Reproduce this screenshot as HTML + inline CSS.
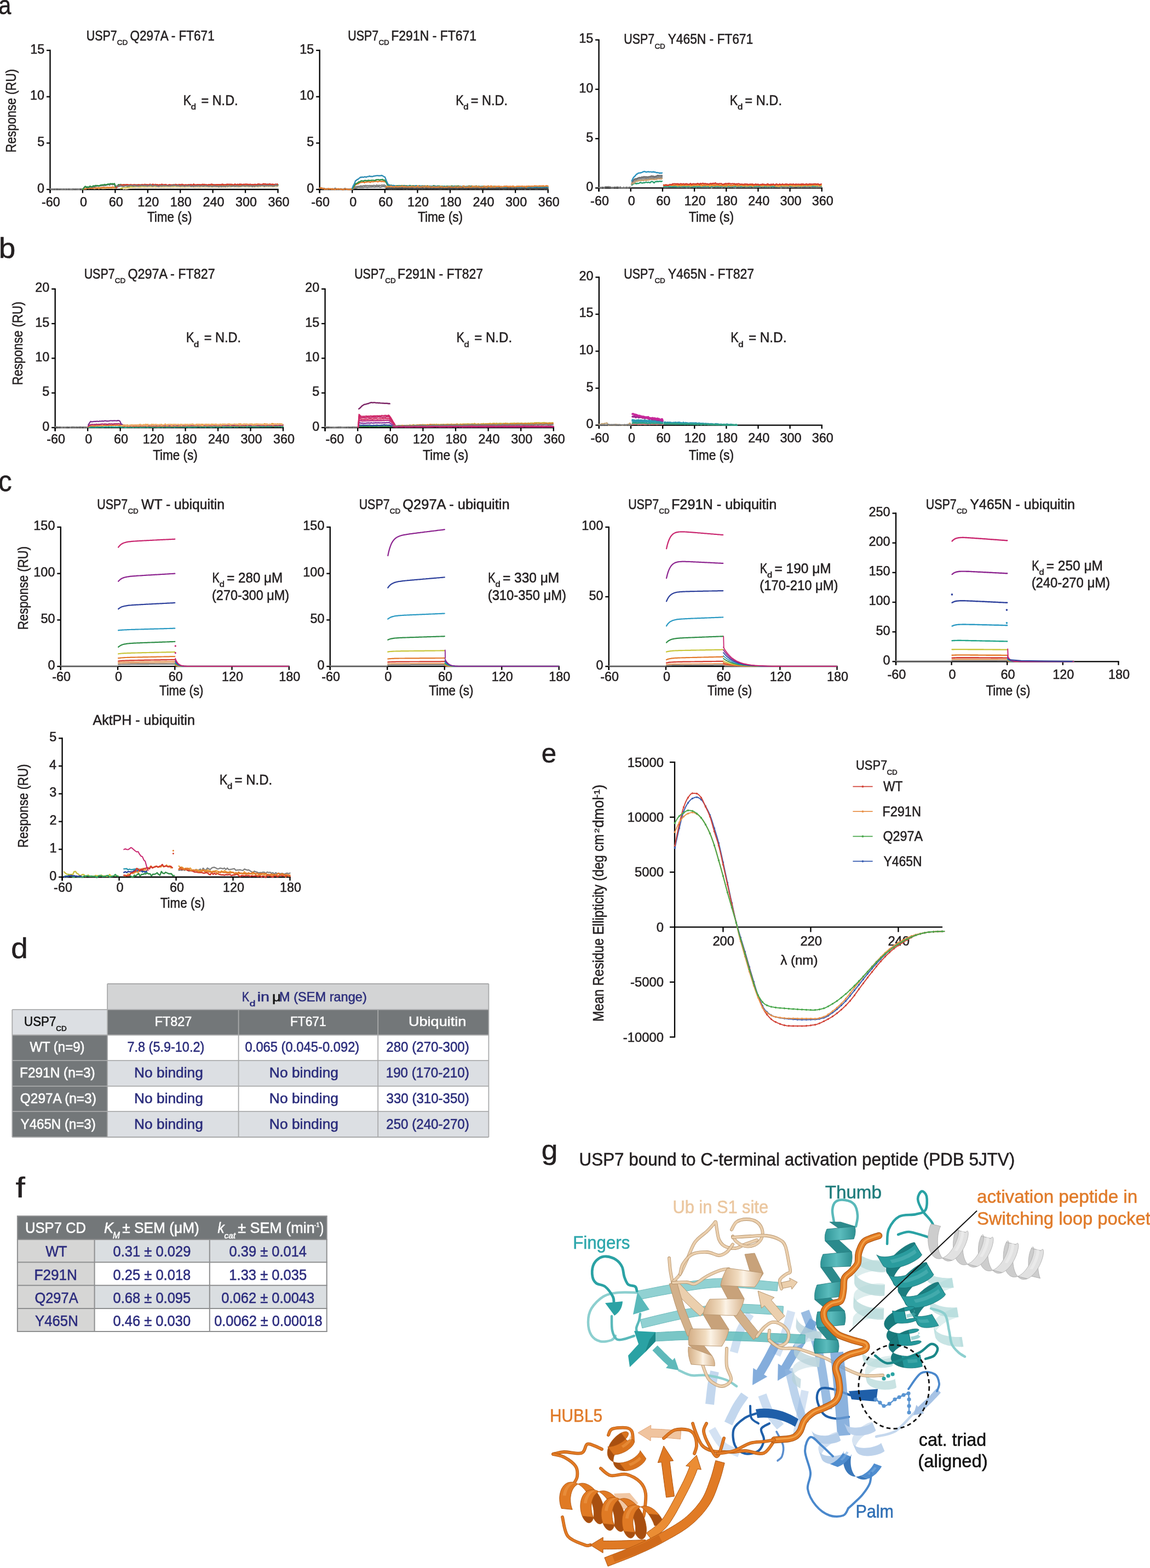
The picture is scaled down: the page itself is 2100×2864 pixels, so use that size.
<!DOCTYPE html><html><head><meta charset="utf-8"><style>html,body{margin:0;padding:0;background:#fff;}svg{display:block;}</style></head><body><svg width="2100" height="2864" viewBox="0 0 2100 2864" font-family="Liberation Sans, Arial, sans-serif">
<rect width="2100" height="2864" fill="#fff"/>
<text x="-2.76" y="26.20" font-size="49.00" textLength="23.06" lengthAdjust="spacingAndGlyphs" fill="#231f20" stroke="#231f20" stroke-width="0.55">a</text>
<text x="-2.24" y="471.00" font-size="52.00" textLength="30.55" lengthAdjust="spacingAndGlyphs" fill="#231f20" stroke="#231f20" stroke-width="0.55">b</text>
<text x="-3.10" y="897.00" font-size="51.00" textLength="24.70" lengthAdjust="spacingAndGlyphs" fill="#231f20" stroke="#231f20" stroke-width="0.55">c</text>
<text x="20.19" y="1749.60" font-size="52.70" textLength="30.55" lengthAdjust="spacingAndGlyphs" fill="#231f20" stroke="#231f20" stroke-width="0.55">d</text>
<text x="988.81" y="1393.40" font-size="50.00" textLength="27.38" lengthAdjust="spacingAndGlyphs" fill="#231f20" stroke="#231f20" stroke-width="0.55">e</text>
<text x="28.42" y="2187.00" font-size="52.00" textLength="17.29" lengthAdjust="spacingAndGlyphs" fill="#231f20" stroke="#231f20" stroke-width="0.55">f</text>
<text x="988.86" y="2117.50" font-size="50.00" textLength="29.68" lengthAdjust="spacingAndGlyphs" fill="#231f20" stroke="#231f20" stroke-width="0.55">g</text>
<line x1="91.50" y1="90.85" x2="91.50" y2="352.50" stroke="#000" stroke-width="2.3"/>
<line x1="90.35" y1="346.00" x2="508.65" y2="346.00" stroke="#000" stroke-width="2.3"/>
<line x1="85.00" y1="346.00" x2="91.50" y2="346.00" stroke="#000" stroke-width="2.3"/>
<text x="68.10" y="351.50" font-size="24.13" textLength="13.02" lengthAdjust="spacingAndGlyphs" fill="#231f20" stroke="#231f20" stroke-width="0.55">0</text>
<line x1="85.00" y1="261.33" x2="91.50" y2="261.33" stroke="#000" stroke-width="2.3"/>
<text x="68.17" y="266.83" font-size="24.13" textLength="13.02" lengthAdjust="spacingAndGlyphs" fill="#231f20" stroke="#231f20" stroke-width="0.55">5</text>
<line x1="85.00" y1="176.67" x2="91.50" y2="176.67" stroke="#000" stroke-width="2.3"/>
<text x="55.08" y="182.17" font-size="24.13" textLength="26.03" lengthAdjust="spacingAndGlyphs" fill="#231f20" stroke="#231f20" stroke-width="0.55">10</text>
<line x1="85.00" y1="92.00" x2="91.50" y2="92.00" stroke="#000" stroke-width="2.3"/>
<text x="55.15" y="97.50" font-size="24.13" textLength="26.03" lengthAdjust="spacingAndGlyphs" fill="#231f20" stroke="#231f20" stroke-width="0.55">15</text>
<line x1="91.50" y1="346.00" x2="91.50" y2="352.50" stroke="#000" stroke-width="2.3"/>
<text x="76.02" y="376.50" font-size="24.13" textLength="33.83" lengthAdjust="spacingAndGlyphs" fill="#231f20" stroke="#231f20" stroke-width="0.55">-60</text>
<line x1="150.93" y1="346.00" x2="150.93" y2="352.50" stroke="#000" stroke-width="2.3"/>
<text x="145.92" y="376.50" font-size="24.13" textLength="13.02" lengthAdjust="spacingAndGlyphs" fill="#231f20" stroke="#231f20" stroke-width="0.55">0</text>
<line x1="210.36" y1="346.00" x2="210.36" y2="352.50" stroke="#000" stroke-width="2.3"/>
<text x="198.70" y="376.50" font-size="24.13" textLength="26.03" lengthAdjust="spacingAndGlyphs" fill="#231f20" stroke="#231f20" stroke-width="0.55">60</text>
<line x1="269.79" y1="346.00" x2="269.79" y2="352.50" stroke="#000" stroke-width="2.3"/>
<text x="251.33" y="376.50" font-size="24.13" textLength="39.05" lengthAdjust="spacingAndGlyphs" fill="#231f20" stroke="#231f20" stroke-width="0.55">120</text>
<line x1="329.21" y1="346.00" x2="329.21" y2="352.50" stroke="#000" stroke-width="2.3"/>
<text x="310.76" y="376.50" font-size="24.13" textLength="39.05" lengthAdjust="spacingAndGlyphs" fill="#231f20" stroke="#231f20" stroke-width="0.55">180</text>
<line x1="388.64" y1="346.00" x2="388.64" y2="352.50" stroke="#000" stroke-width="2.3"/>
<text x="370.49" y="376.50" font-size="24.13" textLength="39.05" lengthAdjust="spacingAndGlyphs" fill="#231f20" stroke="#231f20" stroke-width="0.55">240</text>
<line x1="448.07" y1="346.00" x2="448.07" y2="352.50" stroke="#000" stroke-width="2.3"/>
<text x="430.06" y="376.50" font-size="24.13" textLength="39.05" lengthAdjust="spacingAndGlyphs" fill="#231f20" stroke="#231f20" stroke-width="0.55">300</text>
<line x1="507.50" y1="346.00" x2="507.50" y2="352.50" stroke="#000" stroke-width="2.3"/>
<text x="489.49" y="376.50" font-size="24.13" textLength="39.05" lengthAdjust="spacingAndGlyphs" fill="#231f20" stroke="#231f20" stroke-width="0.55">360</text>
<line x1="583.70" y1="90.85" x2="583.70" y2="352.50" stroke="#000" stroke-width="2.3"/>
<line x1="582.55" y1="346.00" x2="1001.85" y2="346.00" stroke="#000" stroke-width="2.3"/>
<line x1="577.20" y1="346.00" x2="583.70" y2="346.00" stroke="#000" stroke-width="2.3"/>
<text x="560.30" y="351.50" font-size="24.13" textLength="13.02" lengthAdjust="spacingAndGlyphs" fill="#231f20" stroke="#231f20" stroke-width="0.55">0</text>
<line x1="577.20" y1="261.33" x2="583.70" y2="261.33" stroke="#000" stroke-width="2.3"/>
<text x="560.37" y="266.83" font-size="24.13" textLength="13.02" lengthAdjust="spacingAndGlyphs" fill="#231f20" stroke="#231f20" stroke-width="0.55">5</text>
<line x1="577.20" y1="176.67" x2="583.70" y2="176.67" stroke="#000" stroke-width="2.3"/>
<text x="547.28" y="182.17" font-size="24.13" textLength="26.03" lengthAdjust="spacingAndGlyphs" fill="#231f20" stroke="#231f20" stroke-width="0.55">10</text>
<line x1="577.20" y1="92.00" x2="583.70" y2="92.00" stroke="#000" stroke-width="2.3"/>
<text x="547.35" y="97.50" font-size="24.13" textLength="26.03" lengthAdjust="spacingAndGlyphs" fill="#231f20" stroke="#231f20" stroke-width="0.55">15</text>
<line x1="583.70" y1="346.00" x2="583.70" y2="352.50" stroke="#000" stroke-width="2.3"/>
<text x="568.22" y="376.50" font-size="24.13" textLength="33.83" lengthAdjust="spacingAndGlyphs" fill="#231f20" stroke="#231f20" stroke-width="0.55">-60</text>
<line x1="643.27" y1="346.00" x2="643.27" y2="352.50" stroke="#000" stroke-width="2.3"/>
<text x="638.26" y="376.50" font-size="24.13" textLength="13.02" lengthAdjust="spacingAndGlyphs" fill="#231f20" stroke="#231f20" stroke-width="0.55">0</text>
<line x1="702.84" y1="346.00" x2="702.84" y2="352.50" stroke="#000" stroke-width="2.3"/>
<text x="691.19" y="376.50" font-size="24.13" textLength="26.03" lengthAdjust="spacingAndGlyphs" fill="#231f20" stroke="#231f20" stroke-width="0.55">60</text>
<line x1="762.41" y1="346.00" x2="762.41" y2="352.50" stroke="#000" stroke-width="2.3"/>
<text x="743.96" y="376.50" font-size="24.13" textLength="39.05" lengthAdjust="spacingAndGlyphs" fill="#231f20" stroke="#231f20" stroke-width="0.55">120</text>
<line x1="821.99" y1="346.00" x2="821.99" y2="352.50" stroke="#000" stroke-width="2.3"/>
<text x="803.53" y="376.50" font-size="24.13" textLength="39.05" lengthAdjust="spacingAndGlyphs" fill="#231f20" stroke="#231f20" stroke-width="0.55">180</text>
<line x1="881.56" y1="346.00" x2="881.56" y2="352.50" stroke="#000" stroke-width="2.3"/>
<text x="863.40" y="376.50" font-size="24.13" textLength="39.05" lengthAdjust="spacingAndGlyphs" fill="#231f20" stroke="#231f20" stroke-width="0.55">240</text>
<line x1="941.13" y1="346.00" x2="941.13" y2="352.50" stroke="#000" stroke-width="2.3"/>
<text x="923.12" y="376.50" font-size="24.13" textLength="39.05" lengthAdjust="spacingAndGlyphs" fill="#231f20" stroke="#231f20" stroke-width="0.55">300</text>
<line x1="1000.70" y1="346.00" x2="1000.70" y2="352.50" stroke="#000" stroke-width="2.3"/>
<text x="982.69" y="376.50" font-size="24.13" textLength="39.05" lengthAdjust="spacingAndGlyphs" fill="#231f20" stroke="#231f20" stroke-width="0.55">360</text>
<line x1="1093.60" y1="71.75" x2="1093.60" y2="349.90" stroke="#000" stroke-width="2.3"/>
<line x1="1092.45" y1="343.40" x2="1501.85" y2="343.40" stroke="#000" stroke-width="2.3"/>
<line x1="1087.10" y1="343.40" x2="1093.60" y2="343.40" stroke="#000" stroke-width="2.3"/>
<text x="1070.20" y="348.90" font-size="24.13" textLength="13.02" lengthAdjust="spacingAndGlyphs" fill="#231f20" stroke="#231f20" stroke-width="0.55">0</text>
<line x1="1087.10" y1="253.23" x2="1093.60" y2="253.23" stroke="#000" stroke-width="2.3"/>
<text x="1070.27" y="258.73" font-size="24.13" textLength="13.02" lengthAdjust="spacingAndGlyphs" fill="#231f20" stroke="#231f20" stroke-width="0.55">5</text>
<line x1="1087.10" y1="163.07" x2="1093.60" y2="163.07" stroke="#000" stroke-width="2.3"/>
<text x="1057.18" y="168.57" font-size="24.13" textLength="26.03" lengthAdjust="spacingAndGlyphs" fill="#231f20" stroke="#231f20" stroke-width="0.55">10</text>
<line x1="1087.10" y1="72.90" x2="1093.60" y2="72.90" stroke="#000" stroke-width="2.3"/>
<text x="1057.25" y="78.40" font-size="24.13" textLength="26.03" lengthAdjust="spacingAndGlyphs" fill="#231f20" stroke="#231f20" stroke-width="0.55">15</text>
<line x1="1093.60" y1="343.40" x2="1093.60" y2="349.90" stroke="#000" stroke-width="2.3"/>
<text x="1078.12" y="374.50" font-size="24.13" textLength="33.83" lengthAdjust="spacingAndGlyphs" fill="#231f20" stroke="#231f20" stroke-width="0.55">-60</text>
<line x1="1151.76" y1="343.40" x2="1151.76" y2="349.90" stroke="#000" stroke-width="2.3"/>
<text x="1146.75" y="374.50" font-size="24.13" textLength="13.02" lengthAdjust="spacingAndGlyphs" fill="#231f20" stroke="#231f20" stroke-width="0.55">0</text>
<line x1="1209.91" y1="343.40" x2="1209.91" y2="349.90" stroke="#000" stroke-width="2.3"/>
<text x="1198.26" y="374.50" font-size="24.13" textLength="26.03" lengthAdjust="spacingAndGlyphs" fill="#231f20" stroke="#231f20" stroke-width="0.55">60</text>
<line x1="1268.07" y1="343.40" x2="1268.07" y2="349.90" stroke="#000" stroke-width="2.3"/>
<text x="1249.61" y="374.50" font-size="24.13" textLength="39.05" lengthAdjust="spacingAndGlyphs" fill="#231f20" stroke="#231f20" stroke-width="0.55">120</text>
<line x1="1326.23" y1="343.40" x2="1326.23" y2="349.90" stroke="#000" stroke-width="2.3"/>
<text x="1307.77" y="374.50" font-size="24.13" textLength="39.05" lengthAdjust="spacingAndGlyphs" fill="#231f20" stroke="#231f20" stroke-width="0.55">180</text>
<line x1="1384.39" y1="343.40" x2="1384.39" y2="349.90" stroke="#000" stroke-width="2.3"/>
<text x="1366.23" y="374.50" font-size="24.13" textLength="39.05" lengthAdjust="spacingAndGlyphs" fill="#231f20" stroke="#231f20" stroke-width="0.55">240</text>
<line x1="1442.54" y1="343.40" x2="1442.54" y2="349.90" stroke="#000" stroke-width="2.3"/>
<text x="1424.53" y="374.50" font-size="24.13" textLength="39.05" lengthAdjust="spacingAndGlyphs" fill="#231f20" stroke="#231f20" stroke-width="0.55">300</text>
<line x1="1500.70" y1="343.40" x2="1500.70" y2="349.90" stroke="#000" stroke-width="2.3"/>
<text x="1482.69" y="374.50" font-size="24.13" textLength="39.05" lengthAdjust="spacingAndGlyphs" fill="#231f20" stroke="#231f20" stroke-width="0.55">360</text>
<text x="157.75" y="73.60" font-size="25.00" textLength="55.93" lengthAdjust="spacingAndGlyphs" fill="#231f20" stroke="#231f20" stroke-width="0.55">USP7</text>
<text x="213.82" y="81.80" font-size="13.23" textLength="19.43" lengthAdjust="spacingAndGlyphs" fill="#231f20" stroke="#231f20" stroke-width="0.55">CD</text>
<text x="237.54" y="73.60" font-size="25.00" textLength="154.15" lengthAdjust="spacingAndGlyphs" fill="#231f20" stroke="#231f20" stroke-width="0.55">Q297A - FT671</text>
<text x="635.35" y="74.00" font-size="25.00" textLength="55.93" lengthAdjust="spacingAndGlyphs" fill="#231f20" stroke="#231f20" stroke-width="0.55">USP7</text>
<text x="691.42" y="82.20" font-size="13.23" textLength="19.43" lengthAdjust="spacingAndGlyphs" fill="#231f20" stroke="#231f20" stroke-width="0.55">CD</text>
<text x="714.31" y="74.00" font-size="25.00" textLength="155.81" lengthAdjust="spacingAndGlyphs" fill="#231f20" stroke="#231f20" stroke-width="0.55">F291N - FT671</text>
<text x="1139.35" y="80.30" font-size="25.00" textLength="55.93" lengthAdjust="spacingAndGlyphs" fill="#231f20" stroke="#231f20" stroke-width="0.55">USP7</text>
<text x="1195.42" y="88.50" font-size="13.23" textLength="19.43" lengthAdjust="spacingAndGlyphs" fill="#231f20" stroke="#231f20" stroke-width="0.55">CD</text>
<text x="1219.70" y="80.30" font-size="25.00" textLength="155.41" lengthAdjust="spacingAndGlyphs" fill="#231f20" stroke="#231f20" stroke-width="0.55">Y465N - FT671</text>
<text x="334.71" y="191.50" font-size="25.44" textLength="14.53" lengthAdjust="spacingAndGlyphs" fill="#231f20" stroke="#231f20" stroke-width="0.55">K</text>
<text x="348.80" y="200.30" font-size="15.41" textLength="9.28" lengthAdjust="spacingAndGlyphs" fill="#231f20" stroke="#231f20" stroke-width="0.55">d</text>
<text x="367.45" y="191.50" font-size="25.44" textLength="67.19" lengthAdjust="spacingAndGlyphs" fill="#231f20" stroke="#231f20" stroke-width="0.55">= N.D.</text>
<text x="832.21" y="191.50" font-size="25.44" textLength="14.53" lengthAdjust="spacingAndGlyphs" fill="#231f20" stroke="#231f20" stroke-width="0.55">K</text>
<text x="846.30" y="200.30" font-size="15.41" textLength="9.28" lengthAdjust="spacingAndGlyphs" fill="#231f20" stroke="#231f20" stroke-width="0.55">d</text>
<text x="859.75" y="191.50" font-size="25.44" textLength="67.40" lengthAdjust="spacingAndGlyphs" fill="#231f20" stroke="#231f20" stroke-width="0.55">= N.D.</text>
<text x="1332.81" y="191.50" font-size="25.44" textLength="14.53" lengthAdjust="spacingAndGlyphs" fill="#231f20" stroke="#231f20" stroke-width="0.55">K</text>
<text x="1346.90" y="200.30" font-size="15.41" textLength="9.28" lengthAdjust="spacingAndGlyphs" fill="#231f20" stroke="#231f20" stroke-width="0.55">d</text>
<text x="1360.35" y="191.50" font-size="25.44" textLength="67.61" lengthAdjust="spacingAndGlyphs" fill="#231f20" stroke="#231f20" stroke-width="0.55">= N.D.</text>
<text x="269.00" y="405.00" font-size="25.29" textLength="81.38" lengthAdjust="spacingAndGlyphs" fill="#231f20" stroke="#231f20" stroke-width="0.55">Time (s)</text>
<text x="762.90" y="405.00" font-size="25.29" textLength="82.19" lengthAdjust="spacingAndGlyphs" fill="#231f20" stroke="#231f20" stroke-width="0.55">Time (s)</text>
<text x="1257.80" y="405.00" font-size="25.29" textLength="82.19" lengthAdjust="spacingAndGlyphs" fill="#231f20" stroke="#231f20" stroke-width="0.55">Time (s)</text>
<g transform="rotate(-90)"><text x="-278.41" y="29.40" font-size="26.16" textLength="152.28" lengthAdjust="spacingAndGlyphs" fill="#231f20" stroke="#231f20" stroke-width="0.55">Response (RU)</text></g>
<line x1="100.70" y1="526.65" x2="100.70" y2="787.50" stroke="#000" stroke-width="2.3"/>
<line x1="99.55" y1="781.00" x2="518.15" y2="781.00" stroke="#000" stroke-width="2.3"/>
<line x1="94.20" y1="781.00" x2="100.70" y2="781.00" stroke="#000" stroke-width="2.3"/>
<text x="77.30" y="786.50" font-size="24.13" textLength="13.02" lengthAdjust="spacingAndGlyphs" fill="#231f20" stroke="#231f20" stroke-width="0.55">0</text>
<line x1="94.20" y1="717.70" x2="100.70" y2="717.70" stroke="#000" stroke-width="2.3"/>
<text x="77.37" y="723.20" font-size="24.13" textLength="13.02" lengthAdjust="spacingAndGlyphs" fill="#231f20" stroke="#231f20" stroke-width="0.55">5</text>
<line x1="94.20" y1="654.40" x2="100.70" y2="654.40" stroke="#000" stroke-width="2.3"/>
<text x="64.28" y="659.90" font-size="24.13" textLength="26.03" lengthAdjust="spacingAndGlyphs" fill="#231f20" stroke="#231f20" stroke-width="0.55">10</text>
<line x1="94.20" y1="591.10" x2="100.70" y2="591.10" stroke="#000" stroke-width="2.3"/>
<text x="64.35" y="596.60" font-size="24.13" textLength="26.03" lengthAdjust="spacingAndGlyphs" fill="#231f20" stroke="#231f20" stroke-width="0.55">15</text>
<line x1="94.20" y1="527.80" x2="100.70" y2="527.80" stroke="#000" stroke-width="2.3"/>
<text x="64.28" y="533.30" font-size="24.13" textLength="26.03" lengthAdjust="spacingAndGlyphs" fill="#231f20" stroke="#231f20" stroke-width="0.55">20</text>
<line x1="100.70" y1="781.00" x2="100.70" y2="787.50" stroke="#000" stroke-width="2.3"/>
<text x="85.22" y="809.50" font-size="24.13" textLength="33.83" lengthAdjust="spacingAndGlyphs" fill="#231f20" stroke="#231f20" stroke-width="0.55">-60</text>
<line x1="160.17" y1="781.00" x2="160.17" y2="787.50" stroke="#000" stroke-width="2.3"/>
<text x="155.16" y="809.50" font-size="24.13" textLength="13.02" lengthAdjust="spacingAndGlyphs" fill="#231f20" stroke="#231f20" stroke-width="0.55">0</text>
<line x1="219.64" y1="781.00" x2="219.64" y2="787.50" stroke="#000" stroke-width="2.3"/>
<text x="207.99" y="809.50" font-size="24.13" textLength="26.03" lengthAdjust="spacingAndGlyphs" fill="#231f20" stroke="#231f20" stroke-width="0.55">60</text>
<line x1="279.11" y1="781.00" x2="279.11" y2="787.50" stroke="#000" stroke-width="2.3"/>
<text x="260.66" y="809.50" font-size="24.13" textLength="39.05" lengthAdjust="spacingAndGlyphs" fill="#231f20" stroke="#231f20" stroke-width="0.55">120</text>
<line x1="338.59" y1="781.00" x2="338.59" y2="787.50" stroke="#000" stroke-width="2.3"/>
<text x="320.13" y="809.50" font-size="24.13" textLength="39.05" lengthAdjust="spacingAndGlyphs" fill="#231f20" stroke="#231f20" stroke-width="0.55">180</text>
<line x1="398.06" y1="781.00" x2="398.06" y2="787.50" stroke="#000" stroke-width="2.3"/>
<text x="379.90" y="809.50" font-size="24.13" textLength="39.05" lengthAdjust="spacingAndGlyphs" fill="#231f20" stroke="#231f20" stroke-width="0.55">240</text>
<line x1="457.53" y1="781.00" x2="457.53" y2="787.50" stroke="#000" stroke-width="2.3"/>
<text x="439.52" y="809.50" font-size="24.13" textLength="39.05" lengthAdjust="spacingAndGlyphs" fill="#231f20" stroke="#231f20" stroke-width="0.55">300</text>
<line x1="517.00" y1="781.00" x2="517.00" y2="787.50" stroke="#000" stroke-width="2.3"/>
<text x="498.99" y="809.50" font-size="24.13" textLength="39.05" lengthAdjust="spacingAndGlyphs" fill="#231f20" stroke="#231f20" stroke-width="0.55">360</text>
<line x1="593.60" y1="526.65" x2="593.60" y2="787.50" stroke="#000" stroke-width="2.3"/>
<line x1="592.45" y1="781.00" x2="1011.95" y2="781.00" stroke="#000" stroke-width="2.3"/>
<line x1="587.10" y1="781.00" x2="593.60" y2="781.00" stroke="#000" stroke-width="2.3"/>
<text x="570.20" y="786.50" font-size="24.13" textLength="13.02" lengthAdjust="spacingAndGlyphs" fill="#231f20" stroke="#231f20" stroke-width="0.55">0</text>
<line x1="587.10" y1="717.70" x2="593.60" y2="717.70" stroke="#000" stroke-width="2.3"/>
<text x="570.27" y="723.20" font-size="24.13" textLength="13.02" lengthAdjust="spacingAndGlyphs" fill="#231f20" stroke="#231f20" stroke-width="0.55">5</text>
<line x1="587.10" y1="654.40" x2="593.60" y2="654.40" stroke="#000" stroke-width="2.3"/>
<text x="557.18" y="659.90" font-size="24.13" textLength="26.03" lengthAdjust="spacingAndGlyphs" fill="#231f20" stroke="#231f20" stroke-width="0.55">10</text>
<line x1="587.10" y1="591.10" x2="593.60" y2="591.10" stroke="#000" stroke-width="2.3"/>
<text x="557.25" y="596.60" font-size="24.13" textLength="26.03" lengthAdjust="spacingAndGlyphs" fill="#231f20" stroke="#231f20" stroke-width="0.55">15</text>
<line x1="587.10" y1="527.80" x2="593.60" y2="527.80" stroke="#000" stroke-width="2.3"/>
<text x="557.18" y="533.30" font-size="24.13" textLength="26.03" lengthAdjust="spacingAndGlyphs" fill="#231f20" stroke="#231f20" stroke-width="0.55">20</text>
<line x1="593.60" y1="781.00" x2="593.60" y2="787.50" stroke="#000" stroke-width="2.3"/>
<text x="594.52" y="809.50" font-size="24.13" textLength="33.83" lengthAdjust="spacingAndGlyphs" fill="#231f20" stroke="#231f20" stroke-width="0.55">-60</text>
<line x1="653.20" y1="781.00" x2="653.20" y2="787.50" stroke="#000" stroke-width="2.3"/>
<text x="648.19" y="809.50" font-size="24.13" textLength="13.02" lengthAdjust="spacingAndGlyphs" fill="#231f20" stroke="#231f20" stroke-width="0.55">0</text>
<line x1="712.80" y1="781.00" x2="712.80" y2="787.50" stroke="#000" stroke-width="2.3"/>
<text x="701.15" y="809.50" font-size="24.13" textLength="26.03" lengthAdjust="spacingAndGlyphs" fill="#231f20" stroke="#231f20" stroke-width="0.55">60</text>
<line x1="772.40" y1="781.00" x2="772.40" y2="787.50" stroke="#000" stroke-width="2.3"/>
<text x="753.94" y="809.50" font-size="24.13" textLength="39.05" lengthAdjust="spacingAndGlyphs" fill="#231f20" stroke="#231f20" stroke-width="0.55">120</text>
<line x1="832.00" y1="781.00" x2="832.00" y2="787.50" stroke="#000" stroke-width="2.3"/>
<text x="813.54" y="809.50" font-size="24.13" textLength="39.05" lengthAdjust="spacingAndGlyphs" fill="#231f20" stroke="#231f20" stroke-width="0.55">180</text>
<line x1="891.60" y1="781.00" x2="891.60" y2="787.50" stroke="#000" stroke-width="2.3"/>
<text x="873.44" y="809.50" font-size="24.13" textLength="39.05" lengthAdjust="spacingAndGlyphs" fill="#231f20" stroke="#231f20" stroke-width="0.55">240</text>
<line x1="951.20" y1="781.00" x2="951.20" y2="787.50" stroke="#000" stroke-width="2.3"/>
<text x="933.19" y="809.50" font-size="24.13" textLength="39.05" lengthAdjust="spacingAndGlyphs" fill="#231f20" stroke="#231f20" stroke-width="0.55">300</text>
<line x1="1010.80" y1="781.00" x2="1010.80" y2="787.50" stroke="#000" stroke-width="2.3"/>
<text x="992.79" y="809.50" font-size="24.13" textLength="39.05" lengthAdjust="spacingAndGlyphs" fill="#231f20" stroke="#231f20" stroke-width="0.55">360</text>
<line x1="1093.90" y1="505.25" x2="1093.90" y2="783.10" stroke="#000" stroke-width="2.3"/>
<line x1="1092.75" y1="776.60" x2="1501.85" y2="776.60" stroke="#000" stroke-width="2.3"/>
<line x1="1087.40" y1="776.60" x2="1093.90" y2="776.60" stroke="#000" stroke-width="2.3"/>
<text x="1070.50" y="782.10" font-size="24.13" textLength="13.02" lengthAdjust="spacingAndGlyphs" fill="#231f20" stroke="#231f20" stroke-width="0.55">0</text>
<line x1="1087.40" y1="709.05" x2="1093.90" y2="709.05" stroke="#000" stroke-width="2.3"/>
<text x="1070.57" y="714.55" font-size="24.13" textLength="13.02" lengthAdjust="spacingAndGlyphs" fill="#231f20" stroke="#231f20" stroke-width="0.55">5</text>
<line x1="1087.40" y1="641.50" x2="1093.90" y2="641.50" stroke="#000" stroke-width="2.3"/>
<text x="1057.48" y="647.00" font-size="24.13" textLength="26.03" lengthAdjust="spacingAndGlyphs" fill="#231f20" stroke="#231f20" stroke-width="0.55">10</text>
<line x1="1087.40" y1="573.95" x2="1093.90" y2="573.95" stroke="#000" stroke-width="2.3"/>
<text x="1057.55" y="579.45" font-size="24.13" textLength="26.03" lengthAdjust="spacingAndGlyphs" fill="#231f20" stroke="#231f20" stroke-width="0.55">15</text>
<line x1="1087.40" y1="506.40" x2="1093.90" y2="506.40" stroke="#000" stroke-width="2.3"/>
<text x="1057.48" y="511.90" font-size="24.13" textLength="26.03" lengthAdjust="spacingAndGlyphs" fill="#231f20" stroke="#231f20" stroke-width="0.55">20</text>
<line x1="1093.90" y1="776.60" x2="1093.90" y2="783.10" stroke="#000" stroke-width="2.3"/>
<text x="1078.42" y="808.00" font-size="24.13" textLength="33.83" lengthAdjust="spacingAndGlyphs" fill="#231f20" stroke="#231f20" stroke-width="0.55">-60</text>
<line x1="1152.01" y1="776.60" x2="1152.01" y2="783.10" stroke="#000" stroke-width="2.3"/>
<text x="1147.01" y="808.00" font-size="24.13" textLength="13.02" lengthAdjust="spacingAndGlyphs" fill="#231f20" stroke="#231f20" stroke-width="0.55">0</text>
<line x1="1210.13" y1="776.60" x2="1210.13" y2="783.10" stroke="#000" stroke-width="2.3"/>
<text x="1198.47" y="808.00" font-size="24.13" textLength="26.03" lengthAdjust="spacingAndGlyphs" fill="#231f20" stroke="#231f20" stroke-width="0.55">60</text>
<line x1="1268.24" y1="776.60" x2="1268.24" y2="783.10" stroke="#000" stroke-width="2.3"/>
<text x="1249.78" y="808.00" font-size="24.13" textLength="39.05" lengthAdjust="spacingAndGlyphs" fill="#231f20" stroke="#231f20" stroke-width="0.55">120</text>
<line x1="1326.36" y1="776.60" x2="1326.36" y2="783.10" stroke="#000" stroke-width="2.3"/>
<text x="1307.90" y="808.00" font-size="24.13" textLength="39.05" lengthAdjust="spacingAndGlyphs" fill="#231f20" stroke="#231f20" stroke-width="0.55">180</text>
<line x1="1384.47" y1="776.60" x2="1384.47" y2="783.10" stroke="#000" stroke-width="2.3"/>
<text x="1366.32" y="808.00" font-size="24.13" textLength="39.05" lengthAdjust="spacingAndGlyphs" fill="#231f20" stroke="#231f20" stroke-width="0.55">240</text>
<line x1="1442.59" y1="776.60" x2="1442.59" y2="783.10" stroke="#000" stroke-width="2.3"/>
<text x="1424.57" y="808.00" font-size="24.13" textLength="39.05" lengthAdjust="spacingAndGlyphs" fill="#231f20" stroke="#231f20" stroke-width="0.55">300</text>
<line x1="1500.70" y1="776.60" x2="1500.70" y2="783.10" stroke="#000" stroke-width="2.3"/>
<text x="1482.69" y="808.00" font-size="24.13" textLength="39.05" lengthAdjust="spacingAndGlyphs" fill="#231f20" stroke="#231f20" stroke-width="0.55">360</text>
<text x="153.65" y="508.80" font-size="25.00" textLength="55.93" lengthAdjust="spacingAndGlyphs" fill="#231f20" stroke="#231f20" stroke-width="0.55">USP7</text>
<text x="209.72" y="517.00" font-size="13.23" textLength="19.43" lengthAdjust="spacingAndGlyphs" fill="#231f20" stroke="#231f20" stroke-width="0.55">CD</text>
<text x="233.41" y="508.80" font-size="25.00" textLength="159.26" lengthAdjust="spacingAndGlyphs" fill="#231f20" stroke="#231f20" stroke-width="0.55">Q297A - FT827</text>
<text x="647.15" y="508.80" font-size="25.00" textLength="55.93" lengthAdjust="spacingAndGlyphs" fill="#231f20" stroke="#231f20" stroke-width="0.55">USP7</text>
<text x="703.22" y="517.00" font-size="13.23" textLength="19.43" lengthAdjust="spacingAndGlyphs" fill="#231f20" stroke="#231f20" stroke-width="0.55">CD</text>
<text x="726.11" y="508.80" font-size="25.00" textLength="156.05" lengthAdjust="spacingAndGlyphs" fill="#231f20" stroke="#231f20" stroke-width="0.55">F291N - FT827</text>
<text x="1139.35" y="508.80" font-size="25.00" textLength="55.93" lengthAdjust="spacingAndGlyphs" fill="#231f20" stroke="#231f20" stroke-width="0.55">USP7</text>
<text x="1195.42" y="517.00" font-size="13.23" textLength="19.43" lengthAdjust="spacingAndGlyphs" fill="#231f20" stroke="#231f20" stroke-width="0.55">CD</text>
<text x="1219.69" y="508.80" font-size="25.00" textLength="157.46" lengthAdjust="spacingAndGlyphs" fill="#231f20" stroke="#231f20" stroke-width="0.55">Y465N - FT827</text>
<text x="339.91" y="625.00" font-size="25.44" textLength="14.53" lengthAdjust="spacingAndGlyphs" fill="#231f20" stroke="#231f20" stroke-width="0.55">K</text>
<text x="354.00" y="633.80" font-size="15.41" textLength="9.28" lengthAdjust="spacingAndGlyphs" fill="#231f20" stroke="#231f20" stroke-width="0.55">d</text>
<text x="372.65" y="625.00" font-size="25.44" textLength="67.51" lengthAdjust="spacingAndGlyphs" fill="#231f20" stroke="#231f20" stroke-width="0.55">= N.D.</text>
<text x="833.51" y="625.00" font-size="25.44" textLength="14.53" lengthAdjust="spacingAndGlyphs" fill="#231f20" stroke="#231f20" stroke-width="0.55">K</text>
<text x="847.60" y="633.80" font-size="15.41" textLength="9.28" lengthAdjust="spacingAndGlyphs" fill="#231f20" stroke="#231f20" stroke-width="0.55">d</text>
<text x="866.22" y="625.00" font-size="25.44" textLength="68.87" lengthAdjust="spacingAndGlyphs" fill="#231f20" stroke="#231f20" stroke-width="0.55">= N.D.</text>
<text x="1334.21" y="625.00" font-size="25.44" textLength="14.53" lengthAdjust="spacingAndGlyphs" fill="#231f20" stroke="#231f20" stroke-width="0.55">K</text>
<text x="1348.30" y="633.80" font-size="15.41" textLength="9.28" lengthAdjust="spacingAndGlyphs" fill="#231f20" stroke="#231f20" stroke-width="0.55">d</text>
<text x="1366.91" y="625.00" font-size="25.44" textLength="69.50" lengthAdjust="spacingAndGlyphs" fill="#231f20" stroke="#231f20" stroke-width="0.55">= N.D.</text>
<text x="279.20" y="840.30" font-size="25.29" textLength="81.48" lengthAdjust="spacingAndGlyphs" fill="#231f20" stroke="#231f20" stroke-width="0.55">Time (s)</text>
<text x="771.99" y="840.30" font-size="25.29" textLength="83.32" lengthAdjust="spacingAndGlyphs" fill="#231f20" stroke="#231f20" stroke-width="0.55">Time (s)</text>
<text x="1257.80" y="840.30" font-size="25.29" textLength="82.19" lengthAdjust="spacingAndGlyphs" fill="#231f20" stroke="#231f20" stroke-width="0.55">Time (s)</text>
<g transform="rotate(-90)"><text x="-703.21" y="41.00" font-size="26.16" textLength="152.39" lengthAdjust="spacingAndGlyphs" fill="#231f20" stroke="#231f20" stroke-width="0.55">Response (RU)</text></g>
<line x1="110.80" y1="961.65" x2="110.80" y2="1223.70" stroke="#000" stroke-width="2.3"/>
<line x1="109.65" y1="1217.20" x2="528.95" y2="1217.20" stroke="#000" stroke-width="2.3"/>
<line x1="104.30" y1="1217.20" x2="110.80" y2="1217.20" stroke="#000" stroke-width="2.3"/>
<text x="87.40" y="1222.70" font-size="24.13" textLength="13.02" lengthAdjust="spacingAndGlyphs" fill="#231f20" stroke="#231f20" stroke-width="0.55">0</text>
<line x1="104.30" y1="1132.40" x2="110.80" y2="1132.40" stroke="#000" stroke-width="2.3"/>
<text x="74.38" y="1137.90" font-size="24.13" textLength="26.03" lengthAdjust="spacingAndGlyphs" fill="#231f20" stroke="#231f20" stroke-width="0.55">50</text>
<line x1="104.30" y1="1047.60" x2="110.80" y2="1047.60" stroke="#000" stroke-width="2.3"/>
<text x="61.36" y="1053.10" font-size="24.13" textLength="39.05" lengthAdjust="spacingAndGlyphs" fill="#231f20" stroke="#231f20" stroke-width="0.55">100</text>
<line x1="104.30" y1="962.80" x2="110.80" y2="962.80" stroke="#000" stroke-width="2.3"/>
<text x="61.36" y="968.30" font-size="24.13" textLength="39.05" lengthAdjust="spacingAndGlyphs" fill="#231f20" stroke="#231f20" stroke-width="0.55">150</text>
<line x1="110.80" y1="1217.20" x2="110.80" y2="1223.70" stroke="#000" stroke-width="2.3"/>
<text x="95.32" y="1243.50" font-size="24.13" textLength="33.83" lengthAdjust="spacingAndGlyphs" fill="#231f20" stroke="#231f20" stroke-width="0.55">-60</text>
<line x1="215.05" y1="1217.20" x2="215.05" y2="1223.70" stroke="#000" stroke-width="2.3"/>
<text x="210.04" y="1243.50" font-size="24.13" textLength="13.02" lengthAdjust="spacingAndGlyphs" fill="#231f20" stroke="#231f20" stroke-width="0.55">0</text>
<line x1="319.30" y1="1217.20" x2="319.30" y2="1223.70" stroke="#000" stroke-width="2.3"/>
<text x="307.65" y="1243.50" font-size="24.13" textLength="26.03" lengthAdjust="spacingAndGlyphs" fill="#231f20" stroke="#231f20" stroke-width="0.55">60</text>
<line x1="423.55" y1="1217.20" x2="423.55" y2="1223.70" stroke="#000" stroke-width="2.3"/>
<text x="405.09" y="1243.50" font-size="24.13" textLength="39.05" lengthAdjust="spacingAndGlyphs" fill="#231f20" stroke="#231f20" stroke-width="0.55">120</text>
<line x1="527.80" y1="1217.20" x2="527.80" y2="1223.70" stroke="#000" stroke-width="2.3"/>
<text x="509.34" y="1243.50" font-size="24.13" textLength="39.05" lengthAdjust="spacingAndGlyphs" fill="#231f20" stroke="#231f20" stroke-width="0.55">180</text>
<line x1="602.80" y1="961.65" x2="602.80" y2="1223.70" stroke="#000" stroke-width="2.3"/>
<line x1="601.65" y1="1217.20" x2="1021.85" y2="1217.20" stroke="#000" stroke-width="2.3"/>
<line x1="596.30" y1="1217.20" x2="602.80" y2="1217.20" stroke="#000" stroke-width="2.3"/>
<text x="579.40" y="1222.70" font-size="24.13" textLength="13.02" lengthAdjust="spacingAndGlyphs" fill="#231f20" stroke="#231f20" stroke-width="0.55">0</text>
<line x1="596.30" y1="1132.40" x2="602.80" y2="1132.40" stroke="#000" stroke-width="2.3"/>
<text x="566.38" y="1137.90" font-size="24.13" textLength="26.03" lengthAdjust="spacingAndGlyphs" fill="#231f20" stroke="#231f20" stroke-width="0.55">50</text>
<line x1="596.30" y1="1047.60" x2="602.80" y2="1047.60" stroke="#000" stroke-width="2.3"/>
<text x="553.36" y="1053.10" font-size="24.13" textLength="39.05" lengthAdjust="spacingAndGlyphs" fill="#231f20" stroke="#231f20" stroke-width="0.55">100</text>
<line x1="596.30" y1="962.80" x2="602.80" y2="962.80" stroke="#000" stroke-width="2.3"/>
<text x="553.36" y="968.30" font-size="24.13" textLength="39.05" lengthAdjust="spacingAndGlyphs" fill="#231f20" stroke="#231f20" stroke-width="0.55">150</text>
<line x1="602.80" y1="1217.20" x2="602.80" y2="1223.70" stroke="#000" stroke-width="2.3"/>
<text x="587.32" y="1243.50" font-size="24.13" textLength="33.83" lengthAdjust="spacingAndGlyphs" fill="#231f20" stroke="#231f20" stroke-width="0.55">-60</text>
<line x1="707.27" y1="1217.20" x2="707.27" y2="1223.70" stroke="#000" stroke-width="2.3"/>
<text x="702.27" y="1243.50" font-size="24.13" textLength="13.02" lengthAdjust="spacingAndGlyphs" fill="#231f20" stroke="#231f20" stroke-width="0.55">0</text>
<line x1="811.75" y1="1217.20" x2="811.75" y2="1223.70" stroke="#000" stroke-width="2.3"/>
<text x="800.10" y="1243.50" font-size="24.13" textLength="26.03" lengthAdjust="spacingAndGlyphs" fill="#231f20" stroke="#231f20" stroke-width="0.55">60</text>
<line x1="916.23" y1="1217.20" x2="916.23" y2="1223.70" stroke="#000" stroke-width="2.3"/>
<text x="897.77" y="1243.50" font-size="24.13" textLength="39.05" lengthAdjust="spacingAndGlyphs" fill="#231f20" stroke="#231f20" stroke-width="0.55">120</text>
<line x1="1020.70" y1="1217.20" x2="1020.70" y2="1223.70" stroke="#000" stroke-width="2.3"/>
<text x="1002.24" y="1243.50" font-size="24.13" textLength="39.05" lengthAdjust="spacingAndGlyphs" fill="#231f20" stroke="#231f20" stroke-width="0.55">180</text>
<line x1="1111.80" y1="961.65" x2="1111.80" y2="1223.70" stroke="#000" stroke-width="2.3"/>
<line x1="1110.65" y1="1217.20" x2="1529.65" y2="1217.20" stroke="#000" stroke-width="2.3"/>
<line x1="1105.30" y1="1217.20" x2="1111.80" y2="1217.20" stroke="#000" stroke-width="2.3"/>
<text x="1088.40" y="1222.70" font-size="24.13" textLength="13.02" lengthAdjust="spacingAndGlyphs" fill="#231f20" stroke="#231f20" stroke-width="0.55">0</text>
<line x1="1105.30" y1="1090.00" x2="1111.80" y2="1090.00" stroke="#000" stroke-width="2.3"/>
<text x="1075.38" y="1095.50" font-size="24.13" textLength="26.03" lengthAdjust="spacingAndGlyphs" fill="#231f20" stroke="#231f20" stroke-width="0.55">50</text>
<line x1="1105.30" y1="962.80" x2="1111.80" y2="962.80" stroke="#000" stroke-width="2.3"/>
<text x="1062.36" y="968.30" font-size="24.13" textLength="39.05" lengthAdjust="spacingAndGlyphs" fill="#231f20" stroke="#231f20" stroke-width="0.55">100</text>
<line x1="1111.80" y1="1217.20" x2="1111.80" y2="1223.70" stroke="#000" stroke-width="2.3"/>
<text x="1096.32" y="1243.50" font-size="24.13" textLength="33.83" lengthAdjust="spacingAndGlyphs" fill="#231f20" stroke="#231f20" stroke-width="0.55">-60</text>
<line x1="1215.97" y1="1217.20" x2="1215.97" y2="1223.70" stroke="#000" stroke-width="2.3"/>
<text x="1210.97" y="1243.50" font-size="24.13" textLength="13.02" lengthAdjust="spacingAndGlyphs" fill="#231f20" stroke="#231f20" stroke-width="0.55">0</text>
<line x1="1320.15" y1="1217.20" x2="1320.15" y2="1223.70" stroke="#000" stroke-width="2.3"/>
<text x="1308.50" y="1243.50" font-size="24.13" textLength="26.03" lengthAdjust="spacingAndGlyphs" fill="#231f20" stroke="#231f20" stroke-width="0.55">60</text>
<line x1="1424.33" y1="1217.20" x2="1424.33" y2="1223.70" stroke="#000" stroke-width="2.3"/>
<text x="1405.87" y="1243.50" font-size="24.13" textLength="39.05" lengthAdjust="spacingAndGlyphs" fill="#231f20" stroke="#231f20" stroke-width="0.55">120</text>
<line x1="1528.50" y1="1217.20" x2="1528.50" y2="1223.70" stroke="#000" stroke-width="2.3"/>
<text x="1510.04" y="1243.50" font-size="24.13" textLength="39.05" lengthAdjust="spacingAndGlyphs" fill="#231f20" stroke="#231f20" stroke-width="0.55">180</text>
<line x1="1636.00" y1="936.35" x2="1636.00" y2="1214.80" stroke="#000" stroke-width="2.3"/>
<line x1="1634.85" y1="1208.30" x2="2043.55" y2="1208.30" stroke="#000" stroke-width="2.3"/>
<line x1="1629.50" y1="1208.30" x2="1636.00" y2="1208.30" stroke="#000" stroke-width="2.3"/>
<text x="1612.60" y="1213.80" font-size="24.13" textLength="13.02" lengthAdjust="spacingAndGlyphs" fill="#231f20" stroke="#231f20" stroke-width="0.55">0</text>
<line x1="1629.50" y1="1154.14" x2="1636.00" y2="1154.14" stroke="#000" stroke-width="2.3"/>
<text x="1599.58" y="1159.64" font-size="24.13" textLength="26.03" lengthAdjust="spacingAndGlyphs" fill="#231f20" stroke="#231f20" stroke-width="0.55">50</text>
<line x1="1629.50" y1="1099.98" x2="1636.00" y2="1099.98" stroke="#000" stroke-width="2.3"/>
<text x="1586.56" y="1105.48" font-size="24.13" textLength="39.05" lengthAdjust="spacingAndGlyphs" fill="#231f20" stroke="#231f20" stroke-width="0.55">100</text>
<line x1="1629.50" y1="1045.82" x2="1636.00" y2="1045.82" stroke="#000" stroke-width="2.3"/>
<text x="1586.56" y="1051.32" font-size="24.13" textLength="39.05" lengthAdjust="spacingAndGlyphs" fill="#231f20" stroke="#231f20" stroke-width="0.55">150</text>
<line x1="1629.50" y1="991.66" x2="1636.00" y2="991.66" stroke="#000" stroke-width="2.3"/>
<text x="1586.56" y="997.16" font-size="24.13" textLength="39.05" lengthAdjust="spacingAndGlyphs" fill="#231f20" stroke="#231f20" stroke-width="0.55">200</text>
<line x1="1629.50" y1="937.50" x2="1636.00" y2="937.50" stroke="#000" stroke-width="2.3"/>
<text x="1586.56" y="943.00" font-size="24.13" textLength="39.05" lengthAdjust="spacingAndGlyphs" fill="#231f20" stroke="#231f20" stroke-width="0.55">250</text>
<line x1="1636.00" y1="1208.30" x2="1636.00" y2="1214.80" stroke="#000" stroke-width="2.3"/>
<text x="1620.52" y="1240.00" font-size="24.13" textLength="33.83" lengthAdjust="spacingAndGlyphs" fill="#231f20" stroke="#231f20" stroke-width="0.55">-60</text>
<line x1="1737.60" y1="1208.30" x2="1737.60" y2="1214.80" stroke="#000" stroke-width="2.3"/>
<text x="1732.59" y="1240.00" font-size="24.13" textLength="13.02" lengthAdjust="spacingAndGlyphs" fill="#231f20" stroke="#231f20" stroke-width="0.55">0</text>
<line x1="1839.20" y1="1208.30" x2="1839.20" y2="1214.80" stroke="#000" stroke-width="2.3"/>
<text x="1827.55" y="1240.00" font-size="24.13" textLength="26.03" lengthAdjust="spacingAndGlyphs" fill="#231f20" stroke="#231f20" stroke-width="0.55">60</text>
<line x1="1940.80" y1="1208.30" x2="1940.80" y2="1214.80" stroke="#000" stroke-width="2.3"/>
<text x="1922.34" y="1240.00" font-size="24.13" textLength="39.05" lengthAdjust="spacingAndGlyphs" fill="#231f20" stroke="#231f20" stroke-width="0.55">120</text>
<line x1="2042.40" y1="1208.30" x2="2042.40" y2="1214.80" stroke="#000" stroke-width="2.3"/>
<text x="2023.94" y="1240.00" font-size="24.13" textLength="39.05" lengthAdjust="spacingAndGlyphs" fill="#231f20" stroke="#231f20" stroke-width="0.55">180</text>
<line x1="113.60" y1="1347.35" x2="113.60" y2="1608.50" stroke="#000" stroke-width="2.3"/>
<line x1="112.45" y1="1602.00" x2="530.65" y2="1602.00" stroke="#000" stroke-width="2.3"/>
<line x1="107.10" y1="1602.00" x2="113.60" y2="1602.00" stroke="#000" stroke-width="2.3"/>
<text x="90.20" y="1607.50" font-size="24.13" textLength="13.02" lengthAdjust="spacingAndGlyphs" fill="#231f20" stroke="#231f20" stroke-width="0.55">0</text>
<line x1="107.10" y1="1551.30" x2="113.60" y2="1551.30" stroke="#000" stroke-width="2.3"/>
<text x="90.43" y="1556.80" font-size="24.13" textLength="13.02" lengthAdjust="spacingAndGlyphs" fill="#231f20" stroke="#231f20" stroke-width="0.55">1</text>
<line x1="107.10" y1="1500.60" x2="113.60" y2="1500.60" stroke="#000" stroke-width="2.3"/>
<text x="90.46" y="1506.10" font-size="24.13" textLength="13.02" lengthAdjust="spacingAndGlyphs" fill="#231f20" stroke="#231f20" stroke-width="0.55">2</text>
<line x1="107.10" y1="1449.90" x2="113.60" y2="1449.90" stroke="#000" stroke-width="2.3"/>
<text x="90.31" y="1455.40" font-size="24.13" textLength="13.02" lengthAdjust="spacingAndGlyphs" fill="#231f20" stroke="#231f20" stroke-width="0.55">3</text>
<line x1="107.10" y1="1399.20" x2="113.60" y2="1399.20" stroke="#000" stroke-width="2.3"/>
<text x="89.97" y="1404.70" font-size="24.13" textLength="13.02" lengthAdjust="spacingAndGlyphs" fill="#231f20" stroke="#231f20" stroke-width="0.55">4</text>
<line x1="107.10" y1="1348.50" x2="113.60" y2="1348.50" stroke="#000" stroke-width="2.3"/>
<text x="90.27" y="1354.00" font-size="24.13" textLength="13.02" lengthAdjust="spacingAndGlyphs" fill="#231f20" stroke="#231f20" stroke-width="0.55">5</text>
<line x1="113.60" y1="1602.00" x2="113.60" y2="1608.50" stroke="#000" stroke-width="2.3"/>
<text x="98.12" y="1629.00" font-size="24.13" textLength="33.83" lengthAdjust="spacingAndGlyphs" fill="#231f20" stroke="#231f20" stroke-width="0.55">-60</text>
<line x1="217.57" y1="1602.00" x2="217.57" y2="1608.50" stroke="#000" stroke-width="2.3"/>
<text x="212.57" y="1629.00" font-size="24.13" textLength="13.02" lengthAdjust="spacingAndGlyphs" fill="#231f20" stroke="#231f20" stroke-width="0.55">0</text>
<line x1="321.55" y1="1602.00" x2="321.55" y2="1608.50" stroke="#000" stroke-width="2.3"/>
<text x="309.90" y="1629.00" font-size="24.13" textLength="26.03" lengthAdjust="spacingAndGlyphs" fill="#231f20" stroke="#231f20" stroke-width="0.55">60</text>
<line x1="425.52" y1="1602.00" x2="425.52" y2="1608.50" stroke="#000" stroke-width="2.3"/>
<text x="407.07" y="1629.00" font-size="24.13" textLength="39.05" lengthAdjust="spacingAndGlyphs" fill="#231f20" stroke="#231f20" stroke-width="0.55">120</text>
<line x1="529.50" y1="1602.00" x2="529.50" y2="1608.50" stroke="#000" stroke-width="2.3"/>
<text x="511.04" y="1629.00" font-size="24.13" textLength="39.05" lengthAdjust="spacingAndGlyphs" fill="#231f20" stroke="#231f20" stroke-width="0.55">180</text>
<text x="177.35" y="929.70" font-size="25.00" textLength="55.93" lengthAdjust="spacingAndGlyphs" fill="#231f20" stroke="#231f20" stroke-width="0.55">USP7</text>
<text x="233.42" y="937.90" font-size="13.23" textLength="19.43" lengthAdjust="spacingAndGlyphs" fill="#231f20" stroke="#231f20" stroke-width="0.55">CD</text>
<text x="258.09" y="929.70" font-size="25.00" textLength="152.01" lengthAdjust="spacingAndGlyphs" fill="#231f20" stroke="#231f20" stroke-width="0.55">WT - ubiquitin</text>
<text x="655.65" y="929.70" font-size="25.00" textLength="55.93" lengthAdjust="spacingAndGlyphs" fill="#231f20" stroke="#231f20" stroke-width="0.55">USP7</text>
<text x="711.72" y="937.90" font-size="13.23" textLength="19.43" lengthAdjust="spacingAndGlyphs" fill="#231f20" stroke="#231f20" stroke-width="0.55">CD</text>
<text x="735.30" y="929.70" font-size="25.00" textLength="195.34" lengthAdjust="spacingAndGlyphs" fill="#231f20" stroke="#231f20" stroke-width="0.55">Q297A - ubiquitin</text>
<text x="1147.15" y="929.70" font-size="25.00" textLength="55.93" lengthAdjust="spacingAndGlyphs" fill="#231f20" stroke="#231f20" stroke-width="0.55">USP7</text>
<text x="1203.22" y="937.90" font-size="13.23" textLength="19.43" lengthAdjust="spacingAndGlyphs" fill="#231f20" stroke="#231f20" stroke-width="0.55">CD</text>
<text x="1225.93" y="929.70" font-size="25.00" textLength="192.31" lengthAdjust="spacingAndGlyphs" fill="#231f20" stroke="#231f20" stroke-width="0.55">F291N - ubiquitin</text>
<text x="1690.85" y="929.70" font-size="25.00" textLength="55.93" lengthAdjust="spacingAndGlyphs" fill="#231f20" stroke="#231f20" stroke-width="0.55">USP7</text>
<text x="1746.92" y="937.90" font-size="13.23" textLength="19.43" lengthAdjust="spacingAndGlyphs" fill="#231f20" stroke="#231f20" stroke-width="0.55">CD</text>
<text x="1771.15" y="929.70" font-size="25.00" textLength="191.87" lengthAdjust="spacingAndGlyphs" fill="#231f20" stroke="#231f20" stroke-width="0.55">Y465N - ubiquitin</text>
<text x="169.45" y="1324.00" font-size="25.00" textLength="186.37" lengthAdjust="spacingAndGlyphs" fill="#231f20" stroke="#231f20" stroke-width="0.55">AktPH - ubiquitin</text>
<text x="387.54" y="1064.00" font-size="25.00" textLength="13.49" lengthAdjust="spacingAndGlyphs" fill="#231f20" stroke="#231f20" stroke-width="0.55">K</text>
<text x="400.81" y="1072.40" font-size="15.12" textLength="9.15" lengthAdjust="spacingAndGlyphs" fill="#231f20" stroke="#231f20" stroke-width="0.55">d</text>
<text x="414.22" y="1064.00" font-size="25.00" textLength="101.86" lengthAdjust="spacingAndGlyphs" fill="#231f20" stroke="#231f20" stroke-width="0.55">= 280 μM</text>
<text x="387.05" y="1095.70" font-size="25.00" textLength="141.11" lengthAdjust="spacingAndGlyphs" fill="#231f20" stroke="#231f20" stroke-width="0.55">(270-300 μM)</text>
<text x="891.24" y="1064.00" font-size="25.00" textLength="13.49" lengthAdjust="spacingAndGlyphs" fill="#231f20" stroke="#231f20" stroke-width="0.55">K</text>
<text x="904.51" y="1072.40" font-size="15.12" textLength="9.15" lengthAdjust="spacingAndGlyphs" fill="#231f20" stroke="#231f20" stroke-width="0.55">d</text>
<text x="917.90" y="1064.00" font-size="25.00" textLength="103.41" lengthAdjust="spacingAndGlyphs" fill="#231f20" stroke="#231f20" stroke-width="0.55">= 330 μM</text>
<text x="890.73" y="1095.70" font-size="25.00" textLength="143.25" lengthAdjust="spacingAndGlyphs" fill="#231f20" stroke="#231f20" stroke-width="0.55">(310-350 μM)</text>
<text x="1387.84" y="1046.60" font-size="25.00" textLength="13.49" lengthAdjust="spacingAndGlyphs" fill="#231f20" stroke="#231f20" stroke-width="0.55">K</text>
<text x="1401.11" y="1055.00" font-size="15.12" textLength="9.15" lengthAdjust="spacingAndGlyphs" fill="#231f20" stroke="#231f20" stroke-width="0.55">d</text>
<text x="1414.51" y="1046.60" font-size="25.00" textLength="103.10" lengthAdjust="spacingAndGlyphs" fill="#231f20" stroke="#231f20" stroke-width="0.55">= 190 μM</text>
<text x="1387.33" y="1078.30" font-size="25.00" textLength="143.15" lengthAdjust="spacingAndGlyphs" fill="#231f20" stroke="#231f20" stroke-width="0.55">(170-210 μM)</text>
<text x="1884.14" y="1041.50" font-size="25.00" textLength="13.49" lengthAdjust="spacingAndGlyphs" fill="#231f20" stroke="#231f20" stroke-width="0.55">K</text>
<text x="1897.41" y="1049.90" font-size="15.12" textLength="9.15" lengthAdjust="spacingAndGlyphs" fill="#231f20" stroke="#231f20" stroke-width="0.55">d</text>
<text x="1910.81" y="1041.50" font-size="25.00" textLength="103.10" lengthAdjust="spacingAndGlyphs" fill="#231f20" stroke="#231f20" stroke-width="0.55">= 250 μM</text>
<text x="1883.63" y="1073.20" font-size="25.00" textLength="143.25" lengthAdjust="spacingAndGlyphs" fill="#231f20" stroke="#231f20" stroke-width="0.55">(240-270 μM)</text>
<text x="400.91" y="1432.50" font-size="25.44" textLength="14.53" lengthAdjust="spacingAndGlyphs" fill="#231f20" stroke="#231f20" stroke-width="0.55">K</text>
<text x="415.00" y="1441.30" font-size="15.41" textLength="9.28" lengthAdjust="spacingAndGlyphs" fill="#231f20" stroke="#231f20" stroke-width="0.55">d</text>
<text x="428.43" y="1432.50" font-size="25.44" textLength="68.77" lengthAdjust="spacingAndGlyphs" fill="#231f20" stroke="#231f20" stroke-width="0.55">= N.D.</text>
<text x="291.01" y="1270.00" font-size="25.29" textLength="80.35" lengthAdjust="spacingAndGlyphs" fill="#231f20" stroke="#231f20" stroke-width="0.55">Time (s)</text>
<text x="783.20" y="1270.00" font-size="25.29" textLength="81.17" lengthAdjust="spacingAndGlyphs" fill="#231f20" stroke="#231f20" stroke-width="0.55">Time (s)</text>
<text x="1291.70" y="1270.00" font-size="25.29" textLength="81.58" lengthAdjust="spacingAndGlyphs" fill="#231f20" stroke="#231f20" stroke-width="0.55">Time (s)</text>
<text x="1800.50" y="1270.00" font-size="25.29" textLength="80.86" lengthAdjust="spacingAndGlyphs" fill="#231f20" stroke="#231f20" stroke-width="0.55">Time (s)</text>
<text x="292.70" y="1658.00" font-size="25.29" textLength="81.58" lengthAdjust="spacingAndGlyphs" fill="#231f20" stroke="#231f20" stroke-width="0.55">Time (s)</text>
<g transform="rotate(-90)"><text x="-1150.11" y="50.80" font-size="26.16" textLength="152.28" lengthAdjust="spacingAndGlyphs" fill="#231f20" stroke="#231f20" stroke-width="0.55">Response (RU)</text></g>
<g transform="rotate(-90)"><text x="-1547.91" y="51.30" font-size="26.16" textLength="152.28" lengthAdjust="spacingAndGlyphs" fill="#231f20" stroke="#231f20" stroke-width="0.55">Response (RU)</text></g>
<path d="M91.5 345.1l1.5 0.6 1.5-0.2 1.5-0.2 1.4 0.3 1.5-0.3 1.5-0.1 1.5 0.6 1.5-0.9 1.5 0.1 1.5 0.5 1.4-0.1 1.5-0.2 1.5 0.3 1.5 0 1.5 0.5 1.5-0.7 1.5 0.2 1.4 0 1.5 0.6 1.5-1 1.5 0.5 1.5 0.1 1.5-0.8 1.5 0.6 1.4 0.5 1.5-0.4 1.5 0.6 1.5-1.2 1.5 0.5 1.5 0 1.5-0.6 1.4 0.9 1.5-0.8 1.5 0.9 1.5-0.4 1.5 0.3 1.5-0.9 1.5 0 1.4 0.8 1.5-0.3" fill="none" stroke="#7d7d7d" stroke-width="2.4" stroke-linejoin="round" stroke-linecap="round"/>
<path d="M150.9 345.2l1.5-0.5 1.5 0.2 1.5 0.1 1.5-0.1 1.5-0.8 1.4-0.6 1.5 0.6 1.5 0.3 1.5-0.9 1.5 0.6 1.5 0 1.5-0.1 1.4 0.1 1.5 0.1 1.5 0.3 1.5-0.7 1.5 0.2 1.5-0.4 1.5 0.5 1.4 0.5 1.5-0.7 1.5-0.6 1.5 0.7 1.5 0.1 1.5 0.1 1.5-0.1 1.4-0.2 1.5 0.2 1.5-0.9 1.5 0.6 1.5-0.2 1.5-0.4 1.5-0.1 1.4 0.6 1.5-0.2 1.5-0.2 1.5 0.3 1.5 0.5 1.5-0.8 1.5-0.1" fill="none" stroke="#f0c080" stroke-width="2.4" stroke-linejoin="round" stroke-linecap="round"/>
<path d="M150.9 345.5l1.5 0.1 1.5-0.7 1.5-0.3 1.5-0.2 1.5-0.7 1.4-0.1 1.5 0.2 1.5-0.1 1.5-0.1 1.5 0.1 1.5 0 1.5 0.1 1.4-0.3 1.5-0.8 1.5 0.4 1.5 0.3 1.5 0 1.5 0.1 1.5-0.5 1.4-0.1 1.5 0.6 1.5-0.8 1.5 0.3 1.5-0.7 1.5 0.4 1.5-0.6 1.4 0.6 1.5-0.1 1.5-0.2 1.5-0.4 1.5 0.1 1.5 0.6 1.5-0.6 1.4 0 1.5 0.1 1.5 0 1.5-0.8 1.5 0.6 1.5 0.1 1.5-0.5" fill="none" stroke="#e37a2b" stroke-width="2.4" stroke-linejoin="round" stroke-linecap="round"/>
<path d="M150.9 345.6l1.5-1.3 1.5-1.9 1.5-1.3 1.5 0.2 1.5 0.5 1.4 0.5 1.5 0.2 1.5-0.3 1.5-0.2 1.5-0.6 1.5 0.5 1.5 0.1 1.4-1.2 1.5 0.5 1.5 0.1 1.5-1.4 1.5 0.3 1.5-0.9 1.5 0.3 1.4 0.1 1.5-0.1 1.5-0.5 1.5-0.2 1.5 0.1 1.5-0.4 1.5 0.5 1.4-0.9 1.5 0.8 1.5-1 1.5-0.5 1.5-0.4 1.5-0.4 1.5 1.5 1.4-1.3 1.5-0.4 1.5 0 1.5 0.9 1.5-0.8 1.5-0.9 1.5 5 1.4 1.9 1.5-1.8 1.5-0.6 1.5-2.2 1.5 0.8 1.5-0.1 1.5 0 1.4-0.5 1.5 0.1 1.5-0.5 1.5 0.9 1.5-0.4 1.5-0.5 1.5 0.2 1.4 0.9 1.5-1 1.5 0.6 1.5-0.5 1.5 0.1 1.5-0.5 1.5 0.5 1.4 1 1.5-0.2 1.5-1.1 1.5 0.5 1.5-0.7 1.5 0.4 1.5 0.6 1.4-1 1.5 1 1.5 0.6 1.5-2.1 1.5 2 1.5-1.3 1.5-0.1 1.4 0.4 1.5 0.9 1.5-1.4 1.5 1.3 1.5-0.1 1.5-0.5 1.5-0.6 1.4 0.3 1.5-0.3 1.5 0.6 1.5-0.1 1.5 0.5 1.5-0.4 1.5-0.5 1.4 0.4 1.5-0.4 1.5 0.6 1.5 0 1.5-0.4 1.5 0.2 1.5-0.4 1.4 0.2 1.5-0.8 1.5 1 1.5 0 1.5 0.4 1.5-0.6 1.5-0.3 1.4 0.7 1.5-0.4 1.5-0.4 1.5 0.5 1.5 0.2 1.5-0.8 1.5 0.4 1.4-0.1 1.5-0.4 1.5 0 1.5 0.8 1.5 0 1.5-0.4 1.5 0.2 1.4 0.9 1.5-1.6 1.5 0.6 1.5-0.3 1.5 0.9 1.5-1.2 1.5 0.9 1.4-0.2 1.5 0.6 1.5-0.6 1.5 0 1.5 0 1.5-0.3 1.5 0.2 1.4-0.5 1.5 0.7 1.5 0.3 1.5-0.5 1.5-0.3 1.5-0.4 1.5 0.3 1.4 1.3 1.5-1.1 1.5-0.6 1.5 0.7 1.5 0.3 1.5-0.4 1.5 0.4 1.4-0.6 1.5 0.3 1.5-0.7 1.5 0.5 1.5 0.6 1.5-0.7 1.5-0.2 1.4 0.8 1.5-0.1 1.5 1 1.5-1.7 1.5 0.8 1.5 0.8 1.5-0.2 1.4-0.8 1.5-0.5 1.5 0.4 1.5-0.3 1.5 0.8 1.5 0.1 1.5-1.1 1.4 0.2 1.5 0.3 1.5-0.7 1.5 1.1 1.5-0.3 1.5-0.7 1.5-0.4 1.4 0.9 1.5-0.8 1.5 1.1 1.5-0.5 1.5 0.3 1.5 0.7 1.5-0.9 1.4-0.4 1.5 0.6 1.5-0.1 1.5-0.7 1.5 1.3 1.5 0.1 1.5-0.4 1.4 0.3 1.5-1.3 1.5 0.5 1.5 0.6 1.5-0.1 1.5-1.8 1.5 1.7 1.4 0.1 1.5-0.5 1.5-0.2 1.5 0.2 1.5 0.6 1.5 0.1 1.5-0.9 1.4 0.3 1.5 0.8 1.5-1.4 1.5 0.2 1.5 0.5 1.5 0 1.5-0.2 1.4 0.4 1.5 0.3 1.5-0.8 1.5 0.9 1.5-0.9 1.5 0.9 1.5-0.7 1.4 0 1.5-1 1.5 1.5 1.5 0.1 1.5-0.4 1.5 0.3 1.5-0.3 1.4-0.5 1.5-0.2 1.5-0.4 1.5 1.2 1.5-1.8 1.5 0.4 1.5 1.1 1.4 1 1.5-1.1 1.5-0.1 1.5 1.2 1.5-1.2 1.5 0.2 1.5 0.2 1.4-0.7 1.5-0.2 1.5 0.8 1.5-0.4" fill="none" stroke="#7d7d7d" stroke-width="2.4" stroke-linejoin="round" stroke-linecap="round"/>
<path d="M150.9 346l1.5-1.6 1.5-2.1 1.5-1.9 1.5 0.5 1.5 1.7 1.4-1.3 1.5 0.9 1.5-1.1 1.5-1.1 1.5 0.7 1.5 0.4 1.5-0.1 1.4-1.6 1.5 0.4 1.5-0.5 1.5-0.5 1.5 0.3 1.5-0.1 1.5 0.1 1.4 0.8 1.5-0.9 1.5-0.9 1.5-0.1 1.5-0.4 1.5 0.1 1.5-0.3 1.4-0.5 1.5 0.7 1.5-0.4 1.5 0.5 1.5-1.5 1.5 0.4 1.5-0.4 1.4-0.7 1.5 0.1 1.5 0.4 1.5-0.6 1.5 1 1.5-1.1 1.5 3.7 1.4 3.9 1.5-3 1.5-0.5 1.5-2.2 1.5 0.6 1.5-0.7 1.5-0.2 1.4 1.1 1.5 0.4 1.5-0.7 1.5-0.4 1.5 0.6 1.5 0.2 1.5-0.6 1.4 1.7 1.5-1 1.5 0.3 1.5-0.8 1.5 0.6 1.5 0.2 1.5-0.4 1.4 0.6 1.5-0.7 1.5 0.4 1.5-0.2 1.5 0.2 1.5-0.8 1.5 0.6 1.4-0.3 1.5 0 1.5 0.7 1.5-0.7 1.5 0.1 1.5 0.1 1.5 0.4 1.4 0 1.5-0.6 1.5-0.7 1.5 1.6 1.5-0.7 1.5 0.5 1.5-0.6 1.4 0.2 1.5-0.4 1.5 2 1.5-1.1 1.5 0.2 1.5-0.5 1.5 0.3 1.4 0 1.5-0.7 1.5-0.6 1.5 2.4 1.5-1.3 1.5-0.3 1.5 0.2 1.4 0.2 1.5 0.5 1.5-0.2 1.5-0.9 1.5-0.2 1.5 0.5 1.5 0.5 1.4-0.5 1.5 0.2 1.5-0.4 1.5 0.2 1.5 0.4 1.5-0.4 1.5 0.7 1.4-1 1.5-0.2 1.5 1.2 1.5-0.8 1.5 0.7 1.5-1.1 1.5 0.1 1.4 0.6 1.5-0.6 1.5 0.7 1.5 0.1 1.5 0 1.5-0.2 1.5 0 1.4-0.2 1.5 0.4 1.5-0.7 1.5-0.1 1.5 0.7 1.5 0.5 1.5-1.1 1.4-0.2 1.5 0.7 1.5 0.5 1.5-0.8 1.5-0.6 1.5 1.7 1.5-1.2 1.4 0.4 1.5 0.3 1.5-0.7 1.5 0.9 1.5-0.8 1.5-0.5 1.5 0.6 1.4 0.5 1.5 0.5 1.5-0.3 1.5 0.3 1.5-1.7 1.5 0.9 1.5 0.4 1.4 0.1 1.5-0.1 1.5-0.3 1.5 0.4 1.5-1.5 1.5 1.3 1.5 0 1.4-0.6 1.5-0.6 1.5 0.1 1.5 0.9 1.5-0.3 1.5 0 1.5-0.2 1.4 0.2 1.5 0.6 1.5 0.1 1.5-0.7 1.5 0.7 1.5-1.3 1.5 0.7 1.4 0.5 1.5-0.4 1.5 0.1 1.5-0.2 1.5-0.5 1.5 1.2 1.5 0.2 1.4-1.1 1.5 0.3 1.5-0.2 1.5-0.1 1.5 0.3 1.5-0.5 1.5 0.8 1.4-0.5 1.5 0.5 1.5 0.2 1.5-0.9 1.5 0 1.5 1.3 1.5-0.5 1.4-0.7 1.5-0.4 1.5 0.9 1.5-0.2 1.5 0.6 1.5-2 1.5 1 1.4-0.2 1.5 0.1 1.5-0.1 1.5 0.2 1.5 0.5 1.5-0.6 1.5 0.3 1.4-0.6 1.5 1.1 1.5-0.1 1.5-0.7 1.5-0.3 1.5 0.6 1.5 0.4 1.4-0.3 1.5 0.2 1.5-1.2 1.5 0.5 1.5-0.2 1.5 0.5 1.5 0.5 1.4-0.9 1.5-0.3 1.5 0.6 1.5 0.3 1.5-0.6 1.5 0.8 1.5-0.6 1.4 0.7 1.5 0.2 1.5-0.8 1.5 0.1 1.5-0.8 1.5 1.1 1.5-0.1 1.4 0.6 1.5 0.3 1.5 0 1.5-1.2" fill="none" stroke="#2f8e47" stroke-width="2.4" stroke-linejoin="round" stroke-linecap="round"/>
<path d="M212.3 343.2l1.5-2 1.5-0.9 1.5 0.1 1.5-1.8 1.5-0.1 1.5-0.7 1.4 0.7 1.5-0.6 1.5 0.9 1.5-0.8 1.5 0.6 1.5-0.2 1.5-0.4 1.4 0.3 1.5 0.1 1.5-0.4 1.5-0.1 1.5 1.1 1.5-1 1.5 0 1.4 0.7 1.5-0.6 1.5 0.9 1.5-1.4 1.5 0.8 1.5-0.1 1.5-0.6 1.4 0.7 1.5-0.4 1.5 0.8 1.5-0.2 1.5 0.4 1.5-0.6 1.5-0.7 1.4 0.4 1.5-0.3 1.5 1 1.5-0.1 1.5-0.2 1.5-0.6 1.5 0.1 1.4 0.2 1.5-0.3 1.5 0.4 1.5-0.1 1.5-0.7 1.5 1 1.5-0.4 1.4-0.7 1.5 0.7 1.5-0.3 1.5 0.7 1.5-1.3 1.5 2.1 1.5-0.6 1.4 0 1.5-1.4 1.5 0.7 1.5 0.3 1.5 0.5 1.5-0.8 1.5 0.1 1.4 0.4 1.5 0.4 1.5-0.2 1.5-0.7 1.5 0 1.5 0.1 1.5 0.1 1.4 0.8 1.5-0.9 1.5 0.5 1.5-0.5 1.5-0.3 1.5 0.6 1.5 0.2 1.4-1 1.5 0.3 1.5 0.5 1.5 1.2 1.5-1.5 1.5-0.4 1.5-0.2 1.4 0.9 1.5 0 1.5-0.1 1.5-0.7 1.5 1 1.5-0.5 1.5 0.4 1.4-0.6 1.5 0.9 1.5-1 1.5 0.4 1.5-0.1 1.5-0.4 1.5-0.3 1.4 1.4 1.5-1.3 1.5 0.2 1.5 0.4 1.5-0.9 1.5 0.7 1.5-0.6 1.4 0.9 1.5 0.2 1.5-1.1 1.5-0.5 1.5 0.8 1.5-0.1 1.5 0.7 1.4 0.4 1.5-0.6 1.5-0.9 1.5 1.7 1.5-0.7 1.5 0.8 1.5-1.1 1.4-0.4 1.5 1.1 1.5-0.4 1.5-0.9 1.5 0.7 1.5 0.6 1.5 0 1.4 0.4 1.5-1.4 1.5 0.7 1.5-0.9 1.5 0.1 1.5 0.8 1.5-0.1 1.4-0.7 1.5 0.3 1.5 0 1.5 0.9 1.5-1.3 1.5 0.9 1.5 0.7 1.4-0.8 1.5-0.5 1.5-0.9 1.5 1.3 1.5 0.4 1.5-1.7 1.5 1 1.4 0.2 1.5 0.4 1.5 0 1.5-1.3 1.5 0.9 1.5 0.1 1.5 0 1.4-1.1 1.5 1.1 1.5-0.6 1.5 0.2 1.5 0 1.5 0.6 1.5-0.8 1.4-0.5 1.5 0.8 1.5 0.5 1.5 0.1 1.5-0.7 1.5 0.2 1.5-0.1 1.4 0 1.5 0.7 1.5-1.1 1.5 0.2 1.5 0.2 1.5-0.2 1.5-0.3 1.4 0.4 1.5 0.5 1.5-1.1 1.5 0.8 1.5 0.2 1.5 0.4 1.5-0.8 1.4 0.5 1.5-0.2 1.5-0.5 1.5 0.2 1.5-0.5 1.5 0.3 1.5 0.4 1.4-0.1 1.5 0.1 1.5-0.6 1.5 0.4 1.5 0.2 1.5-0.7 1.5 0.4 1.4 0.3 1.5 0.5 1.5-1" fill="none" stroke="#e37a2b" stroke-width="2.4" stroke-linejoin="round" stroke-linecap="round"/>
<path d="M212.3 342.5l1.5-0.9 1.5-0.7 1.5-0.7 1.5-1.3 1.5-1.2 1.5-0.1 1.4 0 1.5 0.2 1.5-0.4 1.5 0 1.5 0.5 1.5-0.8 1.5 0 1.4 0 1.5 0.5 1.5 0 1.5 0.5 1.5-1 1.5 1.5 1.5-0.9 1.4 0 1.5-0.6 1.5 0.4 1.5 0.5 1.5 0.3 1.5-0.4 1.5-0.4 1.4 0 1.5 0.1 1.5 0.3 1.5-0.3 1.5-0.6 1.5 1.1 1.5-0.6 1.4-0.8 1.5 0.6 1.5 0.5 1.5-0.6 1.5 0.7 1.5-0.4 1.5-0.8 1.4-0.1 1.5 1.8 1.5-1.2 1.5-0.7 1.5 1.3 1.5-0.4 1.5-0.6 1.4 1 1.5-0.5 1.5 0.3 1.5 0.9 1.5-1.1 1.5 0.2 1.5-0.5 1.4-0.6 1.5 0.7 1.5 0.5 1.5-0.4 1.5 0.1 1.5-0.4 1.5 1.3 1.4-0.2 1.5 0.5 1.5-1.4 1.5 0.3 1.5 0.4 1.5 0 1.5-0.1 1.4 0.2 1.5-0.3 1.5 0.1 1.5-1 1.5 0.6 1.5 0.5 1.5-0.1 1.4-0.9 1.5 0.4 1.5 0.1 1.5-0.2 1.5-0.5 1.5 1.5 1.5-0.3 1.4 0.5 1.5-1.1 1.5 0.4 1.5 0.2 1.5 0 1.5-0.7 1.5 0.4 1.4 0.2 1.5-0.9 1.5 1.2 1.5 0.1 1.5-2 1.5 1.5 1.5 0.1 1.4 0.1 1.5-0.4 1.5-0.4 1.5 0 1.5 0.1 1.5 0.4 1.5 0.6 1.4-0.9 1.5-0.6 1.5 0.2 1.5 0.6 1.5-0.5 1.5 0.6 1.5-0.2 1.4 0.6 1.5-0.5 1.5-0.2 1.5 0.1 1.5-0.4 1.5-0.6 1.5 0.3 1.4 0.8 1.5 0.2 1.5-0.1 1.5 0.2 1.5-0.5 1.5-0.2 1.5 0.1 1.4 0 1.5 0 1.5 0.1 1.5 0.3 1.5-1.2 1.5 0.3 1.5 1 1.4 0 1.5-0.2 1.5-0.3 1.5-0.7 1.5 0.2 1.5-0.1 1.5 0 1.4 0 1.5 0.2 1.5 0.1 1.5 0.3 1.5 0.8 1.5-0.8 1.5-1 1.4 1.2 1.5 0 1.5-0.8 1.5 0.4 1.5 0.3 1.5-1 1.5 0.4 1.4 0 1.5 0.6 1.5-0.5 1.5 0 1.5-0.2 1.5-0.2 1.5 0 1.4 0.5 1.5-0.3 1.5 1 1.5-1 1.5 0 1.5 0.5 1.5 0.2 1.4-0.3 1.5 0.5 1.5-0.8 1.5 0.1 1.5 0.6 1.5-0.5 1.5-0.6 1.4 0 1.5 0.1 1.5 0.5 1.5 0.1 1.5 0 1.5-0.5 1.5-0.9 1.4 0.5 1.5-0.1 1.5 0.1 1.5 1.5 1.5-0.7 1.5 0.1 1.5-0.9 1.4-0.2 1.5 1.2 1.5-0.4 1.5-0.2 1.5 0.5 1.5 0 1.5 0.1 1.4-0.8 1.5 0.9 1.5-1.1" fill="none" stroke="#d4392d" stroke-width="2.4" stroke-linejoin="round" stroke-linecap="round"/>
<path d="M220.3 344.3l1.4-0.5 1.5-0.5 1.5 0.5 1.5-0.2 1.5-0.7 1.5 0.2 1.5-0.3 1.4-0.5 1.5-0.3 1.5 0.2 1.5-0.6 1.5-0.5 1.5-0.6 1.5 1.1 1.4-1.1 1.5 0.1 1.5 0.7 1.5 0.1 1.5-0.6 1.5 0.2 1.5-0.2 1.4-0.2 1.5 0.4 1.5-0.2 1.5-0.1 1.5-0.1 1.5-0.3 1.5 0 1.4 0.5 1.5 0.1 1.5-0.9 1.5 0.6 1.5 0.1 1.5 0.5 1.5-0.6 1.4 0.5 1.5-0.1 1.5 0.3 1.5-0.3 1.5-0.2 1.5 0.5 1.5-0.2 1.4-0.3 1.5 0.4 1.5 0 1.5-0.2 1.5 0.2 1.5-0.7 1.5 0.6 1.4-0.6 1.5-0.1 1.5 0.7 1.5-0.4 1.5 0.2 1.5 0.2 1.5-0.3 1.4 0 1.5-0.3 1.5-0.1 1.5 0.7 1.5-0.3 1.5-0.3 1.5-0.2 1.4 1.2 1.5-1.3 1.5 0.5 1.5-0.5 1.5 0.6 1.5 0.1 1.5-0.3 1.4-0.3 1.5 0.3 1.5 0.8 1.5-1 1.5 0.8 1.5-0.2 1.5 0 1.4 0.2 1.5-0.2 1.5-0.1 1.5-0.1 1.5-0.2 1.5 0.1 1.5 0.4 1.4-0.5 1.5-0.4 1.5 0.1 1.5 0.2 1.5-0.1 1.5-0.1 1.5-0.2 1.4-0.1 1.5 0.7 1.5-0.1 1.5-0.6 1.5 0 1.5 0 1.5 1.3 1.4-0.7 1.5 1 1.5-1.3 1.5 0.2 1.5 0 1.5 0 1.5-0.5 1.4 0.6 1.5-0.5 1.5 0.2 1.5 0 1.5 0 1.5 0.1 1.5 0.4 1.4-0.6 1.5 0 1.5 0.3 1.5-0.3 1.5-0.1 1.5 0.8 1.5-0.4 1.4 0.1 1.5 0.1 1.5-0.4 1.5 0.4 1.5-0.2 1.5-0.2 1.5 0 1.4 0 1.5-0.7 1.5 0.9 1.5-0.2 1.5 0.5 1.5-0.6 1.5-0.2 1.4-0.1 1.5 0.7 1.5-0.2 1.5-0.5 1.5 0.5 1.5-0.4 1.5 0.7 1.4-0.8 1.5 0.1 1.5 0.2 1.5 0.4 1.5-0.2 1.5-0.2 1.5 0 1.4 0.1 1.5 0.1 1.5-0.2 1.5-0.4 1.5 1.1 1.5-0.2 1.5 0.1 1.4-0.3 1.5 0.3 1.5-0.7 1.5 0.1 1.5 0.1 1.5 0.2 1.5-0.3 1.4 0 1.5-0.1 1.5 0.4 1.5-0.5 1.5 0.7 1.5-0.9 1.5 1.4 1.4-0.8 1.5 0.2 1.5-0.7 1.5 0.8 1.5-1.1 1.5 1.1 1.5-1.2 1.4 0.5 1.5 0.1 1.5-0.1 1.5-0.6 1.5 0.4 1.5 1.1 1.5-1.2 1.4 0.3 1.5 0.7 1.5-0.8 1.5 0.6 1.5-0.5 1.5 0 1.5 0.3 1.4-0.4 1.5 0.5 1.5-0.4 1.5 0.3" fill="none" stroke="#c8c63c" stroke-width="2.4" stroke-linejoin="round" stroke-linecap="round"/>
<path d="M225.2 345.2l1.5-0.9 1.5 0.5 1.5 0.3 1.5-0.5 1.4 0.1 1.5-0.5 1.5-0.2 1.5-0.1 1.5-0.1 1.5 0 1.5-0.5 1.4-0.3 1.5 0.4 1.5-0.4 1.5-0.2 1.5-0.5 1.5-0.1 1.5 0.6 1.4-0.2 1.5 0.5 1.5-0.2 1.5-0.3 1.5-0.3 1.5-0.1 1.5 0.4 1.4 0.4 1.5-0.6 1.5 0.2 1.5-0.3 1.5 0.1 1.5-0.2 1.5 0 1.4 0 1.5 0.4 1.5-0.5 1.5 0.5 1.5-0.2 1.5-0.6 1.5 0.5 1.4 0.5 1.5-0.9 1.5 0.1 1.5 0 1.5 0.3 1.5-0.1 1.5 0.2 1.4 0.2 1.5-0.8 1.5 0.6 1.5 0.1 1.5-0.1 1.5-0.8 1.5 0.4 1.4 0.4 1.5-0.1 1.5-0.2 1.5-0.2 1.5 0.9 1.5-0.9 1.5 0.4 1.4 0.1 1.5-0.1 1.5-0.4 1.5-0.3 1.5 0.5 1.5-0.2 1.5 0.5 1.4-0.5 1.5-0.1 1.5 0.8 1.5-0.3 1.5-0.5 1.5 0.9 1.5-0.5 1.4-0.4 1.5 0.8 1.5-0.4 1.5-0.2 1.5-0.3 1.5 0.7 1.5-0.8 1.4 0.3 1.5-0.3 1.5 0 1.5 0.2 1.5 0 1.5 0.7 1.5-0.1 1.4-0.2 1.5-0.2 1.5-0.4 1.5 0.9 1.5-0.5 1.5 0.3 1.5 0.1 1.4-1.1 1.5 0.5 1.5-0.5 1.5 0.1 1.5 0.7 1.5 0.3 1.5-1.3 1.4 0.8 1.5 0.2 1.5-0.6 1.5 0.2 1.5 0.3 1.5-0.2 1.5-0.1 1.4 0 1.5-0.3 1.5 0.4 1.5 0 1.5-0.3 1.5 0 1.5-0.2 1.4 0.4 1.5 0 1.5 0.3 1.5-0.9 1.5 1 1.5-0.6 1.5 0.4 1.4-0.4 1.5-0.2 1.5 0.8 1.5-0.5 1.5 0.5 1.5-1.1 1.5 0.7 1.4 0.3 1.5-0.3 1.5-0.7 1.5 0 1.5 0 1.5 0.7 1.5-0.2 1.4-0.6 1.5 0.8 1.5-0.2 1.5 0.2 1.5 0.1 1.5-0.8 1.5 0.2 1.4 0 1.5 0 1.5-0.2 1.5-0.2 1.5 0.5 1.5 0.1 1.5 0.2 1.4-0.7 1.5 0.6 1.5 0.3 1.5-0.4 1.5-0.2 1.5-0.2 1.5-0.1 1.4 0.6 1.5 0 1.5-0.2 1.5 0.3 1.5-0.4 1.5-0.2 1.5 0.1 1.4 0.6 1.5-0.2 1.5-0.8 1.5 0.8 1.5-0.6 1.5 0 1.5 0.3 1.4 0.2 1.5-0.4 1.5 0.4 1.5-0.3 1.5-0.1 1.5 0.3 1.5-0.2 1.4 0 1.5 0.3 1.5-0.3 1.5 0.1 1.5 0.4 1.5-0.5 1.5 0 1.4 0.1 1.5 0.4 1.5-0.9 1.5 0" fill="none" stroke="#f2d8b0" stroke-width="2.4" stroke-linejoin="round" stroke-linecap="round"/>
<path d="M212.3 339.7l1.5 0.2 1.5 0.8 1.5-0.8 1.5 0.6 1.5-1.6 1.5 1.3 1.4-0.6 1.5 1.1 1.5-0.2 1.5-0.4 1.5-0.6 1.5 0 1.5 0.1 1.4 1.1 1.5-1.5 1.5 1 1.5-1.3 1.5-0.2 1.5 0.5 1.5-0.1 1.4 1.2 1.5-2 1.5 1.2 1.5-0.5 1.5 1 1.5-0.5 1.5 0.6 1.4-0.5 1.5-0.2 1.5-0.1 1.5-0.6 1.5 0.4 1.5 0.1 1.5 0.1 1.4-1 1.5 1.3 1.5-0.9 1.5 1.5 1.5-0.5 1.5-0.7 1.5 0.3 1.4-1.6 1.5 0.3 1.5 2.1 1.5-0.3 1.5-0.4 1.5-1 1.5 0.3 1.4 0.5 1.5 0.9 1.5-0.3 1.5 0.9 1.5-0.6 1.5-0.9 1.5-0.2 1.4 1.1 1.5-0.8 1.5-0.7 1.5 0.7 1.5 0.3 1.5-0.5 1.5 0.1 1.4 0.2 1.5 0.3 1.5 0 1.5-0.3 1.5 0.4 1.5-1 1.5 0.3 1.4-0.1 1.5-0.5 1.5 0.2 1.5 0.1 1.5 0.6 1.5 0.3 1.5-1.3 1.4 1.5 1.5 0 1.5 0.2 1.5-0.6 1.5-0.1 1.5-0.3 1.5 0.7 1.4 0.7 1.5-1 1.5-0.3 1.5 0.5 1.5 0.1 1.5-0.4 1.5-0.4 1.4 0.8 1.5 0.7 1.5-0.5 1.5-0.2 1.5 0.9 1.5-1.3 1.5 0.8 1.4-0.7 1.5 0.2 1.5 0.3 1.5-1 1.5 1.1 1.5 0.1 1.5-0.5 1.4-0.3 1.5 0.5 1.5 0.5 1.5-0.8 1.5 0 1.5-0.7 1.5 1.1 1.4-0.2 1.5 0.4 1.5 0.5 1.5-0.8 1.5-0.4 1.5 1 1.5-0.2 1.4 0.3 1.5-1.3 1.5 1.1 1.5-0.7 1.5 0.8 1.5-0.5 1.5 0.4 1.4 0.9 1.5-1.3 1.5-0.2 1.5 1.3 1.5-1 1.5 0.1 1.5 0.3 1.4-0.4 1.5 0.9 1.5-1.2 1.5-0.5 1.5 1.3 1.5-0.6 1.5-0.8 1.4 0.6 1.5 0.4 1.5 0.1 1.5-0.5 1.5 0.1 1.5-0.4 1.5 1.1 1.4-1.3 1.5 0.7 1.5-0.5 1.5 0.7 1.5 0.2 1.5-0.3 1.5 0.1 1.4-0.3 1.5-0.5 1.5-0.2 1.5 0.4 1.5 0.4 1.5-0.1 1.5-0.5 1.4-0.3 1.5 0.7 1.5-0.1 1.5 0.3 1.5-0.5 1.5-0.4 1.5 2 1.4-1.6 1.5 0.3 1.5 0.9 1.5-1.3 1.5 0.2 1.5-0.3 1.5 0.9 1.4-1.8 1.5 1 1.5 0.3 1.5-1 1.5 0.4 1.5-0.1 1.5-0.2 1.4 1.7 1.5-1.9 1.5 1 1.5-0.4 1.5-0.3 1.5 0.8 1.5-0.5 1.4-0.2 1.5 0.3 1.5-0.2 1.5 1 1.5-0.2 1.5 0 1.5-0.8 1.4-1.7 1.5 1.7 1.5 0.2" fill="none" stroke="#7d7d7d" stroke-width="2.4" stroke-linejoin="round" stroke-linecap="round"/>
<path d="M583.7 344.3l1.5-0.5 1.5 0.1 1.5 1 1.5-1.1 1.4 0.7 1.5-0.4 1.5 1.5 1.5-0.1 1.5-1 1.5 1.3 1.5-1 1.5 0.1 1.5 0.2 1.5-0.1 1.4 0 1.5 0 1.5 0.4 1.5-0.2 1.5-1.5 1.5 1 1.5 0.2 1.5 0.2 1.5 0.5 1.4-0.4 1.5 0.2 1.5-0.6 1.5 1 1.5 0.5 1.5-0.7 1.5-0.6 1.5-0.9 1.5 0.8 1.4 1 1.5-0.4 1.5 0.4 1.5-0.4 1.5 0.4 1.5 0.4 1.5-1 1.5 0.1" fill="none" stroke="#7d7d7d" stroke-width="2.4" stroke-linejoin="round" stroke-linecap="round"/>
<path d="M583.7 343.5l1.5 0 1.5-0.6 1.5 1.3 1.5 0.5 1.4-0.4 1.5 1.5 1.5-1 1.5 0.8 1.5 0 1.5-0.5 1.5-0.7 1.5 1.2 1.5-0.8 1.5 0.3 1.4 0.9 1.5-1.2 1.5 0.9 1.5 0.4 1.5-0.4 1.5 0 1.5-0.6 1.5 0.7 1.5-1.2 1.4 0.7 1.5 0.5 1.5 0.1 1.5-0.6 1.5 1 1.5 0 1.5-0.3 1.5-0.8 1.5 0.2 1.4 0.1 1.5 0.2 1.5 0.6 1.5-0.5 1.5 0.5 1.5-1.1 1.5 0.5 1.5 0" fill="none" stroke="#e37a2b" stroke-width="2.4" stroke-linejoin="round" stroke-linecap="round"/>
<path d="M643.3 345l1.5-0.3 1.4-0.4 1.5-0.4 1.5-0.1 1.5-0.1 1.5-0.9 1.5-0.7 1.5 0.1 1.5 0.4 1.5-0.4 1.5 0.3 1.4-0.3 1.5 0.3 1.5-0.3 1.5-0.7 1.5 0.4 1.5-0.3 1.5 0.7 1.5-0.1 1.5-0.3 1.4-0.2 1.5 0.2 1.5-0.5 1.5 0.5 1.5-0.7 1.5 0.1 1.5 0.7 1.5-0.7 1.5 0.3 1.5-0.5 1.4 0.5 1.5-0.4 1.5-0.1 1.5 1.1 1.5-0.4 1.5-0.7 1.5 0 1.5-0.4 1.5 0.2 1.4 0.5 1.5 0.4 1.5 1.4 1.5 0.8 1.5 0.5 1.5-0.3 1.5 0.6 1.5-0.1 1.5 0.4 1.4-1.5 1.5 1.1 1.5-0.1 1.5 0.1 1.5-0.2 1.5 0 1.5-0.4 1.5 0.2 1.5-0.1 1.5 0.3 1.4-0.1 1.5-0.5 1.5 0.4 1.5-0.1 1.5 0.8 1.5-0.8 1.5 0.1 1.5-0.4 1.5 1.4 1.4-1 1.5 0.1 1.5-0.1 1.5 0.3 1.5-0.3 1.5-0.2 1.5 0.2 1.5 0.2 1.5-0.1 1.4 0.1 1.5-0.1 1.5 0.2 1.5 0.5 1.5-1.2 1.5 1.1 1.5-0.6 1.5 0.4 1.5-0.3 1.5 0.2 1.4-0.3 1.5 0.3 1.5 0.1 1.5-0.5 1.5-0.4 1.5 0.4 1.5 0.1 1.5 0.4 1.5-0.4 1.4-0.1 1.5 0.3 1.5-0.5 1.5 0.3 1.5-0.1 1.5 0.3 1.5 0 1.5-0.3 1.5 0 1.4 0 1.5 0.5 1.5-0.1 1.5-0.3 1.5 0.7 1.5-1 1.5 0.2 1.5 0.1 1.5 0.3 1.5-0.5 1.4 0.3 1.5-0.7 1.5 0.5 1.5 0.7 1.5-0.8 1.5 0.4 1.5 0 1.5-0.1 1.5 0 1.4-0.1 1.5-0.2 1.5 0.1 1.5 0.4 1.5 0.2 1.5-0.2 1.5-0.3 1.5-0.2 1.5-0.3 1.4 1 1.5-0.4 1.5 0.1 1.5 0 1.5-0.2 1.5 0.2 1.5 0 1.5 0.1 1.5-0.3 1.5-0.3 1.4-0.2 1.5 0.8 1.5 0.2 1.5-0.3 1.5 0.2 1.5-0.6 1.5 0.6 1.5-0.3 1.5 0.5 1.4-0.4 1.5-0.1 1.5-0.5 1.5 0.8 1.5-0.4 1.5 0.8 1.5-0.3 1.5-0.1 1.5-0.1 1.4-0.3 1.5-0.1 1.5 0.8 1.5-0.7 1.5 0.5 1.5-1 1.5 0.5 1.5 0.1 1.5 0.1 1.4 0 1.5-0.1 1.5 0.3 1.5-0.5 1.5 0.2 1.5-0.2 1.5 0.3 1.5-0.3 1.5 0.5 1.5-1.4 1.4 1.4 1.5-0.1 1.5-0.5 1.5 0 1.5 0.6 1.5 0.3 1.5-0.1 1.5-0.1 1.5-0.1 1.4-0.2 1.5-0.4 1.5 0 1.5 0.6 1.5-0.4 1.5-0.1 1.5-0.2 1.5 0.5 1.5 0.2 1.5-0.5 1.4-0.2 1.5 0.7 1.5-0.9 1.5 0.1 1.5 0.7 1.5 0.4 1.5-0.3 1.5-0.1 1.5-0.3 1.4 0.8 1.5-1.4 1.5 0 1.5 1.1 1.5 0.4 1.5-0.6 1.5-0.2 1.5-0.3 1.5 0.2 1.4 0.3 1.5 0.6 1.5-0.8 1.5-0.2 1.5 0.4 1.5-0.2 1.5 0.1 1.5 0.1 1.5 0.3 1.4-0.5 1.5 0.6 1.5-0.9 1.5 0.8 1.5-0.5 1.5 0.4 1.5-0.4 1.5 0.2 1.5-0.2 1.5 0.4 1.4 0.3 1.5-0.4 1.5 0 1.5 0.4 1.5-0.3" fill="none" stroke="#7d7d7d" stroke-width="2.4" stroke-linejoin="round" stroke-linecap="round"/>
<path d="M643.3 345.7l1.5-1.4 1.4-0.6 1.5-0.9 1.5-1.7 1.5 0.1 1.5-0.5 1.5-0.3 1.5 0 1.5 0 1.5-0.7 1.5-0.3 1.4 1.1 1.5-1.1 1.5-0.1 1.5 0.1 1.5-0.7 1.5 0.6 1.5-0.5 1.5 0.5 1.5-0.1 1.4-0.4 1.5 0.4 1.5-0.2 1.5 0.3 1.5-0.1 1.5-0.6 1.5 0 1.5 0.6 1.5 0 1.5-1.3 1.4 1 1.5 0.1 1.5-0.5 1.5 0.4 1.5-0.2 1.5-0.5 1.5 0 1.5 0.3 1.5-0.5 1.4 0.5 1.5 1 1.5 1 1.5 1.2 1.5 0.8 1.5 0 1.5 0.4 1.5-0.3 1.5 0.2 1.4 0.1 1.5-0.2 1.5-0.4 1.5 0.3 1.5-0.3 1.5-0.1 1.5 0.5 1.5 0.2 1.5 0.1 1.5-0.4 1.4-0.2 1.5-0.2 1.5 1 1.5-0.8 1.5 0 1.5-0.5 1.5 0.8 1.5 0 1.5 0.6 1.4-0.3 1.5 0.1 1.5 0 1.5 0 1.5 0.2 1.5-0.5 1.5-0.2 1.5-0.1 1.5 0.3 1.4-0.4 1.5 0 1.5 0.9 1.5-0.4 1.5 0.3 1.5-0.1 1.5-0.4 1.5 0.2 1.5-0.6 1.5-0.2 1.4 0.6 1.5 0.2 1.5 0 1.5-0.1 1.5-0.2 1.5 0.5 1.5-0.5 1.5 0.3 1.5-0.4 1.4-0.1 1.5-0.1 1.5 0.6 1.5 0.4 1.5 0.1 1.5-0.4 1.5 0.4 1.5 0 1.5-0.4 1.4 0.2 1.5-0.5 1.5-0.5 1.5 0.8 1.5-0.2 1.5 0.7 1.5-0.6 1.5 0.3 1.5 0.1 1.5 0.3 1.4-1.2 1.5 1.1 1.5-0.1 1.5-0.5 1.5 0 1.5 0 1.5 0 1.5 0.4 1.5-0.6 1.4 0.2 1.5 0.6 1.5-1.1 1.5 0.7 1.5-0.4 1.5 0.8 1.5-0.1 1.5-0.2 1.5 0 1.4-0.5 1.5 0.9 1.5-0.6 1.5 0.4 1.5-0.5 1.5 0.1 1.5 0.2 1.5-0.9 1.5 0.8 1.5-0.4 1.4 0.8 1.5-0.4 1.5-0.1 1.5 0 1.5 0.2 1.5 0.2 1.5 0.7 1.5-0.8 1.5 0.1 1.4-0.2 1.5-0.4 1.5-0.5 1.5 0.6 1.5-0.1 1.5 0.1 1.5 0 1.5 0 1.5 0.3 1.4 0 1.5-0.2 1.5-0.5 1.5 0.4 1.5-0.3 1.5 1 1.5-0.5 1.5-0.1 1.5 0 1.4 0.6 1.5 0.2 1.5 0.1 1.5-0.6 1.5-0.9 1.5 0.7 1.5 0.5 1.5-0.5 1.5 0.2 1.5-0.2 1.4 0.3 1.5 0.2 1.5-0.2 1.5-0.4 1.5 0.1 1.5-0.3 1.5 0.8 1.5-0.7 1.5 0.3 1.4 0 1.5-0.4 1.5 0.5 1.5-0.1 1.5-0.2 1.5 0 1.5 0 1.5-0.2 1.5 0.3 1.5 0.3 1.4-1 1.5 0.9 1.5-0.1 1.5 0.3 1.5 0.5 1.5-0.4 1.5-0.3 1.5-0.2 1.5 0.2 1.4-0.3 1.5 0 1.5 0 1.5 0.3 1.5 0 1.5 0.1 1.5 0.2 1.5-0.7 1.5 0.9 1.4-0.4 1.5-0.1 1.5 0.8 1.5-1 1.5 0.4 1.5-0.2 1.5 0.2 1.5 0.4 1.5-0.6 1.4 0 1.5-0.2 1.5 0.1 1.5 0.8 1.5-1 1.5 0.1 1.5 0.1 1.5 0.1 1.5 0.4 1.5-0.5 1.4 0.4 1.5-1.1 1.5 1 1.5 0.3 1.5-0.2" fill="none" stroke="#7d7d7d" stroke-width="2.4" stroke-linejoin="round" stroke-linecap="round"/>
<path d="M643.3 344.4l1.5-0.9 1.4-0.9 1.5-3.9 1.5-1.4 1.5-0.2 1.5-1.4 1.5 0.2 1.5-0.6 1.5-1.8 1.5 0 1.5-0.6 1.4 0.2 1.5-0.5 1.5 0.2 1.5 1 1.5-1.4 1.5 0.5 1.5-0.8 1.5 0.3 1.5-0.8 1.4 0.8 1.5 0.8 1.5-1 1.5-0.5 1.5 0.3 1.5 0 1.5-1.1 1.5 0.7 1.5-0.7 1.5 0.4 1.4 0.7 1.5-0.3 1.5-0.5 1.5-0.4 1.5 0.5 1.5 0.2 1.5-0.2 1.5 0 1.5 0.5 1.4 0.1 1.5 0.2 1.5 2.2 1.5 2 1.5 1 1.5 0.6 1.5 1 1.5 0.4 1.5 0.7 1.4 0.2 1.5-0.6 1.5-0.1 1.5 0.8 1.5-0.1 1.5-0.6 1.5 1.1 1.5-0.2 1.5-0.8 1.5-0.3 1.4 0.2 1.5-0.3 1.5-0.3 1.5 0.4 1.5 0.6 1.5-1.1 1.5 0.2 1.5 0.4 1.5 1 1.4-0.6 1.5 1.2 1.5-0.9 1.5 1.1 1.5-1 1.5-0.7 1.5 0.5 1.5-0.8 1.5 0.8 1.4-0.1 1.5 0.3 1.5-0.5 1.5 0.3 1.5-0.6 1.5-0.2 1.5 0.6 1.5 0.8 1.5-0.8 1.5-0.4 1.4 0.3 1.5 0.2 1.5-0.3 1.5-0.2 1.5 2 1.5-2.1 1.5 0.4 1.5 0.1 1.5 0.6 1.4-0.4 1.5-0.2 1.5 1.1 1.5-1.2 1.5 0.4 1.5-0.7 1.5 0.4 1.5 0.4 1.5-0.1 1.4-0.3 1.5 0.3 1.5-0.2 1.5 0.6 1.5 0.3 1.5-0.4 1.5 0.5 1.5-0.3 1.5-0.6 1.5 1 1.4-0.2 1.5-1 1.5 0.7 1.5-0.3 1.5 0.6 1.5-0.1 1.5-0.3 1.5-1 1.5 0.6 1.4 1.1 1.5-1.1 1.5-0.2 1.5 0.1 1.5 1 1.5-0.6 1.5-1.1 1.5 1.5 1.5-0.6 1.4 0.5 1.5 0.3 1.5-0.4 1.5-0.7 1.5-0.1 1.5 1 1.5-0.2 1.5 0.3 1.5 0.6 1.5-1.4 1.4-0.5 1.5 0.1 1.5 1 1.5-0.9 1.5 0.1 1.5 0.7 1.5-0.2 1.5 0.2 1.5-0.3 1.4-0.8 1.5 1.4 1.5 0.2 1.5-1.1 1.5 0.4 1.5 1 1.5-0.4 1.5-0.1 1.5-0.1 1.4-0.5 1.5-0.3 1.5 0.6 1.5-0.2 1.5 0.5 1.5-0.9 1.5-0.2 1.5 0.9 1.5 0.2 1.4-1.4 1.5 0.6 1.5 0.9 1.5 0.4 1.5-0.7 1.5-0.7 1.5 0.8 1.5-0.1 1.5 0.1 1.5-0.5 1.4-0.4 1.5 1.3 1.5-0.5 1.5 0 1.5 0.2 1.5 0.3 1.5-1 1.5 0.3 1.5-0.2 1.4-0.4 1.5 0.9 1.5-0.4 1.5 0.4 1.5-0.1 1.5-0.2 1.5 0.2 1.5 0.7 1.5-1.5 1.5 0.7 1.4 0.7 1.5 0.5 1.5-1.1 1.5-0.3 1.5-0.2 1.5-0.1 1.5 0.8 1.5-0.5 1.5 1.1 1.4-0.9 1.5-0.3 1.5 0.7 1.5-0.2 1.5-0.1 1.5 0 1.5-0.7 1.5 1.3 1.5-1.2 1.4 1.3 1.5-0.3 1.5 0.1 1.5-0.4 1.5 0.2 1.5-0.5 1.5 0.3 1.5-1.1 1.5 0.9 1.4 0.3 1.5-0.3 1.5-0.1 1.5 0.4 1.5 0.5 1.5-0.2 1.5-0.5 1.5-0.3 1.5 0.2 1.5 0.3 1.4-0.3 1.5 0.5 1.5-0.4 1.5-0.6 1.5 0.2" fill="none" stroke="#e37a2b" stroke-width="2.4" stroke-linejoin="round" stroke-linecap="round"/>
<path d="M643.3 344.5l1.5-1.6 1.4-2.5 1.5-1.8 1.5-3.2 1.5-0.3 1.5-0.4 1.5-1.2 1.5-1.2 1.5 0.2 1.5-1.2 1.5-1.1 1.4 0.3 1.5 0 1.5 0.5 1.5-1.4 1.5 0.1 1.5 0.1 1.5 0.6 1.5-0.8 1.5-0.3 1.4 0.5 1.5-0.1 1.5 0 1.5-0.6 1.5 0.3 1.5-0.1 1.5 0.4 1.5 0 1.5-1.2 1.5-0.3 1.4 0.2 1.5-0.4 1.5 0.8 1.5-0.3 1.5-0.3 1.5 0.1 1.5-0.7 1.5 1.5 1.5-0.1 1.4 0.2 1.5 2.7 1.5 1.9 1.5 3.7 1.5 1.2 1.5 0.1 1.5 0.3 1.5-0.4 1.5-0.4 1.4 0.9 1.5-0.2 1.5 0.1 1.5 0 1.5 0.5 1.5 0.1 1.5-0.6 1.5 0.5 1.5-0.6 1.5 0.1 1.4 0.5 1.5-0.3 1.5 0.1 1.5 0.2 1.5-0.6 1.5 0.5 1.5-0.1 1.5 1 1.5-1.1 1.4 0.9 1.5-0.4 1.5-0.8 1.5-0.1 1.5 0.9 1.5 0.4 1.5-0.7 1.5 0.4 1.5-0.3 1.4 0.7 1.5-1 1.5-0.2 1.5 1.3 1.5-0.3 1.5 0 1.5-0.6 1.5 1.2 1.5-0.9 1.5 0.2 1.4 0.3 1.5-0.7 1.5 1.2 1.5-0.2 1.5-0.3 1.5-0.6 1.5 0.5 1.5 0.2 1.5-0.5 1.4 0.4 1.5 0.1 1.5-0.2 1.5-0.2 1.5-1 1.5 1.6 1.5-0.5 1.5 0.2 1.5 0 1.4-0.7 1.5 0.3 1.5 0.1 1.5 0.5 1.5 0.2 1.5-0.5 1.5 0.3 1.5 0.1 1.5-0.5 1.5 0.8 1.4-0.2 1.5-0.6 1.5 0.4 1.5-0.3 1.5 0.6 1.5-0.6 1.5 0.6 1.5-0.9 1.5 0.3 1.4 0.2 1.5-0.5 1.5 0.5 1.5 0.5 1.5-0.9 1.5 0.5 1.5-0.4 1.5 0.5 1.5-0.4 1.4 0.9 1.5 0.2 1.5 0 1.5-0.9 1.5 1.2 1.5-0.1 1.5-0.1 1.5-0.7 1.5 0 1.5 0.5 1.4-0.7 1.5 0.3 1.5-0.4 1.5 0.1 1.5 0.7 1.5-0.3 1.5 0.1 1.5-0.2 1.5 0.1 1.4 0.1 1.5-0.3 1.5 0.3 1.5-0.2 1.5 0.3 1.5 0.1 1.5-0.5 1.5 0 1.5-0.1 1.4 0.3 1.5 0.4 1.5-0.2 1.5 0.1 1.5 0.8 1.5-0.3 1.5-1.1 1.5 0.7 1.5 1.2 1.4-1.1 1.5-0.1 1.5 0.6 1.5-1.5 1.5 0.5 1.5 0.2 1.5 0.4 1.5-0.2 1.5-0.2 1.5 0.2 1.4 0.5 1.5-0.4 1.5 0.1 1.5-0.1 1.5 0.6 1.5-0.5 1.5 0.1 1.5-0.1 1.5 0.1 1.4 0.7 1.5-1 1.5 0.1 1.5 0.9 1.5-0.5 1.5 0.3 1.5-0.1 1.5-0.6 1.5 0.2 1.5-0.6 1.4 0.8 1.5 0.5 1.5-0.5 1.5 1.1 1.5-1.7 1.5 0.6 1.5 0 1.5 0.1 1.5 0.5 1.4-0.3 1.5 0.3 1.5-0.1 1.5-0.4 1.5 0.7 1.5-1.2 1.5 1.2 1.5-0.8 1.5 0.6 1.4 0.3 1.5-0.7 1.5 0.1 1.5 0.2 1.5 0 1.5 0.2 1.5-0.4 1.5 0.4 1.5-0.2 1.4-0.4 1.5 1 1.5-0.3 1.5 0.1 1.5 0.1 1.5 0.2 1.5-0.4 1.5-0.2 1.5 0.1 1.5 0.7 1.4-0.9 1.5 0 1.5 0.2 1.5 0.5 1.5 0" fill="none" stroke="#2f8e47" stroke-width="2.4" stroke-linejoin="round" stroke-linecap="round"/>
<path d="M643.3 343.5l1.5-3.6 1.4-2.7 1.5-2.8 1.5-4.2 1.5-0.6 1.5-1.8 1.5-0.2 1.5-1.6 1.5-0.8 1.5-1.5 1.5 0.4 1.4-0.8 1.5 0.4 1.5 0.1 1.5-0.8 1.5 0 1.5 0.8 1.5-1 1.5-0.2 1.5-0.2 1.4-1 1.5 1 1.5-0.4 1.5 0.6 1.5-0.3 1.5-0.5 1.5-0.3 1.5-0.1 1.5-0.4 1.5-0.1 1.4-0.2 1.5 0.4 1.5-0.3 1.5 0.4 1.5-0.5 1.5-0.2 1.5 0.4 1.5 1.1 1.5 0.8 1.4 0.5 1.5 3.6 1.5 3.8 1.5 3.2 1.5 3.2 1.5 0.6 1.5 0.5 1.5 0.7 1.5-0.2 1.4 0.7 1.5-0.4 1.5-0.2 1.5 0.5 1.5 0.9 1.5 0.3 1.5 0.2 1.5-0.8 1.5 0 1.5-0.1 1.4 0.2 1.5 0.7 1.5 0.3 1.5-1.3 1.5 0.9 1.5-1.2 1.5 1.7 1.5-0.4 1.5 0 1.4-0.5 1.5-0.2 1.5 0.5 1.5-0.4 1.5 0.8 1.5-0.3 1.5 0.3 1.5-0.3 1.5 0.1 1.4-0.4 1.5-1.3 1.5 2 1.5-0.5 1.5-0.3 1.5 0.2 1.5-0.5 1.5 1 1.5-0.7 1.5 0.7 1.4-0.7 1.5 0.3 1.5 0 1.5 0.3 1.5 0.6 1.5-0.3 1.5-0.8 1.5 0.4 1.5-0.4 1.4 0.9 1.5-0.8 1.5-0.1 1.5 1.3 1.5-1 1.5-0.7 1.5 1.2 1.5-0.8 1.5 0.5 1.4-0.4 1.5 0.6 1.5 0.1 1.5-0.1 1.5 0 1.5 0.1 1.5 0.1 1.5-0.8 1.5 0.7 1.5 0.3 1.4-0.1 1.5-0.6 1.5 1.2 1.5-1.2 1.5 0 1.5-0.3 1.5 0.8 1.5 0.2 1.5-0.4 1.4 0 1.5-0.5 1.5 0.5 1.5 0.3 1.5 0.4 1.5-0.5 1.5-0.1 1.5-0.5 1.5 0.5 1.4-0.5 1.5 0 1.5 0.9 1.5 0.2 1.5-0.2 1.5-0.2 1.5 0.3 1.5-0.6 1.5 0 1.5-0.2 1.4 0.4 1.5 0.3 1.5-0.4 1.5 0.6 1.5-0.4 1.5 0.4 1.5-0.8 1.5 1.6 1.5-1.5 1.4 0 1.5 0.4 1.5-0.1 1.5 0.1 1.5-0.5 1.5-0.1 1.5 0.7 1.5-0.7 1.5 1 1.4-0.4 1.5 0 1.5 0.7 1.5-0.7 1.5 0.5 1.5-0.6 1.5 0.7 1.5 0.4 1.5-0.2 1.4-0.5 1.5-0.2 1.5 0 1.5 0.5 1.5-0.6 1.5 0.6 1.5-0.2 1.5-0.5 1.5 0.5 1.5 0.8 1.4-1.1 1.5 0.3 1.5 0.2 1.5-0.7 1.5 0.8 1.5-0.5 1.5 0.2 1.5-1 1.5 1.9 1.4-0.9 1.5 0 1.5-0.3 1.5 0.6 1.5 0.1 1.5-0.8 1.5 0.8 1.5-0.3 1.5 0.2 1.5-0.2 1.4 0.7 1.5-0.3 1.5-0.2 1.5 0 1.5-0.5 1.5 0.3 1.5 0 1.5 0.3 1.5-0.6 1.4 0.8 1.5-0.2 1.5 0.6 1.5-0.1 1.5-0.8 1.5 0.4 1.5 0.7 1.5-0.7 1.5 0.1 1.4 0.4 1.5-0.6 1.5 0.2 1.5-0.1 1.5-0.3 1.5 0.6 1.5-0.7 1.5 0.6 1.5 0 1.4-0.6 1.5 0.4 1.5 0.3 1.5-0.1 1.5-0.1 1.5 0.7 1.5-0.9 1.5 0.3 1.5 0.6 1.5-0.2 1.4-0.7 1.5 0.9 1.5-1.4 1.5 1.4 1.5-0.6" fill="none" stroke="#2e8db5" stroke-width="2.4" stroke-linejoin="round" stroke-linecap="round"/>
<path d="M704.8 342.2l1.5-1.2 1.5 0.2 1.5-0.5 1.5 0.1 1.5 0.3 1.5-1.3 1.5 0.7 1.4 0.8 1.5-0.5 1.5 1.6 1.5-1.2 1.5-0.9 1.5 0.9 1.5-0.3 1.5 0.6 1.5-1 1.4 0.4 1.5 0 1.5-0.4 1.5-0.4 1.5 0.4 1.5 1.3 1.5-1.1 1.5 0.1 1.5 0.7 1.5 0.3 1.4-0.6 1.5-0.1 1.5-0.1 1.5 0.4 1.5-0.5 1.5 0 1.5 0.3 1.5-0.3 1.5 0.5 1.4 0.5 1.5-0.8 1.5-0.4 1.5-0.9 1.5 2.4 1.5-0.8 1.5 0.2 1.5-0.6 1.5 0.6 1.4-0.5 1.5-0.4 1.5 0.9 1.5-0.3 1.5-0.9 1.5 0.4 1.5 1.3 1.5-1.9 1.5 1.4 1.4-0.4 1.5 0.3 1.5 0.1 1.5 0.1 1.5-0.7 1.5 0.8 1.5 0.2 1.5-0.3 1.5-0.3 1.5 1 1.4-1.4 1.5 0.8 1.5-0.7 1.5-0.3 1.5 0.5 1.5-0.1 1.5 0.5 1.5 0.2 1.5 0.6 1.4-0.9 1.5 0.2 1.5 1 1.5-1.4 1.5-0.6 1.5 0.6 1.5-0.4 1.5 0.8 1.5 0.4 1.5-0.6 1.4 0.3 1.5 0.4 1.5-1.1 1.5 0.4 1.5 0.5 1.5-0.5 1.5 0.2 1.5-0.4 1.5-0.4 1.4 1.1 1.5 0.3 1.5-1.3 1.5-0.6 1.5 1.5 1.5 0.2 1.5 0.1 1.5-0.6 1.5-0.1 1.4 0.2 1.5-0.6 1.5 0.9 1.5-0.2 1.5 0.4 1.5-1.4 1.5 0.1 1.5-0.1 1.5 1.1 1.4-1.1 1.5 0.5 1.5-0.2 1.5 0 1.5 0.5 1.5-0.1 1.5 0.7 1.5-0.6 1.5-0.1 1.5 0.4 1.4-0.6 1.5-0.6 1.5 0.8 1.5 0.3 1.5-0.1 1.5-0.5 1.5-0.8 1.5 0.7 1.5 0.1 1.4 0.6 1.5-0.8 1.5-0.1 1.5 0.5 1.5-0.2 1.5 0.3 1.5-0.7 1.5-0.4 1.5 0.5 1.5-0.1 1.4 0.3 1.5 0.3 1.5 0 1.5-0.2 1.5-0.2 1.5 0 1.5-0.5 1.5 0.1 1.5-0.4 1.4 0.4 1.5 0.5 1.5-0.2 1.5 0.8 1.5-1.6 1.5 1.1 1.5-0.1 1.5-1.1 1.5 1.4 1.4-0.2 1.5-0.3 1.5 0.2 1.5-0.4 1.5-0.1 1.5-0.2 1.5 0.3 1.5-0.5 1.5 0.5 1.4-0.5 1.5-0.3 1.5 1.4 1.5-0.8 1.5-0.2 1.5 1 1.5 0.5 1.5-1.7 1.5 0.4 1.5-0.8 1.4 0.4 1.5 0 1.5 0.1 1.5-0.3 1.5 0.5 1.5-0.3 1.5-0.7 1.5 0.5 1.5-0.4 1.4 0.2 1.5 0.1 1.5 0.3 1.5-0.9 1.5 0.8 1.5-0.7 1.5 0.9 1.5-0.9 1.5-0.1 1.5 0.5 1.4 0.4 1.5-0.8 1.5-0.1 1.5 0.2" fill="none" stroke="#e8873a" stroke-width="2.4" stroke-linejoin="round" stroke-linecap="round"/>
<path d="M704.8 344.5l1.5-0.5 1.5 0.3 1.5 0.2 1.5-0.5 1.5 0.3 1.5 0.2 1.5-0.5 1.4 0.4 1.5-0.4 1.5 0.5 1.5-0.3 1.5-0.3 1.5 0.3 1.5-0.1 1.5 0.1 1.5-0.2 1.4 0.3 1.5-0.1 1.5 0.2 1.5-0.7 1.5 0.9 1.5-0.6 1.5 0.6 1.5-0.5 1.5-0.2 1.5 0.8 1.4-1 1.5 0.9 1.5 0 1.5-0.4 1.5 0.5 1.5-0.7 1.5 0.1 1.5 1.1 1.5-0.4 1.4-0.2 1.5-0.4 1.5 0.5 1.5-0.1 1.5-0.5 1.5 0.5 1.5-0.4 1.5 0.6 1.5-0.8 1.4-0.2 1.5 0.9 1.5 0.4 1.5-0.2 1.5-0.9 1.5 0.5 1.5-0.5 1.5 0.8 1.5-0.2 1.4-0.2 1.5-0.4 1.5 0.4 1.5 0.3 1.5-0.5 1.5 0.1 1.5-0.2 1.5 0.3 1.5 0.1 1.5-0.2 1.4 0.8 1.5-0.9 1.5-0.3 1.5 0.2 1.5 0.5 1.5 0.2 1.5-0.9 1.5 0.6 1.5-0.1 1.4-0.2 1.5 0.3 1.5-0.2 1.5-0.5 1.5 0.7 1.5-0.8 1.5 0.5 1.5 0 1.5-0.2 1.5 0 1.4 0 1.5 0.1 1.5 0.4 1.5-0.7 1.5 0.6 1.5 0.2 1.5-0.6 1.5 0.1 1.5 0.2 1.4 0 1.5-0.2 1.5-0.4 1.5 0.6 1.5 0.4 1.5-0.2 1.5-0.4 1.5 0.3 1.5 0.1 1.4-0.4 1.5 0 1.5 0.3 1.5-0.2 1.5 0.3 1.5 0 1.5-0.1 1.5 0.4 1.5-0.6 1.4 0.1 1.5 0.2 1.5-0.2 1.5 0 1.5 0.3 1.5-0.1 1.5 0.1 1.5-0.7 1.5 1 1.5-0.6 1.4-0.3 1.5 0.7 1.5-0.1 1.5 0.1 1.5 0.2 1.5-1 1.5 0.5 1.5 0.3 1.5-0.1 1.4-0.3 1.5 0.2 1.5 0.2 1.5-0.5 1.5 0.5 1.5-0.2 1.5-0.2 1.5 0.3 1.5-0.3 1.5 0.3 1.4-1.1 1.5 1 1.5-0.4 1.5 0.5 1.5 0.1 1.5-0.3 1.5 0.1 1.5 0 1.5-0.1 1.4-0.3 1.5-0.4 1.5 0 1.5 0.6 1.5-0.5 1.5 0 1.5 0.8 1.5-0.1 1.5-0.1 1.4-0.7 1.5 0.7 1.5 0.1 1.5-0.6 1.5 0.5 1.5 0 1.5-0.2 1.5 0.1 1.5 0.9 1.4-0.4 1.5-0.7 1.5 0.8 1.5-0.9 1.5 0.4 1.5-0.1 1.5 0 1.5 0.7 1.5-0.4 1.5 0.1 1.4-0.4 1.5-0.4 1.5 0.6 1.5-0.1 1.5 0.6 1.5-0.5 1.5 0 1.5-0.1 1.5-0.2 1.4-0.3 1.5 0.5 1.5-0.1 1.5 0.6 1.5-0.7 1.5 0.2 1.5 0.6 1.5-0.7 1.5 0.3 1.5-0.6 1.4 0.2 1.5 0.2 1.5-0.6 1.5 0.6" fill="none" stroke="#444444" stroke-width="2.4" stroke-linejoin="round" stroke-linecap="round"/>
<path d="M1093.6 342.8l1.5-0.3 1.4-0.1 1.5 0.4 1.4-0.9 1.5 0 1.4 0.4 1.5 0.5 1.4-1.6 1.5-0.1 1.4 0.1 1.5 0.1 1.4-0.4 1.5 0.9 1.5-0.6 1.4 1 1.5 0.5 1.4-0.4 1.5 0.2 1.4-0.3 1.5-0.6 1.4 0.7 1.5-0.3 1.4-0.6 1.5 0.2 1.4 0.9 1.5 0.4 1.5-1.5 1.4 1.7 1.5 0.4 1.4 0.1 1.5-1.7 1.4 1.4 1.5-0.6 1.4-0.1 1.5-0.8 1.4 1.5 1.5-0.8 1.4-0.1 1.5-0.6 1.5 0.9" fill="none" stroke="#7d7d7d" stroke-width="2.4" stroke-linejoin="round" stroke-linecap="round"/>
<path d="M1153.7 337.9l1.4-0.7 1.5-1.8 1.5-0.6 1.4 0.6 1.5-0.6 1.4 0.9 1.5-0.9 1.4 0.4 1.5-0.4 1.4-0.9 1.5-0.7 1.4 0.9 1.5 0.1 1.5 0 1.4-0.7 1.5 0.4 1.4-0.7 1.5-0.4 1.4 0.3 1.5 0.4 1.4-0.7 1.5 0.6 1.4 0.5 1.5-1.7 1.4-0.6 1.5 0.2 1.5 0.8 1.4 1.5 1.5-1.6 1.4-0.9 1.5 0.5 1.4-1.1 1.5 1 1.4-0.8 1.5 0 1.4-0.2 1.5 0.8 1.4-0.8" fill="none" stroke="#2aa070" stroke-width="2.4" stroke-linejoin="round" stroke-linecap="round"/>
<path d="M1153.7 336.1l1.4-2.4 1.5-0.8 1.5-1.1 1.4-0.3 1.5-1.3 1.4-1 1.5-0.2 1.4-0.7 1.5-0.1 1.4-0.4 1.5 1.1 1.4-1.2 1.5-0.6 1.5 0.7 1.4-0.8 1.5 1 1.4-0.9 1.5 0 1.4-0.5 1.5 0.1 1.4-1.3 1.5 2.8 1.4-1 1.5-0.6 1.4-0.5 1.5 0.3 1.5-0.1 1.4 0.3 1.5-0.2 1.4-0.4 1.5-1.4 1.4 1.1 1.5-2 1.4 0.8 1.5 0.6 1.4-0.7 1.5-0.2 1.4 1" fill="none" stroke="#a0a0a0" stroke-width="2.4" stroke-linejoin="round" stroke-linecap="round"/>
<path d="M1153.7 337.1l1.4-5.7 1.5-0.5 1.5-1.6 1.4-0.5 1.5 0.7 1.4-1.9 1.5-0.6 1.4-1 1.5 0.3 1.4-0.4 1.5 0 1.4 0.2 1.5-1.1 1.5 0.3 1.4-0.4 1.5 0.6 1.4-0.6 1.5 1.1 1.4-0.3 1.5-1 1.4 0.6 1.5 0 1.4-0.4 1.5 0.9 1.4-1.1 1.5-0.2 1.5 0.3 1.4 0.4 1.5-1.7 1.4 0.7 1.5 0.7 1.4-0.4 1.5 0.5 1.4 0 1.5 0 1.4-0.7 1.5-0.8 1.4-0.2" fill="none" stroke="#7d7d7d" stroke-width="2.4" stroke-linejoin="round" stroke-linecap="round"/>
<path d="M1153.7 336.3l1.4-5.4 1.5-1.7 1.5 0.3 1.4-0.8 1.5-1.2 1.4-0.8 1.5-0.9 1.4 0.8 1.5-0.2 1.4-2.3 1.5 1.2 1.4-0.8 1.5 0.4 1.5 0.6 1.4-1.6 1.5 0.4 1.4-0.7 1.5 0.3 1.4 0.8 1.5-0.6 1.4-0.7 1.5 0.8 1.4-0.6 1.5-0.7 1.4 1.2 1.5-0.6 1.5-0.4 1.4-0.6 1.5 0.5 1.4 0.2 1.5-0.8 1.4 0.5 1.5-0.7 1.4-0.1 1.5 0.2 1.4-0.7 1.5-0.3 1.4 1.3" fill="none" stroke="#909090" stroke-width="2.4" stroke-linejoin="round" stroke-linecap="round"/>
<path d="M1153.7 335.9l1.4-5 1.5-2.2 1.5-0.8 1.4-1.2 1.5 0.1 1.4-0.5 1.5-0.1 1.4-1.2 1.5-0.6 1.4 0.4 1.5-0.4 1.4-0.6 1.5-0.6 1.5 0.8 1.4-1.4 1.5 0.4 1.4 0 1.5 0 1.4 0.2 1.5 0.2 1.4-0.4 1.5-0.2 1.4-0.2 1.5-0.8 1.4-0.4 1.5 0.7 1.5-0.4 1.4 0.8 1.5 0.6 1.4-1.2 1.5-0.3 1.4-0.7 1.5-0.7 1.4 1.1 1.5-0.7 1.4 0 1.5 0.3 1.4-0.4" fill="none" stroke="#6e6e6e" stroke-width="2.4" stroke-linejoin="round" stroke-linecap="round"/>
<path d="M1153.7 336l1.4-2 1.5 0.5 1.5 0.1 1.4-2 1.5-1 1.4-0.7 1.5 0.3 1.4-1.2 1.5 0.2 1.4-0.9 1.5 0.7 1.4 0 1.5-1.2 1.5 1.1 1.4 0 1.5-1.4 1.4 0.3 1.5 1.2 1.4-2 1.5 1.1 1.4-0.5 1.5-0.3 1.4-1.3 1.5 1 1.4-0.6 1.5 0.4 1.5-0.4 1.4 0.9 1.5-0.9 1.4 0.2 1.5 0.1 1.4-0.8 1.5-0.5 1.4 0.1 1.5 0.3 1.4-0.6 1.5 0.8 1.4-0.9" fill="none" stroke="#c8a070" stroke-width="2.4" stroke-linejoin="round" stroke-linecap="round"/>
<path d="M1153.7 330.6l1.4-3 1.5-3.1 1.5-1.6 1.4-1.3 1.5-1.7 1.4-1.9 1.5-0.2 1.4-1.6 1.5-0.1 1.4-0.3 1.5 0 1.4-0.6 1.5-0.4 1.5-0.9 1.4-0.4 1.5-0.3 1.4 0.4 1.5 0.8 1.4-0.4 1.5-0.2 1.4-0.3 1.5 0.7 1.4-0.3 1.5 0 1.4 0.4 1.5 0 1.5-0.7 1.4 1 1.5-0.5 1.4 0.7 1.5 0.5 1.4-0.2 1.5 0.5 1.4 0 1.5 1 1.4-0.8 1.5 0.5 1.4-0.5" fill="none" stroke="#2a93c0" stroke-width="2.4" stroke-linejoin="round" stroke-linecap="round"/>
<path d="M1211.9 341.5l1.4 0.2 1.5 0.3 1.4-0.4 1.5 0.1 1.4 0.2 1.5-1 1.4 0.7 1.5-0.3 1.4-0.2 1.5 0.3 1.4 0 1.5 0 1.5-0.1 1.4 0.1 1.5 0 1.4 0.1 1.5 0.3 1.4-0.1 1.5 0.1 1.4-0.3 1.5-0.4 1.4 0.8 1.5-0.1 1.4 0.1 1.5-0.3 1.5-0.4 1.4 0.5 1.5-0.2 1.4 0.9 1.5-0.8 1.4-0.2 1.5 0.4 1.4 0.4 1.5-0.8 1.4 0.2 1.5-0.6 1.4 0.8 1.5-0.1 1.5 0 1.4-0.1 1.5 0.6 1.4-1.1 1.5 0.3 1.4 0.3 1.5 0 1.4-0.3 1.5 0.1 1.4 0.2 1.5 0 1.4-0.2 1.5 0.2 1.5 0 1.4 0 1.5 0 1.4 0.4 1.5-0.2 1.4-0.4 1.5-0.2 1.4 0.3 1.5 1.3 1.4-0.8 1.5-0.6 1.5-0.5 1.4 0.2 1.5 0.5 1.4 0 1.5 0 1.4-0.7 1.5 0.5 1.4 0.4 1.5-0.6 1.4 0 1.5 1 1.4-0.5 1.5-0.6 1.5 0.1 1.4 0.7 1.5-0.4 1.4-0.3 1.5 0.2 1.4 0.5 1.5-0.3 1.4-0.3 1.5 0 1.4 0.5 1.5-1.1 1.4 0.7 1.5 0.6 1.5-0.4 1.4 0.9 1.5-0.8 1.4-0.2 1.5-0.9 1.4 0.8 1.5 0 1.4-0.2 1.5 0.2 1.4 0.3 1.5-0.7 1.4 0.3 1.5-0.4 1.5 0.2 1.4 0.7 1.5-0.2 1.4 0 1.5 0 1.4-0.3 1.5 0.2 1.4 0.3 1.5-0.8 1.4 0 1.5 0.5 1.4 0.4 1.5-0.2 1.5 0 1.4 0.1 1.5 0 1.4-0.4 1.5 0 1.4-0.1 1.5 0.5 1.4-0.4 1.5-0.6 1.4 0.6 1.5 0.2 1.4-1.1 1.5 0.9 1.5 0.3 1.4-0.5 1.5 0.5 1.4-0.1 1.5-0.5 1.4 0.6 1.5 0.3 1.4-0.8 1.5 0 1.4 0.8 1.5-0.4 1.4-0.5 1.5 0.3 1.5-0.2 1.4 0.3 1.5 0.2 1.4 0 1.5-0.1 1.4-0.2 1.5 1 1.4-0.2 1.5-0.7 1.4-0.3 1.5 0.5 1.4-0.2 1.5 0.4 1.5 0.1 1.4-0.6 1.5 0.1 1.4 0.2 1.5 0.2 1.4-0.5 1.5 0.1 1.4 0.1 1.5-0.1 1.4 0.1 1.5-0.3 1.5 0 1.4-0.5 1.5 0.2 1.4 0.5 1.5 0.4 1.4-0.6 1.5 0.4 1.4-0.8 1.5 1.1 1.4-0.4 1.5-0.7 1.4 0.6 1.5-0.3 1.5 0 1.4 0.5 1.5-0.5 1.4 0.6 1.5-0.2 1.4-0.9 1.5 0.8 1.4-0.1 1.5 0.5 1.4-0.9 1.5 0.8 1.4-0.1 1.5 0 1.5 0.1 1.4 0.2 1.5-0.4 1.4 0.1 1.5-0.2 1.4 0.3 1.5 0 1.4-0.2" fill="none" stroke="#909090" stroke-width="2.4" stroke-linejoin="round" stroke-linecap="round"/>
<path d="M1211.9 340.7l1.4 0.3 1.5-0.3 1.4 0.1 1.5-0.5 1.4 0.1 1.5 0.1 1.4-0.2 1.5 0.6 1.4-0.7 1.5 0.4 1.4 0.2 1.5-0.3 1.5 0.5 1.4-1 1.5 0.5 1.4 0.6 1.5-0.1 1.4-0.2 1.5 0 1.4-0.4 1.5-0.1 1.4-0.1 1.5 0.2 1.4 0.5 1.5-0.7 1.5-0.1 1.4 1.1 1.5-0.4 1.4-0.1 1.5 0.1 1.4-0.6 1.5 0.2 1.4 0.1 1.5 0.5 1.4 0.3 1.5-0.4 1.4-0.1 1.5 0 1.5 0.5 1.4-0.3 1.5-0.3 1.4-0.3 1.5 0.3 1.4-0.1 1.5-0.1 1.4 0 1.5-0.4 1.4 0.7 1.5-0.4 1.4 0.5 1.5-0.8 1.5 0.1 1.4-0.1 1.5 0.3 1.4 0.1 1.5 0.4 1.4-0.6 1.5-0.3 1.4 1.4 1.5-1.6 1.4 0.9 1.5-0.5 1.5 0.5 1.4-0.2 1.5-0.4 1.4 0.4 1.5-0.7 1.4 0.6 1.5-0.2 1.4 0.4 1.5 0 1.4-0.1 1.5-0.3 1.4-0.4 1.5 0.5 1.5 0.5 1.4-0.2 1.5 0.2 1.4-0.6 1.5 0.1 1.4 0.4 1.5-0.3 1.4-0.4 1.5 0.2 1.4 0.3 1.5-0.5 1.4 0.2 1.5 0.3 1.5-0.3 1.4-0.6 1.5 1.1 1.4-0.8 1.5 0.4 1.4-0.3 1.5 0.1 1.4 0.1 1.5 0.1 1.4-0.1 1.5-0.2 1.4 0.1 1.5 0.7 1.5-0.7 1.4-0.3 1.5 0.1 1.4 0.2 1.5 0.8 1.4-0.9 1.5 0 1.4-0.3 1.5 0.8 1.4-0.2 1.5 0.1 1.4-0.1 1.5 0.5 1.5-0.5 1.4 0 1.5 0 1.4-0.7 1.5 0.8 1.4-0.1 1.5-0.5 1.4 0.5 1.5-0.6 1.4 0.3 1.5 0.4 1.4 0 1.5-0.3 1.5 0.1 1.4-0.1 1.5 0.2 1.4-0.4 1.5 0.4 1.4 0 1.5-0.1 1.4 0.3 1.5-0.3 1.4 0 1.5 0.4 1.4 0.1 1.5-1.1 1.5 0.6 1.4-0.1 1.5 0.2 1.4-0.8 1.5 0.6 1.4 0.6 1.5-0.8 1.4 0.5 1.5-0.5 1.4 0.2 1.5-0.5 1.4 0.2 1.5 0.3 1.5-0.6 1.4-0.5 1.5 1.2 1.4-0.6 1.5 0.2 1.4 0 1.5 0.6 1.4-0.1 1.5-0.8 1.4 0.4 1.5 0.2 1.5-0.8 1.4 0.2 1.5 0.2 1.4 0.6 1.5-0.4 1.4-0.5 1.5 1.2 1.4-0.1 1.5-0.3 1.4-0.6 1.5 0.2 1.4-0.1 1.5 0.1 1.5 0 1.4-0.3 1.5-0.9 1.4 1.1 1.5-0.3 1.4 0.6 1.5-0.7 1.4 0.5 1.5 0 1.4 0.2 1.5 0.1 1.4-0.1 1.5 0.2 1.5 0.1 1.4-1.1 1.5 0.5 1.4-0.2 1.5 0.1 1.4 0.7 1.5-0.5 1.4 0.3" fill="none" stroke="#22a48a" stroke-width="2.4" stroke-linejoin="round" stroke-linecap="round"/>
<path d="M1211.9 339.3l1.4-0.4 1.5-0.1 1.4 0 1.5 0 1.4 0.2 1.5-0.1 1.4-0.7 1.5-0.5 1.4 0.6 1.5 0.7 1.4-0.3 1.5-0.3 1.5-0.1 1.4-0.1 1.5 0 1.4 0.5 1.5 0.3 1.4 0.7 1.5-1.4 1.4 0.3 1.5 0.7 1.4-0.4 1.5 0.2 1.4 0 1.5-1.2 1.5 1.2 1.4-1.5 1.5 1.4 1.4 0.3 1.5-0.5 1.4-1.2 1.5 1.4 1.4-0.4 1.5 1.5 1.4-1.5 1.5 1 1.4-0.6 1.5-0.8 1.5 0.8 1.4-0.5 1.5 0.5 1.4 0.1 1.5-0.4 1.4-0.4 1.5 0.5 1.4 0.1 1.5 0.5 1.4 0.4 1.5-1 1.4 0.2 1.5-0.3 1.5-0.4 1.4 0.2 1.5 0.9 1.4-0.6 1.5-0.1 1.4 0.3 1.5 1.1 1.4-0.8 1.5-0.4 1.4-0.4 1.5 0.6 1.5 0.6 1.4-1.5 1.5 0.7 1.4 0.2 1.5-0.5 1.4-0.1 1.5 0.4 1.4 0.3 1.5 0 1.4-0.7 1.5 0.5 1.4-0.4 1.5 1.3 1.5-0.7 1.4-0.1 1.5 0.1 1.4 0.8 1.5-0.9 1.4-1 1.5 0.6 1.4 0.5 1.5 0.1 1.4 0.3 1.5-0.8 1.4 0.5 1.5-0.2 1.5-0.7 1.4 0 1.5 0.2 1.4 1.2 1.5-0.6 1.4-0.9 1.5 1.3 1.4-1.4 1.5 0.7 1.4-0.5 1.5 0.7 1.4 0.4 1.5 0 1.5-1.4 1.4 1 1.5 0.5 1.4-1.1 1.5 1.2 1.4-0.7 1.5-0.3 1.4 0.1 1.5-0.1 1.4 0.3 1.5 1.2 1.4-1.4 1.5 0.1 1.5 0.1 1.4-0.4 1.5-0.1 1.4 0.3 1.5-0.7 1.4-0.4 1.5 1.1 1.4 0.3 1.5 0.5 1.4-1 1.5 1.3 1.4-1.9 1.5 0.4 1.5 0.8 1.4-0.7 1.5 0.9 1.4 0.1 1.5-1 1.4 1 1.5-0.7 1.4 0.2 1.5-0.9 1.4 0.6 1.5-0.6 1.4 0.3 1.5 0.9 1.5 0.2 1.4 0.6 1.5-1.2 1.4 1.5 1.5-1 1.4 0.8 1.5-0.9 1.4-0.8 1.5 0.9 1.4-0.2 1.5 0 1.4-0.4 1.5 0.9 1.5-0.8 1.4 0.1 1.5 0.5 1.4 0 1.5-1.2 1.4 0.2 1.5 0.2 1.4 0.7 1.5-0.3 1.4 0.5 1.5 0.3 1.5-0.7 1.4 0.1 1.5 0.3 1.4 0 1.5-0.9 1.4 0.5 1.5 0.6 1.4-2 1.5 2.1 1.4-1.1 1.5 0.7 1.4-0.9 1.5 0.3 1.5-0.5 1.4 0.6 1.5 0.3 1.4-1.2 1.5 0.9 1.4 0 1.5 0 1.4 0.3 1.5-0.6 1.4-0.7 1.5 0.1 1.4 0.7 1.5-0.2 1.5-0.1 1.4 0.8 1.5-1.2 1.4 0.7 1.5 1.1 1.4-1.3 1.5 0.8 1.4-0.6" fill="none" stroke="#e8a040" stroke-width="2.4" stroke-linejoin="round" stroke-linecap="round"/>
<path d="M1211.9 337.7l1.4 0.5 1.5-0.4 1.4-0.6 1.5 1.5 1.4 0.2 1.5-0.9 1.4 0 1.5-1.3 1.4 0.6 1.5 0.2 1.4 0.3 1.5 1 1.5-0.4 1.4-0.5 1.5-0.3 1.4 0.3 1.5-0.3 1.4-0.4 1.5 0.8 1.4-0.2 1.5 0.3 1.4-1.2 1.5 1.7 1.4-1.4 1.5-0.2 1.5 1.5 1.4-0.8 1.5-0.9 1.4 1.1 1.5-0.2 1.4-0.4 1.5-0.7 1.4 0.3 1.5 0.7 1.4 0.4 1.5 0 1.4-1 1.5 1.3 1.5-0.8 1.4-0.7 1.5 1 1.4-0.4 1.5-0.1 1.4-0.5 1.5 1.2 1.4-0.8 1.5 0.1 1.4 0 1.5 0.9 1.4-1.1 1.5 0.7 1.5-0.4 1.4 0.5 1.5-1.5 1.4 1 1.5-1.1 1.4 1.5 1.5-0.2 1.4-0.9 1.5 1 1.4-0.4 1.5-0.4 1.5 0.9 1.4 0.1 1.5-0.2 1.4-0.6 1.5 0.3 1.4-0.5 1.5 0.9 1.4 0.1 1.5 0.4 1.4-0.4 1.5 0.1 1.4-0.2 1.5 0.5 1.5-0.1 1.4-0.2 1.5-0.7 1.4 0.7 1.5 0.2 1.4-0.9 1.5-0.1 1.4 0.9 1.5 0 1.4 0.8 1.5-0.1 1.4-0.8 1.5-0.8 1.5-0.2 1.4 0.6 1.5 0.7 1.4-0.5 1.5 1 1.4-0.7 1.5 0.6 1.4-0.7 1.5-0.8 1.4-0.4 1.5 1.1 1.4-0.1 1.5 1.1 1.5-0.6 1.4-1.2 1.5 0.2 1.4 0.2 1.5 0.2 1.4-0.7 1.5 1 1.4 0 1.5-1.6 1.4 1.9 1.5-0.7 1.4 0.5 1.5-1.1 1.5 1 1.4 0 1.5 0 1.4-0.6 1.5 1 1.4 0.2 1.5-0.7 1.4 0.1 1.5-0.5 1.4 0.5 1.5 0.1 1.4-0.5 1.5-0.1 1.5-0.3 1.4 0.5 1.5 1 1.4-1 1.5 0 1.4 0 1.5-0.3 1.4 0.4 1.5-0.7 1.4 0.7 1.5-0.9 1.4 1.3 1.5 0.7 1.5-0.8 1.4-2 1.5 1.6 1.4 0 1.5-0.3 1.4 0.4 1.5-0.4 1.4 0.1 1.5-1.1 1.4 0.5 1.5 0.5 1.4-0.3 1.5 0.1 1.5 0.9 1.4-1.2 1.5 0.9 1.4-0.7 1.5 0.3 1.4-0.4 1.5-0.3 1.4 0.4 1.5 0.6 1.4-0.1 1.5-0.5 1.5 0.5 1.4 0 1.5-0.1 1.4 0.1 1.5-0.5 1.4 0.5 1.5-0.3 1.4 0.4 1.5 0.6 1.4-1.4 1.5-0.1 1.4 0.8 1.5-0.7 1.5 0.2 1.4 0.8 1.5-1.3 1.4 1.8 1.5-1.1 1.4-0.4 1.5 0.9 1.4-1.4 1.5 1.1 1.4-1 1.5 0.8 1.4-0.5 1.5 0.4 1.5-1.3 1.4 1 1.5-0.3 1.4 0.2 1.5 0.2 1.4 0.3 1.5-0.4 1.4-0.3" fill="none" stroke="#e37a2b" stroke-width="2.4" stroke-linejoin="round" stroke-linecap="round"/>
<path d="M1211.9 338.4l1.4 0 1.5 0.1 1.4-0.7 1.5 0.7 1.4-0.7 1.5 0.9 1.4-1 1.5-0.5 1.4 0.4 1.5-0.3 1.4-1.4 1.5 0 1.5-0.3 1.4-0.1 1.5 0.3 1.4-0.1 1.5 0.3 1.4-0.6 1.5 1.5 1.4-0.7 1.5-0.7 1.4 0.1 1.5 0.4 1.4 0.2 1.5-0.7 1.5 0.6 1.4 0.5 1.5-1.3 1.4 0.9 1.5-0.4 1.4 1 1.5 0.5 1.4-1.7 1.5-0.6 1.4 2.1 1.5-1 1.4-0.6 1.5 0.2 1.5 0.1 1.4 0 1.5 0.5 1.4-1.1 1.5 0 1.4 0.3 1.5 1.5 1.4-2.2 1.5 0.9 1.4-0.3 1.5-0.8 1.4 0.4 1.5 0.7 1.5-0.6 1.4 0.2 1.5 0.6 1.4-0.4 1.5 1 1.4-0.1 1.5-1 1.4-0.6 1.5 1.3 1.4-1.2 1.5 0.5 1.5-0.9 1.4 1.2 1.5-1.8 1.4 1.3 1.5 0.4 1.4-0.3 1.5 1.1 1.4-1.2 1.5 0.3 1.4-0.4 1.5 0.4 1.4 1.3 1.5-0.1 1.5-1 1.4 0.3 1.5-1.2 1.4 1.1 1.5-0.8 1.4 0.4 1.5-0.9 1.4 0.8 1.5 0 1.4 0.7 1.5-0.7 1.4-0.1 1.5 0.5 1.5-0.4 1.4 1 1.5-0.4 1.4-0.3 1.5 0.4 1.4-0.8 1.5 0.4 1.4 0.7 1.5 0.2 1.4-0.4 1.5 0.4 1.4-0.1 1.5 0.4 1.5-1 1.4 0.4 1.5 0 1.4-0.3 1.5 1.8 1.4-1.3 1.5 0.2 1.4-0.4 1.5 0.1 1.4 0.1 1.5-0.4 1.4 1.7 1.5-0.3 1.5-1.2 1.4-0.1 1.5 1.3 1.4-1.1 1.5 0.2 1.4 1.2 1.5-0.4 1.4-0.5 1.5 0.2 1.4-1.1 1.5 0.7 1.4-0.2 1.5 0.8 1.5 0.3 1.4-0.3 1.5-1.1 1.4-0.3 1.5 1.5 1.4-0.4 1.5 1.3 1.4-2.1 1.5 1.4 1.4-1.2 1.5-0.2 1.4 1.4 1.5-0.3 1.5-0.9 1.4-0.3 1.5 1 1.4 0.3 1.5-0.8 1.4-0.5 1.5 1.3 1.4-0.2 1.5-1.1 1.4 0.5 1.5 0.6 1.4-0.5 1.5-0.3 1.5-0.3 1.4 0.4 1.5 0.2 1.4 0.9 1.5-1.2 1.4 0 1.5 0.1 1.4 0.1 1.5-0.1 1.4-0.4 1.5 0.7 1.5 0.4 1.4-1.1 1.5 0.6 1.4 0 1.5-0.4 1.4 0.3 1.5-0.1 1.4 0.6 1.5-1.3 1.4 1.4 1.5-1.5 1.4 1.4 1.5-0.3 1.5-0.1 1.4-0.8 1.5 0.4 1.4 0.3 1.5 0.5 1.4-1.3 1.5 0.5 1.4-0.2 1.5 0.3 1.4 0.2 1.5-0.6 1.4 0.1 1.5-0.4 1.5 0.5 1.4 0.8 1.5-1.2 1.4 0.4 1.5 0.2 1.4 1.5 1.5-1.2 1.4-0.6" fill="none" stroke="#d4392d" stroke-width="2.2" stroke-linejoin="round" stroke-linecap="round"/>
<path d="M100.7 780l1.5-0.3 1.5-0.1 1.5 0.3 1.4 0.4 1.5-0.4 1.5 0.1 1.5 0.3 1.5 0.7 1.5-0.2 1.5-0.7 1.5 0.3 1.4 0.6 1.5-0.6 1.5-0.1 1.5-0.3 1.5 0.1 1.5 0 1.5 0.4 1.4 0.3 1.5-0.4 1.5-0.8 1.5 1.1 1.5-1 1.5 0.9 1.5-0.1 1.5-0.5 1.4 0.3 1.5-0.2 1.5 0.4 1.5-0.5 1.5-0.2 1.5 0.9 1.5-0.7 1.5 0.1 1.4-0.2 1.5 1.2 1.5-1.1 1.5 0.8 1.5-0.4 1.5 0.1" fill="none" stroke="#7d7d7d" stroke-width="2.4" stroke-linejoin="round" stroke-linecap="round"/>
<path d="M161.2 780.6l1.4 0 1.5-0.1 1.5-0.2 1.5-0.2 1.5 0.3 1.5-0.3 1.5 0.1 1.5-0.2 1.4 0.6 1.5-0.4 1.5 0 1.5 0 1.5-0.1 1.5-0.2 1.5 0.2 1.5-0.1 1.4 0.2 1.5-0.1 1.5 0.1 1.5-0.4 1.5 0 1.5-0.1 1.5 0.4 1.4-0.1 1.5-0.6 1.5 0.3 1.5 0.6 1.5-0.6 1.5 0.1 1.5 0.2 1.5 0 1.4 0.1 1.5-0.1 1.5 0 1.5 0.1 1.5-0.2 1.5 0.1 1.5-0.4 1.4-0.1 1.5 0.6 1.5 0.4 1.5-0.3 1.5 0.2 1.5-0.6 1.5 1.2 1.5-0.1 1.4-0.3 1.5-0.4 1.5-0.1 1.5 0.3 1.5-0.1 1.5 0.1 1.5-0.2 1.4-0.4 1.5 1.1 1.5-1.2 1.5 0.3 1.5 0.3 1.5-0.2 1.5 0.2 1.5-0.2 1.4 0 1.5-0.1 1.5 0.5 1.5-0.4 1.5 0.3 1.5-0.1 1.5-0.3 1.5 0.3 1.4-0.2 1.5 0 1.5 0 1.5 0.4 1.5-0.5 1.5 0.1 1.5-0.5 1.4 0.8 1.5-0.5 1.5 0.3 1.5 0 1.5-0.5 1.5 0.4 1.5-0.2 1.5 0.2 1.4 0.2 1.5-0.2 1.5 0.1 1.5-0.1 1.5-0.5 1.5 0.3 1.5 0.6 1.4-0.9 1.5 0.3 1.5-0.1 1.5-0.2 1.5 0.6 1.5-0.3 1.5 0.1 1.5 0.1 1.4 0 1.5-0.1 1.5-0.3 1.5 0.1 1.5 0.1 1.5-0.2 1.5 0.8 1.4-0.6 1.5-0.1 1.5 0.1 1.5-0.3 1.5 0.3 1.5-0.3 1.5 0.3 1.5-0.2 1.4 0.2 1.5 0 1.5-0.2 1.5 0 1.5 0.4 1.5-0.5 1.5 0.3 1.5-0.1 1.4 0.7 1.5-0.7 1.5 0.5 1.5-0.7 1.5 0.4 1.5-0.1 1.5-0.1 1.4 0.3 1.5-0.3 1.5 0.3 1.5-0.3 1.5-0.2 1.5-0.2 1.5 0 1.5 0.4 1.4 0.2 1.5-0.4 1.5-0.3 1.5 0.6 1.5-0.5 1.5 0.3 1.5 0.7 1.4-0.7 1.5-0.5 1.5 0.3 1.5-0.1 1.5 0.2 1.5 0.5 1.5 0.2 1.5-0.4 1.4-0.2 1.5 0.2 1.5-0.1 1.5-0.4 1.5-0.1 1.5 0.7 1.5-0.1 1.4-0.3 1.5 0 1.5 0.6 1.5-1.4 1.5 0.6 1.5 0.1 1.5 0.6 1.5-0.6 1.4 0.4 1.5-0.5 1.5 0.1 1.5 0 1.5-0.1 1.5 0.3 1.5-0.2 1.5 0.6 1.4-0.8 1.5 0.2 1.5-0.7 1.5 0.7 1.5 0.6 1.5-1 1.5 0.6 1.4 0 1.5-0.2 1.5-0.4 1.5-0.2 1.5 0.6 1.5-0.1 1.5 0 1.5 0.2 1.4-0.1 1.5-0.1 1.5 0 1.5-0.3 1.5 0.8 1.5-0.6 1.5 0 1.4-0.3 1.5 0.5 1.5-0.1 1.5-0.1 1.5 0.2 1.5 0 1.5 0 1.5 0 1.4 0.1 1.5-0.1 1.5 0 1.5 0 1.5 0.1 1.5-0.6 1.5 0.2 1.4 0.1 1.5 0.2 1.5-0.4 1.5 0.2 1.5 0 1.5-0.1 1.5 0.1 1.5-0.3 1.4 0.4 1.5 0 1.5-0.2 1.5 0.1 1.5-0.2 1.5-0.1 1.5-0.2 1.4 0.1 1.5 0.3 1.5 0 1.5 0.1 1.5-0.4 1.5 0.3 1.5 0.2 1.5 0 1.4-0.5 1.5 0.4 1.5 0.5 1.5-0.9" fill="none" stroke="#22a48a" stroke-width="2.4" stroke-linejoin="round" stroke-linecap="round"/>
<path d="M161.2 779.7l1.4-0.9 1.5-0.7 1.5-0.4 1.5 0 1.5 0 1.5 0.2 1.5 0.3 1.5-0.1 1.4-0.6 1.5-0.1 1.5 0.1 1.5 0.2 1.5-0.4 1.5 0.1 1.5 0 1.5 0.1 1.4 0.1 1.5 0 1.5-0.4 1.5-0.4 1.5 0 1.5 0.4 1.5-0.2 1.4 0.1 1.5-0.1 1.5-0.1 1.5-0.1 1.5 0.4 1.5-0.7 1.5 0.4 1.5 0.2 1.4-0.9 1.5 0.8 1.5-0.2 1.5 0.1 1.5-0.5 1.5 0.9 1.5-0.8 1.4 0.5 1.5-0.5 1.5 0.3 1.5 0.8 1.5 0.9 1.5-0.3 1.5-0.3 1.5 0.5 1.4 0.1 1.5-0.4 1.5 0.7 1.5-0.3 1.5-0.1 1.5 0 1.5-0.3 1.4 0.3 1.5 0.3 1.5 0 1.5-0.3 1.5-0.1 1.5-0.2 1.5 0.1 1.5 0.5 1.4-0.5 1.5 0.3 1.5-0.5 1.5 0.4 1.5 0 1.5 0.1 1.5-0.4 1.5 0.2 1.4-0.7 1.5 0.4 1.5 0.6 1.5-0.3 1.5-0.3 1.5 0.1 1.5 0 1.4 0.1 1.5 0.4 1.5 0 1.5-0.6 1.5 0.4 1.5-0.2 1.5-0.2 1.5 0.7 1.4 0 1.5-0.6 1.5 0.2 1.5 0 1.5-0.4 1.5 0.3 1.5 0 1.4-0.1 1.5 0.5 1.5-0.9 1.5 0.3 1.5 0.3 1.5-0.5 1.5 0.5 1.5 0 1.4 0.1 1.5-0.2 1.5 0.1 1.5-0.3 1.5 0.2 1.5-0.2 1.5 0 1.4 0 1.5 0 1.5 0 1.5 0.2 1.5 0.3 1.5-0.6 1.5 0.5 1.5-0.5 1.4 0.1 1.5 0 1.5 0 1.5-0.2 1.5 0.4 1.5-0.3 1.5-0.2 1.5 0.1 1.4-0.1 1.5 0.3 1.5 0 1.5-0.5 1.5 0.3 1.5 0.1 1.5-0.2 1.4 0.4 1.5-0.2 1.5-0.1 1.5 0.1 1.5-0.4 1.5 0.3 1.5-0.2 1.5 0.5 1.4-0.2 1.5 0 1.5-0.2 1.5 0 1.5 0.1 1.5-0.1 1.5-0.4 1.4 0.5 1.5 0.2 1.5-0.5 1.5-0.1 1.5 0.3 1.5-0.2 1.5 0.8 1.5-0.7 1.4 0.2 1.5-0.6 1.5 0.5 1.5-0.4 1.5 0.5 1.5 0 1.5 0.1 1.4 0.1 1.5-0.2 1.5-0.4 1.5 0.7 1.5-0.4 1.5-0.3 1.5 0.2 1.5-0.1 1.4 0.1 1.5-0.1 1.5 0.6 1.5-0.8 1.5 0.2 1.5 0.3 1.5-0.1 1.5-0.1 1.4-0.2 1.5 0.5 1.5 0 1.5 0 1.5-0.5 1.5 0.4 1.5-0.3 1.4 0.3 1.5-0.2 1.5 0.1 1.5 0 1.5-0.5 1.5 0.3 1.5 0.3 1.5-0.9 1.4 0.8 1.5 0.1 1.5 0.1 1.5-0.8 1.5 0.3 1.5 0 1.5-0.2 1.4 0.2 1.5-0.1 1.5-0.3 1.5 0.4 1.5-0.2 1.5 0.2 1.5 0 1.5-0.3 1.4 0.2 1.5 0 1.5 0.6 1.5-0.3 1.5 0 1.5-0.2 1.5-0.1 1.4 0 1.5 0.1 1.5-0.1 1.5 0 1.5-0.2 1.5 0.7 1.5-0.7 1.5-0.3 1.4 0.2 1.5 0.4 1.5 0.1 1.5-0.2 1.5-0.4 1.5 0.3 1.5 0.6 1.4 0.3 1.5-0.9 1.5-0.5 1.5 0.9 1.5-0.2 1.5-0.2 1.5 0 1.5-0.2 1.4 0.6 1.5-0.4 1.5 0.2 1.5-0.4" fill="none" stroke="#e37a2b" stroke-width="2.4" stroke-linejoin="round" stroke-linecap="round"/>
<path d="M161.2 778.4l1.4-1.4 1.5-0.6 1.5-0.8 1.5-0.2 1.5-0.1 1.5 0.1 1.5 0.1 1.5-0.2 1.4 0.2 1.5-0.7 1.5 0.3 1.5 0.2 1.5-0.4 1.5 0.4 1.5-0.5 1.5 0.1 1.4-0.5 1.5 0.2 1.5 0.3 1.5-0.4 1.5 0.1 1.5-0.1 1.5 0.9 1.4-0.7 1.5 0 1.5-0.5 1.5 0.5 1.5-0.4 1.5 0.1 1.5 0.3 1.5-0.2 1.4-0.3 1.5 0.1 1.5 0 1.5-0.1 1.5-0.1 1.5-0.1 1.5 0.1 1.4 0.3 1.5 0.2 1.5 0.7 1.5 0.4 1.5 1.5 1.5-0.4 1.5 0.5 1.5-0.5 1.4 0.9 1.5-0.4 1.5 0.5 1.5-0.3 1.5-0.2 1.5-0.3 1.5 0.3 1.4-0.2 1.5 0.2 1.5-0.6 1.5 0.6 1.5-0.7 1.5 0.1 1.5 0.6 1.5-0.3 1.4 0.2 1.5-0.5 1.5 0.3 1.5-0.4 1.5 0.5 1.5 0 1.5 0.2 1.5-0.3 1.4-0.1 1.5 0.1 1.5 0 1.5-0.2 1.5 0.2 1.5 0.2 1.5 0.1 1.4-0.2 1.5 0 1.5-0.4 1.5 0 1.5 0.5 1.5-0.4 1.5 0.4 1.5-0.5 1.4 0.7 1.5-0.7 1.5 0.3 1.5-0.1 1.5 0 1.5 0.3 1.5-0.3 1.4 0 1.5-0.2 1.5 0 1.5-0.1 1.5 0.1 1.5 0.5 1.5-0.5 1.5 0.5 1.4-0.2 1.5-0.2 1.5 0.2 1.5-0.1 1.5-0.3 1.5 0.4 1.5 0 1.4 0.1 1.5-1 1.5 0.8 1.5-0.1 1.5 0 1.5-0.3 1.5 0.4 1.5 0.1 1.4-0.2 1.5 0.1 1.5 0.2 1.5 0.1 1.5-0.5 1.5 0.1 1.5-0.4 1.5 0.4 1.4 0 1.5-0.4 1.5 0.7 1.5-0.6 1.5 0.4 1.5 0 1.5-0.3 1.4 0 1.5 0.3 1.5-0.3 1.5-0.4 1.5 0.2 1.5 0.2 1.5 0.1 1.5-0.1 1.4-0.1 1.5 0.1 1.5-0.1 1.5-0.2 1.5 0.6 1.5-0.4 1.5-0.1 1.4 0.2 1.5 0.1 1.5-0.5 1.5 0.4 1.5-0.1 1.5 0.2 1.5-0.1 1.5 0 1.4-0.1 1.5 0.4 1.5 0 1.5-0.3 1.5 0 1.5 0 1.5-0.3 1.4 0.2 1.5-0.2 1.5 0.1 1.5 0.6 1.5-0.7 1.5-0.2 1.5 0.3 1.5 0 1.4 0.3 1.5-0.4 1.5 0.4 1.5 0.1 1.5-0.5 1.5-0.1 1.5 0.2 1.5 0 1.4 0.1 1.5-0.6 1.5 0.3 1.5 0.2 1.5 0 1.5-0.1 1.5-0.3 1.4 0.4 1.5 0.1 1.5-0.3 1.5 0.1 1.5 0.4 1.5-0.4 1.5 0 1.5 0.1 1.4-0.2 1.5 0 1.5-0.4 1.5 0.3 1.5-0.1 1.5 0.3 1.5-0.1 1.4 0.2 1.5 0 1.5-0.4 1.5-0.4 1.5 0.4 1.5 0.1 1.5-0.1 1.5 0 1.4 0.2 1.5 0 1.5-0.2 1.5-0.3 1.5 0.4 1.5 0.4 1.5-0.6 1.4 0.2 1.5 0.2 1.5 0 1.5 0.6 1.5-0.6 1.5-0.2 1.5-0.2 1.5 0.2 1.4 0.2 1.5-0.1 1.5-0.2 1.5-0.1 1.5 0.1 1.5-0.2 1.5 0.7 1.4-0.5 1.5-0.1 1.5 0.3 1.5-0.3 1.5 0.2 1.5 0.2 1.5 0 1.5-0.5 1.4 0 1.5-0.1 1.5 0.1 1.5 0" fill="none" stroke="#b03070" stroke-width="2.4" stroke-linejoin="round" stroke-linecap="round"/>
<path d="M161.2 776.2l1.4-2.3 1.5-2.2 1.5-2 1.5 0.7 1.5 0 1.5-0.2 1.5-0.5 1.5 0.3 1.4-0.4 1.5 0.2 1.5-0.5 1.5 0.6 1.5-0.3 1.5-0.4 1.5 0.2 1.5 0.1 1.4-0.7 1.5 0.6 1.5-0.2 1.5-0.5 1.5-0.2 1.5 0.4 1.5 0.3 1.4-0.1 1.5-0.1 1.5-0.2 1.5-0.4 1.5 0.1 1.5-0.1 1.5 0.4 1.5-0.4 1.4 0 1.5-0.1 1.5 0.2 1.5 0.1 1.5-0.5 1.5-0.1 1.5 0.4 1.4 1.1 1.5 3.6 1.5 2.5 1.5 0.2 1.5 0.7 1.5-0.1 1.5 0.9 1.5 0.5 1.4-0.5 1.5-0.2 1.5 0.5 1.5-0.4 1.5-0.1 1.5 0.1 1.5-0.1 1.4-0.2 1.5 0.3 1.5 0.1 1.5-0.3 1.5-0.1 1.5 0.4 1.5-0.5 1.5 0.2 1.4 0.2 1.5 0 1.5 0.1 1.5-0.3 1.5 0.1 1.5-0.5 1.5 1.2 1.5-0.4 1.4-0.1 1.5-0.3 1.5 0.2 1.5 0.1 1.5-0.3 1.5 0.2 1.5-0.2 1.4-0.1 1.5 0 1.5 0.6 1.5-0.2 1.5-0.3 1.5 0.1 1.5 0.2 1.5-0.4 1.4 0.2 1.5-0.1 1.5-0.2 1.5 0.4 1.5-0.4 1.5 0.2 1.5 0 1.4-0.2 1.5 0.6 1.5 0.1 1.5-0.2 1.5-0.5 1.5 0.2 1.5 0.2 1.5 0.1 1.4 0.1 1.5-0.5 1.5 0.1 1.5-0.1 1.5-0.1 1.5 0.1 1.5-0.2 1.4 0.4 1.5-0.5 1.5 0.3 1.5 0.2 1.5-0.2 1.5-0.5 1.5 0.9 1.5-0.2 1.4 0 1.5-0.2 1.5 0.1 1.5-0.5 1.5 0.5 1.5-0.2 1.5 0.3 1.5 0.1 1.4-0.2 1.5 0 1.5-0.2 1.5-0.2 1.5 0.4 1.5-0.3 1.5 0.5 1.4-0.7 1.5 0.8 1.5-0.3 1.5-0.1 1.5 0.1 1.5 0.2 1.5-0.5 1.5 0.5 1.4-0.5 1.5 0.6 1.5-0.7 1.5 0.1 1.5 0.1 1.5-0.2 1.5 0.3 1.4 0 1.5-0.3 1.5 0.5 1.5-0.2 1.5 0 1.5 0 1.5 0 1.5 0.6 1.4-0.6 1.5-0.1 1.5-0.3 1.5 0.2 1.5 0.3 1.5-0.1 1.5 0.2 1.4-0.2 1.5 0.1 1.5-0.4 1.5 0.1 1.5 0 1.5 0.2 1.5 0 1.5-0.2 1.4 0.3 1.5-0.3 1.5-0.1 1.5 0.3 1.5-0.1 1.5 0.2 1.5-0.6 1.5 0.3 1.4-0.2 1.5 0.3 1.5 0.2 1.5-0.2 1.5-0.4 1.5 0 1.5 0.2 1.4 0.2 1.5-0.1 1.5-0.2 1.5 0.5 1.5-0.5 1.5 0.4 1.5-0.2 1.5-0.2 1.4 0.2 1.5 0 1.5-0.3 1.5 0.4 1.5 0 1.5 0.1 1.5-0.2 1.4-0.2 1.5 0.2 1.5 0.5 1.5-0.6 1.5-0.1 1.5 0.4 1.5-0.2 1.5 0 1.4 0.2 1.5-0.3 1.5 0 1.5 0.3 1.5 0.4 1.5-0.4 1.5-0.6 1.4 0.1 1.5 0.3 1.5 0.2 1.5-0.6 1.5 0.2 1.5-0.2 1.5-0.1 1.5 0.3 1.4 0.1 1.5 0.2 1.5-0.2 1.5 0.3 1.5-0.5 1.5 0.3 1.5-0.5 1.4 0.5 1.5-0.2 1.5 0.3 1.5-0.4 1.5 0.4 1.5-0.5 1.5 0.2 1.5 0.5 1.4-0.1 1.5-0.4 1.5 0.1 1.5-0.5" fill="none" stroke="#7a2a8a" stroke-width="2.2" stroke-linejoin="round" stroke-linecap="round"/>
<path d="M221.6 777.5l1.5-0.3 1.5-0.1 1.5-0.1 1.5-0.6 1.5 0.6 1.4 0.5 1.5-1.2 1.5 0.3 1.5 0.7 1.5-0.4 1.5-0.1 1.5-0.2 1.5-0.3 1.4 0.3 1.5 0 1.5 0.2 1.5-0.4 1.5-0.1 1.5-0.2 1.5 0.9 1.4-0.5 1.5-0.6 1.5-0.5 1.5 0.3 1.5 1.1 1.5-0.2 1.5-0.9 1.5 0.2 1.4 0 1.5-0.7 1.5 1.1 1.5-0.9 1.5 0.4 1.5 0.3 1.5 0.5 1.4-0.3 1.5-1 1.5 0.5 1.5-0.3 1.5 0.1 1.5 0.3 1.5-0.4 1.5 0.2 1.4 0.2 1.5 0 1.5 0.2 1.5-0.4 1.5 0.1 1.5-0.5 1.5 0.6 1.5 0.2 1.4 0.3 1.5-0.9 1.5-0.7 1.5 0.9 1.5 0.8 1.5-1.1 1.5 0.5 1.4-0.5 1.5 0.1 1.5-0.1 1.5 0.2 1.5 0.2 1.5-0.5 1.5 0.5 1.5-0.6 1.4 0.7 1.5-0.3 1.5 0.3 1.5-0.6 1.5 0.6 1.5 0 1.5-0.7 1.4 0.3 1.5 0.1 1.5 0.3 1.5-0.3 1.5-0.2 1.5-0.1 1.5 0.5 1.5-0.5 1.4 0.9 1.5-0.7 1.5 0.3 1.5-0.6 1.5 0.5 1.5-1.1 1.5 0.8 1.4 0 1.5 0.9 1.5-0.3 1.5-0.9 1.5 0.6 1.5-0.7 1.5 0.7 1.5-0.5 1.4 0.5 1.5-0.4 1.5-0.1 1.5-0.1 1.5 0.6 1.5 0.2 1.5-0.7 1.5 0.1 1.4-0.2 1.5 0.7 1.5-0.7 1.5 0.3 1.5 0.3 1.5-0.2 1.5-0.5 1.4 0.2 1.5 0 1.5 0.1 1.5 0.1 1.5-0.6 1.5 0.5 1.5 0.5 1.5 0 1.4-0.3 1.5-0.1 1.5-0.4 1.5 1.2 1.5-1.3 1.5-0.1 1.5 0.6 1.4-0.7 1.5 0.7 1.5-0.2 1.5 0.2 1.5-0.8 1.5 0.1 1.5 0 1.5 0.9 1.4-0.5 1.5 0.5 1.5-0.5 1.5-0.2 1.5-0.3 1.5 0.6 1.5-0.2 1.4 0.1 1.5 0.4 1.5-1.1 1.5 0.5 1.5-0.4 1.5 0.2 1.5 0.8 1.5-0.2 1.4-0.5 1.5-0.1 1.5 0 1.5 0.3 1.5-0.3 1.5 0.7 1.5-0.3 1.5 0.3 1.4-0.8 1.5 0.2 1.5-0.1 1.5 0.3 1.5 0.9 1.5-0.7 1.5-0.3 1.4 0 1.5-0.3 1.5-0.1 1.5 0.6 1.5-0.5 1.5 0.9 1.5-0.9 1.5 1.1 1.4-1 1.5 1 1.5-1 1.5-0.5 1.5 0.7 1.5-0.3 1.5-0.2 1.4 1.4 1.5-0.3 1.5-0.7 1.5 0.4 1.5-0.3 1.5-1.2 1.5 0.4 1.5 0.4 1.4 0.5 1.5-0.5 1.5 0.1 1.5 0.2 1.5-0.7 1.5 1.3 1.5-1.3 1.4 0.8 1.5-0.7 1.5 0.5 1.5 0.2" fill="none" stroke="#e8902a" stroke-width="2.4" stroke-linejoin="round" stroke-linecap="round"/>
<path d="M221.6 777.5l1.5-0.4 1.5-0.1 1.5-1 1.5 0.5 1.5 0.6 1.4 0.4 1.5-0.5 1.5-0.2 1.5 0.8 1.5-0.7 1.5-0.5 1.5 0.7 1.5 0.4 1.4-1 1.5-0.3 1.5 0.7 1.5-0.2 1.5-0.4 1.5 0.2 1.5 0.5 1.4-0.2 1.5-0.1 1.5-0.1 1.5-0.5 1.5 0.9 1.5-0.6 1.5 0.2 1.5 0.7 1.4-1.1 1.5 0.3 1.5 0.5 1.5 0.2 1.5-1.1 1.5-0.3 1.5 0.6 1.4 0.2 1.5-0.4 1.5 0.5 1.5 0 1.5-0.6 1.5 0.8 1.5-0.9 1.5 0.3 1.4-0.4 1.5 1.2 1.5-1.2 1.5 0.5 1.5-0.3 1.5 0.6 1.5 0.1 1.5-0.9 1.4 0.3 1.5-0.1 1.5 0 1.5 0 1.5 0.8 1.5-0.5 1.5 0 1.4-0.9 1.5 0.3 1.5 0.8 1.5 0.3 1.5-0.9 1.5 0 1.5-0.3 1.5 1 1.4-1.1 1.5 0.6 1.5-0.5 1.5 0.4 1.5 0.3 1.5 0.1 1.5-0.8 1.4 1.7 1.5-1.6 1.5 0.1 1.5 0.5 1.5-0.5 1.5 0.3 1.5 0.5 1.5-0.4 1.4-0.4 1.5 0.2 1.5 0.3 1.5-0.6 1.5 0 1.5-0.2 1.5 0.4 1.4-0.5 1.5 0.9 1.5-0.2 1.5 0.4 1.5-0.5 1.5-0.1 1.5 0.1 1.5 0.4 1.4-0.9 1.5 1.1 1.5-0.3 1.5 0.8 1.5-1.6 1.5 0.1 1.5 0.4 1.5-0.2 1.4 0.6 1.5-0.1 1.5 0 1.5-0.6 1.5 0.3 1.5-0.2 1.5 0.5 1.4 0.1 1.5-0.7 1.5 0 1.5-0.1 1.5 0.5 1.5-0.4 1.5 0.7 1.5-0.2 1.4-0.6 1.5 0.5 1.5 0.1 1.5-0.1 1.5-1 1.5 0.8 1.5-0.3 1.4 0.2 1.5-1 1.5 0.9 1.5-0.4 1.5 0 1.5 0.2 1.5 0.2 1.5 0.6 1.4-0.9 1.5-0.6 1.5 0.6 1.5-0.6 1.5 0.5 1.5 0 1.5 0.5 1.4-0.2 1.5-0.2 1.5-0.3 1.5 0.9 1.5 0.1 1.5-0.5 1.5 0 1.5-0.2 1.4-0.5 1.5 0.9 1.5-1 1.5 0.5 1.5 0.2 1.5 0.7 1.5-1.3 1.5-0.1 1.4 0.5 1.5 0 1.5 0.3 1.5 0.6 1.5-0.4 1.5 0.2 1.5 0 1.4-0.2 1.5-0.1 1.5-0.5 1.5-0.3 1.5 0.6 1.5-0.4 1.5 0.4 1.5 0 1.4-0.3 1.5 0.4 1.5-0.3 1.5 0.3 1.5 0.1 1.5-0.1 1.5-0.8 1.4 0.4 1.5 0.3 1.5-0.2 1.5 0.3 1.5-0.1 1.5-0.1 1.5 0.6 1.5-0.6 1.4-0.3 1.5 0.1 1.5 0.1 1.5-0.4 1.5 0.7 1.5-0.8 1.5 0.1 1.4 0.3 1.5-0.6 1.5 0.9 1.5-0.4" fill="none" stroke="#f0b070" stroke-width="2.4" stroke-linejoin="round" stroke-linecap="round"/>
<path d="M593.6 779.8l1.5 0.3 1.5 0 1.5-0.2 1.5 0.1 1.5 0 1.4 0.6 1.5-0.2 1.5 0 1.5 0.2 1.5-0.2 1.5 0.8 1.5-0.4 1.5-0.2 1.5-0.1 1.5-0.4 1.4 0.5 1.5-0.9 1.5 1.2 1.5-1.2 1.5 1 1.5 0.1 1.5-0.1 1.5-0.1 1.5-0.1 1.4 0.1 1.5-0.4 1.5-0.1 1.5 0.7 1.5-0.9 1.5 0.4 1.5 0.1 1.5-0.3 1.5 0.3 1.5-0.6 1.5 1 1.4-0.9 1.5 0.7 1.5-0.5 1.5 0.4 1.5-0.8" fill="none" stroke="#7d7d7d" stroke-width="2.4" stroke-linejoin="round" stroke-linecap="round"/>
<path d="M654.2 779.6l1.5-1.5 1.5 0.6 1.5 0.3 1.5-0.4 1.4-0.3 1.5 0.3 1.5 0.4 1.5-0.8 1.5 0.6 1.5-0.4 1.5 0.4 1.5 0 1.5-0.3 1.5 0.8 1.4-0.4 1.5-0.2 1.5 0 1.5 0.3 1.5-0.7 1.5 0.3 1.5 0 1.5 0.5 1.5-0.5 1.5-0.2 1.4-0.1 1.5 0.1 1.5 0.2 1.5 0 1.5-0.1 1.5-0.1 1.5 0.2 1.5 0 1.5-0.2 1.5 0.2 1.4-0.2 1.5 0.1 1.5 0.2 1.5-0.6 1.5 0.5 1.5 0.6 1.5 0 1.5-0.2 1.5-0.1 1.5 0 1.4-0.4 1.5 0.1 1.5 0.1 1.5-0.6 1.5 0.5 1.5-0.2 1.5 0.4 1.5 0 1.5 0 1.5-0.5 1.4 0 1.5 0.3 1.5 0 1.5-0.1 1.5 0.3 1.5-0.2 1.5-0.3 1.5 0.5 1.5-0.4 1.5 0.2 1.4-0.1 1.5 0.1 1.5-0.2 1.5 0 1.5 0 1.5 0.6 1.5-0.5 1.5-0.2 1.5 0.5 1.5 0.2 1.4-0.4 1.5-0.2 1.5 0.5 1.5-0.4 1.5 0.2 1.5-0.1 1.5-0.1 1.5 0.2 1.5 0.1 1.5-0.2 1.4-0.4 1.5 0.3 1.5 0 1.5 0.4 1.5-0.1 1.5 0.2 1.5-0.6 1.5 0 1.5 0.1 1.5 0 1.4 0.3 1.5 0 1.5-0.4 1.5 0.4 1.5-0.4 1.5-0.1 1.5 0.7 1.5-0.1 1.5-0.6 1.5 0.1 1.4-0.1 1.5 0 1.5 0.5 1.5-0.6 1.5 0.1 1.5 0.1 1.5 0.2 1.5 0.2 1.5 0.1 1.5 0.2 1.4-0.2 1.5 0 1.5-0.2 1.5 0.2 1.5 0.3 1.5-0.5 1.5 0.5 1.5-0.4 1.5-0.2 1.5 0.5 1.4-0.1 1.5-0.2 1.5-0.4 1.5 0.4 1.5 0.1 1.5-0.2 1.5 0.5 1.5-0.1 1.5-0.5 1.5 0 1.4 0 1.5 0.1 1.5 0 1.5 0.5 1.5-0.1 1.5-0.2 1.5-0.3 1.5 0.2 1.5 0 1.5 0.3 1.4-0.3 1.5-0.1 1.5 0 1.5 0.2 1.5-0.6 1.5 0.8 1.5-0.5 1.5 0.6 1.5 0 1.5-0.5 1.4 0.2 1.5 0.1 1.5-0.2 1.5-0.6 1.5 0.8 1.5-0.1 1.5-0.4 1.5 0.5 1.5-0.7 1.5 0.9 1.4-0.3 1.5-0.3 1.5 0.3 1.5 0.1 1.5 0.2 1.5-0.3 1.5-0.2 1.5 0.3 1.5 0.1 1.5-0.5 1.4 0.1 1.5 0.1 1.5 0.2 1.5 0.1 1.5-0.5 1.5 0.3 1.5 0.1 1.5 0 1.5-0.2 1.5-0.1 1.4 0.2 1.5 0.1 1.5 0.2 1.5-0.2 1.5 0 1.5-0.1 1.5 0.1 1.5 0.1 1.5-0.1 1.5-0.2 1.4 0.2 1.5 0 1.5 0 1.5 0.1 1.5-0.2 1.5-0.1 1.5 0.3 1.5-0.1 1.5-0.1 1.5-0.1 1.4-0.1 1.5 0.6 1.5-0.5 1.5 0.3 1.5-0.2 1.5-0.1 1.5-0.2 1.5 0.5 1.5-0.3 1.5 0.8 1.4-0.6 1.5 0.6 1.5-0.4 1.5 0.1 1.5 0.1 1.5-0.3 1.5 0.2 1.5 0 1.5 0 1.5-0.1 1.4-0.3 1.5 0.3 1.5 0.1 1.5 0.2 1.5-0.6 1.5 0.1 1.5-0.1 1.5 0.4 1.5-0.5 1.5 0.2 1.4-0.5 1.5 0.7 1.5-0.3 1.5-0.2 1.5 0.5" fill="none" stroke="#2f8e47" stroke-width="2.4" stroke-linejoin="round" stroke-linecap="round"/>
<path d="M654.2 779.8l1.5-3.4 1.5 0.2 1.5 0 1.5 0.3 1.4 0.3 1.5-0.9 1.5 0.8 1.5-0.5 1.5 0.3 1.5-0.2 1.5 0 1.5-0.1 1.5 0 1.5-0.2 1.4 0.6 1.5 0.1 1.5 0.1 1.5 0.1 1.5-0.7 1.5 0.6 1.5 0 1.5-0.5 1.5 0.1 1.5-0.1 1.4 0.7 1.5-0.4 1.5 0.1 1.5-0.4 1.5 0 1.5-0.1 1.5-0.3 1.5-0.5 1.5 1 1.5-0.4 1.4 0 1.5 0.2 1.5 0.2 1.5-0.4 1.5 0.4 1.5 0.5 1.5 0.5 1.5 0.6 1.5-0.2 1.5-0.4 1.4 0.2 1.5 0.7 1.5-0.3 1.5-0.2 1.5 0 1.5 0.5 1.5-0.2 1.5 0 1.5 0.3 1.5-0.7 1.4 0.9 1.5-0.6 1.5-0.1 1.5 0.1 1.5-0.1 1.5 0.8 1.5-0.6 1.5 0 1.5 0 1.5 0.4 1.4-0.3 1.5 0.1 1.5-0.5 1.5 0.5 1.5-0.1 1.5 0 1.5 0 1.5-0.5 1.5 0.1 1.5 0.3 1.4 0.2 1.5 0 1.5 0.3 1.5-0.4 1.5-0.1 1.5 0.1 1.5 0.2 1.5-0.5 1.5 0.1 1.5 0.2 1.4-0.4 1.5 0.3 1.5-0.4 1.5 0.6 1.5-0.1 1.5 0.2 1.5-0.4 1.5 0.3 1.5-0.2 1.5 0.1 1.4 0.2 1.5-0.7 1.5 0.3 1.5 0.3 1.5-0.3 1.5 0.2 1.5 0.2 1.5-0.6 1.5 0.2 1.5 0.1 1.4 0 1.5 0 1.5 0 1.5 0.1 1.5 0 1.5 0 1.5 0.5 1.5-0.4 1.5-0.3 1.5-0.1 1.4 0.3 1.5 0.3 1.5-0.5 1.5 0.5 1.5 0.1 1.5 0.1 1.5 0.1 1.5-1 1.5 0.5 1.5 0.7 1.4-0.5 1.5 0.3 1.5-0.7 1.5 0.4 1.5 0 1.5-0.3 1.5-0.3 1.5 0.6 1.5-0.1 1.5 0.2 1.4-0.5 1.5 0.2 1.5 0 1.5 0.3 1.5-0.6 1.5 0.5 1.5-0.4 1.5 0 1.5 0.6 1.5-0.3 1.4-0.1 1.5 0.4 1.5-0.3 1.5-0.1 1.5 0.5 1.5-0.3 1.5-0.2 1.5 0.2 1.5 0.1 1.5 0.2 1.4-0.4 1.5 0 1.5 0.1 1.5-0.4 1.5 0.3 1.5 0.2 1.5-0.6 1.5 0.3 1.5-0.1 1.5-0.1 1.4 0.5 1.5 0.1 1.5-0.6 1.5 0.8 1.5-0.3 1.5-0.5 1.5 0.5 1.5-0.3 1.5 0.4 1.5-0.8 1.4 0.6 1.5-0.2 1.5 0.5 1.5-0.5 1.5 0 1.5 0.3 1.5-0.3 1.5 0.3 1.5-0.2 1.5 0.2 1.4 0 1.5 0.2 1.5-0.4 1.5 0.2 1.5 0.1 1.5-0.6 1.5 0.4 1.5 0.1 1.5 0.1 1.5-0.4 1.4 0.2 1.5 0.3 1.5-0.2 1.5-0.2 1.5 0.1 1.5-0.2 1.5 0 1.5-0.3 1.5 0.7 1.5-0.1 1.4 0 1.5 0 1.5 0 1.5 0.1 1.5-0.3 1.5 0.5 1.5-0.3 1.5-0.2 1.5 0 1.5 0.2 1.4-0.1 1.5 0.1 1.5-0.1 1.5 0.2 1.5-0.3 1.5-0.1 1.5-0.2 1.5 0.6 1.5-0.3 1.5 0.2 1.4-0.1 1.5 0.3 1.5-0.2 1.5-0.1 1.5 0.2 1.5 0.1 1.5-0.4 1.5 0.2 1.5 0.1 1.5 0 1.4 0 1.5 0.2 1.5-0.3 1.5 0.1 1.5 0.3" fill="none" stroke="#3050a0" stroke-width="2.4" stroke-linejoin="round" stroke-linecap="round"/>
<path d="M654.2 779.5l1.5-8 1.5 0.9 1.5 0.3 1.5 0.3 1.4-0.2 1.5 0.3 1.5-0.2 1.5 0.3 1.5-0.1 1.5-0.4 1.5 0.1 1.5-0.5 1.5 0.5 1.5-0.2 1.4 0.3 1.5-0.7 1.5 0.4 1.5 0.3 1.5-0.4 1.5 0.1 1.5-0.6 1.5 0.2 1.5 0.4 1.5-0.4 1.4 0.1 1.5 0.2 1.5-0.1 1.5 0 1.5 0.2 1.5-0.4 1.5 0.2 1.5-0.1 1.5 0 1.5 0.1 1.4-0.7 1.5 0.4 1.5-0.1 1.5-0.5 1.5 1.5 1.5 1.1 1.5 1 1.5 0.7 1.5 0.2 1.5 1.3 1.4 0.9 1.5 0.3 1.5 0 1.5-0.4 1.5 0.7 1.5-0.6 1.5 0.9 1.5-0.9 1.5 0.2 1.5 0.3 1.4-0.5 1.5 0.3 1.5-0.1 1.5 0.1 1.5-0.3 1.5 0.1 1.5 0.5 1.5-0.1 1.5 0 1.5-0.4 1.4 0.1 1.5 0.1 1.5 0.1 1.5 0.1 1.5-0.2 1.5-0.2 1.5 0.1 1.5-0.3 1.5 0 1.5 0.5 1.4-0.7 1.5 0.3 1.5 0.3 1.5 0 1.5-0.1 1.5 0.3 1.5 0 1.5-0.1 1.5 0.1 1.5 0.6 1.4-0.9 1.5 0.7 1.5-0.6 1.5 0.2 1.5 0.1 1.5-0.4 1.5 0.4 1.5 0.1 1.5-0.4 1.5 0.1 1.4 0.2 1.5 0 1.5 0 1.5-0.2 1.5-0.1 1.5-0.1 1.5 0.3 1.5 0.2 1.5-0.4 1.5-0.5 1.4 0.3 1.5 0.6 1.5-0.4 1.5 0.2 1.5 0 1.5 0 1.5 0.2 1.5 0.2 1.5-0.5 1.5 0.3 1.4-0.1 1.5 0 1.5-0.1 1.5 0.1 1.5-0.1 1.5 0.1 1.5-0.2 1.5 0 1.5-0.3 1.5 0.3 1.4 0.3 1.5-0.3 1.5-0.1 1.5 0.4 1.5 0 1.5 0.4 1.5-0.9 1.5 0.3 1.5-0.3 1.5 0.7 1.4 0.2 1.5-0.6 1.5 0.3 1.5-0.3 1.5 0.3 1.5-0.4 1.5 0.3 1.5-0.1 1.5-0.1 1.5 0.2 1.4 0 1.5-0.4 1.5 0.3 1.5-0.1 1.5 0 1.5 0.1 1.5-0.1 1.5-0.4 1.5 0.2 1.5 0.7 1.4 0.2 1.5-0.4 1.5 0.4 1.5 0.1 1.5-0.4 1.5 0 1.5-0.3 1.5-0.1 1.5-0.4 1.5 0.7 1.4 0 1.5-0.2 1.5-0.2 1.5 0.3 1.5 0.2 1.5 0.4 1.5-0.8 1.5 0.2 1.5-0.4 1.5-0.1 1.4 0 1.5 0.4 1.5-0.1 1.5 0.5 1.5-0.4 1.5 0.2 1.5-0.4 1.5 0.4 1.5 0 1.5 0.1 1.4-0.6 1.5 0.4 1.5 0.3 1.5-0.2 1.5 0.3 1.5-0.7 1.5 0 1.5 0.3 1.5 0 1.5 0.4 1.4-0.7 1.5 0.4 1.5-0.6 1.5 0.7 1.5-0.3 1.5-0.1 1.5 0.1 1.5 0.2 1.5-0.3 1.5 0.2 1.4 0.1 1.5 0.2 1.5-0.5 1.5 0.3 1.5-0.1 1.5 0.1 1.5-0.1 1.5 0.2 1.5-0.7 1.5 0.2 1.4 0.2 1.5 0.2 1.5-0.1 1.5 0.3 1.5-0.3 1.5 0.2 1.5 0 1.5 0.1 1.5 0 1.5-0.3 1.4 0.1 1.5 0.3 1.5-0.3 1.5 0 1.5 0.1 1.5-0.4 1.5 0.4 1.5 0.3 1.5-0.4 1.5 0.3 1.4-0.4 1.5 0 1.5 0.3 1.5-0.2 1.5 0.2" fill="none" stroke="#8a3aa0" stroke-width="2.4" stroke-linejoin="round" stroke-linecap="round"/>
<path d="M654.2 779.8l1.5-12.7 1.5 1 1.5 0.5 1.5-0.3 1.4 0.7 1.5-0.3 1.5 0.1 1.5-0.3 1.5 0.3 1.5-0.2 1.5-0.2 1.5 0.2 1.5-0.1 1.5 0 1.4-0.2 1.5-0.1 1.5 0 1.5 0 1.5 0.3 1.5-0.1 1.5-0.3 1.5 0.1 1.5-0.2 1.5 0.4 1.4-0.1 1.5 0 1.5-0.3 1.5 0.2 1.5 0 1.5-0.3 1.5 0.1 1.5 0.2 1.5-0.4 1.5 0.1 1.4-0.2 1.5-0.1 1.5 0.3 1.5-0.1 1.5 1.3 1.5 1.1 1.5 1.5 1.5 1.1 1.5 1.8 1.5 1.2 1.4 1 1.5 2 1.5 0 1.5-0.5 1.5 0 1.5-0.1 1.5 0.1 1.5-0.1 1.5 0.4 1.5-0.1 1.4-0.1 1.5 0.4 1.5 0 1.5-0.1 1.5-0.4 1.5 0 1.5 0.5 1.5-0.1 1.5 0 1.5-0.2 1.4 0 1.5 0 1.5 0.3 1.5-0.5 1.5 0 1.5 0.5 1.5-0.2 1.5-0.3 1.5 0.2 1.5 0 1.4 0.2 1.5-0.5 1.5 0.6 1.5-0.4 1.5-0.2 1.5 0.6 1.5-0.5 1.5 0.1 1.5 0.3 1.5-0.1 1.4-0.3 1.5 0.4 1.5 0 1.5 0.6 1.5-0.3 1.5-0.3 1.5-0.1 1.5-0.1 1.5-0.1 1.5-0.2 1.4 0.3 1.5-0.6 1.5 0.6 1.5-0.2 1.5 0.5 1.5-0.3 1.5-0.1 1.5 0 1.5 0.4 1.5-0.1 1.4 0.3 1.5-0.4 1.5 0.3 1.5-0.5 1.5 0.2 1.5-0.1 1.5 0 1.5 0.1 1.5-0.1 1.5 0.2 1.4 0.4 1.5-0.7 1.5 0.5 1.5-0.4 1.5 0.1 1.5 0 1.5 0.1 1.5-0.1 1.5 0.1 1.5 0 1.4 0.1 1.5-0.1 1.5-0.1 1.5 0.2 1.5-0.1 1.5 0.4 1.5-0.2 1.5 0.3 1.5-0.4 1.5-0.1 1.4-0.1 1.5 0.5 1.5-0.5 1.5 0.4 1.5-0.1 1.5 0 1.5-0.5 1.5 0.3 1.5-0.4 1.5 0.3 1.4 0.3 1.5-0.2 1.5-0.2 1.5 0.5 1.5-0.1 1.5-0.1 1.5 0.1 1.5 0 1.5-0.5 1.5 0.4 1.4 0.1 1.5 0 1.5 0.3 1.5-0.6 1.5 0.4 1.5-1 1.5 0.7 1.5 0.3 1.5 0.1 1.5-0.1 1.4-0.2 1.5 0.2 1.5-0.3 1.5 0 1.5 0 1.5 0 1.5 0.2 1.5 0.1 1.5 0.2 1.5 0.1 1.4-0.3 1.5-0.3 1.5 0.2 1.5 0.2 1.5-0.4 1.5 0.4 1.5 0.1 1.5-0.1 1.5 0 1.5-0.2 1.4 0.3 1.5 0.1 1.5-0.5 1.5 0.1 1.5-0.1 1.5 0 1.5 0.1 1.5-0.4 1.5 0.5 1.5 0 1.4-0.4 1.5 0.3 1.5 0.1 1.5 0 1.5 0.3 1.5-0.5 1.5 0.2 1.5-0.1 1.5-0.2 1.5 0.1 1.4 0.1 1.5 0 1.5 0.1 1.5-0.4 1.5 0.9 1.5-0.4 1.5 0.1 1.5-0.3 1.5 0.2 1.5-0.1 1.4-0.4 1.5 0.4 1.5-0.2 1.5 0.3 1.5 0.1 1.5 0.1 1.5-0.6 1.5 0.6 1.5-0.1 1.5-0.7 1.4 0.5 1.5 0 1.5 0.1 1.5 0.2 1.5-0.3 1.5-0.2 1.5 0.5 1.5-0.1 1.5-0.5 1.5 0.5 1.4-0.3 1.5-0.4 1.5 0.8 1.5-0.2 1.5 0.2" fill="none" stroke="#c02f80" stroke-width="2.4" stroke-linejoin="round" stroke-linecap="round"/>
<path d="M654.2 780.3l1.5-17.3 1.5 1.2 1.5 1.4 1.5 0.1 1.4 0.2 1.5 0.2 1.5-0.2 1.5 0 1.5 0 1.5-0.6 1.5 0.5 1.5 0 1.5-0.4 1.5-0.1 1.4-0.3 1.5 0.3 1.5 0.4 1.5-0.2 1.5-0.5 1.5 0.4 1.5-0.3 1.5-0.4 1.5 0.8 1.5-0.1 1.4-0.3 1.5-0.1 1.5-0.3 1.5 0.6 1.5-0.6 1.5 0.2 1.5 0.3 1.5-0.4 1.5-0.2 1.5-0.3 1.4 0.5 1.5-0.3 1.5 0.4 1.5-0.6 1.5 1.9 1.5 1.3 1.5 2.4 1.5 1.8 1.5 1.9 1.5 0.9 1.4 2.3 1.5 2.1 1.5-0.2 1.5-0.4 1.5 0 1.5 0.1 1.5 0.4 1.5-0.3 1.5 0.5 1.5-0.1 1.4-0.5 1.5-0.1 1.5 0.3 1.5 0.4 1.5-0.3 1.5-0.1 1.5-0.5 1.5 0.6 1.5 0.2 1.5-0.1 1.4-0.1 1.5 0 1.5-0.1 1.5-0.5 1.5 0.6 1.5 0.4 1.5-0.8 1.5 0.4 1.5 0 1.5 0 1.4-0.2 1.5 0 1.5 0 1.5 0.2 1.5-0.1 1.5 0.2 1.5 0 1.5-0.1 1.5 0 1.5 0.3 1.4-0.1 1.5-0.6 1.5 0 1.5-0.1 1.5 0.1 1.5 0.1 1.5-0.2 1.5 0.3 1.5 0.2 1.5 0 1.4-0.1 1.5-0.1 1.5 0.2 1.5 0 1.5 0 1.5 0.1 1.5-0.7 1.5 0.4 1.5 0.6 1.5-0.7 1.4 0.5 1.5-0.2 1.5 0 1.5-0.2 1.5 0.2 1.5-0.1 1.5 0.1 1.5-0.6 1.5 0.6 1.5 0.2 1.4 0.1 1.5-0.3 1.5 0.1 1.5-0.1 1.5-0.1 1.5 0.4 1.5-0.3 1.5 0.2 1.5 0 1.5 0.1 1.4-0.2 1.5 0.1 1.5 0 1.5-0.1 1.5 0.3 1.5-0.7 1.5 0.2 1.5 0.2 1.5-0.1 1.5 0.3 1.4-0.3 1.5 0.4 1.5-0.3 1.5-0.1 1.5 0.2 1.5-0.3 1.5 0.4 1.5-0.2 1.5-0.1 1.5 0 1.4 0.1 1.5-0.4 1.5 0.2 1.5 0 1.5 0.4 1.5-0.2 1.5 0.1 1.5-0.6 1.5 0.4 1.5 0.3 1.4-0.4 1.5 0 1.5 0.4 1.5-0.2 1.5-0.6 1.5 0.6 1.5 0 1.5-0.7 1.5 0.8 1.5 0.2 1.4 0 1.5-0.3 1.5-0.1 1.5 0.4 1.5 0.3 1.5-0.7 1.5 0.2 1.5 0.1 1.5 0.1 1.5-0.5 1.4 0.3 1.5 0.3 1.5-0.1 1.5-0.1 1.5 0.3 1.5-0.3 1.5-0.4 1.5 0.1 1.5 0 1.5 0 1.4 0.2 1.5-0.1 1.5 0.6 1.5-0.7 1.5 0.1 1.5 0.1 1.5 0 1.5 0.3 1.5-0.1 1.5 0.2 1.4-0.2 1.5-0.1 1.5 0.1 1.5-0.4 1.5 0.5 1.5-0.3 1.5 0 1.5 0.1 1.5-0.2 1.5 0.1 1.4 0.2 1.5-0.4 1.5 0.3 1.5-0.2 1.5 0.5 1.5-0.1 1.5-0.2 1.5-0.6 1.5 0.9 1.5 0 1.4-0.1 1.5-0.1 1.5-0.1 1.5-0.2 1.5 0.3 1.5-0.2 1.5 0.1 1.5 0.2 1.5 0 1.5-0.3 1.4 0.1 1.5-0.3 1.5 0.3 1.5 0.1 1.5 0.2 1.5 0 1.5-0.3 1.5 0 1.5-0.3 1.5 0.5 1.4-0.3 1.5 0.2 1.5 0.5 1.5-0.2 1.5-0.4" fill="none" stroke="#d8386a" stroke-width="2.4" stroke-linejoin="round" stroke-linecap="round"/>
<path d="M654.2 779.8l1.5-19.8 1.5 0.9 1.5 1.7 1.5 0.2 1.4-0.1 1.5 0.2 1.5-0.3 1.5 0.4 1.5 0 1.5-0.6 1.5-0.1 1.5 0.1 1.5 0.3 1.5-0.2 1.4 0.1 1.5 0 1.5-0.3 1.5 0.1 1.5-0.5 1.5 0.7 1.5-0.3 1.5 0.1 1.5 0 1.5-0.9 1.4 0.1 1.5 0.2 1.5-0.1 1.5 0 1.5 0.1 1.5 0.7 1.5-0.3 1.5-0.7 1.5 0.7 1.5-1 1.4 0.1 1.5 0.1 1.5-0.1 1.5-0.1 1.5 2.3 1.5 1.4 1.5 2.7 1.5 2.3 1.5 1.5 1.5 2.6 1.4 2.2 1.5 2 1.5-0.3 1.5 0.6 1.5 0 1.5 0.3 1.5-0.3 1.5-0.4 1.5 0.6 1.5 0 1.4 0.2 1.5-0.1 1.5 0 1.5-0.3 1.5-0.1 1.5 0.6 1.5-0.6 1.5-0.2 1.5 0.1 1.5 0.4 1.4-0.4 1.5 0.4 1.5 0.1 1.5 0.1 1.5 0 1.5-0.3 1.5-0.2 1.5 0.6 1.5 0.1 1.5-0.8 1.4 0.5 1.5-0.8 1.5 0.5 1.5 0.4 1.5-0.6 1.5 0 1.5 0.7 1.5-0.3 1.5-0.4 1.5 0.7 1.4-0.5 1.5 0 1.5-0.4 1.5 0.2 1.5 0.4 1.5 0.3 1.5-0.3 1.5-0.1 1.5 0 1.5 0.1 1.4 0.2 1.5-0.6 1.5 0.4 1.5 0.1 1.5-0.2 1.5 0 1.5 0.1 1.5-0.3 1.5 0.5 1.5-0.3 1.4-0.2 1.5 0.4 1.5-0.2 1.5-0.1 1.5 0 1.5 0.2 1.5 0.3 1.5-0.1 1.5-0.2 1.5 0.1 1.4 0 1.5 0 1.5 0.3 1.5-0.5 1.5 0.4 1.5-0.7 1.5-0.3 1.5 0.5 1.5 0.1 1.5 0.3 1.4 0.1 1.5-0.2 1.5-0.3 1.5 0.2 1.5 0.4 1.5-0.6 1.5 0.4 1.5-0.4 1.5 0.3 1.5 0.2 1.4-0.1 1.5-0.3 1.5 0.3 1.5-0.5 1.5 0.6 1.5-0.6 1.5 0.7 1.5 0 1.5-0.5 1.5-0.2 1.4 0.5 1.5-0.3 1.5 0.4 1.5 0.1 1.5-0.3 1.5-0.5 1.5 0.6 1.5 0.3 1.5 0.2 1.5-0.6 1.4-0.1 1.5 0.2 1.5-0.1 1.5 0.2 1.5-0.5 1.5 0.2 1.5 0.5 1.5-0.2 1.5-0.4 1.5 0.3 1.4 0.6 1.5-0.5 1.5 0 1.5 0.6 1.5-0.8 1.5-0.3 1.5 0.5 1.5 0.1 1.5-0.1 1.5 0 1.4-0.1 1.5-0.1 1.5 0.5 1.5-0.3 1.5-0.5 1.5 0.5 1.5-0.1 1.5 0 1.5 0.2 1.5 0.2 1.4-0.9 1.5 0.5 1.5 0.3 1.5-0.5 1.5 0.4 1.5 0.1 1.5-0.1 1.5 0.2 1.5-0.1 1.5-0.4 1.4 0.2 1.5 0.1 1.5-0.4 1.5 0.1 1.5 0.3 1.5 0.3 1.5-0.3 1.5-0.4 1.5 0.5 1.5-0.7 1.4 0.6 1.5 0.3 1.5-0.3 1.5-0.4 1.5 0.5 1.5-0.3 1.5-0.1 1.5 0.4 1.5-0.4 1.5-0.1 1.4 0.1 1.5 0.7 1.5-0.5 1.5-0.1 1.5-0.1 1.5-0.2 1.5 0.4 1.5 0.1 1.5 0.5 1.5-0.2 1.4-0.6 1.5 0.6 1.5-0.3 1.5 0.4 1.5-0.3 1.5 0.2 1.5-0.4 1.5 0.1 1.5-0.1 1.5 0.5 1.4-0.3 1.5-0.3 1.5 1 1.5-0.6 1.5-0.2" fill="none" stroke="#c8286a" stroke-width="2.4" stroke-linejoin="round" stroke-linecap="round"/>
<path d="M654.2 779.6l1.5-22.6 1.5 1.5 1.5 1.6 1.5 0.3 1.4 0.2 1.5-0.1 1.5 0.2 1.5-0.2 1.5-0.1 1.5-0.5 1.5 0.6 1.5-0.4 1.5 0.1 1.5-0.1 1.4-0.3 1.5 0.2 1.5 0.2 1.5-0.3 1.5-0.3 1.5 0.1 1.5-0.1 1.5 0.4 1.5-0.6 1.5 0.3 1.4 0.1 1.5-0.4 1.5 0.4 1.5-0.5 1.5-0.4 1.5 0.5 1.5 0 1.5-0.5 1.5 0 1.5-0.1 1.4 0.7 1.5-0.3 1.5-0.8 1.5 0.7 1.5 2.1 1.5 2.1 1.5 2.5 1.5 2.6 1.5 3.1 1.5 1.8 1.4 2.9 1.5 2 1.5 0 1.5 0.6 1.5-0.3 1.5-0.4 1.5 0 1.5 0.2 1.5 0.3 1.5-0.2 1.4 0.3 1.5-0.6 1.5 0.3 1.5-0.2 1.5 1 1.5-0.5 1.5 0 1.5-0.1 1.5 0.2 1.5-0.4 1.4 0.4 1.5-0.7 1.5 0.5 1.5 0.1 1.5 0 1.5-0.3 1.5 0.1 1.5 0.3 1.5 0.5 1.5-0.6 1.4 0.1 1.5-0.2 1.5 0.2 1.5-0.3 1.5 0.4 1.5-0.4 1.5 0.2 1.5-0.3 1.5 0.2 1.5-0.2 1.4 0.3 1.5 0 1.5 0.1 1.5 0.1 1.5-0.3 1.5 0 1.5-0.4 1.5 0.3 1.5-0.3 1.5-0.1 1.4 0.5 1.5 0.3 1.5-0.2 1.5-0.3 1.5 0.3 1.5-0.3 1.5 0.3 1.5-0.1 1.5-0.2 1.5 0.1 1.4 0.1 1.5 0 1.5-0.1 1.5 0.2 1.5-0.3 1.5 0.4 1.5-0.9 1.5 0.7 1.5 0.3 1.5 0.2 1.4-0.2 1.5-0.3 1.5 0.2 1.5-0.4 1.5 0.4 1.5 0.2 1.5-0.2 1.5 0.1 1.5-0.1 1.5 0.2 1.4-0.2 1.5 0.4 1.5-0.5 1.5 0.1 1.5 0 1.5 0.2 1.5-0.2 1.5-0.1 1.5 0.5 1.5-0.7 1.4 0.3 1.5-0.2 1.5-0.2 1.5 0.7 1.5-0.1 1.5 0 1.5-0.2 1.5 0.2 1.5 0 1.5-0.7 1.4 0.6 1.5-0.2 1.5-0.2 1.5-0.1 1.5 0.8 1.5-0.5 1.5-0.1 1.5-0.1 1.5 0.5 1.5-0.1 1.4-0.1 1.5 0 1.5 0.1 1.5 0.1 1.5-0.1 1.5 0 1.5-0.1 1.5 0.2 1.5 0.1 1.5-0.1 1.4-0.1 1.5-0.3 1.5 0.4 1.5 0.4 1.5-1.1 1.5 0.3 1.5 0.1 1.5 0.1 1.5 0.1 1.5-0.5 1.4 0.8 1.5-0.5 1.5 0 1.5-0.4 1.5 0.6 1.5-0.4 1.5 0.3 1.5 0.4 1.5 0 1.5-0.6 1.4 0.6 1.5-0.2 1.5-0.5 1.5 0.7 1.5-0.4 1.5-0.4 1.5 0.1 1.5 0.2 1.5 0.4 1.5-0.6 1.4 0.3 1.5 0.1 1.5 0.3 1.5 0.3 1.5-0.6 1.5 0.2 1.5 0.3 1.5-0.7 1.5 0.2 1.5 0.2 1.4 0 1.5-0.3 1.5 0.1 1.5 0.3 1.5-0.4 1.5 0.2 1.5 0.3 1.5-0.3 1.5 0 1.5-0.3 1.4 0.1 1.5 0.8 1.5-0.3 1.5-0.5 1.5 0.2 1.5 0.3 1.5-0.1 1.5-0.6 1.5 1 1.5-0.9 1.4 0.1 1.5 0.4 1.5-0.1 1.5-0.1 1.5 0 1.5 0 1.5-0.2 1.5 0.4 1.5-0.1 1.5-0.1 1.4 0.2 1.5-0.1 1.5-0.4 1.5 0.9 1.5-0.6" fill="none" stroke="#d02a6a" stroke-width="2.4" stroke-linejoin="round" stroke-linecap="round"/>
<path d="M655.2 746.9l1.5-1.1 1.5-1.5 1.5-1.5 1.4-1.4 1.5-0.9 1.5-1.1 1.5-0.7 1.5-0.1 1.5-0.6 1.5-0.3 1.5-0.5 1.5-0.1 1.5-1 1.4-0.2 1.5-0.8 1.5 0.1 1.5 0.5 1.5-0.4 1.5 0 1.5 0.1 1.5 0.4 1.5 0.1 1.5-0.3 1.4 0.6 1.5-0.4 1.5 0.3 1.5 0.3 1.5 0 1.5 0.1 1.5-0.1 1.5 0.3 1.5 0 1.5 0.1 1.4 0 1.5-0.1 1.5 0.7 1.5-0.4 1.5 0.4" fill="none" stroke="#7c2566" stroke-width="2.4" stroke-linejoin="round" stroke-linecap="round"/>
<path d="M717.8 778.5l1.5-0.1 1.4-0.7 1.5 0 1.5 0.6 1.5-0.1 1.5-0.7 1.5 0.3 1.5-0.6 1.5 0.9 1.5-0.8 1.5 0.6 1.4 0.8 1.5-1.4 1.5 0.5 1.5-0.7 1.5 0.4 1.5-0.7 1.5 0.9 1.5 0 1.5-1.2 1.5 0.1 1.4 0.3 1.5 0.6 1.5-1 1.5-0.7 1.5 1 1.5-0.1 1.5 0.1 1.5-0.5 1.5 0.1 1.5 0.5 1.4-0.4 1.5-0.7 1.5 0.7 1.5-0.6 1.5-0.3 1.5 0 1.5 1 1.5-0.9 1.5 0.6 1.5 0.3 1.4-0.9 1.5 0.7 1.5-0.5 1.5-0.6 1.5 0.2 1.5 0.2 1.5-0.4 1.5 0.3 1.5-0.3 1.5-0.1 1.4 0.8 1.5-1.1 1.5 0.7 1.5-0.1 1.5-0.1 1.5 0.2 1.5 0 1.5-0.4 1.5 0.4 1.5-0.4 1.4-0.1 1.5 0.4 1.5-0.1 1.5-0.3 1.5 0.2 1.5-0.3 1.5 0.2 1.5 0.1 1.5-0.1 1.5-0.2 1.4-0.3 1.5 1 1.5-0.5 1.5 0 1.5 0.1 1.5-0.1 1.5-0.7 1.5 0.1 1.5 0.5 1.5 0.3 1.4-0.7 1.5 0 1.5 0.6 1.5-0.6 1.5-0.1 1.5-0.1 1.5 0.4 1.5-0.4 1.5 0.2 1.5-0.4 1.4 0.2 1.5-0.1 1.5 0.2 1.5 0.1 1.5-0.3 1.5-0.2 1.5 0.4 1.5-0.3 1.5-0.8 1.5 1.2 1.4 0.2 1.5-0.2 1.5-0.2 1.5-0.2 1.5 0.8 1.5-0.1 1.5-1 1.5 0.8 1.5-0.9 1.5-0.2 1.4 1.6 1.5-1.4 1.5 0.2 1.5 0.1 1.5-0.3 1.5 0.2 1.5-0.3 1.5-0.5 1.5 0.5 1.5 0.6 1.4-1 1.5 0.1 1.5-0.2 1.5 0.4 1.5-0.2 1.5-0.4 1.5 0.7 1.5 0.2 1.5-0.8 1.5 0.6 1.4-0.6 1.5 0.6 1.5 0 1.5-0.3 1.5 0 1.5 0.3 1.5-0.9 1.5 0.8 1.5-0.5 1.5 0.6 1.4-0.1 1.5-0.1 1.5-0.3 1.5 0 1.5 0 1.5 0 1.5-0.4 1.5 0 1.5 0.5 1.5-0.2 1.4-0.2 1.5-0.1 1.5 0 1.5 0.3 1.5 0 1.5-0.2 1.5-0.1 1.5 0.5 1.5 0 1.5-0.3 1.4-0.2 1.5 0.3 1.5-0.1 1.5 0.1 1.5-0.5 1.5 0.9 1.5-0.8 1.5 0.2 1.5-0.2 1.5-0.1 1.4 1.1 1.5-1.5 1.5 0.1 1.5-0.3 1.5 0.2 1.5 0 1.5 0.1 1.5-0.4 1.5 1 1.5-0.5 1.4 0.3 1.5-0.7 1.5 0.2 1.5-0.5 1.5 0.5 1.5 0.1 1.5 0 1.5 0.2 1.5 0.4 1.5-0.7 1.4 0.1 1.5 0 1.5 0.2 1.5-0.5 1.5 0.4" fill="none" stroke="#c8b040" stroke-width="2.4" stroke-linejoin="round" stroke-linecap="round"/>
<path d="M717.8 778.4l1.5 0.1 1.4 0 1.5 0.4 1.5-0.8 1.5-0.2 1.5 0.3 1.5 0.1 1.5-0.5 1.5-0.1 1.5 0.4 1.5-1.2 1.4 0.5 1.5-0.2 1.5 0.4 1.5-0.1 1.5 0.5 1.5-0.3 1.5-0.2 1.5-0.3 1.5 0.4 1.5 0.1 1.4-0.8 1.5 0.3 1.5-0.3 1.5 0.2 1.5 0.2 1.5-0.2 1.5 0.8 1.5-1.3 1.5 0.1 1.5-0.3 1.4 0.5 1.5-0.9 1.5 0.2 1.5 1.1 1.5 0 1.5-0.8 1.5 0.6 1.5-0.5 1.5 0 1.5 0 1.4-0.7 1.5 0.4 1.5-0.1 1.5 0.1 1.5-1 1.5 0.6 1.5 0.7 1.5-0.4 1.5 0.4 1.5-0.2 1.4 0 1.5 0.4 1.5 0.2 1.5-0.3 1.5-0.6 1.5 1.2 1.5-1.3 1.5 1 1.5-0.5 1.5-0.1 1.4-0.5 1.5 0.3 1.5 0.3 1.5-0.2 1.5-0.3 1.5-0.3 1.5 0.3 1.5 0.1 1.5 0 1.5-0.7 1.4 0.9 1.5-0.1 1.5-0.4 1.5-0.3 1.5 1.1 1.5-1 1.5-0.1 1.5 0.3 1.5 0.8 1.5-0.5 1.4-0.2 1.5-0.2 1.5 0.6 1.5-0.4 1.5-0.4 1.5 0.5 1.5-0.1 1.5 0 1.5 0.4 1.5-0.5 1.4 0 1.5-0.4 1.5 0.6 1.5 0.1 1.5-0.3 1.5 0.2 1.5-0.6 1.5 0.4 1.5 0.4 1.5-0.9 1.4 0.3 1.5-0.1 1.5-0.1 1.5-0.3 1.5 0.7 1.5-0.6 1.5 0.2 1.5 0 1.5 0 1.5 0.2 1.4-0.3 1.5 0.1 1.5-0.3 1.5-0.3 1.5 0.9 1.5-1.1 1.5 0.3 1.5 0.8 1.5-0.4 1.5-0.1 1.4-0.4 1.5 0.8 1.5-1.1 1.5 1.1 1.5-0.3 1.5 0.1 1.5 0.2 1.5-0.1 1.5-0.2 1.5-0.1 1.4 0.1 1.5 0.1 1.5 0.6 1.5-0.9 1.5-0.8 1.5 0.1 1.5 0.1 1.5 0.6 1.5-0.4 1.5 0.4 1.4 0 1.5-0.3 1.5-0.3 1.5 0.5 1.5 0.1 1.5-0.3 1.5 0.6 1.5-0.9 1.5-0.1 1.5-0.1 1.4 0.2 1.5 0.5 1.5-0.2 1.5 0.3 1.5-0.5 1.5-0.8 1.5 1.2 1.5-0.6 1.5-0.3 1.5 0.9 1.4-1.2 1.5 1 1.5-0.2 1.5-0.2 1.5-0.2 1.5 0 1.5 0.4 1.5 0.1 1.5 0.6 1.5-0.7 1.4-0.7 1.5 0.8 1.5-0.5 1.5-0.1 1.5 0.2 1.5 0.3 1.5-0.1 1.5-0.2 1.5 0.7 1.5-1.2 1.4 0.9 1.5-0.2 1.5 0 1.5-0.2 1.5-0.2 1.5-0.4 1.5 0.4 1.5-0.5 1.5 0.7 1.5-0.4 1.4-0.1 1.5 0.2 1.5-0.2 1.5 0.6 1.5-0.9" fill="none" stroke="#e37a2b" stroke-width="2.4" stroke-linejoin="round" stroke-linecap="round"/>
<path d="M717.8 778.2l1.5 0.2 1.4 0.1 1.5-0.5 1.5 0.7 1.5-0.7 1.5-0.1 1.5-0.6 1.5 0.9 1.5-0.6 1.5 0.3 1.5 0.8 1.4-0.2 1.5-0.3 1.5-0.7 1.5-0.1 1.5 0.6 1.5-0.3 1.5 0.1 1.5 0.9 1.5-1.3 1.5-0.2 1.4 1.4 1.5-0.6 1.5-0.3 1.5-0.1 1.5-0.4 1.5-0.1 1.5 0.6 1.5-0.5 1.5 0.5 1.5-0.2 1.4-0.2 1.5-0.2 1.5 0.4 1.5-1 1.5 0.6 1.5 0.1 1.5-0.3 1.5 0.5 1.5-0.4 1.5 1.1 1.4-0.3 1.5-0.5 1.5 0 1.5-0.1 1.5 0.1 1.5-0.4 1.5-0.3 1.5 0.6 1.5-0.6 1.5 0.3 1.4 0.6 1.5 0 1.5-0.5 1.5-0.4 1.5 0.7 1.5 0.4 1.5-1.1 1.5-0.1 1.5 0.5 1.5-0.5 1.4-0.4 1.5 1.1 1.5-0.2 1.5 0 1.5-0.6 1.5 0.8 1.5-0.3 1.5-0.6 1.5 0.1 1.5 0 1.4 0.7 1.5-0.5 1.5 0.4 1.5-0.6 1.5 0.1 1.5-0.1 1.5 0.4 1.5-0.2 1.5-0.1 1.5 0.2 1.4-0.2 1.5 0.5 1.5 0.1 1.5 0.2 1.5-0.6 1.5-0.4 1.5 0.1 1.5 0.9 1.5-0.9 1.5 0.1 1.4 0.1 1.5-0.2 1.5-0.1 1.5-0.3 1.5 0 1.5-0.3 1.5 0.5 1.5 0.5 1.5-0.8 1.5 1 1.4-0.8 1.5 0.7 1.5-0.2 1.5-0.7 1.5 0.7 1.5-0.7 1.5 0.2 1.5 0.3 1.5-0.4 1.5 0.1 1.4 0.1 1.5 0.3 1.5-0.6 1.5 0.5 1.5-0.1 1.5-0.2 1.5 0.2 1.5-0.2 1.5 0 1.5 0 1.4 0 1.5-0.5 1.5 0.7 1.5 0 1.5 0.3 1.5 0.4 1.5-1.2 1.5 0.1 1.5-0.4 1.5 1.1 1.4-0.3 1.5-0.1 1.5-0.9 1.5 0.4 1.5 0.4 1.5-0.1 1.5-0.1 1.5 0.5 1.5-0.6 1.5 0.5 1.4-0.4 1.5-0.2 1.5 0.1 1.5 0.4 1.5-0.2 1.5-0.4 1.5 0.5 1.5 0.3 1.5-0.5 1.5 0.1 1.4-0.1 1.5-0.1 1.5 0.1 1.5 0 1.5-0.5 1.5 0.1 1.5-0.1 1.5 0.3 1.5 0.2 1.5-0.3 1.4 0.7 1.5-0.2 1.5-0.7 1.5 0.5 1.5 0 1.5 0.2 1.5-0.6 1.5 0.6 1.5-0.9 1.5 0.3 1.4 0.7 1.5-0.4 1.5 0.1 1.5-0.5 1.5 0 1.5 0.3 1.5 0.1 1.5-0.4 1.5 0.3 1.5-0.7 1.4 0.7 1.5-0.4 1.5 0.9 1.5-0.9 1.5 0.4 1.5-0.4 1.5-0.3 1.5 0.5 1.5 0.8 1.5-0.2 1.4-0.8 1.5 0.4 1.5 0.1 1.5-0.8 1.5 0.4" fill="none" stroke="#7d7d7d" stroke-width="2.4" stroke-linejoin="round" stroke-linecap="round"/>
<path d="M717.8 779.5l1.5 0 1.4 0.3 1.5-0.1 1.5 0.3 1.5-0.4 1.5 0.1 1.5-0.4 1.5 0.2 1.5 0.3 1.5 0.1 1.5-0.1 1.4-0.1 1.5-0.2 1.5 0 1.5 0.5 1.5 0 1.5-0.4 1.5 0.4 1.5-0.3 1.5 0.5 1.5-0.4 1.4 0 1.5 0 1.5 0.1 1.5-0.3 1.5-0.1 1.5 0 1.5 0.3 1.5 0 1.5 0.1 1.5 0 1.4-0.1 1.5 0 1.5 0 1.5-0.1 1.5-0.2 1.5 0.4 1.5-0.1 1.5-0.2 1.5 0.1 1.5 0.2 1.4 0.1 1.5-0.5 1.5 0.5 1.5-0.4 1.5 0.3 1.5-0.6 1.5 0.6 1.5-0.7 1.5 0.3 1.5-0.2 1.4 0.1 1.5 0.1 1.5 0.2 1.5-0.6 1.5 0.7 1.5-0.2 1.5 0.4 1.5-0.3 1.5-0.2 1.5 0.3 1.4-0.2 1.5 0.1 1.5 0 1.5-0.2 1.5-0.1 1.5 0.4 1.5 0.3 1.5-0.6 1.5 0.4 1.5-0.1 1.4 0 1.5-0.4 1.5-0.3 1.5 0.7 1.5-0.7 1.5 0.5 1.5 0.1 1.5-0.3 1.5-0.2 1.5 0.5 1.4 0 1.5-0.5 1.5 0.2 1.5 0.9 1.5-0.6 1.5 0.1 1.5 0 1.5-0.2 1.5 0.1 1.5 0 1.4-0.6 1.5 0.9 1.5-0.4 1.5-0.1 1.5 0.5 1.5-0.1 1.5 0 1.5-0.5 1.5 0.5 1.5-0.4 1.4 0.4 1.5 0 1.5-0.4 1.5-0.1 1.5 0.5 1.5 0 1.5-0.4 1.5 0.3 1.5 0.1 1.5 0 1.4-0.4 1.5 0.7 1.5-1 1.5 0 1.5 0.1 1.5 0.3 1.5 0.2 1.5-0.3 1.5 0.4 1.5-0.8 1.4 0.6 1.5-0.4 1.5 0.1 1.5 0.3 1.5-0.1 1.5 0.2 1.5-0.2 1.5-0.2 1.5 0.2 1.5 0.1 1.4-0.1 1.5-0.3 1.5 0.1 1.5 0 1.5 0.3 1.5 0 1.5-0.3 1.5 0.3 1.5 0 1.5-0.5 1.4 0.3 1.5 0 1.5 0.2 1.5-0.2 1.5-0.1 1.5 0.1 1.5 0.4 1.5-0.2 1.5-0.3 1.5 0.1 1.4-0.2 1.5 0.3 1.5 0 1.5-0.3 1.5 0.3 1.5-0.3 1.5 0.7 1.5-0.2 1.5-0.5 1.5 0 1.4 0.1 1.5-0.1 1.5 0 1.5 0.5 1.5-0.7 1.5 0.2 1.5 0.5 1.5 0.1 1.5-0.5 1.5 0.3 1.4-0.3 1.5 0.2 1.5 0.3 1.5-0.2 1.5-0.1 1.5-0.1 1.5-0.2 1.5 0.4 1.5-0.3 1.5 0.2 1.4 0 1.5 0.5 1.5-0.5 1.5 0.3 1.5-0.6 1.5-0.1 1.5 0.2 1.5-0.4 1.5 0.4 1.5-0.1 1.4 0.3 1.5-0.2 1.5 0.4 1.5-0.2 1.5-0.4" fill="none" stroke="#c02070" stroke-width="2.4" stroke-linejoin="round" stroke-linecap="round"/>
<path d="M1093.9 775.3l1.5-0.2 1.4-0.3 1.5-0.5 1.4-0.6 1.5 0.8 1.4-0.8 1.5-0.3 1.4-0.2 1.5-0.3 1.4-0.5 1.5 3.1 1.4 1.1 1.5-0.2 1.4-0.5 1.5 0.6 1.4-0.7 1.5 0.5 1.5-0.3 1.4 0.4 1.5-0.1 1.4-1.4 1.5 1.2 1.4-0.7 1.5 0.6 1.4-0.3 1.5 0.6 1.4-0.5 1.5 0.4 1.4 0.7 1.5 0 1.4-0.9 1.5-0.3 1.4 0.6 1.5 0.1 1.5-0.2 1.4-0.9 1.5 0.9 1.4-2.7 1.5-0.5 1.4 3.5" fill="none" stroke="#c8a878" stroke-width="2.4" stroke-linejoin="round" stroke-linecap="round"/>
<path d="M1093.9 776.4l1.5-0.3 1.4 0.1 1.5-0.6 1.4 0.3 1.5 0.3 1.4-0.4 1.5-0.3 1.4 0.6 1.5 0.2 1.4-0.7 1.5-0.3 1.4 0 1.5 0.3 1.4 0.4 1.5-0.4 1.4 0.1 1.5 0 1.5 0.3 1.4-0.5 1.5 0.1 1.4 0.9 1.5-0.8 1.4 0.6 1.5-0.4 1.4 0.1 1.5-0.3 1.4 0.4 1.5 0 1.4 0 1.5 0 1.4 0.4 1.5-0.8 1.4 0.5 1.5-0.4 1.5 0.1 1.4-0.1 1.5-0.1 1.4 0.8 1.5-0.5 1.4-0.1" fill="none" stroke="#7d7d7d" stroke-width="2.4" stroke-linejoin="round" stroke-linecap="round"/>
<path d="M1154.9 774.8h0M1155.7 774.8h0M1156.5 774.5h0M1157.2 774.2h0M1158.0 774.4h0M1158.8 774.4h0M1159.6 774.5h0M1160.3 774.1h0M1161.1 774.6h0M1161.9 774.3h0M1162.7 773.7h0M1163.4 774.5h0M1164.2 774.6h0M1165.0 775.0h0M1165.8 775.0h0M1166.5 774.0h0M1167.3 774.6h0M1168.1 774.8h0M1168.9 774.7h0M1169.6 774.9h0M1170.4 774.6h0M1171.2 774.8h0M1172.0 774.4h0M1172.7 774.2h0M1173.5 774.4h0M1174.3 774.6h0M1175.1 774.6h0M1175.8 774.2h0M1176.6 774.9h0M1177.4 774.8h0M1178.2 774.7h0M1178.9 774.9h0M1179.7 774.4h0M1180.5 774.7h0M1181.3 774.8h0M1182.0 774.4h0M1182.8 774.6h0M1183.6 774.5h0M1184.4 774.6h0M1185.1 774.7h0M1185.9 774.9h0M1186.7 774.5h0M1187.5 774.8h0M1188.2 774.3h0M1189.0 774.5h0M1189.8 774.6h0M1190.6 774.8h0M1191.3 774.1h0M1192.1 774.6h0M1192.9 774.4h0M1193.7 774.7h0M1194.4 774.3h0M1195.2 774.5h0M1196.0 774.3h0M1196.8 774.4h0M1197.5 774.6h0M1198.3 774.8h0M1199.1 774.6h0M1199.9 774.7h0M1200.6 774.7h0M1201.4 774.1h0M1202.2 774.3h0M1203.0 774.5h0M1203.7 774.4h0M1204.5 774.3h0M1205.3 774.5h0M1206.1 774.6h0M1206.8 774.5h0M1207.6 774.4h0M1208.4 774.0h0M1209.2 774.9h0M1209.9 774.5h0" stroke="#e08080" stroke-width="3.0" stroke-linecap="round" fill="none"/>
<path d="M1154.9 772.7h0M1155.7 771.9h0M1156.5 772.7h0M1157.2 772.2h0M1158.0 772.4h0M1158.8 772.4h0M1159.6 772.3h0M1160.3 772.5h0M1161.1 772.7h0M1161.9 772.1h0M1162.7 772.9h0M1163.4 773.1h0M1164.2 772.8h0M1165.0 772.5h0M1165.8 772.8h0M1166.5 772.6h0M1167.3 772.4h0M1168.1 772.5h0M1168.9 772.6h0M1169.6 772.4h0M1170.4 772.7h0M1171.2 772.4h0M1172.0 772.7h0M1172.7 772.3h0M1173.5 772.4h0M1174.3 772.7h0M1175.1 772.4h0M1175.8 772.5h0M1176.6 772.5h0M1177.4 772.7h0M1178.2 773.1h0M1178.9 772.9h0M1179.7 772.6h0M1180.5 772.5h0M1181.3 773.2h0M1182.0 773.1h0M1182.8 773.4h0M1183.6 773.2h0M1184.4 772.7h0M1185.1 773.0h0M1185.9 772.8h0M1186.7 772.5h0M1187.5 773.4h0M1188.2 772.9h0M1189.0 772.8h0M1189.8 772.8h0M1190.6 772.7h0M1191.3 772.6h0M1192.1 772.8h0M1192.9 773.2h0M1193.7 772.7h0M1194.4 772.4h0M1195.2 773.3h0M1196.0 773.0h0M1196.8 772.9h0M1197.5 773.1h0M1198.3 773.0h0M1199.1 773.0h0M1199.9 772.7h0M1200.6 773.1h0M1201.4 773.1h0M1202.2 772.6h0M1203.0 772.8h0M1203.7 773.2h0M1204.5 773.4h0M1205.3 773.1h0M1206.1 773.0h0M1206.8 773.2h0M1207.6 773.5h0M1208.4 773.5h0M1209.2 773.3h0M1209.9 773.2h0" stroke="#30a080" stroke-width="3.0" stroke-linecap="round" fill="none"/>
<path d="M1154.9 769.0h0M1155.7 768.7h0M1156.5 769.4h0M1157.2 769.5h0M1158.0 769.9h0M1158.8 769.6h0M1159.6 769.3h0M1160.3 769.4h0M1161.1 769.4h0M1161.9 769.2h0M1162.7 769.5h0M1163.4 769.9h0M1164.2 769.3h0M1165.0 769.2h0M1165.8 769.7h0M1166.5 768.1h0M1167.3 770.5h0M1168.1 770.1h0M1168.9 769.7h0M1169.6 769.7h0M1170.4 769.9h0M1171.2 769.4h0M1172.0 769.1h0M1172.7 769.4h0M1173.5 769.5h0M1174.3 769.0h0M1175.1 770.2h0M1175.8 769.7h0M1176.6 769.6h0M1177.4 769.8h0M1178.2 769.8h0M1178.9 769.8h0M1179.7 770.0h0M1180.5 770.3h0M1181.3 770.2h0M1182.0 769.9h0M1182.8 769.7h0M1183.6 769.6h0M1184.4 769.6h0M1185.1 770.9h0M1185.9 770.3h0M1186.7 770.4h0M1187.5 770.0h0M1188.2 770.0h0M1189.0 770.2h0M1189.8 769.6h0M1190.6 770.2h0M1191.3 770.0h0M1192.1 769.9h0M1192.9 769.9h0M1193.7 770.2h0M1194.4 769.6h0M1195.2 769.9h0M1196.0 769.8h0M1196.8 770.1h0M1197.5 770.1h0M1198.3 770.5h0M1199.1 771.0h0M1199.9 770.7h0M1200.6 770.9h0M1201.4 770.3h0M1202.2 770.9h0M1203.0 770.6h0M1203.7 770.7h0M1204.5 770.4h0M1205.3 770.5h0M1206.1 769.9h0M1206.8 770.1h0M1207.6 769.8h0M1208.4 770.4h0M1209.2 771.2h0M1209.9 770.1h0" stroke="#2a9ab0" stroke-width="3.4" stroke-linecap="round" fill="none"/>
<path d="M1154.9 767.0h0M1155.7 768.0h0M1156.5 767.3h0M1157.2 767.9h0M1158.0 767.8h0M1158.8 768.0h0M1159.6 768.2h0M1160.3 768.1h0M1161.1 768.7h0M1161.9 767.9h0M1162.7 767.9h0M1163.4 767.7h0M1164.2 768.1h0M1165.0 767.9h0M1165.8 767.2h0M1166.5 767.7h0M1167.3 768.2h0M1168.1 768.0h0M1168.9 768.1h0M1169.6 767.7h0M1170.4 768.4h0M1171.2 767.8h0M1172.0 768.1h0M1172.7 769.3h0M1173.5 768.1h0M1174.3 768.5h0M1175.1 768.7h0M1175.8 768.3h0M1176.6 768.2h0M1177.4 767.4h0M1178.2 768.4h0M1178.9 768.8h0M1179.7 768.5h0M1180.5 768.3h0M1181.3 768.8h0M1182.0 768.6h0M1182.8 769.2h0M1183.6 769.0h0M1184.4 768.7h0M1185.1 768.3h0M1185.9 768.9h0M1186.7 768.9h0M1187.5 768.6h0M1188.2 769.0h0M1189.0 768.9h0M1189.8 769.0h0M1190.6 768.0h0M1191.3 768.9h0M1192.1 768.2h0M1192.9 768.7h0M1193.7 768.1h0M1194.4 769.2h0M1195.2 768.7h0M1196.0 769.8h0M1196.8 768.3h0M1197.5 768.6h0M1198.3 769.0h0M1199.1 768.1h0M1199.9 767.8h0M1200.6 768.3h0M1201.4 768.3h0M1202.2 768.9h0M1203.0 769.3h0M1203.7 769.6h0M1204.5 768.6h0M1205.3 769.8h0M1206.1 769.1h0M1206.8 768.4h0M1207.6 769.0h0M1208.4 769.6h0M1209.2 769.5h0M1209.9 768.6h0" stroke="#2a9ab0" stroke-width="3.4" stroke-linecap="round" fill="none"/>
<path d="M1154.9 761.0h0M1155.7 760.7h0M1156.5 761.3h0M1157.2 760.7h0M1158.0 761.1h0M1158.8 760.4h0M1159.6 761.5h0M1160.3 761.3h0M1161.1 762.5h0M1161.9 760.6h0M1162.7 760.8h0M1163.4 761.7h0M1164.2 761.6h0M1165.0 761.5h0M1165.8 761.3h0M1166.5 762.8h0M1167.3 762.5h0M1168.1 760.9h0M1168.9 761.6h0M1169.6 762.0h0M1170.4 762.5h0M1171.2 762.1h0M1172.0 762.2h0M1172.7 762.3h0M1173.5 763.5h0M1174.3 763.0h0M1175.1 762.9h0M1175.8 763.0h0M1176.6 763.9h0M1177.4 763.5h0M1178.2 764.0h0M1178.9 763.8h0M1179.7 763.6h0M1180.5 763.5h0M1181.3 763.6h0M1182.0 763.5h0M1182.8 764.0h0M1183.6 764.9h0M1184.4 764.3h0M1185.1 764.7h0M1185.9 765.5h0M1186.7 765.0h0M1187.5 764.5h0M1188.2 764.3h0M1189.0 765.0h0M1189.8 765.8h0M1190.6 765.2h0M1191.3 765.7h0M1192.1 764.7h0M1192.9 766.2h0M1193.7 765.1h0M1194.4 765.8h0M1195.2 765.6h0M1196.0 766.3h0M1196.8 765.7h0M1197.5 766.1h0M1198.3 766.3h0M1199.1 766.9h0M1199.9 766.7h0M1200.6 767.6h0M1201.4 766.4h0M1202.2 766.9h0M1203.0 766.0h0M1203.7 767.8h0M1204.5 766.2h0M1205.3 766.9h0M1206.1 767.5h0M1206.8 767.1h0M1207.6 768.2h0M1208.4 768.3h0M1209.2 767.0h0M1209.9 768.9h0" stroke="#a02a90" stroke-width="3.4" stroke-linecap="round" fill="none"/>
<path d="M1154.9 756.3h0M1155.7 755.8h0M1156.5 756.7h0M1157.2 756.3h0M1158.0 757.3h0M1158.8 757.8h0M1159.6 757.0h0M1160.3 757.4h0M1161.1 758.1h0M1161.9 757.6h0M1162.7 759.2h0M1163.4 758.2h0M1164.2 759.2h0M1165.0 759.1h0M1165.8 759.4h0M1166.5 759.6h0M1167.3 759.6h0M1168.1 759.3h0M1168.9 759.6h0M1169.6 760.5h0M1170.4 760.7h0M1171.2 761.5h0M1172.0 760.2h0M1172.7 760.7h0M1173.5 761.7h0M1174.3 761.3h0M1175.1 760.7h0M1175.8 762.0h0M1176.6 761.6h0M1177.4 761.9h0M1178.2 762.1h0M1178.9 762.1h0M1179.7 763.3h0M1180.5 761.8h0M1181.3 762.7h0M1182.0 762.5h0M1182.8 763.4h0M1183.6 761.5h0M1184.4 762.5h0M1185.1 764.0h0M1185.9 763.4h0M1186.7 763.4h0M1187.5 763.8h0M1188.2 764.1h0M1189.0 764.2h0M1189.8 764.1h0M1190.6 763.6h0M1191.3 763.7h0M1192.1 763.3h0M1192.9 764.1h0M1193.7 765.4h0M1194.4 764.4h0M1195.2 763.8h0M1196.0 765.1h0M1196.8 764.5h0M1197.5 764.5h0M1198.3 765.4h0M1199.1 765.0h0M1199.9 765.6h0M1200.6 764.4h0M1201.4 764.9h0M1202.2 765.3h0M1203.0 765.1h0M1203.7 765.2h0M1204.5 766.1h0M1205.3 766.5h0M1206.1 766.7h0M1206.8 766.7h0M1207.6 765.7h0M1208.4 765.6h0M1209.2 765.5h0M1209.9 767.2h0" stroke="#c8289a" stroke-width="3.6" stroke-linecap="round" fill="none"/>
<path d="M1213.0 771.9h0M1213.8 771.4h0M1214.6 771.2h0M1215.4 772.1h0M1216.1 772.1h0M1216.9 772.1h0M1217.7 771.8h0M1218.5 771.7h0M1219.2 771.6h0M1220.0 772.2h0M1220.8 771.5h0M1221.6 772.5h0M1222.3 771.8h0M1223.1 771.6h0M1223.9 771.7h0M1224.7 772.0h0M1225.4 772.3h0M1226.2 772.2h0M1227.0 772.5h0M1227.8 772.5h0M1228.5 772.6h0M1229.3 771.8h0M1230.1 772.8h0M1230.9 772.6h0M1231.6 771.8h0M1232.4 772.2h0M1233.2 771.6h0M1234.0 771.7h0M1234.7 772.2h0M1235.5 772.0h0M1236.3 772.9h0M1237.1 772.3h0M1237.8 771.7h0M1238.6 772.3h0M1239.4 772.4h0M1240.2 771.4h0M1240.9 772.2h0M1241.7 773.1h0M1242.5 772.1h0M1243.3 773.6h0M1244.0 772.4h0M1244.8 772.5h0M1245.6 772.8h0M1246.4 773.0h0M1247.1 772.8h0M1247.9 771.6h0M1248.7 773.2h0M1249.5 773.1h0M1250.2 772.8h0M1251.0 772.9h0M1251.8 772.1h0M1252.6 772.7h0M1253.3 772.9h0M1254.1 772.5h0M1254.9 772.7h0M1255.7 773.0h0M1256.4 773.0h0M1257.2 773.0h0M1258.0 773.0h0M1258.8 773.1h0M1259.5 773.0h0M1260.3 772.5h0M1261.1 773.5h0M1261.9 772.9h0M1262.6 772.7h0M1263.4 773.1h0M1264.2 773.1h0M1264.9 772.6h0M1265.7 773.3h0M1266.5 772.9h0M1267.3 772.9h0M1268.0 773.1h0M1268.8 773.1h0M1269.6 772.9h0M1270.4 772.7h0M1271.1 773.7h0M1271.9 772.9h0M1272.7 773.7h0M1273.5 773.8h0M1274.2 773.4h0M1275.0 773.4h0M1275.8 774.2h0M1276.6 772.9h0M1277.3 773.8h0M1278.1 773.4h0M1278.9 773.5h0M1279.7 773.5h0M1280.4 773.7h0M1281.2 773.6h0M1282.0 773.8h0M1282.8 774.0h0M1283.5 773.4h0M1284.3 773.9h0M1285.1 773.8h0M1285.9 774.2h0M1286.6 774.3h0M1287.4 774.0h0M1288.2 774.7h0M1289.0 773.5h0M1289.7 774.3h0M1290.5 774.3h0M1291.3 774.4h0M1292.1 774.2h0M1292.8 774.1h0M1293.6 774.1h0M1294.4 774.6h0M1295.2 774.9h0M1295.9 774.5h0M1296.7 774.5h0M1297.5 774.8h0M1298.3 774.1h0M1299.0 775.0h0M1299.8 775.0h0M1300.6 774.3h0M1301.4 774.9h0M1302.1 774.8h0M1302.9 775.1h0M1303.7 775.3h0M1304.5 775.1h0M1305.2 775.6h0M1306.0 774.6h0M1306.8 774.8h0M1307.6 774.2h0M1308.3 775.0h0M1309.1 775.2h0M1309.9 774.7h0M1310.7 775.3h0M1311.4 774.7h0M1312.2 775.3h0M1313.0 775.9h0M1313.8 775.3h0M1314.5 775.3h0M1315.3 775.0h0M1316.1 775.5h0M1316.9 775.2h0M1317.6 775.2h0M1318.4 775.7h0M1319.2 775.8h0M1320.0 775.7h0M1320.7 776.1h0M1321.5 775.4h0M1322.3 775.2h0M1323.1 775.7h0M1323.8 775.8h0M1324.6 776.0h0M1325.4 775.4h0M1326.2 775.2h0M1326.9 776.5h0M1327.7 774.9h0M1328.5 775.1h0M1329.3 776.0h0M1330.0 775.8h0M1330.8 775.7h0M1331.6 775.7h0M1332.4 776.0h0M1333.1 775.7h0M1333.9 775.7h0M1334.7 775.0h0M1335.5 776.0h0M1336.2 776.2h0M1337.0 775.6h0M1337.8 776.1h0M1338.6 776.0h0M1339.3 776.1h0M1340.1 776.3h0M1340.9 776.3h0M1341.7 776.4h0M1342.4 776.5h0M1343.2 776.4h0M1344.0 775.5h0M1344.8 776.3h0M1345.5 776.6h0" stroke="#2a9ab0" stroke-width="3.2" stroke-linecap="round" fill="none"/>
<path d="M1213.0 774.2h0M1213.8 773.6h0M1214.6 774.1h0M1215.4 773.9h0M1216.1 774.4h0M1216.9 774.5h0M1217.7 773.9h0M1218.5 774.4h0M1219.2 774.0h0M1220.0 773.8h0M1220.8 774.3h0M1221.6 774.2h0M1222.3 774.2h0M1223.1 774.3h0M1223.9 774.2h0M1224.7 774.2h0M1225.4 774.2h0M1226.2 774.1h0M1227.0 774.0h0M1227.8 774.1h0M1228.5 774.2h0M1229.3 774.4h0M1230.1 774.1h0M1230.9 774.0h0M1231.6 774.2h0M1232.4 774.4h0M1233.2 773.7h0M1234.0 774.9h0M1234.7 774.2h0M1235.5 774.3h0M1236.3 774.0h0M1237.1 773.9h0M1237.8 774.2h0M1238.6 774.5h0M1239.4 774.3h0M1240.2 774.7h0M1240.9 774.4h0M1241.7 774.7h0M1242.5 774.3h0M1243.3 774.9h0M1244.0 774.6h0M1244.8 774.5h0M1245.6 774.6h0M1246.4 774.6h0M1247.1 774.8h0M1247.9 774.6h0M1248.7 774.2h0M1249.5 774.8h0M1250.2 775.0h0M1251.0 774.9h0M1251.8 774.8h0M1252.6 774.5h0M1253.3 774.8h0M1254.1 774.5h0M1254.9 774.4h0M1255.7 775.0h0M1256.4 774.7h0M1257.2 774.8h0M1258.0 774.5h0M1258.8 774.6h0M1259.5 774.7h0M1260.3 775.1h0M1261.1 774.9h0M1261.9 774.9h0M1262.6 774.9h0M1263.4 775.0h0M1264.2 774.8h0M1264.9 774.8h0M1265.7 774.8h0M1266.5 775.1h0M1267.3 775.1h0M1268.0 775.3h0M1268.8 775.2h0M1269.6 774.8h0M1270.4 775.1h0M1271.1 775.1h0M1271.9 774.8h0M1272.7 775.2h0M1273.5 775.1h0M1274.2 775.5h0M1275.0 774.9h0M1275.8 775.2h0M1276.6 774.9h0M1277.3 774.9h0M1278.1 775.2h0M1278.9 775.0h0M1279.7 775.5h0M1280.4 775.3h0M1281.2 775.7h0M1282.0 775.0h0M1282.8 775.1h0M1283.5 774.9h0M1284.3 774.9h0M1285.1 774.9h0M1285.9 775.3h0M1286.6 775.7h0M1287.4 775.4h0M1288.2 774.8h0M1289.0 775.2h0M1289.7 775.0h0M1290.5 775.2h0M1291.3 775.2h0M1292.1 775.5h0M1292.8 775.7h0M1293.6 775.2h0M1294.4 775.7h0M1295.2 775.0h0M1295.9 775.3h0M1296.7 775.3h0M1297.5 775.5h0M1298.3 775.9h0M1299.0 775.7h0M1299.8 775.3h0M1300.6 775.9h0M1301.4 775.9h0M1302.1 775.2h0M1302.9 776.1h0M1303.7 775.6h0M1304.5 775.5h0M1305.2 775.1h0M1306.0 775.4h0M1306.8 775.5h0M1307.6 776.1h0M1308.3 775.7h0M1309.1 776.1h0M1309.9 775.6h0M1310.7 776.1h0M1311.4 775.5h0M1312.2 775.6h0M1313.0 775.9h0M1313.8 775.7h0M1314.5 775.7h0M1315.3 775.8h0M1316.1 775.8h0M1316.9 775.6h0M1317.6 775.8h0M1318.4 775.9h0M1319.2 775.8h0M1320.0 776.1h0M1320.7 775.6h0M1321.5 775.7h0M1322.3 776.5h0M1323.1 776.0h0M1323.8 776.0h0M1324.6 776.0h0M1325.4 775.8h0M1326.2 775.6h0M1326.9 775.6h0M1327.7 776.5h0M1328.5 775.8h0M1329.3 776.5h0M1330.0 775.8h0M1330.8 775.9h0M1331.6 776.3h0M1332.4 776.2h0M1333.1 776.2h0M1333.9 775.8h0M1334.7 776.3h0M1335.5 776.3h0M1336.2 776.1h0M1337.0 775.7h0M1337.8 776.3h0M1338.6 776.1h0M1339.3 776.4h0M1340.1 776.0h0M1340.9 776.5h0M1341.7 776.2h0M1342.4 776.2h0M1343.2 776.4h0M1344.0 776.0h0M1344.8 775.8h0M1345.5 776.3h0" stroke="#30a080" stroke-width="2.8" stroke-linecap="round" fill="none"/>
<path d="M110.8 1216.4l104.2 0" fill="none" stroke="#7d7d7d" stroke-width="2.0" stroke-linejoin="round" stroke-linecap="round"/>
<path d="M322.8 1216.4l205 0" fill="none" stroke="#7d7d7d" stroke-width="2.0" stroke-linejoin="round" stroke-linecap="round"/>
<path d="M216.1 1213.7l1.5 0 1.5-0.1 1.5-0.1 1.5 0 1.5-0.1 1.5 0 1.5 0 1.5 0 1.5-0.1 1.5 0 1.4 0 1.5 0 1.5 0 1.5 0 1.5-0.1 1.5 0 1.5 0 1.5 0 1.5 0 1.5 0 1.5 0 1.5 0 1.5 0 1.5 0 1.5-0.1 1.5 0 1.5 0 1.5 0 1.5 0 1.5 0 1.5 0 1.5 0 1.5 0 1.4 0 1.5 0 1.5 0 1.5 0 1.5-0.1 1.5 0 1.5 0 1.5 0 1.5 0 1.5 0 1.5 0 1.5 0 1.5 0 1.5 0 1.5 0 1.5 0 1.5-0.1 1.5 0 1.5 0 1.5 0 1.5 0 1.5 0 1.5 0 1.5 0 1.4 0 1.5 0 1.5 0 1.5 0 1.5-0.1 1.5 0 1.5 0 1.5 0 1.5 0 1.5 0 1.5 0 1.5 0" fill="none" stroke="#7d7d7d" stroke-width="2.2" stroke-linejoin="round" stroke-linecap="round"/>
<path d="M320.2 1215.8l0.6 0.2 0.7 0.1 0.6 0.2 0.7 0.1 0.6 0.1 0.7 0.1 0.6 0 0.7 0.1 0.6 0.1 0.7 0 0.6 0.1 0.7 0 0.6 0 0.7 0.1 0.6 0 0.7 0 0.6 0 0.7 0.1 0.6 0 0.7 0 0.7 0 0.6 0 0.7 0 0.6 0 10.1 0.1 10 0 10.1 0 10 0 10.1 0 10.1 0 10 0 10.1 0 10 0 10.1 0 10.1 0 10 0 10.1 0 10 0 10.1 0 10.1 0 10 0 10.1 0 10 0" fill="none" stroke="#7d7d7d" stroke-width="1.8" stroke-linejoin="round" stroke-linecap="round"/>
<path d="M216.1 1212l1.5-0.1 1.5-0.2 1.5-0.1 1.5 0 1.5-0.1 1.5-0.1 1.5 0 1.5 0 1.5-0.1 1.5 0 1.4 0 1.5-0.1 1.5 0 1.5 0 1.5 0 1.5 0 1.5-0.1 1.5 0 1.5 0 1.5 0 1.5 0 1.5 0 1.5-0.1 1.5 0 1.5 0 1.5 0 1.5 0 1.5 0 1.5 0 1.5-0.1 1.5 0 1.5 0 1.5 0 1.4 0 1.5 0 1.5 0 1.5-0.1 1.5 0 1.5 0 1.5 0 1.5 0 1.5 0 1.5 0 1.5 0 1.5-0.1 1.5 0 1.5 0 1.5 0 1.5 0 1.5 0 1.5 0 1.5-0.1 1.5 0 1.5 0 1.5 0 1.5 0 1.5 0 1.4 0 1.5 0 1.5-0.1 1.5 0 1.5 0 1.5 0 1.5 0 1.5 0 1.5 0 1.5-0.1 1.5 0 1.5 0" fill="none" stroke="#d7a983" stroke-width="2.2" stroke-linejoin="round" stroke-linecap="round"/>
<path d="M320.2 1215.4l0.6 0.3 0.7 0.1 0.6 0.2 0.7 0.1 0.6 0.2 0.7 0.1 0.6 0.1 0.7 0.1 0.6 0 0.7 0.1 0.6 0.1 0.7 0 0.6 0.1 0.7 0 0.6 0 0.7 0.1 0.6 0 0.7 0 0.6 0 0.7 0.1 0.7 0 0.6 0 0.7 0 0.6 0 10.1 0.1 10 0 10.1 0 10 0 10.1 0 10.1 0 10 0 10.1 0 10 0 10.1 0 10.1 0 10 0 10.1 0 10 0 10.1 0 10.1 0 10 0 10.1 0 10 0" fill="none" stroke="#d7a983" stroke-width="1.8" stroke-linejoin="round" stroke-linecap="round"/>
<path d="M216.1 1209.9l1.5-0.1 1.5-0.2 1.5-0.1 1.5-0.1 1.5-0.1 1.5 0 1.5-0.1 1.5 0 1.5-0.1 1.5 0 1.4 0 1.5-0.1 1.5 0 1.5 0 1.5-0.1 1.5 0 1.5 0 1.5 0 1.5 0 1.5-0.1 1.5 0 1.5 0 1.5 0 1.5 0 1.5 0 1.5-0.1 1.5 0 1.5 0 1.5 0 1.5 0 1.5 0 1.5-0.1 1.5 0 1.4 0 1.5 0 1.5 0 1.5 0 1.5-0.1 1.5 0 1.5 0 1.5 0 1.5 0 1.5 0 1.5-0.1 1.5 0 1.5 0 1.5 0 1.5 0 1.5 0 1.5 0 1.5-0.1 1.5 0 1.5 0 1.5 0 1.5 0 1.5 0 1.5-0.1 1.4 0 1.5 0 1.5 0 1.5 0 1.5 0 1.5-0.1 1.5 0 1.5 0 1.5 0 1.5 0 1.5 0 1.5-0.1" fill="none" stroke="#eaa36b" stroke-width="2.2" stroke-linejoin="round" stroke-linecap="round"/>
<path d="M320.2 1215.1l0.6 0.2 0.7 0.3 0.6 0.2 0.7 0.1 0.6 0.2 0.7 0.1 0.6 0.1 0.7 0.1 0.6 0.1 0.7 0.1 0.6 0.1 0.7 0 0.6 0.1 0.7 0 0.6 0.1 0.7 0 0.6 0 0.7 0.1 0.6 0 0.7 0 0.7 0 0.6 0.1 0.7 0 0.6 0 10.1 0.1 10 0 10.1 0 10 0 10.1 0 10.1 0 10 0 10.1 0 10 0 10.1 0 10.1 0 10 0 10.1 0 10 0 10.1 0 10.1 0 10 0 10.1 0 10 0" fill="none" stroke="#eaa36b" stroke-width="1.8" stroke-linejoin="round" stroke-linecap="round"/>
<path d="M216.1 1207.5l1.5-0.2 1.5-0.2 1.5-0.1 1.5-0.2 1.5-0.1 1.5-0.1 1.5 0 1.5-0.1 1.5-0.1 1.5 0 1.4-0.1 1.5 0 1.5 0 1.5-0.1 1.5 0 1.5 0 1.5-0.1 1.5 0 1.5 0 1.5-0.1 1.5 0 1.5 0 1.5 0 1.5-0.1 1.5 0 1.5 0 1.5 0 1.5-0.1 1.5 0 1.5 0 1.5 0 1.5-0.1 1.5 0 1.4 0 1.5 0 1.5-0.1 1.5 0 1.5 0 1.5 0 1.5-0.1 1.5 0 1.5 0 1.5 0 1.5-0.1 1.5 0 1.5 0 1.5 0 1.5-0.1 1.5 0 1.5 0 1.5 0 1.5-0.1 1.5 0 1.5 0 1.5 0 1.5-0.1 1.5 0 1.4 0 1.5 0 1.5-0.1 1.5 0 1.5 0 1.5 0 1.5-0.1 1.5 0 1.5 0 1.5 0 1.5-0.1 1.5 0" fill="none" stroke="#d4392d" stroke-width="2.2" stroke-linejoin="round" stroke-linecap="round"/>
<path d="M320.2 1214.7l0.6 0.3 0.7 0.2 0.6 0.3 0.7 0.2 0.6 0.2 0.7 0.1 0.6 0.2 0.7 0.1 0.6 0.1 0.7 0.1 0.6 0.1 0.7 0 0.6 0.1 0.7 0.1 0.6 0 0.7 0.1 0.6 0 0.7 0 0.6 0.1 0.7 0 0.7 0 0.6 0 0.7 0.1 0.6 0 10.1 0.1 10 0 10.1 0 10 0 10.1 0 10.1 0 10 0 10.1 0 10 0 10.1 0 10.1 0 10 0 10.1 0 10 0 10.1 0 10.1 0 10 0 10.1 0 10 0" fill="none" stroke="#d4392d" stroke-width="1.8" stroke-linejoin="round" stroke-linecap="round"/>
<path d="M216.1 1202.2l1.5-0.2 1.5-0.2 1.5-0.2 1.5-0.1 1.5-0.1 1.5-0.1 1.5-0.1 1.5-0.1 1.5-0.1 1.5 0 1.4-0.1 1.5 0 1.5-0.1 1.5 0 1.5-0.1 1.5 0 1.5 0 1.5-0.1 1.5 0 1.5 0 1.5-0.1 1.5 0 1.5 0 1.5-0.1 1.5 0 1.5 0 1.5-0.1 1.5 0 1.5 0 1.5-0.1 1.5 0 1.5 0 1.5-0.1 1.4 0 1.5 0 1.5 0 1.5-0.1 1.5 0 1.5 0 1.5-0.1 1.5 0 1.5 0 1.5-0.1 1.5 0 1.5 0 1.5 0 1.5-0.1 1.5 0 1.5 0 1.5-0.1 1.5 0 1.5 0 1.5-0.1 1.5 0 1.5 0 1.5-0.1 1.5 0 1.4 0 1.5 0 1.5-0.1 1.5 0 1.5 0 1.5-0.1 1.5 0 1.5 0 1.5-0.1 1.5 0 1.5 0 1.5 0" fill="none" stroke="#e37a2b" stroke-width="2.2" stroke-linejoin="round" stroke-linecap="round"/>
<path d="M320.2 1214l0.6 0.4 0.7 0.3 0.6 0.3 0.7 0.3 0.6 0.2 0.7 0.2 0.6 0.2 0.7 0.1 0.6 0.2 0.7 0.1 0.6 0.1 0.7 0.1 0.6 0.1 0.7 0.1 0.6 0 0.7 0.1 0.6 0 0.7 0.1 0.6 0 0.7 0 0.7 0.1 0.6 0 0.7 0 0.6 0 10.1 0.2 10 0 10.1 0 10 0 10.1 0 10.1 0 10 0 10.1 0 10 0 10.1 0 10.1 0 10 0 10.1 0 10 0 10.1 0 10.1 0 10 0 10.1 0 10 0" fill="none" stroke="#e37a2b" stroke-width="1.8" stroke-linejoin="round" stroke-linecap="round"/>
<path d="M216.1 1194.3l1.5-0.3 1.5-0.2 1.5-0.1 1.5-0.2 1.5-0.1 1.5-0.1 1.5-0.1 1.5-0.1 1.5 0 1.5-0.1 1.4-0.1 1.5 0 1.5-0.1 1.5 0 1.5 0 1.5-0.1 1.5 0 1.5-0.1 1.5 0 1.5 0 1.5-0.1 1.5 0 1.5 0 1.5-0.1 1.5 0 1.5-0.1 1.5 0 1.5 0 1.5-0.1 1.5 0 1.5 0 1.5-0.1 1.5 0 1.4 0 1.5-0.1 1.5 0 1.5 0 1.5-0.1 1.5 0 1.5 0 1.5-0.1 1.5 0 1.5 0 1.5-0.1 1.5 0 1.5 0 1.5-0.1 1.5 0 1.5 0 1.5-0.1 1.5 0 1.5 0 1.5-0.1 1.5 0 1.5 0 1.5-0.1 1.5 0 1.4 0 1.5-0.1 1.5 0 1.5 0 1.5-0.1 1.5 0 1.5 0 1.5-0.1 1.5 0 1.5 0 1.5-0.1 1.5 0" fill="none" stroke="#c8c63c" stroke-width="2.2" stroke-linejoin="round" stroke-linecap="round"/>
<path d="M320.2 1213.2l0.6 0.5 0.7 0.4 0.6 0.4 0.7 0.3 0.6 0.3 0.7 0.2 0.6 0.3 0.7 0.1 0.6 0.2 0.7 0.2 0.6 0.1 0.7 0.1 0.6 0.1 0.7 0.1 0.6 0.1 0.7 0.1 0.6 0 0.7 0.1 0.6 0 0.7 0.1 0.7 0 0.6 0 0.7 0.1 0.6 0 10.1 0.2 10 0 10.1 0 10 0 10.1 0 10.1 0 10 0 10.1 0 10 0 10.1 0 10.1 0 10 0 10.1 0 10 0 10.1 0 10.1 0 10 0 10.1 0 10 0" fill="none" stroke="#c8c63c" stroke-width="1.8" stroke-linejoin="round" stroke-linecap="round"/>
<path d="M216.1 1181.9l1.5-1.3 1.5-1 1.5-0.8 1.5-0.7 1.5-0.6 1.5-0.5 1.5-0.4 1.5-0.3 1.5-0.2 1.5-0.3 1.4-0.2 1.5-0.1 1.5-0.2 1.5-0.1 1.5-0.1 1.5-0.1 1.5-0.1 1.5-0.1 1.5-0.1 1.5-0.1 1.5 0 1.5-0.1 1.5-0.1 1.5 0 1.5-0.1 1.5 0 1.5-0.1 1.5-0.1 1.5 0 1.5-0.1 1.5 0 1.5-0.1 1.5 0 1.4-0.1 1.5 0 1.5-0.1 1.5-0.1 1.5 0 1.5-0.1 1.5 0 1.5-0.1 1.5 0 1.5-0.1 1.5 0 1.5-0.1 1.5 0 1.5-0.1 1.5 0 1.5-0.1 1.5-0.1 1.5 0 1.5-0.1 1.5 0 1.5-0.1 1.5 0 1.5-0.1 1.5 0 1.4-0.1 1.5 0 1.5-0.1 1.5-0.1 1.5 0 1.5-0.1 1.5 0 1.5-0.1 1.5 0 1.5-0.1 1.5 0 1.5-0.1" fill="none" stroke="#2f8e47" stroke-width="2.2" stroke-linejoin="round" stroke-linecap="round"/>
<path d="M320.2 1211.7l0.6 0.7 0.7 0.5 0.6 0.5 0.7 0.5 0.6 0.4 0.7 0.3 0.6 0.3 0.7 0.3 0.6 0.2 0.7 0.2 0.6 0.2 0.7 0.2 0.6 0.1 0.7 0.1 0.6 0.2 0.7 0.1 0.6 0 0.7 0.1 0.6 0.1 0.7 0.1 0.7 0 0.6 0 0.7 0.1 0.6 0 10.1 0.3 10 0 10.1 0 10 0 10.1 0 10.1 0 10 0 10.1 0 10 0 10.1 0 10.1 0 10 0 10.1 0 10 0 10.1 0 10.1 0 10 0 10.1 0 10 0" fill="none" stroke="#2f8e47" stroke-width="1.8" stroke-linejoin="round" stroke-linecap="round"/>
<path d="M216.1 1151.4l1.5-0.2 1.5-0.2 1.5-0.1 1.5-0.1 1.5-0.1 1.5-0.1 1.5-0.1 1.5-0.1 1.5-0.1 1.5 0 1.4-0.1 1.5-0.1 1.5 0 1.5-0.1 1.5 0 1.5-0.1 1.5 0 1.5-0.1 1.5 0 1.5 0 1.5-0.1 1.5 0 1.5-0.1 1.5 0 1.5-0.1 1.5 0 1.5 0 1.5-0.1 1.5 0 1.5-0.1 1.5 0 1.5-0.1 1.5 0 1.4 0 1.5-0.1 1.5 0 1.5-0.1 1.5 0 1.5-0.1 1.5 0 1.5 0 1.5-0.1 1.5 0 1.5-0.1 1.5 0 1.5-0.1 1.5 0 1.5 0 1.5-0.1 1.5 0 1.5-0.1 1.5 0 1.5-0.1 1.5 0 1.5 0 1.5-0.1 1.5 0 1.4-0.1 1.5 0 1.5-0.1 1.5 0 1.5 0 1.5-0.1 1.5 0 1.5-0.1 1.5 0 1.5-0.1 1.5 0 1.5 0" fill="none" stroke="#2b9ac3" stroke-width="2.2" stroke-linejoin="round" stroke-linecap="round"/>
<path d="M320.2 1210.1l0.6 0.8 0.7 0.8 0.6 0.6 0.7 0.6 0.6 0.5 0.7 0.5 0.6 0.3 0.7 0.4 0.6 0.3 0.7 0.3 0.6 0.2 0.7 0.2 0.6 0.2 0.7 0.2 0.6 0.1 0.7 0.1 0.6 0.2 0.7 0.1 0.6 0 0.7 0.1 0.7 0.1 0.6 0 0.7 0.1 0.6 0 10.1 0.3 10 0.1 10.1 0 10 0 10.1 0 10.1 0 10 0 10.1 0 10 0 10.1 0 10.1 0 10 0 10.1 0 10 0 10.1 0 10.1 0 10 0 10.1 0 10 0" fill="none" stroke="#2b9ac3" stroke-width="1.8" stroke-linejoin="round" stroke-linecap="round"/>
<path d="M216.1 1112.4l1.5-1.3 1.5-1 1.5-0.8 1.5-0.7 1.5-0.6 1.5-0.4 1.5-0.4 1.5-0.4 1.5-0.2 1.5-0.3 1.4-0.2 1.5-0.2 1.5-0.2 1.5-0.1 1.5-0.1 1.5-0.2 1.5-0.1 1.5-0.1 1.5-0.1 1.5-0.1 1.5-0.1 1.5-0.1 1.5-0.1 1.5 0 1.5-0.1 1.5-0.1 1.5-0.1 1.5-0.1 1.5-0.1 1.5 0 1.5-0.1 1.5-0.1 1.5-0.1 1.4-0.1 1.5 0 1.5-0.1 1.5-0.1 1.5-0.1 1.5 0 1.5-0.1 1.5-0.1 1.5-0.1 1.5-0.1 1.5 0 1.5-0.1 1.5-0.1 1.5-0.1 1.5 0 1.5-0.1 1.5-0.1 1.5-0.1 1.5-0.1 1.5 0 1.5-0.1 1.5-0.1 1.5-0.1 1.5 0 1.4-0.1 1.5-0.1 1.5-0.1 1.5-0.1 1.5 0 1.5-0.1 1.5-0.1 1.5-0.1 1.5 0 1.5-0.1 1.5-0.1 1.5-0.1" fill="none" stroke="#2d409c" stroke-width="2.2" stroke-linejoin="round" stroke-linecap="round"/>
<path d="M320.2 1207.6l0.6 1.1 0.7 1 0.6 0.9 0.7 0.8 0.6 0.6 0.7 0.6 0.6 0.6 0.7 0.5 0.6 0.4 0.7 0.3 0.6 0.4 0.7 0.2 0.6 0.3 0.7 0.2 0.6 0.2 0.7 0.2 0.6 0.1 0.7 0.2 0.6 0.1 0.7 0.1 0.7 0.1 0.6 0.1 0.7 0.1 0.6 0 10.1 0.4 10 0.1 10.1 0 10 0 10.1 0 10.1 0 10 0 10.1 0 10 0 10.1 0 10.1 0 10 0 10.1 0 10 0 10.1 0 10.1 0 10 0 10.1 0 10 0" fill="none" stroke="#2d409c" stroke-width="1.8" stroke-linejoin="round" stroke-linecap="round"/>
<path d="M216.1 1061.8l1.5-1.6 1.5-1.4 1.5-1.1 1.5-0.9 1.5-0.7 1.5-0.7 1.5-0.5 1.5-0.4 1.5-0.4 1.5-0.3 1.4-0.3 1.5-0.2 1.5-0.2 1.5-0.2 1.5-0.2 1.5-0.1 1.5-0.2 1.5-0.1 1.5-0.1 1.5-0.1 1.5-0.1 1.5-0.2 1.5-0.1 1.5-0.1 1.5-0.1 1.5 0 1.5-0.1 1.5-0.1 1.5-0.1 1.5-0.1 1.5-0.1 1.5-0.1 1.5-0.1 1.4-0.1 1.5-0.1 1.5-0.1 1.5-0.1 1.5 0 1.5-0.1 1.5-0.1 1.5-0.1 1.5-0.1 1.5-0.1 1.5-0.1 1.5-0.1 1.5-0.1 1.5 0 1.5-0.1 1.5-0.1 1.5-0.1 1.5-0.1 1.5-0.1 1.5-0.1 1.5-0.1 1.5-0.1 1.5 0 1.5-0.1 1.4-0.1 1.5-0.1 1.5-0.1 1.5-0.1 1.5-0.1 1.5-0.1 1.5-0.1 1.5 0 1.5-0.1 1.5-0.1 1.5-0.1 1.5-0.1" fill="none" stroke="#8d2590" stroke-width="2.2" stroke-linejoin="round" stroke-linecap="round"/>
<path d="M320.2 1205.1l0.6 1.4 0.7 1.3 0.6 1.1 0.7 1 0.6 0.8 0.7 0.8 0.6 0.7 0.7 0.6 0.6 0.5 0.7 0.4 0.6 0.4 0.7 0.4 0.6 0.3 0.7 0.3 0.6 0.2 0.7 0.3 0.6 0.2 0.7 0.1 0.6 0.2 0.7 0.1 0.7 0.1 0.6 0.1 0.7 0.1 0.6 0.1 10.1 0.5 10 0.1 10.1 0 10 0 10.1 0 10.1 0 10 0 10.1 0 10 0 10.1 0 10.1 0 10 0 10.1 0 10 0 10.1 0 10.1 0 10 0 10.1 0 10 0" fill="none" stroke="#8d2590" stroke-width="1.8" stroke-linejoin="round" stroke-linecap="round"/>
<path d="M216.1 999.7l1.5-2 1.5-1.6 1.5-1.4 1.5-1 1.5-0.9 1.5-0.7 1.5-0.6 1.5-0.5 1.5-0.4 1.5-0.4 1.4-0.3 1.5-0.2 1.5-0.3 1.5-0.1 1.5-0.2 1.5-0.2 1.5-0.1 1.5-0.1 1.5-0.1 1.5-0.1 1.5-0.1 1.5-0.1 1.5-0.1 1.5-0.1 1.5-0.1 1.5-0.1 1.5-0.1 1.5 0 1.5-0.1 1.5-0.1 1.5-0.1 1.5-0.1 1.5 0 1.4-0.1 1.5-0.1 1.5-0.1 1.5 0 1.5-0.1 1.5-0.1 1.5-0.1 1.5 0 1.5-0.1 1.5-0.1 1.5-0.1 1.5 0 1.5-0.1 1.5-0.1 1.5-0.1 1.5 0 1.5-0.1 1.5-0.1 1.5-0.1 1.5 0 1.5-0.1 1.5-0.1 1.5-0.1 1.5 0 1.4-0.1 1.5-0.1 1.5-0.1 1.5 0 1.5-0.1 1.5-0.1 1.5 0 1.5-0.1 1.5-0.1 1.5-0.1 1.5 0 1.5-0.1" fill="none" stroke="#c9266f" stroke-width="2.2" stroke-linejoin="round" stroke-linecap="round"/>
<path d="M320.2 1202.6l0.6 1.7 0.7 1.5 0.6 1.4 0.7 1.1 0.6 1.1 0.7 0.9 0.6 0.8 0.7 0.7 0.6 0.7 0.7 0.5 0.6 0.5 0.7 0.4 0.6 0.4 0.7 0.4 0.6 0.3 0.7 0.2 0.6 0.3 0.7 0.2 0.6 0.1 0.7 0.2 0.7 0.1 0.6 0.2 0.7 0.1 0.6 0.1 10.1 0.6 10 0.1 10.1 0 10 0 10.1 0 10.1 0 10 0 10.1 0 10 0 10.1 0 10.1 0 10 0 10.1 0 10 0 10.1 0 10.1 0 10 0 10.1 0 10 0" fill="none" stroke="#c9266f" stroke-width="1.8" stroke-linejoin="round" stroke-linecap="round"/>
<path d="M602.8 1216.4l104.5 0" fill="none" stroke="#7d7d7d" stroke-width="2.0" stroke-linejoin="round" stroke-linecap="round"/>
<path d="M815.2 1216.4l205.5 0" fill="none" stroke="#7d7d7d" stroke-width="2.0" stroke-linejoin="round" stroke-linecap="round"/>
<path d="M708.3 1214.6l1.5-0.1 1.5 0 1.5 0 1.5-0.1 1.5 0 1.5 0 1.5 0 1.5-0.1 1.5 0 1.5 0 1.5 0 1.5 0 1.5 0 1.5 0 1.5 0 1.5 0 1.5 0 1.5 0 1.5 0 1.5 0 1.5 0 1.5 0 1.5 0 1.5 0 1.5 0 1.5 0 1.5 0 1.5-0.1 1.5 0 1.5 0 1.5 0 1.5 0 1.5 0 1.5 0 1.5 0 1.5 0 1.5 0 1.5 0 1.5 0 1.5 0 1.5 0 1.5 0 1.5 0 1.5 0 1.5 0 1.5 0 1.5 0 1.5 0 1.5 0 1.5 0 1.5 0 1.5 0 1.5 0 1.5 0 1.5 0 1.5 0 1.5 0 1.5 0 1.5 0 1.5 0 1.5 0 1.5 0 1.5 0 1.5 0 1.5 0 1.5 0 1.5 0 1.5-0.1 1.5 0" fill="none" stroke="#7d7d7d" stroke-width="2.2" stroke-linejoin="round" stroke-linecap="round"/>
<path d="M812.6 1216.2l0.8 0.1 0.7 0.1 0.8 0.1 0.8 0.1 0.7 0.1 0.8 0 0.8 0.1 0.7 0 0.8 0.1 0.7 0 0.8 0.1 0.8 0 0.7 0 0.8 0 0.7 0.1 0.8 0 0.8 0 0.7 0 0.8 0 0.8 0 0.7 0 0.8 0 0.7 0 0.8 0.1 9.9 0 10 0 9.9 0 10 0 9.9 0 10 0 9.9 0 10 0 9.9 0 9.9 0 10 0 9.9 0 10 0 9.9 0 10 0 9.9 0 9.9 0 10 0 9.9 0" fill="none" stroke="#7d7d7d" stroke-width="1.8" stroke-linejoin="round" stroke-linecap="round"/>
<path d="M708.3 1212.4l1.5-0.1 1.5 0 1.5 0 1.5-0.1 1.5 0 1.5 0 1.5 0 1.5-0.1 1.5 0 1.5 0 1.5 0 1.5 0 1.5 0 1.5 0 1.5 0 1.5 0 1.5 0 1.5 0 1.5-0.1 1.5 0 1.5 0 1.5 0 1.5 0 1.5 0 1.5 0 1.5 0 1.5 0 1.5 0 1.5 0 1.5 0 1.5 0 1.5 0 1.5 0 1.5 0 1.5 0 1.5 0 1.5-0.1 1.5 0 1.5 0 1.5 0 1.5 0 1.5 0 1.5 0 1.5 0 1.5 0 1.5 0 1.5 0 1.5 0 1.5 0 1.5 0 1.5 0 1.5 0 1.5 0 1.5 0 1.5-0.1 1.5 0 1.5 0 1.5 0 1.5 0 1.5 0 1.5 0 1.5 0 1.5 0 1.5 0 1.5 0 1.5 0 1.5 0 1.5 0 1.5 0" fill="none" stroke="#eaa36b" stroke-width="2.2" stroke-linejoin="round" stroke-linecap="round"/>
<path d="M812.6 1215.8l0.8 0.2 0.7 0.1 0.8 0.2 0.8 0.1 0.7 0.1 0.8 0.1 0.8 0 0.7 0.1 0.8 0.1 0.7 0 0.8 0.1 0.8 0 0.7 0 0.8 0.1 0.7 0 0.8 0 0.8 0 0.7 0.1 0.8 0 0.8 0 0.7 0 0.8 0 0.7 0 0.8 0 9.9 0.1 10 0 9.9 0 10 0 9.9 0 10 0 9.9 0 10 0 9.9 0 9.9 0 10 0 9.9 0 10 0 9.9 0 10 0 9.9 0 9.9 0 10 0 9.9 0" fill="none" stroke="#eaa36b" stroke-width="1.8" stroke-linejoin="round" stroke-linecap="round"/>
<path d="M708.3 1209.3l1.5-0.1 1.5-0.1 1.5-0.1 1.5 0 1.5-0.1 1.5 0 1.5-0.1 1.5 0 1.5 0 1.5-0.1 1.5 0 1.5 0 1.5 0 1.5 0 1.5 0 1.5-0.1 1.5 0 1.5 0 1.5 0 1.5 0 1.5 0 1.5 0 1.5 0 1.5 0 1.5 0 1.5 0 1.5-0.1 1.5 0 1.5 0 1.5 0 1.5 0 1.5 0 1.5 0 1.5 0 1.5 0 1.5 0 1.5 0 1.5 0 1.5-0.1 1.5 0 1.5 0 1.5 0 1.5 0 1.5 0 1.5 0 1.5 0 1.5 0 1.5 0 1.5 0 1.5 0 1.5 0 1.5-0.1 1.5 0 1.5 0 1.5 0 1.5 0 1.5 0 1.5 0 1.5 0 1.5 0 1.5 0 1.5 0 1.5 0 1.5 0 1.5-0.1 1.5 0 1.5 0 1.5 0 1.5 0" fill="none" stroke="#d4392d" stroke-width="2.2" stroke-linejoin="round" stroke-linecap="round"/>
<path d="M812.6 1215.4l0.8 0.2 0.7 0.2 0.8 0.1 0.8 0.2 0.7 0.1 0.8 0.1 0.8 0.1 0.7 0.1 0.8 0.1 0.7 0.1 0.8 0 0.8 0.1 0.7 0 0.8 0.1 0.7 0 0.8 0.1 0.8 0 0.7 0 0.8 0 0.8 0 0.7 0.1 0.8 0 0.7 0 0.8 0 9.9 0.1 10 0 9.9 0 10 0 9.9 0 10 0 9.9 0 10 0 9.9 0 9.9 0 10 0 9.9 0 10 0 9.9 0 10 0 9.9 0 9.9 0 10 0 9.9 0" fill="none" stroke="#d4392d" stroke-width="1.8" stroke-linejoin="round" stroke-linecap="round"/>
<path d="M708.3 1203.5l1.5-0.2 1.5-0.1 1.5-0.1 1.5-0.1 1.5-0.1 1.5-0.1 1.5 0 1.5-0.1 1.5 0 1.5-0.1 1.5 0 1.5 0 1.5 0 1.5-0.1 1.5 0 1.5 0 1.5 0 1.5 0 1.5 0 1.5 0 1.5-0.1 1.5 0 1.5 0 1.5 0 1.5 0 1.5 0 1.5 0 1.5 0 1.5-0.1 1.5 0 1.5 0 1.5 0 1.5 0 1.5 0 1.5 0 1.5 0 1.5 0 1.5 0 1.5-0.1 1.5 0 1.5 0 1.5 0 1.5 0 1.5 0 1.5 0 1.5 0 1.5 0 1.5 0 1.5-0.1 1.5 0 1.5 0 1.5 0 1.5 0 1.5 0 1.5 0 1.5 0 1.5 0 1.5-0.1 1.5 0 1.5 0 1.5 0 1.5 0 1.5 0 1.5 0 1.5 0 1.5 0 1.5 0 1.5-0.1 1.5 0" fill="none" stroke="#e37a2b" stroke-width="2.2" stroke-linejoin="round" stroke-linecap="round"/>
<path d="M812.6 1214.7l0.8 0.3 0.7 0.2 0.8 0.3 0.8 0.2 0.7 0.1 0.8 0.2 0.8 0.1 0.7 0.2 0.8 0.1 0.7 0.1 0.8 0.1 0.8 0 0.7 0.1 0.8 0.1 0.7 0 0.8 0.1 0.8 0 0.7 0 0.8 0.1 0.8 0 0.7 0 0.8 0 0.7 0.1 0.8 0 9.9 0.1 10 0 9.9 0 10 0 9.9 0 10 0 9.9 0 10 0 9.9 0 9.9 0 10 0 9.9 0 10 0 9.9 0 10 0 9.9 0 9.9 0 10 0 9.9 0" fill="none" stroke="#e37a2b" stroke-width="1.8" stroke-linejoin="round" stroke-linecap="round"/>
<path d="M708.3 1190.7l1.5-0.3 1.5-0.2 1.5-0.2 1.5-0.1 1.5-0.1 1.5-0.1 1.5-0.1 1.5-0.1 1.5 0 1.5-0.1 1.5 0 1.5-0.1 1.5 0 1.5 0 1.5 0 1.5-0.1 1.5 0 1.5 0 1.5 0 1.5-0.1 1.5 0 1.5 0 1.5 0 1.5 0 1.5 0 1.5-0.1 1.5 0 1.5 0 1.5 0 1.5 0 1.5 0 1.5-0.1 1.5 0 1.5 0 1.5 0 1.5 0 1.5 0 1.5-0.1 1.5 0 1.5 0 1.5 0 1.5 0 1.5 0 1.5 0 1.5-0.1 1.5 0 1.5 0 1.5 0 1.5 0 1.5 0 1.5-0.1 1.5 0 1.5 0 1.5 0 1.5 0 1.5 0 1.5 0 1.5-0.1 1.5 0 1.5 0 1.5 0 1.5 0 1.5 0 1.5-0.1 1.5 0 1.5 0 1.5 0 1.5 0 1.5 0" fill="none" stroke="#c8c63c" stroke-width="2.2" stroke-linejoin="round" stroke-linecap="round"/>
<path d="M812.6 1213.5l0.8 0.4 0.7 0.4 0.8 0.3 0.8 0.3 0.7 0.3 0.8 0.2 0.8 0.3 0.7 0.1 0.8 0.2 0.7 0.1 0.8 0.2 0.8 0.1 0.7 0.1 0.8 0.1 0.7 0 0.8 0.1 0.8 0.1 0.7 0 0.8 0.1 0.8 0 0.7 0 0.8 0.1 0.7 0 0.8 0 9.9 0.2 10 0 9.9 0 10 0 9.9 0 10 0 9.9 0 10 0 9.9 0 9.9 0 10 0 9.9 0 10 0 9.9 0 10 0 9.9 0 9.9 0 10 0 9.9 0" fill="none" stroke="#c8c63c" stroke-width="1.8" stroke-linejoin="round" stroke-linecap="round"/>
<path d="M708.3 1168.7l1.5-0.7 1.5-0.5 1.5-0.5 1.5-0.3 1.5-0.3 1.5-0.3 1.5-0.2 1.5-0.2 1.5-0.2 1.5-0.1 1.5-0.1 1.5-0.1 1.5-0.1 1.5-0.1 1.5-0.1 1.5 0 1.5-0.1 1.5-0.1 1.5 0 1.5-0.1 1.5 0 1.5-0.1 1.5 0 1.5-0.1 1.5-0.1 1.5 0 1.5-0.1 1.5 0 1.5 0 1.5-0.1 1.5 0 1.5-0.1 1.5 0 1.5-0.1 1.5 0 1.5-0.1 1.5 0 1.5-0.1 1.5 0 1.5-0.1 1.5 0 1.5-0.1 1.5 0 1.5-0.1 1.5 0 1.5-0.1 1.5 0 1.5-0.1 1.5 0 1.5 0 1.5-0.1 1.5 0 1.5-0.1 1.5 0 1.5-0.1 1.5 0 1.5-0.1 1.5 0 1.5-0.1 1.5 0 1.5-0.1 1.5 0 1.5-0.1 1.5 0 1.5-0.1 1.5 0 1.5-0.1 1.5 0 1.5-0.1" fill="none" stroke="#2f8e47" stroke-width="2.2" stroke-linejoin="round" stroke-linecap="round"/>
<path d="M812.6 1211.7l0.8 0.7 0.7 0.5 0.8 0.5 0.8 0.5 0.7 0.4 0.8 0.3 0.8 0.3 0.7 0.3 0.8 0.2 0.7 0.2 0.8 0.2 0.8 0.2 0.7 0.1 0.8 0.1 0.7 0.2 0.8 0.1 0.8 0 0.7 0.1 0.8 0.1 0.8 0.1 0.7 0 0.8 0.1 0.7 0 0.8 0 9.9 0.2 10 0.1 9.9 0 10 0 9.9 0 10 0 9.9 0 10 0 9.9 0 9.9 0 10 0 9.9 0 10 0 9.9 0 10 0 9.9 0 9.9 0 10 0 9.9 0" fill="none" stroke="#2f8e47" stroke-width="1.8" stroke-linejoin="round" stroke-linecap="round"/>
<path d="M708.3 1130.7l1.5-1.2 1.5-0.9 1.5-0.8 1.5-0.7 1.5-0.5 1.5-0.5 1.5-0.3 1.5-0.4 1.5-0.2 1.5-0.3 1.5-0.1 1.5-0.2 1.5-0.2 1.5-0.1 1.5-0.1 1.5-0.1 1.5-0.1 1.5-0.1 1.5-0.1 1.5-0.1 1.5-0.1 1.5 0 1.5-0.1 1.5-0.1 1.5-0.1 1.5 0 1.5-0.1 1.5-0.1 1.5 0 1.5-0.1 1.5-0.1 1.5 0 1.5-0.1 1.5 0 1.5-0.1 1.5-0.1 1.5 0 1.5-0.1 1.5-0.1 1.5 0 1.5-0.1 1.5-0.1 1.5 0 1.5-0.1 1.5 0 1.5-0.1 1.5-0.1 1.5 0 1.5-0.1 1.5-0.1 1.5 0 1.5-0.1 1.5-0.1 1.5 0 1.5-0.1 1.5 0 1.5-0.1 1.5-0.1 1.5 0 1.5-0.1 1.5-0.1 1.5 0 1.5-0.1 1.5-0.1 1.5 0 1.5-0.1 1.5 0 1.5-0.1 1.5-0.1" fill="none" stroke="#2b9ac3" stroke-width="2.2" stroke-linejoin="round" stroke-linecap="round"/>
<path d="M812.6 1209.5l0.8 0.9 0.7 0.8 0.8 0.7 0.8 0.6 0.7 0.6 0.8 0.5 0.8 0.4 0.7 0.4 0.8 0.3 0.7 0.3 0.8 0.3 0.8 0.2 0.7 0.2 0.8 0.2 0.7 0.1 0.8 0.2 0.8 0.1 0.7 0.1 0.8 0.1 0.8 0.1 0.7 0 0.8 0.1 0.7 0.1 0.8 0 9.9 0.3 10 0.1 9.9 0 10 0 9.9 0 10 0 9.9 0 10 0 9.9 0 9.9 0 10 0 9.9 0 10 0 9.9 0 10 0 9.9 0 9.9 0 10 0 9.9 0" fill="none" stroke="#2b9ac3" stroke-width="1.8" stroke-linejoin="round" stroke-linecap="round"/>
<path d="M708.3 1073.6l1.5-2.1 1.5-1.7 1.5-1.5 1.5-1.2 1.5-0.9 1.5-0.8 1.5-0.7 1.5-0.6 1.5-0.5 1.5-0.4 1.5-0.4 1.5-0.3 1.5-0.3 1.5-0.2 1.5-0.2 1.5-0.2 1.5-0.2 1.5-0.2 1.5-0.2 1.5-0.2 1.5-0.1 1.5-0.2 1.5-0.1 1.5-0.2 1.5-0.1 1.5-0.1 1.5-0.2 1.5-0.1 1.5-0.1 1.5-0.2 1.5-0.1 1.5-0.1 1.5-0.2 1.5-0.1 1.5-0.1 1.5-0.2 1.5-0.1 1.5-0.1 1.5-0.1 1.5-0.2 1.5-0.1 1.5-0.1 1.5-0.2 1.5-0.1 1.5-0.1 1.5-0.1 1.5-0.2 1.5-0.1 1.5-0.1 1.5-0.2 1.5-0.1 1.5-0.1 1.5-0.2 1.5-0.1 1.5-0.1 1.5-0.1 1.5-0.2 1.5-0.1 1.5-0.1 1.5-0.2 1.5-0.1 1.5-0.1 1.5-0.1 1.5-0.2 1.5-0.1 1.5-0.1 1.5-0.2 1.5-0.1 1.5-0.1" fill="none" stroke="#2d409c" stroke-width="2.2" stroke-linejoin="round" stroke-linecap="round"/>
<path d="M812.6 1206.7l0.8 1.2 0.7 1.1 0.8 1 0.8 0.8 0.7 0.8 0.8 0.6 0.8 0.6 0.7 0.5 0.8 0.5 0.7 0.4 0.8 0.3 0.8 0.4 0.7 0.2 0.8 0.3 0.7 0.2 0.8 0.2 0.8 0.1 0.7 0.2 0.8 0.1 0.8 0.1 0.7 0.1 0.8 0.1 0.7 0.1 0.8 0.1 9.9 0.4 10 0.1 9.9 0 10 0 9.9 0 10 0 9.9 0 10 0 9.9 0 9.9 0 10 0 9.9 0 10 0 9.9 0 10 0 9.9 0 9.9 0 10 0 9.9 0" fill="none" stroke="#2d409c" stroke-width="1.8" stroke-linejoin="round" stroke-linecap="round"/>
<path d="M708.3 1014.9l1.5-6.9 1.5-5.6 1.5-4.6 1.5-3.7 1.5-3 1.5-2.5 1.5-2 1.5-1.7 1.5-1.4 1.5-1.1 1.5-1 1.5-0.8 1.5-0.7 1.5-0.6 1.5-0.5 1.5-0.5 1.5-0.4 1.5-0.4 1.5-0.3 1.5-0.3 1.5-0.3 1.5-0.2 1.5-0.3 1.5-0.2 1.5-0.2 1.5-0.3 1.5-0.2 1.5-0.2 1.5-0.2 1.5-0.2 1.5-0.2 1.5-0.2 1.5-0.2 1.5-0.2 1.5-0.2 1.5-0.2 1.5-0.2 1.5-0.1 1.5-0.2 1.5-0.2 1.5-0.2 1.5-0.2 1.5-0.2 1.5-0.2 1.5-0.2 1.5-0.2 1.5-0.1 1.5-0.2 1.5-0.2 1.5-0.2 1.5-0.2 1.5-0.2 1.5-0.2 1.5-0.2 1.5-0.2 1.5-0.1 1.5-0.2 1.5-0.2 1.5-0.2 1.5-0.2 1.5-0.2 1.5-0.2 1.5-0.2 1.5-0.1 1.5-0.2 1.5-0.2 1.5-0.2 1.5-0.2 1.5-0.2" fill="none" stroke="#8d2590" stroke-width="2.2" stroke-linejoin="round" stroke-linecap="round"/>
<path d="M812.6 1203.6l0.8 1.6 0.7 1.4 0.8 1.3 0.8 1.1 0.7 0.9 0.8 0.9 0.8 0.7 0.7 0.7 0.8 0.6 0.7 0.5 0.8 0.5 0.8 0.4 0.7 0.3 0.8 0.3 0.7 0.3 0.8 0.3 0.8 0.2 0.7 0.2 0.8 0.1 0.8 0.2 0.7 0.1 0.8 0.1 0.7 0.1 0.8 0.1 9.9 0.6 10 0.1 9.9 0 10 0 9.9 0 10 0 9.9 0 10 0 9.9 0 9.9 0 10 0 9.9 0 10 0 9.9 0 10 0 9.9 0 9.9 0 10 0 9.9 0" fill="none" stroke="#8d2590" stroke-width="1.8" stroke-linejoin="round" stroke-linecap="round"/>
<path d="M1111.8 1216.4l104.2 0" fill="none" stroke="#7d7d7d" stroke-width="2.0" stroke-linejoin="round" stroke-linecap="round"/>
<path d="M1323.6 1216.4l204.9 0" fill="none" stroke="#7d7d7d" stroke-width="2.0" stroke-linejoin="round" stroke-linecap="round"/>
<path d="M1217 1215.6l1.5-0.1 1.5 0 1.5-0.1 1.5-0.1 1.5 0 1.5 0 1.5-0.1 1.5 0 1.5 0 1.5 0 1.5 0 1.5-0.1 1.4 0 1.5 0 1.5 0 1.5 0 1.5 0 1.5 0 1.5 0 1.5 0 1.5 0 1.5-0.1 1.5 0 1.5 0 1.5 0 1.5 0 1.5 0 1.5 0 1.5 0 1.5 0 1.5 0 1.4 0 1.5-0.1 1.5 0 1.5 0 1.5 0 1.5 0 1.5 0 1.5 0 1.5 0 1.5 0 1.5 0 1.5 0 1.5 0 1.5 0 1.5-0.1 1.5 0 1.5 0 1.5 0 1.5 0 1.4 0 1.5 0 1.5 0 1.5 0 1.5 0 1.5 0 1.5 0 1.5-0.1 1.5 0 1.5 0 1.5 0 1.5 0 1.5 0 1.5 0 1.5 0 1.5 0 1.5 0 1.5 0 1.5 0" fill="none" stroke="#7d7d7d" stroke-width="2.2" stroke-linejoin="round" stroke-linecap="round"/>
<path d="M1321 1214.9l2.4 0.3 2.4 0.2 2.4 0.2 2.4 0.2 2.4 0.2 2.3 0.1 2.4 0.1 2.4 0.2 2.4 0.1 2.4 0 2.4 0.1 2.4 0.1 2.4 0 2.3 0.1 2.4 0 2.4 0.1 2.4 0 2.4 0.1 2.4 0 2.4 0 2.4 0 2.3 0.1 2.4 0 2.4 0 7.9 0 7.8 0 7.9 0.1 7.8 0 7.9 0 7.9 0 7.8 0 7.9 0 7.8 0 7.9 0 7.9 0 7.8 0 7.9 0 7.8 0 7.9 0 7.9 0 7.8 0 7.9 0 7.8 0" fill="none" stroke="#7d7d7d" stroke-width="1.8" stroke-linejoin="round" stroke-linecap="round"/>
<path d="M1217 1213.8l1.5-0.2 1.5-0.2 1.5-0.1 1.5-0.1 1.5-0.1 1.5 0 1.5-0.1 1.5 0 1.5-0.1 1.5 0 1.5 0 1.5-0.1 1.4 0 1.5 0 1.5 0 1.5 0 1.5-0.1 1.5 0 1.5 0 1.5 0 1.5 0 1.5 0 1.5 0 1.5-0.1 1.5 0 1.5 0 1.5 0 1.5 0 1.5 0 1.5 0 1.5 0 1.4-0.1 1.5 0 1.5 0 1.5 0 1.5 0 1.5 0 1.5 0 1.5 0 1.5 0 1.5-0.1 1.5 0 1.5 0 1.5 0 1.5 0 1.5 0 1.5 0 1.5 0 1.5-0.1 1.5 0 1.4 0 1.5 0 1.5 0 1.5 0 1.5 0 1.5 0 1.5 0 1.5-0.1 1.5 0 1.5 0 1.5 0 1.5 0 1.5 0 1.5 0 1.5 0 1.5-0.1 1.5 0 1.5 0 1.5 0" fill="none" stroke="#eaa36b" stroke-width="2.2" stroke-linejoin="round" stroke-linecap="round"/>
<path d="M1321 1213.7l2.4 0.4 2.4 0.4 2.4 0.3 2.4 0.3 2.4 0.2 2.3 0.3 2.4 0.2 2.4 0.1 2.4 0.2 2.4 0.1 2.4 0.1 2.4 0.1 2.4 0.1 2.3 0.1 2.4 0.1 2.4 0 2.4 0.1 2.4 0 2.4 0.1 2.4 0 2.4 0 2.3 0.1 2.4 0 2.4 0 7.9 0.1 7.8 0 7.9 0 7.8 0.1 7.9 0 7.9 0 7.8 0 7.9 0 7.8 0 7.9 0 7.9 0 7.8 0 7.9 0 7.8 0 7.9 0 7.9 0 7.8 0 7.9 0 7.8 0" fill="none" stroke="#eaa36b" stroke-width="1.8" stroke-linejoin="round" stroke-linecap="round"/>
<path d="M1217 1210.8l1.5-0.3 1.5-0.3 1.5-0.3 1.5-0.2 1.5-0.1 1.5-0.1 1.5-0.2 1.5 0 1.5-0.1 1.5-0.1 1.5 0 1.5-0.1 1.4 0 1.5-0.1 1.5 0 1.5 0 1.5-0.1 1.5 0 1.5 0 1.5-0.1 1.5 0 1.5 0 1.5 0 1.5 0 1.5-0.1 1.5 0 1.5 0 1.5 0 1.5 0 1.5-0.1 1.5 0 1.4 0 1.5 0 1.5 0 1.5-0.1 1.5 0 1.5 0 1.5 0 1.5 0 1.5-0.1 1.5 0 1.5 0 1.5 0 1.5 0 1.5-0.1 1.5 0 1.5 0 1.5 0 1.5 0 1.5 0 1.4-0.1 1.5 0 1.5 0 1.5 0 1.5 0 1.5-0.1 1.5 0 1.5 0 1.5 0 1.5 0 1.5-0.1 1.5 0 1.5 0 1.5 0 1.5 0 1.5-0.1 1.5 0 1.5 0 1.5 0" fill="none" stroke="#d4392d" stroke-width="2.2" stroke-linejoin="round" stroke-linecap="round"/>
<path d="M1321 1212.2l2.4 0.6 2.4 0.5 2.4 0.4 2.4 0.5 2.4 0.3 2.3 0.3 2.4 0.3 2.4 0.3 2.4 0.2 2.4 0.2 2.4 0.1 2.4 0.2 2.4 0.1 2.3 0.1 2.4 0.1 2.4 0.1 2.4 0.1 2.4 0.1 2.4 0 2.4 0.1 2.4 0 2.3 0.1 2.4 0 2.4 0.1 7.9 0 7.8 0.1 7.9 0 7.8 0.1 7.9 0 7.9 0 7.8 0 7.9 0 7.8 0 7.9 0 7.9 0 7.8 0 7.9 0 7.8 0 7.9 0 7.9 0 7.8 0 7.9 0 7.8 0" fill="none" stroke="#d4392d" stroke-width="1.8" stroke-linejoin="round" stroke-linecap="round"/>
<path d="M1217 1205l1.5-0.6 1.5-0.5 1.5-0.4 1.5-0.4 1.5-0.2 1.5-0.3 1.5-0.2 1.5-0.1 1.5-0.2 1.5-0.1 1.5-0.1 1.5-0.1 1.4 0 1.5-0.1 1.5-0.1 1.5 0 1.5-0.1 1.5 0 1.5-0.1 1.5 0 1.5-0.1 1.5 0 1.5 0 1.5-0.1 1.5 0 1.5-0.1 1.5 0 1.5 0 1.5-0.1 1.5 0 1.5 0 1.4-0.1 1.5 0 1.5 0 1.5-0.1 1.5 0 1.5 0 1.5-0.1 1.5 0 1.5-0.1 1.5 0 1.5 0 1.5-0.1 1.5 0 1.5 0 1.5-0.1 1.5 0 1.5 0 1.5-0.1 1.5 0 1.4 0 1.5-0.1 1.5 0 1.5 0 1.5-0.1 1.5 0 1.5 0 1.5-0.1 1.5 0 1.5 0 1.5-0.1 1.5 0 1.5 0 1.5-0.1 1.5 0 1.5 0 1.5-0.1 1.5 0 1.5-0.1" fill="none" stroke="#e37a2b" stroke-width="2.2" stroke-linejoin="round" stroke-linecap="round"/>
<path d="M1321 1209.9l2.4 0.9 2.4 0.7 2.4 0.7 2.4 0.6 2.4 0.5 2.3 0.5 2.4 0.4 2.4 0.3 2.4 0.3 2.4 0.3 2.4 0.3 2.4 0.2 2.4 0.2 2.3 0.1 2.4 0.2 2.4 0.1 2.4 0.1 2.4 0.1 2.4 0.1 2.4 0.1 2.4 0.1 2.3 0 2.4 0.1 2.4 0 7.9 0.2 7.8 0 7.9 0.1 7.8 0 7.9 0.1 7.9 0 7.8 0 7.9 0 7.8 0 7.9 0 7.9 0 7.8 0 7.9 0 7.8 0 7.9 0 7.9 0 7.8 0 7.9 0 7.8 0" fill="none" stroke="#e37a2b" stroke-width="1.8" stroke-linejoin="round" stroke-linecap="round"/>
<path d="M1217 1190.6l1.5-0.4 1.5-0.3 1.5-0.3 1.5-0.3 1.5-0.2 1.5-0.1 1.5-0.2 1.5-0.1 1.5-0.1 1.5-0.1 1.5-0.1 1.5 0 1.4-0.1 1.5 0 1.5-0.1 1.5 0 1.5-0.1 1.5 0 1.5 0 1.5-0.1 1.5 0 1.5 0 1.5-0.1 1.5 0 1.5 0 1.5 0 1.5-0.1 1.5 0 1.5 0 1.5-0.1 1.5 0 1.4 0 1.5 0 1.5-0.1 1.5 0 1.5 0 1.5-0.1 1.5 0 1.5 0 1.5 0 1.5-0.1 1.5 0 1.5 0 1.5 0 1.5-0.1 1.5 0 1.5 0 1.5-0.1 1.5 0 1.5 0 1.4 0 1.5-0.1 1.5 0 1.5 0 1.5 0 1.5-0.1 1.5 0 1.5 0 1.5-0.1 1.5 0 1.5 0 1.5 0 1.5-0.1 1.5 0 1.5 0 1.5 0 1.5-0.1 1.5 0 1.5 0" fill="none" stroke="#c8c63c" stroke-width="2.2" stroke-linejoin="round" stroke-linecap="round"/>
<path d="M1321 1207l2.4 1.2 2.4 1.1 2.4 0.9 2.4 0.8 2.4 0.8 2.3 0.6 2.4 0.6 2.4 0.5 2.4 0.4 2.4 0.4 2.4 0.3 2.4 0.3 2.4 0.3 2.3 0.2 2.4 0.2 2.4 0.2 2.4 0.2 2.4 0.1 2.4 0.2 2.4 0.1 2.4 0.1 2.3 0 2.4 0.1 2.4 0.1 7.9 0.2 7.8 0.1 7.9 0.1 7.8 0 7.9 0 7.9 0.1 7.8 0 7.9 0 7.8 0 7.9 0 7.9 0 7.8 0 7.9 0 7.8 0 7.9 0 7.9 0 7.8 0 7.9 0 7.8 0" fill="none" stroke="#c8c63c" stroke-width="1.8" stroke-linejoin="round" stroke-linecap="round"/>
<path d="M1217 1173.7l1.5-1.5 1.5-1.2 1.5-1 1.5-0.8 1.5-0.7 1.5-0.6 1.5-0.4 1.5-0.4 1.5-0.3 1.5-0.3 1.5-0.2 1.5-0.2 1.4-0.2 1.5-0.1 1.5-0.1 1.5-0.1 1.5-0.2 1.5 0 1.5-0.1 1.5-0.1 1.5-0.1 1.5-0.1 1.5 0 1.5-0.1 1.5-0.1 1.5 0 1.5-0.1 1.5-0.1 1.5 0 1.5-0.1 1.5 0 1.4-0.1 1.5-0.1 1.5 0 1.5-0.1 1.5 0 1.5-0.1 1.5-0.1 1.5 0 1.5-0.1 1.5 0 1.5-0.1 1.5 0 1.5-0.1 1.5-0.1 1.5 0 1.5-0.1 1.5 0 1.5-0.1 1.5-0.1 1.4 0 1.5-0.1 1.5 0 1.5-0.1 1.5 0 1.5-0.1 1.5-0.1 1.5 0 1.5-0.1 1.5 0 1.5-0.1 1.5 0 1.5-0.1 1.5-0.1 1.5 0 1.5-0.1 1.5 0 1.5-0.1 1.5-0.1" fill="none" stroke="#2f8e47" stroke-width="2.2" stroke-linejoin="round" stroke-linecap="round"/>
<path d="M1321 1202.7l2.4 1.7 2.4 1.5 2.4 1.4 2.4 1.1 2.4 1.1 2.3 0.9 2.4 0.8 2.4 0.7 2.4 0.6 2.4 0.6 2.4 0.4 2.4 0.5 2.4 0.4 2.3 0.3 2.4 0.3 2.4 0.2 2.4 0.3 2.4 0.2 2.4 0.2 2.4 0.1 2.4 0.2 2.3 0.1 2.4 0.1 2.4 0.1 7.9 0.2 7.8 0.2 7.9 0.1 7.8 0.1 7.9 0 7.9 0 7.8 0.1 7.9 0 7.8 0 7.9 0 7.9 0 7.8 0 7.9 0 7.8 0 7.9 0 7.9 0 7.8 0 7.9 0 7.8 0" fill="none" stroke="#2f8e47" stroke-width="1.8" stroke-linejoin="round" stroke-linecap="round"/>
<path d="M1217 1143.3l1.5-2.4 1.5-1.9 1.5-1.5 1.5-1.3 1.5-1 1.5-0.8 1.5-0.7 1.5-0.6 1.5-0.4 1.5-0.4 1.5-0.3 1.5-0.3 1.4-0.3 1.5-0.2 1.5-0.1 1.5-0.2 1.5-0.1 1.5-0.1 1.5-0.1 1.5-0.1 1.5-0.1 1.5-0.1 1.5-0.1 1.5-0.1 1.5 0 1.5-0.1 1.5-0.1 1.5 0 1.5-0.1 1.5-0.1 1.5 0 1.4-0.1 1.5-0.1 1.5 0 1.5-0.1 1.5 0 1.5-0.1 1.5-0.1 1.5 0 1.5-0.1 1.5 0 1.5-0.1 1.5-0.1 1.5 0 1.5-0.1 1.5 0 1.5-0.1 1.5-0.1 1.5 0 1.5-0.1 1.4 0 1.5-0.1 1.5-0.1 1.5 0 1.5-0.1 1.5 0 1.5-0.1 1.5 0 1.5-0.1 1.5-0.1 1.5 0 1.5-0.1 1.5 0 1.5-0.1 1.5-0.1 1.5 0 1.5-0.1 1.5 0 1.5-0.1" fill="none" stroke="#2b9ac3" stroke-width="2.2" stroke-linejoin="round" stroke-linecap="round"/>
<path d="M1321 1197.8l2.4 2.3 2.4 2 2.4 1.7 2.4 1.6 2.4 1.4 2.3 1.2 2.4 1.1 2.4 1 2.4 0.8 2.4 0.7 2.4 0.7 2.4 0.6 2.4 0.5 2.3 0.4 2.4 0.4 2.4 0.4 2.4 0.3 2.4 0.3 2.4 0.2 2.4 0.2 2.4 0.2 2.3 0.2 2.4 0.1 2.4 0.1 7.9 0.4 7.8 0.2 7.9 0.1 7.8 0.1 7.9 0.1 7.9 0 7.8 0 7.9 0.1 7.8 0 7.9 0 7.9 0 7.8 0 7.9 0 7.8 0 7.9 0 7.9 0 7.8 0 7.9 0 7.8 0" fill="none" stroke="#2b9ac3" stroke-width="1.8" stroke-linejoin="round" stroke-linecap="round"/>
<path d="M1217 1098.4l1.5-3.4 1.5-2.8 1.5-2.2 1.5-1.8 1.5-1.4 1.5-1.2 1.5-0.9 1.5-0.8 1.5-0.6 1.5-0.5 1.5-0.5 1.5-0.3 1.4-0.3 1.5-0.2 1.5-0.2 1.5-0.2 1.5-0.1 1.5-0.1 1.5-0.1 1.5-0.1 1.5-0.1 1.5 0 1.5-0.1 1.5-0.1 1.5 0 1.5-0.1 1.5 0 1.5 0 1.5-0.1 1.5 0 1.5 0 1.4-0.1 1.5 0 1.5 0 1.5-0.1 1.5 0 1.5 0 1.5-0.1 1.5 0 1.5 0 1.5 0 1.5-0.1 1.5 0 1.5 0 1.5-0.1 1.5 0 1.5 0 1.5 0 1.5-0.1 1.5 0 1.4 0 1.5-0.1 1.5 0 1.5 0 1.5 0 1.5-0.1 1.5 0 1.5 0 1.5-0.1 1.5 0 1.5 0 1.5 0 1.5-0.1 1.5 0 1.5 0 1.5-0.1 1.5 0 1.5 0 1.5 0" fill="none" stroke="#2d409c" stroke-width="2.2" stroke-linejoin="round" stroke-linecap="round"/>
<path d="M1321 1192l2.4 3 2.4 2.6 2.4 2.3 2.4 2 2.4 1.8 2.3 1.6 2.4 1.4 2.4 1.2 2.4 1.1 2.4 1 2.4 0.8 2.4 0.8 2.4 0.6 2.3 0.6 2.4 0.5 2.4 0.5 2.4 0.4 2.4 0.3 2.4 0.4 2.4 0.2 2.4 0.3 2.3 0.2 2.4 0.2 2.4 0.1 7.9 0.5 7.8 0.3 7.9 0.1 7.8 0.2 7.9 0 7.9 0.1 7.8 0 7.9 0.1 7.8 0 7.9 0 7.9 0 7.8 0 7.9 0 7.8 0 7.9 0 7.9 0 7.8 0 7.9 0 7.8 0" fill="none" stroke="#2d409c" stroke-width="1.8" stroke-linejoin="round" stroke-linecap="round"/>
<path d="M1217 1056.1l1.5-6.2 1.5-5 1.5-4 1.5-3.2 1.5-2.5 1.5-2.1 1.5-1.6 1.5-1.4 1.5-1 1.5-0.8 1.5-0.7 1.5-0.5 1.4-0.4 1.5-0.3 1.5-0.2 1.5-0.2 1.5-0.1 1.5-0.1 1.5-0.1 1.5 0 1.5 0 1.5 0 1.5 0 1.5 0.1 1.5 0 1.5 0 1.5 0.1 1.5 0 1.5 0.1 1.5 0.1 1.5 0 1.4 0.1 1.5 0.1 1.5 0 1.5 0.1 1.5 0.1 1.5 0.1 1.5 0 1.5 0.1 1.5 0.1 1.5 0.1 1.5 0 1.5 0.1 1.5 0.1 1.5 0 1.5 0.1 1.5 0.1 1.5 0.1 1.5 0 1.5 0.1 1.4 0.1 1.5 0.1 1.5 0 1.5 0.1 1.5 0.1 1.5 0.1 1.5 0 1.5 0.1 1.5 0.1 1.5 0.1 1.5 0 1.5 0.1 1.5 0.1 1.5 0.1 1.5 0 1.5 0.1 1.5 0.1 1.5 0.1 1.5 0" fill="none" stroke="#8d2590" stroke-width="2.2" stroke-linejoin="round" stroke-linecap="round"/>
<path d="M1321 1186.9l2.4 3.6 2.4 3.1 2.4 2.8 2.4 2.4 2.4 2.2 2.3 1.9 2.4 1.7 2.4 1.5 2.4 1.3 2.4 1.1 2.4 1 2.4 0.9 2.4 0.8 2.3 0.7 2.4 0.7 2.4 0.5 2.4 0.5 2.4 0.4 2.4 0.4 2.4 0.3 2.4 0.3 2.3 0.3 2.4 0.2 2.4 0.2 7.9 0.5 7.8 0.3 7.9 0.3 7.8 0.1 7.9 0.1 7.9 0.1 7.8 0 7.9 0 7.8 0.1 7.9 0 7.9 0 7.8 0 7.9 0 7.8 0 7.9 0 7.9 0 7.8 0 7.9 0 7.8 0" fill="none" stroke="#8d2590" stroke-width="1.8" stroke-linejoin="round" stroke-linecap="round"/>
<path d="M1217 1002.2l1.5-6.4 1.5-5.2 1.5-4.1 1.5-3.3 1.5-2.7 1.5-2.1 1.5-1.6 1.5-1.4 1.5-1 1.5-0.8 1.5-0.7 1.5-0.5 1.4-0.3 1.5-0.3 1.5-0.2 1.5-0.1 1.5-0.1 1.5-0.1 1.5 0 1.5 0 1.5 0.1 1.5 0 1.5 0.1 1.5 0.1 1.5 0.1 1.5 0.1 1.5 0.1 1.5 0.1 1.5 0.1 1.5 0.1 1.5 0.1 1.4 0.1 1.5 0.2 1.5 0.1 1.5 0.1 1.5 0.1 1.5 0.1 1.5 0.2 1.5 0.1 1.5 0.1 1.5 0.1 1.5 0.2 1.5 0.1 1.5 0.1 1.5 0.1 1.5 0.2 1.5 0.1 1.5 0.1 1.5 0.1 1.5 0.2 1.4 0.1 1.5 0.1 1.5 0.1 1.5 0.2 1.5 0.1 1.5 0.1 1.5 0.1 1.5 0.2 1.5 0.1 1.5 0.1 1.5 0.1 1.5 0.2 1.5 0.1 1.5 0.1 1.5 0.1 1.5 0.2 1.5 0.1 1.5 0.1 1.5 0.1" fill="none" stroke="#c9266f" stroke-width="2.2" stroke-linejoin="round" stroke-linecap="round"/>
<path d="M1321 1182.1l2.4 4.2 2.4 3.6 2.4 3.2 2.4 2.8 2.4 2.5 2.3 2.2 2.4 2 2.4 1.7 2.4 1.5 2.4 1.4 2.4 1.1 2.4 1.1 2.4 0.9 2.3 0.8 2.4 0.7 2.4 0.7 2.4 0.5 2.4 0.5 2.4 0.4 2.4 0.4 2.4 0.4 2.3 0.3 2.4 0.2 2.4 0.3 7.9 0.5 7.8 0.4 7.9 0.3 7.8 0.2 7.9 0.1 7.9 0.1 7.8 0 7.9 0 7.8 0.1 7.9 0 7.9 0 7.8 0 7.9 0 7.8 0 7.9 0 7.9 0 7.8 0 7.9 0 7.8 0" fill="none" stroke="#c9266f" stroke-width="1.8" stroke-linejoin="round" stroke-linecap="round"/>
<path d="M1636 1207.5l101.6 0" fill="none" stroke="#7d7d7d" stroke-width="2.0" stroke-linejoin="round" stroke-linecap="round"/>
<path d="M1842.6 1207.5l118.5 0" fill="none" stroke="#7d7d7d" stroke-width="2.0" stroke-linejoin="round" stroke-linecap="round"/>
<path d="M1738.6 1206.7l1.5-0.1 1.4 0 1.5 0 1.4 0 1.5 0 1.5 0 1.4 0 1.5 0 1.4 0 1.5 0 1.5 0 1.4 0 1.5 0 1.4 0 1.5 0 1.4 0 1.5 0 1.5 0 1.4 0 1.5 0 1.4 0 1.5 0 1.4 0 1.5 0 1.5 0 1.4 0 1.5 0 1.4 0 1.5 0 1.4 0 1.5 0 1.5 0 1.4 0 1.5 0 1.4 0 1.5 0 1.5 0 1.4 0 1.5 0 1.4 0 1.5 0 1.4 0 1.5 0 1.5 0 1.4 0 1.5 0 1.4 0 1.5 0 1.4 0 1.5 0 1.5 0 1.4 0 1.5 0 1.4 0 1.5 0 1.4 0 1.5 0.1 1.5 0 1.4 0 1.5 0 1.4 0 1.5 0 1.5 0 1.4 0 1.5 0 1.4 0 1.5 0 1.4 0 1.5 0" fill="none" stroke="#7d7d7d" stroke-width="2.4" stroke-linejoin="round" stroke-linecap="round"/>
<path d="M1840 1207.7l0.6 0.1 0.5 0.1 0.5 0 0.6 0.1 0.5 0 0.5 0 0.6 0.1 0.5 0 0.5 0 0.5 0 0.6 0.1 0.5 0 0.5 0 0.6 0 0.5 0 0.5 0 0.5 0 0.6 0 0.5 0 0.5 0.1 0.6 0 0.5 0 0.5 0 0.5 0 5.7 0 5.7 0 5.6 0 5.7 0 5.6 0 5.7 0 5.7 0 5.6 0 5.7 0 5.6 0 5.7 0 5.7 0 5.6 0 5.7 0 5.6 0 5.7 0 5.7 0 5.6 0 5.7 0" fill="none" stroke="#7d7d7d" stroke-width="1.8" stroke-linejoin="round" stroke-linecap="round"/>
<path d="M1738.6 1204.5l1.5-0.1 1.4-0.1 1.5 0 1.4 0 1.5-0.1 1.5 0 1.4 0 1.5 0 1.4 0 1.5 0 1.5 0 1.4 0 1.5 0 1.4 0 1.5 0 1.4 0 1.5 0 1.5 0 1.4 0 1.5 0 1.4 0 1.5 0 1.4 0 1.5 0 1.5 0 1.4 0 1.5 0 1.4 0 1.5 0 1.4 0 1.5 0 1.5 0 1.4 0 1.5 0 1.4 0.1 1.5 0 1.5 0 1.4 0 1.5 0 1.4 0 1.5 0 1.4 0 1.5 0 1.5 0 1.4 0 1.5 0 1.4 0 1.5 0 1.4 0 1.5 0 1.5 0 1.4 0 1.5 0 1.4 0 1.5 0 1.4 0 1.5 0 1.5 0.1 1.4 0 1.5 0 1.4 0 1.5 0 1.5 0 1.4 0 1.5 0 1.4 0 1.5 0 1.4 0 1.5 0" fill="none" stroke="#eaa36b" stroke-width="2.4" stroke-linejoin="round" stroke-linecap="round"/>
<path d="M1840 1207.4l0.6 0.1 0.5 0.1 0.5 0.1 0.6 0 0.5 0.1 0.5 0.1 0.6 0 0.5 0.1 0.5 0 0.5 0 0.6 0.1 0.5 0 0.5 0 0.6 0 0.5 0.1 0.5 0 0.5 0 0.6 0 0.5 0 0.5 0 0.6 0 0.5 0 0.5 0 0.5 0.1 5.7 0 5.7 0 5.6 0 5.7 0 5.6 0 5.7 0 5.7 0 5.6 0 5.7 0 5.6 0 5.7 0 5.7 0 5.6 0 5.7 0 5.6 0 5.7 0 5.7 0 5.6 0 5.7 0" fill="none" stroke="#eaa36b" stroke-width="1.8" stroke-linejoin="round" stroke-linecap="round"/>
<path d="M1738.6 1201.7l1.5-0.1 1.4-0.1 1.5 0 1.4-0.1 1.5 0 1.5-0.1 1.4 0 1.5 0 1.4 0 1.5 0 1.5 0 1.4 0 1.5 0 1.4 0 1.5 0 1.4 0 1.5 0 1.5 0 1.4 0 1.5 0 1.4 0 1.5 0 1.4 0 1.5 0 1.5 0 1.4 0 1.5 0 1.4 0 1.5 0 1.4 0 1.5 0 1.5 0 1.4 0 1.5 0.1 1.4 0 1.5 0 1.5 0 1.4 0 1.5 0 1.4 0 1.5 0 1.4 0 1.5 0 1.5 0 1.4 0 1.5 0 1.4 0 1.5 0 1.4 0.1 1.5 0 1.5 0 1.4 0 1.5 0 1.4 0 1.5 0 1.4 0 1.5 0 1.5 0 1.4 0 1.5 0 1.4 0 1.5 0 1.5 0 1.4 0.1 1.5 0 1.4 0 1.5 0 1.4 0 1.5 0" fill="none" stroke="#d4392d" stroke-width="2.4" stroke-linejoin="round" stroke-linecap="round"/>
<path d="M1840 1207l0.6 0.2 0.5 0.1 0.5 0.1 0.6 0.1 0.5 0.1 0.5 0.1 0.6 0.1 0.5 0 0.5 0.1 0.5 0 0.6 0.1 0.5 0 0.5 0 0.6 0.1 0.5 0 0.5 0 0.5 0 0.6 0.1 0.5 0 0.5 0 0.6 0 0.5 0 0.5 0 0.5 0 5.7 0.1 5.7 0 5.6 0 5.7 0 5.6 0 5.7 0 5.7 0 5.6 0 5.7 0 5.6 0 5.7 0 5.7 0 5.6 0 5.7 0 5.6 0 5.7 0 5.7 0 5.6 0 5.7 0" fill="none" stroke="#d4392d" stroke-width="1.8" stroke-linejoin="round" stroke-linecap="round"/>
<path d="M1738.6 1196.8l1.5-0.1 1.4-0.1 1.5 0 1.4-0.1 1.5 0 1.5-0.1 1.4 0 1.5 0 1.4 0 1.5 0 1.5 0 1.4 0 1.5 0 1.4 0 1.5 0 1.4 0 1.5 0 1.5 0 1.4 0 1.5 0 1.4 0 1.5 0 1.4 0.1 1.5 0 1.5 0 1.4 0 1.5 0 1.4 0 1.5 0 1.4 0 1.5 0 1.5 0 1.4 0.1 1.5 0 1.4 0 1.5 0 1.5 0 1.4 0 1.5 0 1.4 0 1.5 0 1.4 0 1.5 0.1 1.5 0 1.4 0 1.5 0 1.4 0 1.5 0 1.4 0 1.5 0 1.5 0 1.4 0.1 1.5 0 1.4 0 1.5 0 1.4 0 1.5 0 1.5 0 1.4 0 1.5 0 1.4 0 1.5 0.1 1.5 0 1.4 0 1.5 0 1.4 0 1.5 0 1.4 0 1.5 0" fill="none" stroke="#e37a2b" stroke-width="2.4" stroke-linejoin="round" stroke-linecap="round"/>
<path d="M1840 1206.5l0.6 0.2 0.5 0.2 0.5 0.2 0.6 0.1 0.5 0.1 0.5 0.2 0.6 0.1 0.5 0 0.5 0.1 0.5 0.1 0.6 0.1 0.5 0 0.5 0.1 0.6 0 0.5 0 0.5 0.1 0.5 0 0.6 0 0.5 0 0.5 0.1 0.6 0 0.5 0 0.5 0 0.5 0 5.7 0.1 5.7 0 5.6 0 5.7 0 5.6 0 5.7 0 5.7 0 5.6 0 5.7 0 5.6 0 5.7 0 5.7 0 5.6 0 5.7 0 5.6 0 5.7 0 5.7 0 5.6 0 5.7 0" fill="none" stroke="#e37a2b" stroke-width="1.8" stroke-linejoin="round" stroke-linecap="round"/>
<path d="M1738.6 1186.3l1.5-0.1 1.4 0 1.5-0.1 1.4 0 1.5 0 1.5 0 1.4 0 1.5 0 1.4 0 1.5 0 1.5 0 1.4 0 1.5 0 1.4 0 1.5 0 1.4 0 1.5 0 1.5 0 1.4 0 1.5 0.1 1.4 0 1.5 0 1.4 0 1.5 0 1.5 0 1.4 0 1.5 0 1.4 0 1.5 0 1.4 0.1 1.5 0 1.5 0 1.4 0 1.5 0 1.4 0 1.5 0 1.5 0 1.4 0 1.5 0 1.4 0.1 1.5 0 1.4 0 1.5 0 1.5 0 1.4 0 1.5 0 1.4 0 1.5 0 1.4 0 1.5 0 1.5 0.1 1.4 0 1.5 0 1.4 0 1.5 0 1.4 0 1.5 0 1.5 0 1.4 0 1.5 0 1.4 0.1 1.5 0 1.5 0 1.4 0 1.5 0 1.4 0 1.5 0 1.4 0 1.5 0" fill="none" stroke="#c8c63c" stroke-width="2.4" stroke-linejoin="round" stroke-linecap="round"/>
<path d="M1840 1205.7l0.6 0.3 0.5 0.3 0.5 0.2 0.6 0.2 0.5 0.2 0.5 0.2 0.6 0.1 0.5 0.1 0.5 0.2 0.5 0.1 0.6 0 0.5 0.1 0.5 0.1 0.6 0 0.5 0.1 0.5 0 0.5 0.1 0.6 0 0.5 0.1 0.5 0 0.6 0 0.5 0 0.5 0.1 0.5 0 5.7 0.1 5.7 0 5.6 0 5.7 0 5.6 0 5.7 0 5.7 0 5.6 0 5.7 0 5.6 0 5.7 0 5.7 0 5.6 0 5.7 0 5.6 0 5.7 0 5.7 0 5.6 0 5.7 0" fill="none" stroke="#c8c63c" stroke-width="1.8" stroke-linejoin="round" stroke-linecap="round"/>
<path d="M1738.6 1170.3l1.5-0.2 1.4-0.1 1.5 0 1.4-0.1 1.5 0 1.5 0 1.4-0.1 1.5 0 1.4 0 1.5 0 1.5 0 1.4 0.1 1.5 0 1.4 0 1.5 0 1.4 0 1.5 0.1 1.5 0 1.4 0 1.5 0 1.4 0.1 1.5 0 1.4 0 1.5 0.1 1.5 0 1.4 0 1.5 0 1.4 0.1 1.5 0 1.4 0 1.5 0.1 1.5 0 1.4 0 1.5 0 1.4 0.1 1.5 0 1.5 0 1.4 0.1 1.5 0 1.4 0 1.5 0 1.4 0.1 1.5 0 1.5 0 1.4 0.1 1.5 0 1.4 0 1.5 0.1 1.4 0 1.5 0 1.5 0 1.4 0.1 1.5 0 1.4 0 1.5 0.1 1.4 0 1.5 0 1.5 0 1.4 0.1 1.5 0 1.4 0 1.5 0.1 1.5 0 1.4 0 1.5 0.1 1.4 0 1.5 0 1.4 0 1.5 0.1" fill="none" stroke="#22a48a" stroke-width="2.4" stroke-linejoin="round" stroke-linecap="round"/>
<path d="M1840 1204.7l0.6 0.4 0.5 0.4 0.5 0.3 0.6 0.3 0.5 0.3 0.5 0.2 0.6 0.2 0.5 0.2 0.5 0.1 0.5 0.2 0.6 0.1 0.5 0.1 0.5 0.1 0.6 0.1 0.5 0 0.5 0.1 0.5 0.1 0.6 0 0.5 0.1 0.5 0 0.6 0 0.5 0.1 0.5 0 0.5 0 5.7 0.2 5.7 0 5.6 0 5.7 0 5.6 0 5.7 0 5.7 0 5.6 0 5.7 0 5.6 0 5.7 0 5.7 0 5.6 0 5.7 0 5.6 0 5.7 0 5.7 0 5.6 0 5.7 0" fill="none" stroke="#22a48a" stroke-width="1.8" stroke-linejoin="round" stroke-linecap="round"/>
<path d="M1738.6 1143.6l1.5-0.7 1.4-0.5 1.5-0.5 1.4-0.3 1.5-0.3 1.5-0.2 1.4-0.2 1.5-0.1 1.4-0.1 1.5-0.1 1.5 0 1.4 0 1.5-0.1 1.4 0 1.5 0 1.4 0 1.5 0 1.5 0.1 1.4 0 1.5 0 1.4 0 1.5 0.1 1.4 0 1.5 0 1.5 0 1.4 0.1 1.5 0 1.4 0 1.5 0.1 1.4 0 1.5 0 1.5 0.1 1.4 0 1.5 0 1.4 0.1 1.5 0 1.5 0 1.4 0.1 1.5 0 1.4 0 1.5 0.1 1.4 0 1.5 0 1.5 0.1 1.4 0 1.5 0 1.4 0.1 1.5 0 1.4 0 1.5 0.1 1.5 0 1.4 0 1.5 0.1 1.4 0 1.5 0 1.4 0.1 1.5 0 1.5 0 1.4 0.1 1.5 0 1.4 0.1 1.5 0 1.5 0 1.4 0.1 1.5 0 1.4 0 1.5 0.1 1.4 0 1.5 0" fill="none" stroke="#2b9ac3" stroke-width="2.4" stroke-linejoin="round" stroke-linecap="round"/>
<path d="M1840 1203.2l0.6 0.6 0.5 0.5 0.5 0.5 0.6 0.4 0.5 0.4 0.5 0.3 0.6 0.3 0.5 0.2 0.5 0.2 0.5 0.2 0.6 0.2 0.5 0.2 0.5 0.1 0.6 0.1 0.5 0.1 0.5 0.1 0.5 0.1 0.6 0.1 0.5 0 0.5 0.1 0.6 0 0.5 0.1 0.5 0 0.5 0 5.7 0.2 5.7 0.1 5.6 0 5.7 0 5.6 0 5.7 0 5.7 0 5.6 0 5.7 0 5.6 0 5.7 0 5.7 0 5.6 0 5.7 0 5.6 0 5.7 0 5.7 0 5.6 0 5.7 0" fill="none" stroke="#2b9ac3" stroke-width="1.8" stroke-linejoin="round" stroke-linecap="round"/>
<path d="M1738.6 1100.8l1.5-0.9 1.4-0.6 1.5-0.6 1.4-0.4 1.5-0.3 1.5-0.2 1.4-0.2 1.5-0.1 1.4-0.1 1.5-0.1 1.5 0 1.4 0 1.5 0 1.4 0 1.5 0 1.4 0 1.5 0.1 1.5 0 1.4 0.1 1.5 0 1.4 0.1 1.5 0 1.4 0.1 1.5 0.1 1.5 0 1.4 0.1 1.5 0.1 1.4 0 1.5 0.1 1.4 0.1 1.5 0 1.5 0.1 1.4 0.1 1.5 0 1.4 0.1 1.5 0.1 1.5 0 1.4 0.1 1.5 0.1 1.4 0 1.5 0.1 1.4 0.1 1.5 0 1.5 0.1 1.4 0.1 1.5 0.1 1.4 0 1.5 0.1 1.4 0.1 1.5 0 1.5 0.1 1.4 0.1 1.5 0 1.4 0.1 1.5 0.1 1.4 0 1.5 0.1 1.5 0.1 1.4 0.1 1.5 0 1.4 0.1 1.5 0.1 1.5 0 1.4 0.1 1.5 0.1 1.4 0 1.5 0.1 1.4 0.1 1.5 0" fill="none" stroke="#2d409c" stroke-width="2.4" stroke-linejoin="round" stroke-linecap="round"/>
<path d="M1840 1201.5l0.6 0.8 0.5 0.7 0.5 0.6 0.6 0.6 0.5 0.4 0.5 0.5 0.6 0.4 0.5 0.3 0.5 0.3 0.5 0.2 0.6 0.3 0.5 0.2 0.5 0.2 0.6 0.1 0.5 0.2 0.5 0.1 0.5 0.1 0.6 0.1 0.5 0.1 0.5 0 0.6 0.1 0.5 0.1 0.5 0 0.5 0.1 5.7 0.2 5.7 0.1 5.6 0 5.7 0 5.6 0 5.7 0 5.7 0 5.6 0 5.7 0 5.6 0 5.7 0 5.7 0 5.6 0 5.7 0 5.6 0 5.7 0 5.7 0 5.6 0 5.7 0" fill="none" stroke="#2d409c" stroke-width="1.8" stroke-linejoin="round" stroke-linecap="round"/>
<path d="M1738.6 1049.1l1.5-1.3 1.4-1 1.5-0.8 1.4-0.6 1.5-0.5 1.5-0.4 1.4-0.3 1.5-0.2 1.4-0.2 1.5-0.1 1.5-0.1 1.4 0 1.5 0 1.4 0 1.5 0 1.4 0 1.5 0 1.5 0.1 1.4 0 1.5 0.1 1.4 0 1.5 0.1 1.4 0 1.5 0.1 1.5 0.1 1.4 0 1.5 0.1 1.4 0.1 1.5 0.1 1.4 0 1.5 0.1 1.5 0.1 1.4 0.1 1.5 0 1.4 0.1 1.5 0.1 1.5 0 1.4 0.1 1.5 0.1 1.4 0.1 1.5 0 1.4 0.1 1.5 0.1 1.5 0.1 1.4 0 1.5 0.1 1.4 0.1 1.5 0.1 1.4 0 1.5 0.1 1.5 0.1 1.4 0.1 1.5 0 1.4 0.1 1.5 0.1 1.4 0.1 1.5 0 1.5 0.1 1.4 0.1 1.5 0.1 1.4 0 1.5 0.1 1.5 0.1 1.4 0.1 1.5 0 1.4 0.1 1.5 0.1 1.4 0.1 1.5 0" fill="none" stroke="#8d2590" stroke-width="2.4" stroke-linejoin="round" stroke-linecap="round"/>
<path d="M1840 1199.6l0.6 1 0.5 0.9 0.5 0.8 0.6 0.7 0.5 0.6 0.5 0.6 0.6 0.5 0.5 0.4 0.5 0.4 0.5 0.3 0.6 0.3 0.5 0.3 0.5 0.2 0.6 0.2 0.5 0.2 0.5 0.1 0.5 0.2 0.6 0.1 0.5 0.1 0.5 0.1 0.6 0.1 0.5 0 0.5 0.1 0.5 0.1 5.7 0.3 5.7 0.1 5.6 0 5.7 0 5.6 0 5.7 0 5.7 0 5.6 0 5.7 0 5.6 0 5.7 0 5.7 0 5.6 0 5.7 0 5.6 0 5.7 0 5.7 0 5.6 0 5.7 0" fill="none" stroke="#8d2590" stroke-width="1.8" stroke-linejoin="round" stroke-linecap="round"/>
<path d="M1738.6 988.4l1.5-1.5 1.4-1.2 1.5-1 1.4-0.8 1.5-0.5 1.5-0.5 1.4-0.3 1.5-0.3 1.4-0.2 1.5-0.1 1.5-0.1 1.4 0 1.5-0.1 1.4 0 1.5 0.1 1.4 0 1.5 0.1 1.5 0 1.4 0.1 1.5 0.1 1.4 0.1 1.5 0.1 1.4 0.1 1.5 0.1 1.5 0.1 1.4 0.1 1.5 0.1 1.4 0.1 1.5 0.1 1.4 0.1 1.5 0.1 1.5 0.1 1.4 0.1 1.5 0.1 1.4 0.1 1.5 0.1 1.5 0.1 1.4 0.1 1.5 0.1 1.4 0.1 1.5 0.1 1.4 0.1 1.5 0.1 1.5 0.1 1.4 0.2 1.5 0.1 1.4 0.1 1.5 0.1 1.4 0.1 1.5 0.1 1.5 0.1 1.4 0.1 1.5 0.1 1.4 0.1 1.5 0.1 1.4 0.1 1.5 0.1 1.5 0.1 1.4 0.2 1.5 0.1 1.4 0.1 1.5 0.1 1.5 0.1 1.4 0.1 1.5 0.1 1.4 0.1 1.5 0.1 1.4 0.1 1.5 0.1" fill="none" stroke="#c9266f" stroke-width="2.4" stroke-linejoin="round" stroke-linecap="round"/>
<path d="M1840 1197.8l0.6 1.2 0.5 1.1 0.5 1 0.6 0.8 0.5 0.8 0.5 0.6 0.6 0.6 0.5 0.5 0.5 0.5 0.5 0.4 0.6 0.3 0.5 0.3 0.5 0.3 0.6 0.3 0.5 0.2 0.5 0.2 0.5 0.1 0.6 0.2 0.5 0.1 0.5 0.1 0.6 0.1 0.5 0.1 0.5 0.1 0.5 0.1 5.7 0.4 5.7 0.1 5.6 0 5.7 0 5.6 0 5.7 0 5.7 0 5.6 0 5.7 0 5.6 0 5.7 0 5.7 0 5.6 0 5.7 0 5.6 0 5.7 0 5.7 0 5.6 0 5.7 0" fill="none" stroke="#c9266f" stroke-width="1.8" stroke-linejoin="round" stroke-linecap="round"/>
<path d="M1842.6 1205.1l22 1.6 42.3 0.7 50.8 0.6" fill="none" stroke="#2d409c" stroke-width="2.0" stroke-linejoin="round" stroke-linecap="round"/>
<circle cx="1738.4" cy="1085.9" r="1.8" fill="#2d409c"/>
<circle cx="1838.4" cy="1114.1" r="1.8" fill="#2d409c"/>
<circle cx="1838.4" cy="1137.9" r="1.8" fill="#2b9ac3"/>
<path d="M320.3 1179.9h0M320.3 1192.6h0" stroke="#c9266f" stroke-width="3.2" stroke-linecap="round" fill="none"/>
<path d="M812.8 1187.5l0.3 14.4" fill="none" stroke="#8d2590" stroke-width="1.8" stroke-linejoin="round" stroke-linecap="round"/>
<path d="M1321.2 1162.5l0.5 20.4" fill="none" stroke="#c9266f" stroke-width="1.8" stroke-linejoin="round" stroke-linecap="round"/>
<path d="M1840.2 1185.6l0.5 13" fill="none" stroke="#c9266f" stroke-width="2.0" stroke-linejoin="round" stroke-linecap="round"/>
<path d="M117.1 1592.5l2.6 2.7 2.6 1.6 2.6 0.1 2.6 0.5 2.6-0.1 2.6 0.5 2.6-5.7 2.6-0.3 2.6 3.6 2.6 1.1 2.6 3.3 2.6-1.2 2.6-1.4 2.6 0.5 2.6 3.2 2.6-1.3 2.6-1.3 2.6 2.6 2.6-0.1 2.6-0.6 2.6 0.9 2.6-2.2 2.6 0.7 2.6-0.1 2.6 0.7 2.5-1.8 2.6 1.4 2.6 0.4 2.6-0.6 2.6 1.2 2.6-0.8 2.6-2.8 2.6 3 2.6 0.1 2.6-0.9 2.6-0.3 2.6 0.2 2.6 0.9" fill="none" stroke="#c8c040" stroke-width="2.4" stroke-linejoin="round" stroke-linecap="round"/>
<path d="M117.1 1601.1l2.6-1.1 2.6 1.8 2.6-2.8 2.6 0.4 2.6-0.3 2.6 2.4 2.6 0.6 2.6-2 2.6 1.1 2.6 0.3 2.6-0.3 2.6 0.8 2.6 0.3 2.6-2.1 2.6 0.1 2.6-0.5 2.6 0.5 2.6 0.3 2.6-0.4 2.6 0.8 2.6-0.4 2.6 0.3 2.6 2.1 2.6-2.6 2.6-1.3 2.5 0.2 2.6 1.8 2.6-0.5 2.6 0.1 2.6-1.5 2.6 0.1 2.6 2.5 2.6-0.6 2.6-0.9 2.6-0.4 2.6-2.7 2.6 2.8 2.6 0.6" fill="none" stroke="#30a060" stroke-width="2.4" stroke-linejoin="round" stroke-linecap="round"/>
<path d="M117.1 1602l2.6-0.7 2.6-1.2 2.6 1.1 2.6-1.6 2.6-0.8 2.6 1.2 2.6-0.7 2.6 1.2 2.6-0.2 2.6 0.6 2.6-0.9 2.6 0.7" fill="none" stroke="#2d409c" stroke-width="2.4" stroke-linejoin="round" stroke-linecap="round"/>
<path d="M226.2 1587.1l2.6-0.2 2.6-0.1 2.6 2 2.6-1.3 2.6 1 2.6-0.3 2.6-0.4 2.6-0.6 2.6 0.6 2.6 0.2 2.6-0.5 2.6 1.8 2.6 3.6 2.6-1.5 2.6 1.8 2.6-0.1" fill="none" stroke="#2a98b0" stroke-width="2.4" stroke-linejoin="round" stroke-linecap="round"/>
<path d="M226.2 1593.6l2.6-1.4 2.6 1.5 2.6-1.8 2.6 0.5 2.6 0 2.6 0.3 2.6-2.1 2.6-1.1 2.6 1.8 2.6-1.2 2.6 1.1 2.6-0.6 2.6 1 2.6-0.6 2.6 1.7 2.6-1.6" fill="none" stroke="#2d409c" stroke-width="2.4" stroke-linejoin="round" stroke-linecap="round"/>
<path d="M234.9 1599.2l2.6 0.4 2.6 1.7 2.6 1.2 2.6-3.9 2.6 1.3 2.6-2.3 2.6-2.2 2.6 4.9 2.6-3 2.6-0.2 2.6-1.3 2.6 0.5 2.6-1.9 2.6 1.8 2.6-0.3 2.6 4 2.6-3.1 2.6 0.1 2.6-0.8 2.6-2 2.6 3 2.6 1.6 2.6-6.9 2.6 3.1 2.6 0.7 2.6-2.4 2.6 1.3 2.6 1.3 2.6 0.2 2.6-0.2 2.6 3.7 2.6-0.3" fill="none" stroke="#2f8e47" stroke-width="2.4" stroke-linejoin="round" stroke-linecap="round"/>
<path d="M226.2 1598.9l2.6 1.2 2.6-0.7 2.6-3.5 2.6 1.6 2.6-3.1 2.6 0.9 2.6-0.2 2.6-1.9 2.6-0.9 2.6 1.5 2.6-5.9 2.6 1.6 2.6-3.3 2.6 3.6 2.6-1.3 2.6 0.6 2.6-2.4 2.6-2 2.6-2.9 2.6 3 2.6-0.4 2.6-2.2 2.6 0.4 2.6 1.5 2.6-0.5 2.6 0 2.6-3 2.6 2.4 2.6-0.6 2.6-2.5 2.6 3.1 2.6-1.8 2.6 4.2 2.6-0.6" fill="none" stroke="#e8a040" stroke-width="2.4" stroke-linejoin="round" stroke-linecap="round"/>
<path d="M226.2 1598.8l2.6 0 2.6 1.1 2.6-0.7 2.6-0.5 2.6-4.1 2.6-0.3 2.6-2 2.6-0.6 2.6-5.5 2.6 1.2 2.6 3.5 2.6-3.3 2.6 1.5 2.6-2.8 2.6 0.1 2.6-1.4 2.6 0.2 2.6 1.9 2.6-4.7 2.6 3 2.6-1.5 2.6-0.4 2.6-1.5 2.6 1.9 2.6-1.7 2.6-0.5 2.6-2.8 2.6 4.2 2.6-1.1 2.6-0.3 2.6 1.6 2.6-0.2 2.6-0.9 2.6 2.8" fill="none" stroke="#d4392d" stroke-width="2.4" stroke-linejoin="round" stroke-linecap="round"/>
<path d="M226.2 1551.6l2.6-1.1 2.6 1 2.6 0.3 2.6-1.6 2.6-2.2 2.6 1.7 2.6 2.3 2.6 2.2 2.6 1.8 2.6-0.6 2.6 4.8 2.6 3.5 2.6 0.9 2.6 6.1 2.6 2.5 2.6 9.5 2.6 7.1" fill="none" stroke="#c9266f" stroke-width="2.0" stroke-linejoin="round" stroke-linecap="round"/>
<circle cx="316.4" cy="1553.8" r="1.5" fill="#e37a2b"/>
<circle cx="316.4" cy="1558.9" r="1.5" fill="#d4392d"/>
<path d="M326.7 1589.8l2.6-0.9 2.6 0.8 2.6-1.3 2.6 1.5 2.6-2.5 2.6 2.3 2.6 1.4 2.6-0.8 2.6 0 2.6-1.3 2.6 1.7 2.6-2.7 2.6 1.8 2.6-0.7 2.6-1.8 2.6 2.9 2.6-4.5 2.6 2.7 2.6 0.8 2.6-3.7 2.6 1.5 2.6 1.3 2.6-2.7 2.6-1.3 2.6-0.1 2.6 1.2 2.6 1.7 2.6-0.3 2.6-1.2 2.6 0.5 2.6 0.9 2.6-1.6 2.6 2.9 2.6-2.8 2.6 3 2.6-0.5 2.6-0.3 2.6-0.7 2.6-0.3 2.6 3 2.6-0.5 2.6-0.1 2.6-0.4 2.6 0.8 2.6 0.5 2.6-2.6 2.6 1 2.6 0.9 2.6-0.4 2.6 1.7 2.6 1.8 2.6 0.9 2.6-2.1 2.6 1.2 2.6 0.6 2.6 1.4 2.6-0.7 2.6 0.4 2.6-1.1 2.6 0.2 2.6 2.1 2.6-2.5 2.6 1 2.6-0.6 2.6 1.9 2.6-1.2 2.6 2.8 2.6-2.8 2.6 2.1 2.6-1.2 2.6 1.2 2.6-0.6 2.6 0 2.6 1.5 2.6-1.4 2.6-0.8 2.6 1 2.6-1" fill="none" stroke="#7d7d7d" stroke-width="2.2" stroke-linejoin="round" stroke-linecap="round"/>
<path d="M326.7 1581.8l2.6 2.7 2.6-0.8 2.6 1.7 2.6 1.8 2.6-1.6 2.6 2.5 2.6-0.8 2.6-1.9 2.6 3.6 2.6 0.9 2.6-0.4 2.6-0.6 2.6-0.3 2.6 1.6 2.6 0.2 2.6-1.2 2.6 0.9 2.6-1 2.6 2 2.6-2.2 2.6 1.3 2.6 0.5 2.6 1.7 2.6-1.2 2.6-0.1 2.6-1.1 2.6 1.1 2.6 1.3 2.6 0.6 2.6-2.3 2.6 2.3 2.6-2.8 2.6 1.7 2.6 1.1 2.6 0.5 2.6-2.1 2.6 1.9 2.6-0.1 2.6 2.5 2.6-2.1 2.6 1.5 2.6 1.5 2.6-1.9 2.6 0.2 2.6 1.3 2.6-4 2.6 4.4 2.6 0 2.6-1 2.6 0.2 2.6 0.2 2.6 0.8 2.6-1.6 2.6 2.7 2.6 1.3 2.6-0.6 2.6-0.7 2.6-0.1 2.6-1.9 2.6 2.3 2.6 0.4 2.6 0.2 2.6 0.4 2.6-1.6 2.6 2.1 2.6-2.6 2.6 2.5 2.6-0.2 2.6-0.7 2.6 1.9 2.6-1.8 2.6 0.2 2.6-1.3 2.6 0.7 2.6 3.4 2.6-2.9 2.6 1.5 2.6 0.1" fill="none" stroke="#e8a040" stroke-width="2.4" stroke-linejoin="round" stroke-linecap="round"/>
<path d="M326.7 1587.7l2.6-2.6 2.6 3 2.6 0 2.6-0.5 2.6-0.5 2.6 2.8 2.6-0.1 2.6 0.3 2.6 0.6 2.6 0.8 2.6 1.4 2.6-0.3 2.6 0.7 2.6 0.6 2.6-0.1 2.6-0.1 2.6 1 2.6 0.1 2.6-1 2.6 0.6 2.6 2.2 2.6 1.2 2.6-4.2 2.6 3.3 2.6-1.8 2.6 2 2.6-1.8 2.6 1.5 2.6 0.7 2.6 0.6 2.6-0.3 2.6 0.9 2.6-1.2 2.6 0.5 2.6-0.5 2.6 0.1 2.6 1.8 2.6-1.4 2.6 0.4 2.6-1 2.6-0.5 2.6 2.3 2.6 1.9 2.6-2.1 2.6 0.2 2.6 1 2.6-1.3 2.6 0.8 2.6-0.9 2.6 2.1 2.6-1.4 2.6 0.6 2.6 0.1 2.6-1.1 2.6 1.7 2.6-0.1 2.6-1.1 2.6 2.5 2.6-2.4 2.6 1.4 2.6 1.6 2.6-3.9 2.6-0.3 2.6 1.6 2.6 1.1 2.6 0.8 2.6-2.3 2.6-1.3 2.6 3.1 2.6-1.5 2.6-1.8 2.6 0.8 2.6 1 2.6-2.4 2.6 3.4 2.6-1.9 2.6-0.6 2.6 2.4" fill="none" stroke="#d4392d" stroke-width="2.4" stroke-linejoin="round" stroke-linecap="round"/>
<path d="M326.7 1587.4l2.6 0.2 2.6-3.1 2.6 3.3 2.6 0.3 2.6 0.7 2.6-3 2.6 0.9 2.6 3.3 2.6 0.2 2.6-1.2 2.6 0.7 2.6 0.1 2.6 1.4 2.6 1.5 2.6-1.8 2.6 1.4 2.6-3.4 2.6 2.8 2.6 0 2.6 0 2.6 1.2 2.6-0.7 2.6 1.5 2.6-1.1 2.6-0.4 2.6 0.6 2.6 3.1 2.6-3.4 2.6 1.6 2.6-1.7 2.6 1 2.6 0.3 2.6-0.4 2.6 1.3 2.6-0.6 2.6 0.5 2.6-0.8 2.6-0.3 2.6 1.9 2.6-0.3 2.6 0.5 2.6-2.6 2.6 2.7 2.6-0.6 2.6 0.2 2.6 0.9 2.6-1.5 2.6 1 2.6-1.3 2.6 2.1 2.6-1.2 2.6-1.9 2.6 1.5 2.6 1 2.6-0.9 2.6 2.3 2.6-1.6 2.6 0.2 2.6-0.1 2.6 0.1 2.6-0.1 2.6 1.4 2.6 0 2.6 0.7 2.6-1.5 2.6 2.4 2.6-1.6 2.6 0.8 2.6-1 2.6-2 2.6 3 2.6-1.6 2.6-0.3 2.6 2.7 2.6-0.9 2.6-0.3 2.6 1.2 2.6-0.3" fill="none" stroke="#e37a2b" stroke-width="2.4" stroke-linejoin="round" stroke-linecap="round"/>
<rect x="196.10" y="1797.00" width="696.30" height="47.20" fill="#d3d4d5" stroke="none" stroke-width="0"/>
<rect x="22.30" y="1844.20" width="173.80" height="46.30" fill="#dcdfe3" stroke="none" stroke-width="0"/>
<rect x="196.10" y="1844.20" width="696.30" height="46.30" fill="#737779" stroke="none" stroke-width="0"/>
<rect x="22.30" y="1890.50" width="173.80" height="46.60" fill="#737779" stroke="none" stroke-width="0"/>
<rect x="196.10" y="1890.50" width="696.30" height="46.60" fill="#ffffff" stroke="none" stroke-width="0"/>
<rect x="22.30" y="1937.10" width="173.80" height="46.80" fill="#737779" stroke="none" stroke-width="0"/>
<rect x="196.10" y="1937.10" width="696.30" height="46.80" fill="#dcdfe3" stroke="none" stroke-width="0"/>
<rect x="22.30" y="1983.90" width="173.80" height="46.30" fill="#737779" stroke="none" stroke-width="0"/>
<rect x="196.10" y="1983.90" width="696.30" height="46.30" fill="#ffffff" stroke="none" stroke-width="0"/>
<rect x="22.30" y="2030.20" width="173.80" height="46.80" fill="#737779" stroke="none" stroke-width="0"/>
<rect x="196.10" y="2030.20" width="696.30" height="46.80" fill="#dcdfe3" stroke="none" stroke-width="0"/>
<line x1="196.10" y1="1797.00" x2="892.40" y2="1797.00" stroke="#a9aaab" stroke-width="1.8"/>
<line x1="196.10" y1="1797.00" x2="196.10" y2="2077.00" stroke="#a9aaab" stroke-width="1.8"/>
<line x1="892.40" y1="1797.00" x2="892.40" y2="2077.00" stroke="#a9aaab" stroke-width="1.8"/>
<line x1="22.30" y1="1844.20" x2="22.30" y2="2077.00" stroke="#a9aaab" stroke-width="1.8"/>
<line x1="22.30" y1="1844.20" x2="892.40" y2="1844.20" stroke="#a9aaab" stroke-width="1.8"/>
<line x1="22.30" y1="1890.50" x2="892.40" y2="1890.50" stroke="#a9aaab" stroke-width="1.8"/>
<line x1="22.30" y1="1937.10" x2="892.40" y2="1937.10" stroke="#a9aaab" stroke-width="1.8"/>
<line x1="22.30" y1="1983.90" x2="892.40" y2="1983.90" stroke="#a9aaab" stroke-width="1.8"/>
<line x1="22.30" y1="2030.20" x2="892.40" y2="2030.20" stroke="#a9aaab" stroke-width="1.8"/>
<line x1="22.30" y1="2077.00" x2="892.40" y2="2077.00" stroke="#a9aaab" stroke-width="1.8"/>
<line x1="435.60" y1="1844.20" x2="435.60" y2="2077.00" stroke="#a9aaab" stroke-width="1.8"/>
<line x1="690.20" y1="1844.20" x2="690.20" y2="2077.00" stroke="#a9aaab" stroke-width="1.8"/>
<text x="441.97" y="1828.80" font-size="24.71" textLength="13.25" lengthAdjust="spacingAndGlyphs" fill="#2b2d7c" stroke="#2b2d7c" stroke-width="0.55">K</text>
<text x="455.70" y="1837.50" font-size="14.83" textLength="10.64" lengthAdjust="spacingAndGlyphs" fill="#2b2d7c" stroke="#2b2d7c" stroke-width="0.55">d</text>
<text x="469.68" y="1828.80" font-size="24.71" textLength="22.39" lengthAdjust="spacingAndGlyphs" fill="#2b2d7c" stroke="#2b2d7c" stroke-width="0.55">in</text>
<text x="497.03" y="1828.80" font-size="24.71" textLength="16.01" lengthAdjust="spacingAndGlyphs" fill="#111" stroke="#111" stroke-width="0.55">μ</text>
<text x="510.07" y="1828.80" font-size="24.71" textLength="159.69" lengthAdjust="spacingAndGlyphs" fill="#2b2d7c" stroke="#2b2d7c" stroke-width="0.55">M (SEM range)</text>
<text x="44.08" y="1874.00" font-size="24.71" textLength="58.35" lengthAdjust="spacingAndGlyphs" fill="#111" stroke="#111" stroke-width="0.55">USP7</text>
<text x="102.31" y="1883.00" font-size="13.37" textLength="19.53" lengthAdjust="spacingAndGlyphs" fill="#111" stroke="#111" stroke-width="0.55">CD</text>
<text x="282.78" y="1874.00" font-size="23.84" textLength="67.59" lengthAdjust="spacingAndGlyphs" fill="#fff" stroke="#fff" stroke-width="0.55">FT827</text>
<text x="529.94" y="1873.90" font-size="23.84" textLength="65.57" lengthAdjust="spacingAndGlyphs" fill="#fff" stroke="#fff" stroke-width="0.55">FT671</text>
<text x="745.91" y="1873.90" font-size="23.84" textLength="105.45" lengthAdjust="spacingAndGlyphs" fill="#fff" stroke="#fff" stroke-width="0.55">Ubiquitin</text>
<text x="54.40" y="1921.10" font-size="25.00" textLength="100.08" lengthAdjust="spacingAndGlyphs" fill="#fff" stroke="#fff" stroke-width="0.55">WT (n=9)</text>
<text x="36.10" y="1968.00" font-size="25.00" textLength="137.61" lengthAdjust="spacingAndGlyphs" fill="#fff" stroke="#fff" stroke-width="0.55">F291N (n=3)</text>
<text x="36.86" y="2014.80" font-size="25.00" textLength="138.94" lengthAdjust="spacingAndGlyphs" fill="#fff" stroke="#fff" stroke-width="0.55">Q297A (n=3)</text>
<text x="37.57" y="2062.00" font-size="25.00" textLength="137.22" lengthAdjust="spacingAndGlyphs" fill="#fff" stroke="#fff" stroke-width="0.55">Y465N (n=3)</text>
<text x="232.50" y="1921.00" font-size="25.00" textLength="140.76" lengthAdjust="spacingAndGlyphs" fill="#2b2d7c" stroke="#2b2d7c" stroke-width="0.55">7.8 (5.9-10.2)</text>
<text x="447.57" y="1920.80" font-size="25.00" textLength="208.70" lengthAdjust="spacingAndGlyphs" fill="#2b2d7c" stroke="#2b2d7c" stroke-width="0.55">0.065 (0.045-0.092)</text>
<text x="705.29" y="1920.80" font-size="25.00" textLength="151.51" lengthAdjust="spacingAndGlyphs" fill="#2b2d7c" stroke="#2b2d7c" stroke-width="0.55">280 (270-300)</text>
<text x="245.14" y="1968.20" font-size="25.00" textLength="125.65" lengthAdjust="spacingAndGlyphs" fill="#2b2d7c" stroke="#2b2d7c" stroke-width="0.55">No binding</text>
<text x="491.84" y="1968.20" font-size="25.00" textLength="126.17" lengthAdjust="spacingAndGlyphs" fill="#2b2d7c" stroke="#2b2d7c" stroke-width="0.55">No binding</text>
<text x="704.66" y="1968.20" font-size="25.00" textLength="152.15" lengthAdjust="spacingAndGlyphs" fill="#2b2d7c" stroke="#2b2d7c" stroke-width="0.55">190 (170-210)</text>
<text x="245.14" y="2015.20" font-size="25.00" textLength="125.65" lengthAdjust="spacingAndGlyphs" fill="#2b2d7c" stroke="#2b2d7c" stroke-width="0.55">No binding</text>
<text x="491.84" y="2015.20" font-size="25.00" textLength="126.17" lengthAdjust="spacingAndGlyphs" fill="#2b2d7c" stroke="#2b2d7c" stroke-width="0.55">No binding</text>
<text x="705.58" y="2015.20" font-size="25.00" textLength="151.21" lengthAdjust="spacingAndGlyphs" fill="#2b2d7c" stroke="#2b2d7c" stroke-width="0.55">330 (310-350)</text>
<text x="245.14" y="2062.30" font-size="25.00" textLength="125.65" lengthAdjust="spacingAndGlyphs" fill="#2b2d7c" stroke="#2b2d7c" stroke-width="0.55">No binding</text>
<text x="491.84" y="2062.30" font-size="25.00" textLength="126.17" lengthAdjust="spacingAndGlyphs" fill="#2b2d7c" stroke="#2b2d7c" stroke-width="0.55">No binding</text>
<text x="705.29" y="2062.30" font-size="25.00" textLength="151.51" lengthAdjust="spacingAndGlyphs" fill="#2b2d7c" stroke="#2b2d7c" stroke-width="0.55">250 (240-270)</text>
<rect x="31.90" y="2221.20" width="564.80" height="42.80" fill="#737779" stroke="none" stroke-width="0"/>
<rect x="31.90" y="2264.00" width="140.70" height="41.60" fill="#d6d6d5" stroke="none" stroke-width="0"/>
<rect x="172.60" y="2264.00" width="424.10" height="41.60" fill="#dadee1" stroke="none" stroke-width="0"/>
<rect x="31.90" y="2305.60" width="140.70" height="42.10" fill="#d6d6d5" stroke="none" stroke-width="0"/>
<rect x="172.60" y="2305.60" width="424.10" height="42.10" fill="#ffffff" stroke="none" stroke-width="0"/>
<rect x="31.90" y="2347.70" width="140.70" height="42.30" fill="#d6d6d5" stroke="none" stroke-width="0"/>
<rect x="172.60" y="2347.70" width="424.10" height="42.30" fill="#dadee1" stroke="none" stroke-width="0"/>
<rect x="31.90" y="2390.00" width="140.70" height="42.10" fill="#d6d6d5" stroke="none" stroke-width="0"/>
<rect x="172.60" y="2390.00" width="424.10" height="42.10" fill="#ffffff" stroke="none" stroke-width="0"/>
<line x1="30.90" y1="2221.20" x2="597.70" y2="2221.20" stroke="#8e8f90" stroke-width="2.0"/>
<line x1="30.90" y1="2264.00" x2="597.70" y2="2264.00" stroke="#8e8f90" stroke-width="2.0"/>
<line x1="30.90" y1="2305.60" x2="597.70" y2="2305.60" stroke="#8e8f90" stroke-width="2.0"/>
<line x1="30.90" y1="2347.70" x2="597.70" y2="2347.70" stroke="#8e8f90" stroke-width="2.0"/>
<line x1="30.90" y1="2390.00" x2="597.70" y2="2390.00" stroke="#8e8f90" stroke-width="2.0"/>
<line x1="30.90" y1="2432.10" x2="597.70" y2="2432.10" stroke="#8e8f90" stroke-width="2.0"/>
<line x1="31.90" y1="2221.20" x2="31.90" y2="2432.10" stroke="#8e8f90" stroke-width="2.0"/>
<line x1="172.60" y1="2264.00" x2="172.60" y2="2432.10" stroke="#8e8f90" stroke-width="2.0"/>
<line x1="382.80" y1="2264.00" x2="382.80" y2="2432.10" stroke="#8e8f90" stroke-width="2.0"/>
<line x1="596.70" y1="2221.20" x2="596.70" y2="2432.10" stroke="#8e8f90" stroke-width="2.0"/>
<text x="46.02" y="2252.00" font-size="27.04" textLength="111.00" lengthAdjust="spacingAndGlyphs" fill="#fff" stroke="#fff" stroke-width="0.55">USP7 CD</text>
<text x="189.91" y="2252.00" font-size="27.04" textLength="17.15" lengthAdjust="spacingAndGlyphs" fill="#fff" stroke="#fff" stroke-width="0.55" font-style="italic">K</text>
<text x="206.02" y="2262.00" font-size="15.99" textLength="12.98" lengthAdjust="spacingAndGlyphs" fill="#fff" stroke="#fff" stroke-width="0.55" font-style="italic">M</text>
<text x="223.16" y="2252.00" font-size="27.04" textLength="140.67" lengthAdjust="spacingAndGlyphs" fill="#fff" stroke="#fff" stroke-width="0.55">± SEM (μM)</text>
<text x="397.40" y="2252.00" font-size="27.04" textLength="12.09" lengthAdjust="spacingAndGlyphs" fill="#fff" stroke="#fff" stroke-width="0.55" font-style="italic">k</text>
<text x="409.50" y="2262.00" font-size="13.81" textLength="20.47" lengthAdjust="spacingAndGlyphs" fill="#fff" stroke="#fff" stroke-width="0.55" font-style="italic">cat</text>
<text x="434.14" y="2252.00" font-size="27.04" textLength="140.61" lengthAdjust="spacingAndGlyphs" fill="#fff" stroke="#fff" stroke-width="0.55">± SEM (min</text>
<text x="573.50" y="2241.00" font-size="11.63" textLength="10.05" lengthAdjust="spacingAndGlyphs" fill="#fff" stroke="#fff" stroke-width="0.55">-1</text>
<text x="583.87" y="2252.00" font-size="27.04" textLength="7.54" lengthAdjust="spacingAndGlyphs" fill="#fff" stroke="#fff" stroke-width="0.55">)</text>
<text x="83.19" y="2295.10" font-size="27.04" textLength="39.39" lengthAdjust="spacingAndGlyphs" fill="#2c2c7e" stroke="#2c2c7e" stroke-width="0.55">WT</text>
<text x="206.50" y="2295.10" font-size="27.04" textLength="141.91" lengthAdjust="spacingAndGlyphs" fill="#2c2c7e" stroke="#2c2c7e" stroke-width="0.55">0.31 ± 0.029</text>
<text x="418.61" y="2295.10" font-size="27.04" textLength="141.34" lengthAdjust="spacingAndGlyphs" fill="#2c2c7e" stroke="#2c2c7e" stroke-width="0.55">0.39 ± 0.014</text>
<text x="62.45" y="2338.30" font-size="27.04" textLength="78.58" lengthAdjust="spacingAndGlyphs" fill="#2c2c7e" stroke="#2c2c7e" stroke-width="0.55">F291N</text>
<text x="206.50" y="2338.30" font-size="27.04" textLength="141.81" lengthAdjust="spacingAndGlyphs" fill="#2c2c7e" stroke="#2c2c7e" stroke-width="0.55">0.25 ± 0.018</text>
<text x="418.35" y="2338.30" font-size="27.04" textLength="141.92" lengthAdjust="spacingAndGlyphs" fill="#2c2c7e" stroke="#2c2c7e" stroke-width="0.55">1.33 ± 0.035</text>
<text x="63.39" y="2380.30" font-size="27.04" textLength="79.26" lengthAdjust="spacingAndGlyphs" fill="#2c2c7e" stroke="#2c2c7e" stroke-width="0.55">Q297A</text>
<text x="206.50" y="2380.30" font-size="27.04" textLength="141.77" lengthAdjust="spacingAndGlyphs" fill="#2c2c7e" stroke="#2c2c7e" stroke-width="0.55">0.68 ± 0.095</text>
<text x="404.30" y="2380.30" font-size="27.04" textLength="169.92" lengthAdjust="spacingAndGlyphs" fill="#2c2c7e" stroke="#2c2c7e" stroke-width="0.55">0.062 ± 0.0043</text>
<text x="64.03" y="2421.60" font-size="27.04" textLength="78.77" lengthAdjust="spacingAndGlyphs" fill="#2c2c7e" stroke="#2c2c7e" stroke-width="0.55">Y465N</text>
<text x="206.50" y="2421.60" font-size="27.04" textLength="141.69" lengthAdjust="spacingAndGlyphs" fill="#2c2c7e" stroke="#2c2c7e" stroke-width="0.55">0.46 ± 0.030</text>
<text x="391.21" y="2421.60" font-size="27.04" textLength="197.29" lengthAdjust="spacingAndGlyphs" fill="#2c2c7e" stroke="#2c2c7e" stroke-width="0.55">0.0062 ± 0.00018</text>
<line x1="1232.00" y1="1391.05" x2="1232.00" y2="1895.35" stroke="#000" stroke-width="2.3"/>
<line x1="1232.00" y1="1693.40" x2="1721.00" y2="1693.40" stroke="#000" stroke-width="2.3"/>
<line x1="1223.00" y1="1392.20" x2="1232.00" y2="1392.20" stroke="#000" stroke-width="2.3"/>
<text x="1145.67" y="1400.65" font-size="24.56" textLength="66.26" lengthAdjust="spacingAndGlyphs" fill="#231f20" stroke="#231f20" stroke-width="0.55">15000</text>
<line x1="1223.00" y1="1492.60" x2="1232.00" y2="1492.60" stroke="#000" stroke-width="2.3"/>
<text x="1145.67" y="1501.05" font-size="24.56" textLength="66.26" lengthAdjust="spacingAndGlyphs" fill="#231f20" stroke="#231f20" stroke-width="0.55">10000</text>
<line x1="1223.00" y1="1593.00" x2="1232.00" y2="1593.00" stroke="#000" stroke-width="2.3"/>
<text x="1158.92" y="1601.45" font-size="24.56" textLength="53.01" lengthAdjust="spacingAndGlyphs" fill="#231f20" stroke="#231f20" stroke-width="0.55">5000</text>
<line x1="1223.00" y1="1693.40" x2="1232.00" y2="1693.40" stroke="#000" stroke-width="2.3"/>
<text x="1198.68" y="1701.85" font-size="24.56" textLength="13.25" lengthAdjust="spacingAndGlyphs" fill="#231f20" stroke="#231f20" stroke-width="0.55">0</text>
<line x1="1223.00" y1="1793.80" x2="1232.00" y2="1793.80" stroke="#000" stroke-width="2.3"/>
<text x="1150.99" y="1802.25" font-size="24.56" textLength="60.94" lengthAdjust="spacingAndGlyphs" fill="#231f20" stroke="#231f20" stroke-width="0.55">-5000</text>
<line x1="1223.00" y1="1894.20" x2="1232.00" y2="1894.20" stroke="#000" stroke-width="2.3"/>
<text x="1137.74" y="1902.65" font-size="24.56" textLength="74.19" lengthAdjust="spacingAndGlyphs" fill="#231f20" stroke="#231f20" stroke-width="0.55">-10000</text>
<line x1="1320.40" y1="1693.40" x2="1320.40" y2="1702.40" stroke="#000" stroke-width="2.3"/>
<text x="1301.39" y="1726.60" font-size="24.56" textLength="39.76" lengthAdjust="spacingAndGlyphs" fill="#231f20" stroke="#231f20" stroke-width="0.55">200</text>
<line x1="1480.40" y1="1693.40" x2="1480.40" y2="1702.40" stroke="#000" stroke-width="2.3"/>
<text x="1461.39" y="1726.60" font-size="24.56" textLength="39.76" lengthAdjust="spacingAndGlyphs" fill="#231f20" stroke="#231f20" stroke-width="0.55">220</text>
<line x1="1640.40" y1="1693.40" x2="1640.40" y2="1702.40" stroke="#000" stroke-width="2.3"/>
<text x="1621.39" y="1726.60" font-size="24.56" textLength="39.76" lengthAdjust="spacingAndGlyphs" fill="#231f20" stroke="#231f20" stroke-width="0.55">240</text>
<text x="1425.14" y="1762.40" font-size="24.71" textLength="68.36" lengthAdjust="spacingAndGlyphs" fill="#231f20" stroke="#231f20" stroke-width="0.55">λ (nm)</text>
<g transform="rotate(-90)"><text x="-1866.04" y="1102.30" font-size="26.89" textLength="342.19" lengthAdjust="spacingAndGlyphs" fill="#231f20" stroke="#231f20" stroke-width="0.55">Mean Residue Ellipticity (deg cm</text></g>
<g transform="rotate(-90)"><text x="-1521.25" y="1094.00" font-size="11.34" textLength="8.30" lengthAdjust="spacingAndGlyphs" fill="#231f20" stroke="#231f20" stroke-width="0.55">2</text></g>
<g transform="rotate(-90)"><text x="-1511.78" y="1102.30" font-size="26.89" textLength="55.91" lengthAdjust="spacingAndGlyphs" fill="#231f20" stroke="#231f20" stroke-width="0.55">dmol</text></g>
<g transform="rotate(-90)"><text x="-1457.39" y="1094.50" font-size="14.10" textLength="15.86" lengthAdjust="spacingAndGlyphs" fill="#231f20" stroke="#231f20" stroke-width="0.55">-1</text></g>
<g transform="rotate(-90)"><text x="-1441.65" y="1102.30" font-size="26.89" textLength="8.67" lengthAdjust="spacingAndGlyphs" fill="#231f20" stroke="#231f20" stroke-width="0.55">)</text></g>
<path d="M1232.4 1548.8l2-9.6 2-9.2 2-8.9 2-8.4 2-8.4 2-8.2 2-7.4 2-6.1 2-5 2-4.4 2-3.7 2-3 2-2.6 2-2.3 2-1.9 2-1.2 2-0.9 2-0.8 2-0.5 2-0.2 2 0.4 2 1 2 1.4 2 1.6 2 2.1 2 3 2 3.4 2 3.5 2 3.6 2 3.8 2 4.1 2 4.6 2 5.3 2 6 2 6.3 2 6.5 2 6.4 2 6.5 2 6.8 2 7.4 2 8.1 2 8.8 2 9.1 2 9.1 2 9.2 2 9.3 2 9.3 2 9.4 2 9.3 2 9.4 2 9.3 2 9.1 2 9.1 2 9.1 2 8.8 2 8.2 2 7.4 2 7 2 6.8 2 6.8 2 6.5 2 6.5 2 6.5 2 6.6 2 6.8 2 7 2 7 2 7 2 6.9 2 6.7 2 6.7 2 6.7 2 6.8 2 6.5 2 6.1 2 5.6 2 5 2 4.8 2 4.7 2 4.3 2 3.9 2 3.1 2 2.3 2 1.9 2 1.8 2 1.6 2 1.4 2 1.2 2 1.1 2 0.9 2 0.6 2 0.6 2 0.4 2 0.5 2 0.4 2 0.3 2 0.4 2 0.3 2 0.2 2 0.3 2 0.2 2 0.2 2 0.2 2 0.2 2 0.1 2 0.2 2 0.2 2 0.1 2 0.2 2 0.1 2 0.2 2 0.1 2 0 2 0.1 2 0.1 2 0 2 0 2 0 2-0.1 2 0 2 0 2 0 2-0.1 2 0 2-0.1 2 0 2-0.1 2 0 2-0.1 2-0.3 2-0.3 2-0.3 2-0.5 2-0.5 2-0.5 2-0.5 2-0.7 2-0.9 2-1.1 2-1.2 2-1.3 2-1.4 2-1.5 2-1.4 2-1.4 2-1.5 2-1.6 2-1.7 2-1.7 2-1.7 2-1.9 2-1.8 2-2 2-1.9 2-2 2-2.1 2-2.2 2-2.3 2-2.4 2-2.5 2-2.5 2-2.5 2-2.5 2-2.6 2-2.5 2-2.4 2-2.5 2-2.6 2-2.5 2-2.6 2-2.5 2-2.5 2-2.6 2-2.4 2-2.5 2-2.4 2-2.4 2-2.4 2-2.4 2-2.3 2-2.4 2-2.3 2-2.2 2-2.3 2-2.2 2-2.1 2-2.2 2-2.1 2-2.1 2-2.1 2-2.1 2-2 2-1.9 2-1.9 2-1.8 2-1.7 2-1.7 2-1.6 2-1.6 2-1.6 2-1.6 2-1.4 2-1.5 2-1.4 2-1.3 2-1.3 2-1.2 2-1.2 2-1.1 2-1.1 2-1.1 2-1.1 2-1 2-1 2-0.9 2-0.9 2-0.8 2-0.8 2-0.7 2-0.5 2-0.6 2-0.5 2-0.5 2-0.5 2-0.5 2-0.4 2-0.4 2-0.4 2-0.3 2-0.3 2-0.3 2-0.2 2-0.2 2-0.1 2-0.2 2-0.1 2-0.1 2-0.1 2-0.2 2-0.1 2 0 2-0.1 2-0.1 2 0 2-0.1 2 0" fill="none" stroke="#3b5fb2" stroke-width="2.0" stroke-linejoin="round" stroke-linecap="round"/>
<path d="M1232.4 1548.8h0M1240.4 1512.7h0M1248.4 1482.6h0M1256.4 1466.5h0M1264.4 1458.5h0M1272.4 1456.1h0M1280.4 1460.5h0M1288.4 1472.5h0M1296.4 1488.6h0M1304.4 1512.7h0M1312.4 1539.8h0M1320.4 1574.9h0M1328.4 1612.1h0M1336.4 1649.2h0M1344.4 1684.4h0M1352.4 1712.4h0M1360.4 1738.5h0M1368.4 1766.3h0M1376.4 1793.3h0M1384.4 1818.3h0M1392.4 1837.1h0M1400.4 1848.3h0M1408.4 1854.3h0M1416.4 1857.5h0M1424.4 1859.1h0M1432.4 1860.3h0M1440.4 1861.1h0M1448.4 1861.7h0M1456.4 1862.3h0M1464.4 1862.5h0M1472.4 1862.4h0M1480.4 1862.3h0M1488.4 1862.1h0M1496.4 1861.1h0M1504.4 1859.1h0M1512.4 1855.2h0M1520.4 1849.6h0M1528.4 1843.4h0M1536.4 1836.3h0M1544.4 1828.3h0M1552.4 1818.9h0M1560.4 1808.8h0M1568.4 1798.8h0M1576.4 1788.7h0M1584.4 1778.8h0M1592.4 1769.3h0M1600.4 1760.1h0M1608.4 1751.5h0M1616.4 1743.2h0M1624.4 1735.9h0M1632.4 1729.4h0M1640.4 1723.5h0M1648.4 1718.5h0M1656.4 1714.1h0M1664.4 1710.3h0M1672.4 1707.5h0M1680.4 1705.4h0M1688.4 1703.7h0M1696.4 1702.6h0M1704.4 1702.0h0M1712.4 1701.5h0M1720.4 1701.3h0" stroke="#3b5fb2" stroke-width="3.4" stroke-linecap="round" fill="none"/>
<path d="M1232.4 1544.6l2-10.5 2-10 2-9.5 2-8.9 2-8.7 2-8.4 2-7.7 2-6.4 2-5.4 2-4.9 2-4.1 2-3.2 2-2.8 2-2.6 2-1.9 2-0.7 2 0 2 0.2 2 0.2 2 0.2 2 0.9 2 1.7 2 2.2 2 2.6 2 3.2 2 4.2 2 4.7 2 4.5 2 4.2 2 4.2 2 4.5 2 5 2 6.1 2 6.9 2 7.3 2 7 2 6.4 2 6.1 2 6.3 2 6.9 2 8 2 8.7 2 9.2 2 9 2 9 2 9 2 9.1 2 9.1 2 9.1 2 9.1 2 9.1 2 8.9 2 8.7 2 8.6 2 8.4 2 8.2 2 7.9 2 7.7 2 7.2 2 6.8 2 6.5 2 6.4 2 6.4 2 6.7 2 6.9 2 7 2 7 2 6.9 2 6.9 2 6.7 2 6.6 2 6.7 2 6.6 2 6.3 2 6 2 5.5 2 5.2 2 5.1 2 4.9 2 4.5 2 4.1 2 3.4 2 2.8 2 2.7 2 2.4 2 2.3 2 2.1 2 1.8 2 1.7 2 1.4 2 1.1 2 1 2 0.9 2 0.9 2 0.8 2 0.8 2 0.8 2 0.6 2 0.6 2 0.5 2 0.4 2 0.4 2 0.2 2 0.1 2 0 2 0.1 2 0 2 0.1 2 0 2 0 2 0.1 2 0 2 0 2 0 2 0 2 0 2 0 2-0.1 2-0.1 2-0.1 2-0.2 2-0.2 2-0.2 2-0.3 2-0.3 2-0.3 2-0.2 2-0.4 2-0.5 2-0.6 2-0.7 2-0.8 2-0.8 2-0.9 2-1 2-1 2-1 2-1 2-1.1 2-1 2-1.1 2-1.2 2-1.2 2-1.3 2-1.4 2-1.4 2-1.5 2-1.5 2-1.6 2-1.6 2-1.7 2-1.7 2-1.7 2-1.9 2-1.9 2-2 2-2.1 2-2.1 2-2.2 2-2.2 2-2.3 2-2.5 2-2.6 2-2.6 2-2.8 2-2.8 2-2.8 2-2.8 2-2.7 2-2.7 2-2.7 2-2.6 2-2.7 2-2.6 2-2.7 2-2.6 2-2.6 2-2.6 2-2.5 2-2.5 2-2.5 2-2.5 2-2.5 2-2.5 2-2.4 2-2.4 2-2.3 2-2.2 2-2.2 2-2.2 2-2.1 2-2.1 2-2.1 2-2 2-1.9 2-1.9 2-1.8 2-1.7 2-1.7 2-1.5 2-1.6 2-1.5 2-1.4 2-1.4 2-1.4 2-1.3 2-1.3 2-1.3 2-1.2 2-1.2 2-1.2 2-1.2 2-1.1 2-1.2 2-1.1 2-1.1 2-1.1 2-1 2-0.9 2-0.9 2-0.8 2-0.6 2-0.6 2-0.6 2-0.5 2-0.5 2-0.5 2-0.5 2-0.4 2-0.4 2-0.3 2-0.2 2-0.2 2-0.2 2-0.1 2-0.1 2-0.2 2-0.1 2-0.1 2-0.1 2-0.1 2 0 2-0.1 2 0 2-0.1 2 0" fill="none" stroke="#d2453a" stroke-width="2.0" stroke-linejoin="round" stroke-linecap="round"/>
<path d="M1232.4 1544.6h0M1240.4 1505.7h0M1248.4 1474.5h0M1256.4 1456.9h0M1264.4 1448.9h0M1272.4 1449.5h0M1280.4 1456.9h0M1288.4 1473.5h0M1296.4 1491.4h0M1304.4 1518.7h0M1312.4 1544.4h0M1320.4 1579.3h0M1328.4 1615.5h0M1336.4 1651.7h0M1344.4 1685.6h0M1352.4 1715.2h0M1360.4 1741.2h0M1368.4 1769.0h0M1376.4 1795.9h0M1384.4 1820.3h0M1392.4 1840.0h0M1400.4 1853.0h0M1408.4 1861.6h0M1416.4 1866.8h0M1424.4 1870.2h0M1432.4 1872.7h0M1440.4 1873.8h0M1448.4 1874.0h0M1456.4 1874.1h0M1464.4 1874.1h0M1472.4 1873.8h0M1480.4 1872.9h0M1488.4 1871.7h0M1496.4 1869.1h0M1504.4 1865.4h0M1512.4 1861.3h0M1520.4 1856.5h0M1528.4 1850.7h0M1536.4 1844.1h0M1544.4 1836.6h0M1552.4 1828.0h0M1560.4 1818.0h0M1568.4 1806.8h0M1576.4 1796.1h0M1584.4 1785.5h0M1592.4 1775.3h0M1600.4 1765.3h0M1608.4 1756.0h0M1616.4 1747.4h0M1624.4 1739.5h0M1632.4 1732.8h0M1640.4 1726.9h0M1648.4 1721.6h0M1656.4 1716.8h0M1664.4 1712.3h0M1672.4 1708.4h0M1680.4 1705.8h0M1688.4 1703.8h0M1696.4 1702.5h0M1704.4 1701.9h0M1712.4 1701.4h0M1720.4 1701.2h0" stroke="#d2453a" stroke-width="3.4" stroke-linecap="round" fill="none"/>
<path d="M1232.4 1519.9l2-5.1 2-4.7 2-4.2 2-3.7 2-3.1 2-2.9 2-2.5 2-2.1 2-1.8 2-1.6 2-1.3 2-0.9 2-0.8 2-0.6 2-0.5 2-0.2 2 0.3 2 0.6 2 1 2 1 2 1.3 2 1.7 2 2 2 2.2 2 2.5 2 2.9 2 3.2 2 3.5 2 3.6 2 3.9 2 4.2 2 4.5 2 4.9 2 5.4 2 5.6 2 6 2 6.4 2 6.8 2 7.1 2 7 2 7 2 7.1 2 7.2 2 7.2 2 7.5 2 7.5 2 7.6 2 7.3 2 7.1 2 7 2 6.9 2 6.9 2 6.8 2 6.7 2 7 2 7.5 2 8.7 2 9.1 2 8.1 2 7.3 2 7.1 2 6.8 2 7 2 7.1 2 7.1 2 7 2 6.9 2 6.8 2 6.5 2 6.4 2 6.3 2 6.3 2 6 2 5.7 2 5.3 2 4.9 2 4.9 2 4.7 2 4.5 2 4 2 3.3 2 2.4 2 1.8 2 1.7 2 1.6 2 1.4 2 1.2 2 1.1 2 0.9 2 0.7 2 0.6 2 0.4 2 0.3 2 0.4 2 0.3 2 0.3 2 0.3 2 0.2 2 0.2 2 0.2 2 0.2 2 0.1 2 0.1 2 0.1 2 0 2 0.1 2 0 2 0.1 2 0 2 0 2 0 2 0.1 2 0 2 0 2 0 2 0.1 2 0 2 0 2 0 2 0.1 2 0 2 0 2 0 2 0 2 0 2 0.1 2 0 2 0 2-0.1 2-0.2 2-0.4 2-0.5 2-0.5 2-0.6 2-0.7 2-0.6 2-0.8 2-1 2-1.2 2-1.3 2-1.3 2-1.5 2-1.5 2-1.5 2-1.5 2-1.6 2-1.7 2-1.7 2-1.8 2-1.9 2-1.9 2-2 2-2 2-2.1 2-2.2 2-2.3 2-2.4 2-2.5 2-2.6 2-2.6 2-2.6 2-2.6 2-2.6 2-2.6 2-2.4 2-2.5 2-2.5 2-2.5 2-2.5 2-2.4 2-2.5 2-2.4 2-2.4 2-2.4 2-2.4 2-2.3 2-2.4 2-2.3 2-2.3 2-2.3 2-2.2 2-2.3 2-2.2 2-2.1 2-2.1 2-2.1 2-2.1 2-2.1 2-2.1 2-2 2-1.9 2-1.9 2-1.8 2-1.8 2-1.6 2-1.6 2-1.6 2-1.6 2-1.5 2-1.5 2-1.4 2-1.4 2-1.3 2-1.3 2-1.2 2-1.2 2-1.1 2-1 2-1.1 2-1 2-1 2-0.9 2-1 2-0.8 2-0.9 2-0.8 2-0.7 2-0.7 2-0.6 2-0.5 2-0.6 2-0.5 2-0.4 2-0.5 2-0.4 2-0.5 2-0.3 2-0.4 2-0.3 2-0.3 2-0.3 2-0.2 2-0.2 2-0.1 2-0.2 2-0.1 2-0.1 2-0.1 2-0.2 2-0.1 2 0 2-0.1 2-0.1 2 0 2-0.1 2 0" fill="none" stroke="#e8924a" stroke-width="2.0" stroke-linejoin="round" stroke-linecap="round"/>
<path d="M1232.4 1519.9h0M1240.4 1502.2h0M1248.4 1491.6h0M1256.4 1486.0h0M1264.4 1483.9h0M1272.4 1486.8h0M1280.4 1494.0h0M1288.4 1506.1h0M1296.4 1522.3h0M1304.4 1544.2h0M1312.4 1571.5h0M1320.4 1600.0h0M1328.4 1629.9h0M1336.4 1657.8h0M1344.4 1685.8h0M1352.4 1719.0h0M1360.4 1747.0h0M1368.4 1774.8h0M1376.4 1800.3h0M1384.4 1822.2h0M1392.4 1840.3h0M1400.4 1849.5h0M1408.4 1854.8h0M1416.4 1857.4h0M1424.4 1858.7h0M1432.4 1859.6h0M1440.4 1860.1h0M1448.4 1860.3h0M1456.4 1860.4h0M1464.4 1860.5h0M1472.4 1860.6h0M1480.4 1860.6h0M1488.4 1860.7h0M1496.4 1859.5h0M1504.4 1857.1h0M1512.4 1852.8h0M1520.4 1847.0h0M1528.4 1840.5h0M1536.4 1832.9h0M1544.4 1824.3h0M1552.4 1814.2h0M1560.4 1803.8h0M1568.4 1793.9h0M1576.4 1784.1h0M1584.4 1774.6h0M1592.4 1765.3h0M1600.4 1756.5h0M1608.4 1748.1h0M1616.4 1740.2h0M1624.4 1733.4h0M1632.4 1727.2h0M1640.4 1721.8h0M1648.4 1717.3h0M1656.4 1713.3h0M1664.4 1709.8h0M1672.4 1707.3h0M1680.4 1705.3h0M1688.4 1703.7h0M1696.4 1702.6h0M1704.4 1702.0h0M1712.4 1701.5h0M1720.4 1701.3h0" stroke="#e8924a" stroke-width="3.4" stroke-linecap="round" fill="none"/>
<path d="M1232.4 1503.5l2-4 2-3.5 2-3 2-2.4 2-1.8 2-1.5 2-1.3 2-1.2 2-1.5 2-1.4 2-1.2 2-0.5 2 0.1 2 0.2 2 0.3 2 0.4 2 0.7 2 1.2 2 1.4 2 1.5 2 1.6 2 1.8 2 2.1 2 2.3 2 2.6 2 3 2 3.2 2 3.5 2 3.6 2 3.9 2 4.2 2 4.5 2 4.9 2 5.4 2 5.6 2 6 2 6.4 2 6.8 2 7.1 2 7 2 7 2 7.1 2 7.2 2 7.2 2 7.5 2 7.5 2 7.6 2 7.3 2 7.1 2 7 2 6.9 2 6.9 2 6.9 2 6.9 2 7 2 7.2 2 7.5 2 7.7 2 7.4 2 7 2 6.8 2 6.6 2 6.7 2 6.8 2 7.1 2 7.1 2 7.1 2 7 2 6.7 2 6.5 2 6.3 2 6.5 2 6.2 2 5.8 2 5.1 2 4.2 2 3.5 2 3.2 2 3 2 2.6 2 2.1 2 1.7 2 1.2 2 1 2 0.8 2 0.8 2 0.6 2 0.5 2 0.4 2 0.3 2 0.3 2 0.3 2 0.3 2 0.2 2 0.2 2 0.2 2 0.2 2 0.2 2 0.1 2 0.2 2 0.1 2 0.2 2 0.1 2 0.2 2 0.2 2 0.1 2 0.2 2 0.1 2 0.1 2 0.2 2 0.1 2 0.1 2 0.2 2 0.1 2 0.1 2 0.1 2 0.1 2 0.1 2 0.1 2 0.1 2 0.1 2 0.1 2 0.1 2 0.1 2 0.1 2 0 2 0 2-0.1 2-0.2 2-0.2 2-0.4 2-0.3 2-0.5 2-0.4 2-0.5 2-0.6 2-0.7 2-0.9 2-1 2-1 2-1.2 2-1.1 2-1.2 2-1.2 2-1.2 2-1.3 2-1.3 2-1.4 2-1.5 2-1.5 2-1.6 2-1.5 2-1.7 2-1.6 2-1.7 2-1.7 2-1.7 2-1.8 2-1.8 2-1.9 2-2 2-1.9 2-2 2-2.1 2-2 2-2.1 2-2 2-2.1 2-2.1 2-2.1 2-2.2 2-2.2 2-2.2 2-2.2 2-2.2 2-2.1 2-2.2 2-2.1 2-2.2 2-2.2 2-2.2 2-2.2 2-2.1 2-2.1 2-2.1 2-2 2-1.9 2-1.9 2-1.8 2-1.8 2-1.8 2-1.8 2-1.7 2-1.6 2-1.7 2-1.6 2-1.5 2-1.5 2-1.4 2-1.4 2-1.4 2-1.4 2-1.3 2-1.3 2-1.3 2-1.2 2-1.2 2-1.2 2-1.1 2-1.1 2-1 2-1 2-1 2-1 2-0.9 2-1 2-0.8 2-0.9 2-0.8 2-0.7 2-0.7 2-0.6 2-0.6 2-0.5 2-0.6 2-0.5 2-0.5 2-0.5 2-0.4 2-0.3 2-0.4 2-0.2 2-0.2 2-0.2 2-0.1 2-0.1 2-0.2 2-0.1 2-0.1 2-0.1 2-0.1 2 0 2-0.1 2 0 2-0.1 2 0" fill="none" stroke="#4aa84d" stroke-width="2.0" stroke-linejoin="round" stroke-linecap="round"/>
<path d="M1232.4 1503.5h0M1240.4 1490.6h0M1248.4 1484.8h0M1256.4 1480.2h0M1264.4 1481.2h0M1272.4 1486.0h0M1280.4 1493.8h0M1288.4 1506.1h0M1296.4 1522.3h0M1304.4 1544.2h0M1312.4 1571.5h0M1320.4 1600.0h0M1328.4 1629.9h0M1336.4 1657.8h0M1344.4 1685.8h0M1352.4 1715.4h0M1360.4 1742.3h0M1368.4 1770.6h0M1376.4 1796.6h0M1384.4 1817.9h0M1392.4 1830.2h0M1400.4 1836.2h0M1408.4 1838.9h0M1416.4 1840.2h0M1424.4 1841.1h0M1432.4 1841.8h0M1440.4 1842.4h0M1448.4 1843.0h0M1456.4 1843.5h0M1464.4 1844.0h0M1472.4 1844.4h0M1480.4 1844.8h0M1488.4 1844.8h0M1496.4 1843.7h0M1504.4 1841.7h0M1512.4 1838.1h0M1520.4 1833.4h0M1528.4 1828.2h0M1536.4 1822.1h0M1544.4 1815.4h0M1552.4 1808.2h0M1560.4 1800.2h0M1568.4 1792.0h0M1576.4 1783.4h0M1584.4 1774.7h0M1592.4 1766.0h0M1600.4 1757.4h0M1608.4 1749.5h0M1616.4 1742.3h0M1624.4 1735.7h0M1632.4 1729.9h0M1640.4 1724.5h0M1648.4 1719.6h0M1656.4 1715.4h0M1664.4 1711.5h0M1672.4 1708.3h0M1680.4 1705.9h0M1688.4 1703.8h0M1696.4 1702.5h0M1704.4 1701.9h0M1712.4 1701.4h0M1720.4 1701.2h0" stroke="#4aa84d" stroke-width="3.4" stroke-linecap="round" fill="none"/>
<text x="1563.12" y="1406.00" font-size="24.56" textLength="56.98" lengthAdjust="spacingAndGlyphs" fill="#231f20" stroke="#231f20" stroke-width="0.55">USP7</text>
<text x="1619.42" y="1414.70" font-size="12.65" textLength="19.32" lengthAdjust="spacingAndGlyphs" fill="#231f20" stroke="#231f20" stroke-width="0.55">CD</text>
<line x1="1557.40" y1="1436.70" x2="1593.60" y2="1436.70" stroke="#d2453a" stroke-width="1.8"/>
<circle cx="1575.4" cy="1436.7" r="1.9" fill="#d2453a"/>
<text x="1613.10" y="1445.20" font-size="25.15" textLength="35.32" lengthAdjust="spacingAndGlyphs" fill="#231f20" stroke="#231f20" stroke-width="0.55">WT</text>
<line x1="1557.40" y1="1482.20" x2="1593.60" y2="1482.20" stroke="#e8924a" stroke-width="1.8"/>
<circle cx="1575.4" cy="1482.2" r="1.9" fill="#e8924a"/>
<text x="1611.27" y="1490.70" font-size="25.15" textLength="70.65" lengthAdjust="spacingAndGlyphs" fill="#231f20" stroke="#231f20" stroke-width="0.55">F291N</text>
<line x1="1557.40" y1="1527.70" x2="1593.60" y2="1527.70" stroke="#4aa84d" stroke-width="1.8"/>
<circle cx="1575.4" cy="1527.7" r="1.9" fill="#4aa84d"/>
<text x="1612.40" y="1536.20" font-size="25.15" textLength="72.55" lengthAdjust="spacingAndGlyphs" fill="#231f20" stroke="#231f20" stroke-width="0.55">Q297A</text>
<line x1="1557.40" y1="1573.20" x2="1593.60" y2="1573.20" stroke="#3b5fb2" stroke-width="1.8"/>
<circle cx="1575.4" cy="1573.2" r="1.9" fill="#3b5fb2"/>
<text x="1613.60" y="1581.70" font-size="25.15" textLength="69.87" lengthAdjust="spacingAndGlyphs" fill="#231f20" stroke="#231f20" stroke-width="0.55">Y465N</text>
<defs>
<linearGradient id="gTan" x1="0" y1="0" x2="1" y2="0"><stop offset="0" stop-color="#d4ae86"/><stop offset="0.42" stop-color="#f1dcc0"/><stop offset="0.55" stop-color="#fcf3e6"/><stop offset="1" stop-color="#d8b48d"/></linearGradient>
<linearGradient id="gTeal" x1="0" y1="0" x2="1" y2="0"><stop offset="0" stop-color="#2f9597"/><stop offset="0.5" stop-color="#5bbcbd"/><stop offset="1" stop-color="#2e9092"/></linearGradient>
</defs>
<path d="M1304 2565.9 1304.3 2563.1 1304.7 2559.3 1305.1 2554.8 1305.6 2549.9 1306.2 2544.8 1306.8 2539.8 1307.4 2535.2 1307.9 2531.2 1308.5 2527.6 1309.2 2524 1309.9 2520.4 1310.6 2517 1311.3 2513.8 1311.9 2511 1312.4 2508.6 1312.8 2506.7 1297.2 2503.3 1296.8 2505.2 1296.3 2507.5 1295.6 2510.4 1294.9 2513.6 1294.2 2517.2 1293.4 2521 1292.7 2524.9 1292.1 2528.8 1291.5 2533.1 1290.9 2537.9 1290.3 2543 1289.7 2548.2 1289.2 2553.2 1288.7 2557.6 1288.3 2561.4 1288 2564.1Z" fill="#a9c6e7" opacity="0.7"/>
<path d="M1337.2 2603.5 1338.4 2601.1 1339.9 2597.9 1341.7 2594.1 1343.8 2589.9 1345.9 2585.5 1348 2581.3 1350.1 2577.4 1351.9 2574 1353.8 2570.9 1355.8 2567.8 1357.9 2564.7 1360 2561.8 1362 2559 1363.8 2556.5 1365.3 2554.3 1366.5 2552.6 1353.5 2543.4 1352.3 2545 1350.8 2547.1 1349 2549.6 1346.9 2552.5 1344.7 2555.7 1342.4 2559 1340.2 2562.5 1338.1 2566 1336 2569.8 1333.8 2574 1331.6 2578.4 1329.4 2582.9 1327.3 2587.1 1325.5 2591 1324 2594.2 1322.8 2596.5Z" fill="#a9c6e7" opacity="0.7"/>
<path d="M1347.2 2472 1348.1 2468.8 1349.3 2464.5 1350.6 2459.4 1352.1 2453.9 1353.7 2448.1 1355.4 2442.5 1357.2 2437.3 1358.9 2433 1360.8 2428.9 1363 2424.8 1365.5 2420.6 1368.1 2416.6 1370.6 2412.8 1372.9 2409.3 1374.8 2406.4 1376.3 2404 1363.7 2396 1362.3 2398.1 1360.4 2401 1358.1 2404.5 1355.4 2408.4 1352.7 2412.8 1350 2417.4 1347.4 2422.2 1345.1 2427 1343.1 2432.2 1341.2 2437.9 1339.3 2443.9 1337.6 2449.9 1336.1 2455.6 1334.8 2460.7 1333.6 2464.9 1332.8 2468Z" fill="#a9c6e7" opacity="0.55"/>
<path d="M1437.8 2393 1436.8 2396.5 1435.5 2401.3 1433.9 2407 1432.2 2413.3 1430.3 2419.8 1428.4 2426.3 1426.6 2432.3 1424.9 2437.6 1423.2 2442.5 1421.2 2447.6 1419.3 2452.6 1417.3 2457.4 1415.4 2462 1413.6 2466 1412.2 2469.5 1411.1 2472.1 1424.9 2477.9 1426 2475.3 1427.4 2471.9 1429.2 2467.8 1431.1 2463.2 1433.2 2458.2 1435.2 2453 1437.2 2447.7 1439.1 2442.4 1440.9 2436.8 1442.8 2430.5 1444.7 2423.9 1446.6 2417.3 1448.4 2411 1449.9 2405.3 1451.2 2400.5 1452.2 2397Z" fill="#a9c6e7" opacity="0.5"/>
<path d="M1384.5 2550.8 1385.4 2553.3 1386.6 2556.6 1388.1 2560.6 1389.8 2565.2 1391.6 2570 1393.6 2574.8 1395.8 2579.6 1398 2584 1400.6 2588.1 1403.5 2592.3 1406.6 2596.3 1409.6 2600.1 1412.5 2603.6 1415.1 2606.6 1417.3 2609.1 1418.8 2611 1431.2 2601 1429.6 2598.9 1427.3 2596.3 1424.8 2593.3 1422 2589.9 1419.2 2586.4 1416.4 2582.8 1414 2579.3 1412 2576 1410.1 2572.6 1408.3 2568.5 1406.5 2564.1 1404.7 2559.6 1403.1 2555.2 1401.7 2551.2 1400.5 2547.7 1399.5 2545.2Z" fill="#a9c6e7" opacity="0.6"/>
<path d="M1463.1 2538.6 1462.5 2541.7 1461.7 2545.8 1460.7 2550.7 1459.6 2556.1 1458.4 2561.9 1457.3 2567.7 1456.1 2573.4 1455.1 2578.7 1454.1 2584 1453.1 2589.7 1452.1 2595.6 1451.1 2601.3 1450.2 2606.7 1449.3 2611.6 1448.6 2615.7 1448.1 2618.8 1461.9 2621.2 1462.4 2618.1 1463.1 2614 1464 2609.1 1464.9 2603.7 1465.9 2598 1466.9 2592.2 1467.9 2586.5 1468.9 2581.3 1469.9 2576.1 1471 2570.4 1472.1 2564.6 1473.3 2558.9 1474.4 2553.5 1475.4 2548.6 1476.2 2544.5 1476.9 2541.4Z" fill="#a9c6e7" opacity="0.5"/>
<path d="M1294 2613.6 1295.4 2616 1297.3 2619.2 1299.5 2623.2 1302.1 2627.7 1305 2632.3 1308.2 2637 1311.6 2641.3 1315.3 2645.2 1319.5 2648.5 1324.1 2651.3 1328.8 2653.7 1333.5 2655.8 1337.9 2657.6 1341.8 2659.2 1344.9 2660.4 1347.2 2661.4 1352.8 2648.6 1350.3 2647.5 1347 2646.1 1343.1 2644.6 1339 2643 1334.9 2641.1 1330.9 2639.1 1327.4 2636.9 1324.7 2634.8 1322.2 2632.2 1319.5 2628.7 1316.8 2624.7 1314.1 2620.5 1311.7 2616.2 1309.5 2612.3 1307.5 2608.9 1306 2606.4Z" fill="#a9c6e7" opacity="0.5"/>
<path d="M1410.9 2448.3 1409.4 2451.2 1407.4 2455.1 1405 2459.7 1402.4 2464.8 1399.6 2470.2 1396.7 2475.7 1393.8 2481.1 1391 2486.1 1388.1 2491.2 1384.8 2496.7 1381.4 2502.5 1375.3 2498.7 1374 2530 1401.2 2514.5 1395.1 2510.7 1398.6 2504.9 1401.9 2499.2 1405 2493.9 1407.8 2488.7 1410.8 2483.2 1413.8 2477.6 1416.6 2472.2 1419.3 2467 1421.6 2462.4 1423.6 2458.6 1425.1 2455.7Z" fill="#6e9fd6" opacity="0.85"/>
<path d="M1479.2 2407.8 1476.5 2412.2 1473 2417.9 1468.8 2424.8 1464.2 2432.5 1459.3 2440.5 1454.3 2448.7 1449.5 2456.6 1445.1 2463.9 1440.8 2471.1 1436.2 2478.8 1431.6 2486.7 1427 2494.4 1420.8 2490.8 1420 2522 1447 2506.2 1440.8 2502.6 1445.3 2494.8 1450 2487 1454.6 2479.3 1458.9 2472.1 1463.2 2464.8 1468 2457 1472.9 2448.8 1477.8 2440.8 1482.5 2433.1 1486.7 2426.3 1490.2 2420.5 1492.8 2416.2Z" fill="#6e9fd6" opacity="0.85"/>
<path d="M1462.5 2397.7 1464.5 2403.3 1467.2 2410.6 1470.4 2419.1 1473.9 2428.6 1477.5 2439 1481.1 2449.8 1484.4 2460.8 1487.2 2471.8 1489.8 2483.9 1492.3 2498 1494.8 2513 1497.2 2528.4 1499.3 2543.1 1501.2 2556.6 1502.8 2567.9 1504.1 2576.2 1519.9 2573.8 1518.7 2565.5 1517.1 2554.3 1515.1 2540.9 1513 2526 1510.6 2510.5 1508.1 2495.2 1505.5 2480.9 1502.8 2468.2 1499.8 2456.5 1496.4 2445 1492.7 2433.8 1489 2423.2 1485.4 2413.5 1482.2 2405 1479.5 2397.8 1477.5 2392.3Z" fill="#6e9fd6" opacity="0.7"/>
<path d="M1432.7 2501.8 1433.9 2506.5 1435.4 2513 1437.2 2520.7 1439.3 2529.3 1441.4 2538.1 1443.6 2546.9 1445.8 2555 1447.8 2562.2 1449.9 2568.6 1452 2574.9 1454.3 2580.9 1456.5 2586.5 1458.5 2591.6 1460.4 2596.1 1461.9 2599.8 1463 2602.7 1477 2597.3 1475.8 2594.3 1474.2 2590.4 1472.4 2586 1470.4 2581 1468.3 2575.6 1466.2 2569.8 1464.1 2563.9 1462.2 2557.8 1460.3 2551.1 1458.2 2543.1 1456 2534.5 1453.9 2525.7 1451.8 2517.2 1450 2509.5 1448.5 2503 1447.3 2498.2Z" fill="#8fb5e0" opacity="0.6"/>
<path d="M1616.8 2322.7 1616.6 2322.4 1616 2322.1 1615.1 2321.7 1613.8 2321.4 1612.2 2321.2 1610.3 2321 1608 2320.9 1605.5 2320.9 1602.8 2320.9 1599.9 2321.1 1596.8 2321.4 1593.6 2321.8 1590.4 2322.4 1587.1 2323.1 1583.8 2323.9 1580.6 2324.8 1577.5 2325.9 1574.6 2327.1 1571.8 2328.4 1569.2 2329.8 1566.9 2331.4 1564.9 2333 1563.2 2334.8 1561.9 2336.6 1560.9 2338.4 1560.2 2340.3 1560 2342.2 1560.7 2322.3 1561 2320.3 1561.6 2318.4 1562.6 2316.6 1564 2314.8 1565.7 2313 1567.7 2311.4 1570 2309.9 1572.6 2308.4 1575.3 2307.1 1578.3 2305.9 1581.4 2304.8 1584.6 2303.9 1587.9 2303.1 1591.2 2302.4 1594.4 2301.8 1597.6 2301.4 1600.7 2301.1 1603.6 2301 1606.3 2300.9 1608.8 2300.9 1611 2301 1613 2301.2 1614.6 2301.5 1615.9 2301.7 1616.8 2302.1 1617.4 2302.4 1617.5 2302.8Z" fill="#d3e8e8" opacity="0.8"/><path d="M1615.1 2366.1 1614.9 2365.7 1614.4 2365.4 1613.4 2365.1 1612.2 2364.8 1610.5 2364.5 1608.6 2364.3 1606.4 2364.2 1603.9 2364.2 1601.2 2364.3 1598.2 2364.5 1595.2 2364.7 1592 2365.2 1588.7 2365.7 1585.4 2366.4 1582.2 2367.2 1579 2368.1 1575.9 2369.2 1572.9 2370.4 1570.1 2371.7 1567.6 2373.2 1565.3 2374.7 1563.3 2376.4 1561.6 2378.1 1560.2 2379.9 1559.2 2381.7 1558.6 2383.7 1558.3 2385.6 1559.1 2365.6 1559.3 2363.7 1560 2361.8 1561 2359.9 1562.3 2358.1 1564 2356.4 1566 2354.7 1568.3 2353.2 1570.9 2351.8 1573.7 2350.4 1576.6 2349.2 1579.7 2348.2 1582.9 2347.2 1586.2 2346.4 1589.5 2345.7 1592.7 2345.2 1595.9 2344.8 1599 2344.5 1601.9 2344.3 1604.6 2344.2 1607.1 2344.2 1609.4 2344.4 1611.3 2344.5 1612.9 2344.8 1614.2 2345.1 1615.1 2345.4 1615.7 2345.7 1615.9 2346.1Z" fill="#d3e8e8" opacity="0.8"/><path d="M1613.4 2409.4 1613.3 2409.1 1612.7 2408.7 1611.8 2408.4 1610.5 2408.1 1608.9 2407.9 1606.9 2407.7 1604.7 2407.6 1602.2 2407.5 1599.5 2407.6 1596.6 2407.8 1593.5 2408.1 1590.3 2408.5 1587.1 2409 1583.8 2409.7 1580.5 2410.5 1577.3 2411.5 1574.2 2412.5 1571.2 2413.8 1568.5 2415.1 1565.9 2416.5 1563.6 2418.1 1561.6 2419.7 1559.9 2421.4 1558.5 2423.2 1557.5 2425.1 1556.9 2427 1556.6 2428.9 1557.4 2408.9 1557.7 2407 1558.3 2405.1 1559.3 2403.2 1560.7 2401.4 1562.4 2399.7 1564.4 2398.1 1566.7 2396.5 1569.2 2395.1 1572 2393.8 1575 2392.6 1578.1 2391.5 1581.3 2390.5 1584.5 2389.7 1587.8 2389.1 1591.1 2388.5 1594.3 2388.1 1597.3 2387.8 1600.3 2387.6 1603 2387.5 1605.5 2387.6 1607.7 2387.7 1609.6 2387.9 1611.3 2388.1 1612.5 2388.4 1613.5 2388.7 1614 2389.1 1614.2 2389.4Z" fill="#d3e8e8" opacity="0.8"/><path d="M1561.6 2298.9 1561.8 2300.9 1562.2 2302.8 1563.1 2304.7 1564.3 2306.6 1565.9 2308.5 1567.8 2310.3 1569.9 2312 1572.4 2313.6 1575 2315.2 1577.9 2316.6 1580.9 2317.9 1584 2319.1 1587.2 2320.1 1590.4 2321.1 1593.6 2321.9 1596.8 2322.5 1599.8 2323.1 1602.7 2323.5 1605.4 2323.7 1607.9 2323.9 1610.2 2324 1612.1 2323.9 1613.7 2323.8 1615 2323.6 1616 2323.4 1616.6 2323.1 1616.8 2322.7 1617.5 2302.8 1617.3 2303.1 1616.8 2303.4 1615.8 2303.6 1614.5 2303.8 1612.9 2303.9 1610.9 2304 1608.7 2303.9 1606.2 2303.8 1603.5 2303.5 1600.6 2303.1 1597.6 2302.5 1594.4 2301.9 1591.2 2301.1 1588 2300.2 1584.8 2299.1 1581.7 2297.9 1578.6 2296.6 1575.8 2295.2 1573.1 2293.6 1570.7 2292 1568.5 2290.3 1566.6 2288.5 1565.1 2286.7 1563.9 2284.8 1563 2282.8 1562.5 2280.9 1562.4 2278.9Z" fill="#b8d9da" opacity="0.8"/><path d="M1560 2342.2 1560.1 2344.2 1560.6 2346.1 1561.4 2348.1 1562.7 2350 1564.2 2351.8 1566.1 2353.6 1568.3 2355.3 1570.7 2357 1573.4 2358.5 1576.2 2359.9 1579.2 2361.2 1582.3 2362.4 1585.5 2363.5 1588.8 2364.4 1592 2365.2 1595.1 2365.9 1598.2 2366.4 1601.1 2366.8 1603.8 2367.1 1606.3 2367.2 1608.5 2367.3 1610.4 2367.3 1612.1 2367.1 1613.4 2366.9 1614.3 2366.7 1614.9 2366.4 1615.1 2366.1 1615.9 2346.1 1615.7 2346.4 1615.1 2346.7 1614.1 2347 1612.8 2347.2 1611.2 2347.3 1609.3 2347.3 1607 2347.3 1604.5 2347.1 1601.8 2346.8 1598.9 2346.4 1595.9 2345.9 1592.7 2345.2 1589.5 2344.4 1586.3 2343.5 1583.1 2342.4 1580 2341.2 1577 2339.9 1574.1 2338.5 1571.5 2337 1569 2335.3 1566.9 2333.6 1565 2331.8 1563.4 2330 1562.2 2328.1 1561.3 2326.2 1560.9 2324.2 1560.7 2322.3Z" fill="#b8d9da" opacity="0.8"/><path d="M1558.3 2385.6 1558.4 2387.5 1558.9 2389.5 1559.8 2391.4 1561 2393.3 1562.5 2395.2 1564.4 2396.9 1566.6 2398.7 1569 2400.3 1571.7 2401.8 1574.5 2403.2 1577.6 2404.6 1580.7 2405.7 1583.9 2406.8 1587.1 2407.7 1590.3 2408.5 1593.5 2409.2 1596.5 2409.7 1599.4 2410.1 1602.1 2410.4 1604.6 2410.6 1606.8 2410.6 1608.8 2410.6 1610.4 2410.5 1611.7 2410.3 1612.6 2410 1613.2 2409.7 1613.4 2409.4 1614.2 2389.4 1614 2389.7 1613.4 2390 1612.5 2390.3 1611.2 2390.5 1609.5 2390.6 1607.6 2390.6 1605.4 2390.6 1602.9 2390.4 1600.2 2390.1 1597.3 2389.7 1594.2 2389.2 1591.1 2388.5 1587.9 2387.7 1584.6 2386.8 1581.5 2385.8 1578.3 2384.6 1575.3 2383.3 1572.5 2381.8 1569.8 2380.3 1567.4 2378.7 1565.2 2377 1563.3 2375.2 1561.8 2373.3 1560.5 2371.4 1559.7 2369.5 1559.2 2367.5 1559.1 2365.6Z" fill="#b8d9da" opacity="0.8"/>
<path d="M1499.5 2449.2 1499.3 2449.1 1498.8 2448.9 1498 2448.8 1496.9 2448.7 1495.5 2448.7 1493.9 2448.7 1492 2448.7 1489.8 2448.8 1487.4 2449 1484.9 2449.2 1482.3 2449.6 1479.5 2450 1476.7 2450.6 1473.8 2451.2 1471 2452 1468.2 2452.9 1465.5 2454 1462.9 2455.1 1460.5 2456.3 1458.2 2457.7 1456.2 2459.1 1454.4 2460.7 1452.9 2462.3 1451.7 2464 1450.7 2465.7 1450.1 2467.5 1449.8 2469.4 1451.1 2452.4 1451.4 2450.6 1452 2448.8 1452.9 2447 1454.2 2445.3 1455.7 2443.7 1457.5 2442.2 1459.5 2440.7 1461.8 2439.4 1464.2 2438.1 1466.8 2437 1469.5 2436 1472.3 2435.1 1475.1 2434.3 1478 2433.6 1480.8 2433.1 1483.6 2432.6 1486.2 2432.3 1488.7 2432 1491.1 2431.8 1493.2 2431.7 1495.2 2431.7 1496.8 2431.7 1498.2 2431.8 1499.3 2431.9 1500.1 2432 1500.6 2432.1 1500.8 2432.2Z" fill="#d2e3ea" opacity="0.75"/><path d="M1495.8 2496.9 1495.7 2496.8 1495.2 2496.7 1494.4 2496.6 1493.3 2496.5 1491.9 2496.4 1490.2 2496.4 1488.3 2496.4 1486.2 2496.5 1483.8 2496.7 1481.3 2496.9 1478.6 2497.3 1475.9 2497.7 1473.1 2498.3 1470.2 2499 1467.4 2499.8 1464.6 2500.7 1461.9 2501.7 1459.3 2502.8 1456.8 2504.1 1454.6 2505.4 1452.6 2506.8 1450.8 2508.4 1449.3 2510 1448 2511.7 1447.1 2513.5 1446.5 2515.3 1446.2 2517.1 1447.4 2500.2 1447.7 2498.3 1448.4 2496.5 1449.3 2494.7 1450.5 2493.1 1452.1 2491.4 1453.9 2489.9 1455.9 2488.4 1458.1 2487.1 1460.6 2485.9 1463.2 2484.7 1465.9 2483.7 1468.7 2482.8 1471.5 2482 1474.3 2481.3 1477.2 2480.8 1479.9 2480.3 1482.6 2480 1485.1 2479.7 1487.5 2479.6 1489.6 2479.5 1491.5 2479.4 1493.2 2479.5 1494.6 2479.5 1495.7 2479.6 1496.5 2479.7 1497 2479.8 1497.1 2479.9Z" fill="#d2e3ea" opacity="0.75"/><path d="M1453.4 2421.7 1453.4 2423.5 1453.8 2425.4 1454.4 2427.3 1455.4 2429.1 1456.7 2431 1458.2 2432.8 1460 2434.5 1462 2436.2 1464.2 2437.8 1466.6 2439.3 1469.1 2440.7 1471.8 2442 1474.5 2443.2 1477.2 2444.3 1479.9 2445.3 1482.5 2446.2 1485.1 2446.9 1487.6 2447.5 1489.9 2448.1 1492 2448.5 1493.9 2448.8 1495.5 2449 1496.9 2449.2 1498 2449.3 1498.8 2449.3 1499.3 2449.2 1499.5 2449.2 1500.8 2432.2 1500.6 2432.3 1500.1 2432.3 1499.3 2432.3 1498.2 2432.2 1496.8 2432.1 1495.2 2431.9 1493.3 2431.5 1491.1 2431.1 1488.8 2430.6 1486.4 2430 1483.8 2429.2 1481.2 2428.3 1478.5 2427.4 1475.7 2426.3 1473.1 2425.1 1470.4 2423.7 1467.9 2422.3 1465.5 2420.8 1463.3 2419.2 1461.3 2417.6 1459.5 2415.8 1458 2414 1456.7 2412.2 1455.7 2410.3 1455.1 2408.4 1454.7 2406.6 1454.7 2404.7Z" fill="#b7d2da" opacity="0.75"/><path d="M1449.8 2469.4 1449.8 2471.2 1450.2 2473.1 1450.8 2475 1451.8 2476.9 1453 2478.7 1454.6 2480.5 1456.4 2482.2 1458.4 2483.9 1460.6 2485.5 1463 2487 1465.5 2488.4 1468.1 2489.7 1470.8 2490.9 1473.5 2492 1476.2 2493 1478.9 2493.9 1481.5 2494.6 1483.9 2495.3 1486.2 2495.8 1488.3 2496.2 1490.2 2496.5 1491.9 2496.8 1493.3 2496.9 1494.4 2497 1495.2 2497 1495.7 2497 1495.8 2496.9 1497.1 2479.9 1497 2480 1496.5 2480.1 1495.7 2480 1494.6 2480 1493.2 2479.8 1491.5 2479.6 1489.6 2479.3 1487.5 2478.9 1485.2 2478.3 1482.8 2477.7 1480.2 2476.9 1477.5 2476.1 1474.8 2475.1 1472.1 2474 1469.4 2472.8 1466.8 2471.5 1464.3 2470.1 1461.9 2468.5 1459.7 2467 1457.7 2465.3 1455.9 2463.5 1454.3 2461.8 1453.1 2459.9 1452.1 2458.1 1451.4 2456.2 1451.1 2454.3 1451.1 2452.4Z" fill="#b7d2da" opacity="0.75"/><path d="M1446.2 2517.1 1446.1 2517.9 1446.1 2518.6 1446.2 2519.4 1446.3 2520.1 1446.5 2520.9 1446.7 2521.6 1447 2522.4 1447.3 2523.1 1447.7 2523.9 1448.1 2524.6 1448.6 2525.3 1449.1 2526.1 1449.7 2526.8 1450.3 2527.5 1450.9 2528.2 1451.6 2528.9 1452.3 2529.6 1453.1 2530.3 1453.9 2531 1454.7 2531.6 1455.6 2532.3 1456.5 2532.9 1457.4 2533.5 1458.4 2534.1 1459.3 2534.7 1460.3 2535.3 1461.4 2535.9 1462.6 2518.9 1461.6 2518.4 1460.6 2517.8 1459.7 2517.2 1458.7 2516.6 1457.8 2516 1456.9 2515.3 1456 2514.7 1455.2 2514 1454.4 2513.3 1453.6 2512.7 1452.9 2512 1452.2 2511.3 1451.6 2510.6 1451 2509.8 1450.4 2509.1 1449.9 2508.4 1449.4 2507.6 1449 2506.9 1448.6 2506.2 1448.3 2505.4 1448 2504.7 1447.8 2503.9 1447.6 2503.2 1447.5 2502.4 1447.4 2501.6 1447.4 2500.9 1447.4 2500.2Z" fill="#b7d2da" opacity="0.75"/>
<path d="M1741.6 2351.9 1741.4 2352 1740.9 2352.1 1740.2 2352.3 1739.1 2352.6 1737.7 2353 1736.1 2353.5 1734.3 2354.1 1732.2 2354.8 1730 2355.7 1727.7 2356.6 1725.2 2357.7 1722.6 2358.9 1720 2360.3 1717.4 2361.7 1714.9 2363.3 1712.4 2364.9 1710 2366.7 1707.8 2368.5 1705.8 2370.4 1703.9 2372.4 1702.3 2374.4 1701 2376.4 1699.9 2378.5 1699.1 2380.6 1698.6 2382.6 1698.5 2384.6 1698.6 2386.6 1695.7 2368.9 1695.5 2366.9 1695.7 2364.8 1696.2 2362.8 1697 2360.7 1698 2358.7 1699.4 2356.6 1701 2354.6 1702.8 2352.7 1704.9 2350.8 1707.1 2348.9 1709.5 2347.2 1712 2345.5 1714.5 2344 1717.1 2342.5 1719.7 2341.2 1722.3 2340 1724.7 2338.9 1727.1 2337.9 1729.3 2337 1731.4 2336.3 1733.2 2335.7 1734.8 2335.2 1736.2 2334.8 1737.2 2334.5 1738 2334.3 1738.5 2334.2 1738.6 2334.2Z" fill="#cbe7e7" opacity="0.65"/><path d="M1750.4 2405.8 1750.3 2405.8 1749.8 2405.9 1749 2406.2 1747.9 2406.4 1746.6 2406.8 1745 2407.3 1743.1 2407.9 1741.1 2408.7 1738.9 2409.5 1736.5 2410.5 1734 2411.6 1731.5 2412.8 1728.9 2414.1 1726.3 2415.6 1723.7 2417.1 1721.3 2418.8 1718.9 2420.5 1716.7 2422.4 1714.6 2424.3 1712.8 2426.2 1711.2 2428.2 1709.8 2430.3 1708.7 2432.3 1707.9 2434.4 1707.5 2436.5 1707.3 2438.5 1707.5 2440.5 1704.6 2422.7 1704.4 2420.7 1704.5 2418.7 1705 2416.6 1705.8 2414.6 1706.9 2412.5 1708.2 2410.5 1709.8 2408.5 1711.7 2406.5 1713.7 2404.6 1716 2402.8 1718.3 2401 1720.8 2399.4 1723.4 2397.8 1726 2396.4 1728.5 2395 1731.1 2393.8 1733.6 2392.7 1735.9 2391.7 1738.2 2390.9 1740.2 2390.2 1742.1 2389.6 1743.7 2389.1 1745 2388.7 1746.1 2388.4 1746.9 2388.2 1747.3 2388.1 1747.5 2388Z" fill="#cbe7e7" opacity="0.65"/><path d="M1759.3 2459.6 1759.3 2459.6 1759.2 2459.6 1759.2 2459.6 1759.2 2459.6 1759.1 2459.7 1759 2459.7 1759 2459.7 1758.9 2459.7 1758.8 2459.8 1758.6 2459.8 1758.5 2459.8 1758.4 2459.9 1758.2 2459.9 1758 2459.9 1757.9 2460 1757.7 2460 1757.5 2460.1 1757.2 2460.2 1757 2460.2 1756.8 2460.3 1756.5 2460.4 1756.3 2460.4 1756 2460.5 1755.7 2460.6 1755.4 2460.7 1755.1 2460.8 1754.8 2460.9 1751.9 2443.1 1752.2 2443 1752.5 2442.9 1752.8 2442.8 1753.1 2442.7 1753.4 2442.7 1753.6 2442.6 1753.9 2442.5 1754.1 2442.5 1754.3 2442.4 1754.5 2442.3 1754.7 2442.3 1754.9 2442.2 1755.1 2442.2 1755.3 2442.1 1755.4 2442.1 1755.6 2442.1 1755.7 2442 1755.8 2442 1755.9 2442 1756 2441.9 1756.1 2441.9 1756.2 2441.9 1756.2 2441.9 1756.3 2441.9 1756.3 2441.9 1756.3 2441.9 1756.3 2441.8Z" fill="#cbe7e7" opacity="0.65"/><path d="M1689.8 2332.8 1690.3 2334.7 1691.1 2336.6 1692.2 2338.4 1693.6 2340.1 1695.2 2341.7 1697.2 2343.2 1699.3 2344.6 1701.7 2345.8 1704.3 2347 1707 2348 1709.8 2348.9 1712.7 2349.7 1715.6 2350.3 1718.5 2350.9 1721.4 2351.3 1724.2 2351.7 1726.9 2351.9 1729.4 2352.1 1731.8 2352.2 1734 2352.2 1735.9 2352.2 1737.6 2352.1 1739 2352.1 1740.1 2352 1740.9 2351.9 1741.4 2351.9 1741.6 2351.9 1738.6 2334.2 1738.5 2334.1 1738 2334.2 1737.2 2334.2 1736.1 2334.3 1734.7 2334.4 1733 2334.4 1731.1 2334.4 1728.9 2334.4 1726.5 2334.3 1724 2334.1 1721.3 2333.9 1718.5 2333.6 1715.6 2333.1 1712.7 2332.6 1709.7 2331.9 1706.9 2331.1 1704 2330.2 1701.4 2329.2 1698.8 2328.1 1696.4 2326.8 1694.3 2325.4 1692.3 2323.9 1690.6 2322.3 1689.2 2320.6 1688.1 2318.8 1687.3 2316.9 1686.9 2315Z" fill="#a9d5d5" opacity="0.65"/><path d="M1698.6 2386.6 1699.1 2388.6 1699.9 2390.4 1701 2392.2 1702.4 2393.9 1704.1 2395.5 1706 2397 1708.2 2398.4 1710.6 2399.7 1713.1 2400.8 1715.8 2401.9 1718.6 2402.8 1721.5 2403.5 1724.4 2404.2 1727.3 2404.7 1730.2 2405.2 1733 2405.5 1735.7 2405.7 1738.3 2405.9 1740.7 2406 1742.8 2406 1744.8 2406 1746.4 2406 1747.8 2405.9 1749 2405.8 1749.8 2405.8 1750.2 2405.8 1750.4 2405.8 1747.5 2388 1747.3 2388 1746.8 2388 1746 2388.1 1744.9 2388.1 1743.5 2388.2 1741.8 2388.3 1739.9 2388.3 1737.7 2388.2 1735.4 2388.1 1732.8 2388 1730.1 2387.7 1727.3 2387.4 1724.4 2387 1721.5 2386.4 1718.6 2385.8 1715.7 2385 1712.9 2384.1 1710.2 2383.1 1707.6 2381.9 1705.3 2380.6 1703.1 2379.3 1701.2 2377.8 1699.5 2376.2 1698.1 2374.4 1697 2372.7 1696.2 2370.8 1695.7 2368.9Z" fill="#a9d5d5" opacity="0.65"/><path d="M1707.5 2440.5 1708 2442.4 1708.7 2444.3 1709.9 2446.1 1711.3 2447.8 1712.9 2449.4 1714.9 2450.9 1717 2452.3 1719.4 2453.5 1722 2454.7 1724.7 2455.7 1727.5 2456.6 1730.3 2457.4 1733.3 2458 1736.2 2458.6 1739.1 2459 1741.9 2459.4 1744.6 2459.6 1747.1 2459.8 1749.5 2459.8 1751.7 2459.9 1753.6 2459.9 1755.3 2459.8 1756.7 2459.8 1757.8 2459.7 1758.6 2459.6 1759.1 2459.6 1759.3 2459.6 1756.3 2441.8 1756.2 2441.8 1755.7 2441.9 1754.9 2441.9 1753.8 2442 1752.4 2442.1 1750.7 2442.1 1748.8 2442.1 1746.6 2442.1 1744.2 2442 1741.6 2441.8 1739 2441.6 1736.1 2441.3 1733.3 2440.8 1730.3 2440.3 1727.4 2439.6 1724.5 2438.8 1721.7 2437.9 1719 2436.9 1716.5 2435.8 1714.1 2434.5 1711.9 2433.1 1710 2431.6 1708.3 2430 1706.9 2428.3 1705.8 2426.5 1705 2424.6 1704.6 2422.7Z" fill="#a9d5d5" opacity="0.65"/>
<path d="M1630.3 2493.6 1630 2493.2 1629.5 2492.8 1628.5 2492.6 1627.3 2492.4 1625.8 2492.4 1623.9 2492.5 1621.9 2492.7 1619.6 2493 1617.1 2493.5 1614.5 2494.2 1611.7 2495 1608.9 2495.9 1606 2497 1603.2 2498.3 1600.4 2499.6 1597.6 2501.1 1595 2502.8 1592.6 2504.5 1590.3 2506.3 1588.3 2508.2 1586.5 2510.1 1585 2512.1 1583.8 2514.1 1582.9 2516.2 1582.4 2518.2 1582.2 2520.2 1582.3 2522.2 1579.7 2506.4 1579.6 2504.4 1579.8 2502.4 1580.3 2500.4 1581.2 2498.4 1582.4 2496.3 1583.9 2494.3 1585.6 2492.4 1587.7 2490.5 1589.9 2488.7 1592.4 2487 1595 2485.4 1597.7 2483.9 1600.5 2482.5 1603.4 2481.2 1606.3 2480.2 1609.1 2479.2 1611.8 2478.4 1614.5 2477.8 1616.9 2477.3 1619.2 2476.9 1621.3 2476.7 1623.1 2476.6 1624.7 2476.6 1625.9 2476.8 1626.8 2477.1 1627.4 2477.4 1627.7 2477.8Z" fill="#d6eaea" opacity="0.8"/><path d="M1575.7 2482.2 1576.2 2484.1 1577 2485.9 1578.2 2487.6 1579.7 2489.3 1581.4 2490.8 1583.5 2492.2 1585.8 2493.5 1588.4 2494.6 1591.1 2495.6 1594 2496.4 1597 2497.1 1600 2497.6 1603.1 2498 1606.2 2498.3 1609.3 2498.4 1612.3 2498.3 1615.1 2498.2 1617.8 2498 1620.3 2497.6 1622.6 2497.2 1624.7 2496.8 1626.4 2496.3 1627.8 2495.7 1629 2495.2 1629.8 2494.6 1630.2 2494.1 1630.3 2493.6 1627.7 2477.8 1627.6 2478.3 1627.1 2478.8 1626.3 2479.4 1625.2 2479.9 1623.8 2480.5 1622 2481 1620 2481.5 1617.7 2481.9 1615.2 2482.2 1612.5 2482.4 1609.7 2482.6 1606.7 2482.6 1603.6 2482.5 1600.5 2482.2 1597.4 2481.8 1594.3 2481.3 1591.3 2480.6 1588.5 2479.8 1585.7 2478.8 1583.2 2477.7 1580.9 2476.4 1578.8 2475 1577 2473.5 1575.5 2471.9 1574.4 2470.1 1573.5 2468.3 1573 2466.4Z" fill="#bcdcdc" opacity="0.8"/><path d="M1582.3 2522.2 1582.8 2524.1 1583.7 2525.9 1584.8 2527.6 1586.3 2529.3 1588.1 2530.8 1590.2 2532.2 1592.5 2533.5 1595 2534.6 1597.8 2535.6 1600.6 2536.4 1603.6 2537.1 1606.7 2537.6 1609.8 2538 1612.9 2538.3 1616 2538.4 1619 2538.3 1621.8 2538.2 1624.5 2538 1627 2537.6 1629.3 2537.2 1631.3 2536.8 1633.1 2536.3 1634.5 2535.7 1635.6 2535.2 1636.4 2534.6 1636.9 2534.1 1637 2533.6 1634.3 2517.8 1634.2 2518.3 1633.8 2518.8 1633 2519.4 1631.9 2519.9 1630.4 2520.5 1628.7 2521 1626.7 2521.5 1624.4 2521.9 1621.9 2522.2 1619.2 2522.4 1616.3 2522.6 1613.3 2522.6 1610.3 2522.5 1607.2 2522.2 1604.1 2521.8 1601 2521.3 1598 2520.6 1595.1 2519.8 1592.4 2518.8 1589.9 2517.7 1587.5 2516.4 1585.5 2515 1583.7 2513.5 1582.2 2511.9 1581 2510.1 1580.2 2508.3 1579.7 2506.4Z" fill="#bcdcdc" opacity="0.8"/>
<path d="M1166.5 2373.9 1172.3 2372.7 1179.9 2371.2 1189 2369.4 1199 2367.4 1209.7 2365.4 1220.6 2363.4 1231.2 2361.5 1241.2 2359.9 1250.9 2358.4 1260.4 2356.9 1269.9 2355.5 1279.5 2354.1 1289.2 2352.9 1299.1 2352 1309.4 2351.3 1320.1 2351 1332 2351.2 1345.5 2351.8 1359.8 2352.7 1374.3 2353.9 1388.2 2355.2 1400.8 2356.3 1411.4 2357.3 1419.3 2358 1420.7 2342 1412.9 2341.4 1402.3 2340.4 1389.7 2339.2 1375.7 2338 1361 2336.8 1346.4 2335.8 1332.5 2335.2 1319.9 2335 1308.6 2335.3 1297.8 2336 1287.5 2337 1277.4 2338.3 1267.6 2339.6 1258 2341.1 1248.4 2342.6 1238.8 2344.1 1228.6 2345.7 1217.7 2347.6 1206.7 2349.6 1196 2351.7 1185.9 2353.7 1176.8 2355.5 1169.2 2357 1163.5 2358.1Z" fill="#86cdce" opacity="0.9" stroke="#5fb3b4" stroke-width="1" stroke-linejoin="round"/>
<path d="M1172.8 2425.8 1179 2424.3 1187.1 2422.3 1196.7 2420 1207.4 2417.4 1218.6 2414.8 1230 2412.2 1241.1 2409.8 1251.4 2407.9 1261.2 2406.2 1270.8 2404.5 1280.3 2403 1289.8 2401.6 1299.4 2400.3 1309.3 2399.3 1319.5 2398.5 1330.2 2398 1342.2 2397.9 1355.7 2398.1 1370.1 2398.6 1384.6 2399.4 1398.5 2400.2 1411.1 2400.9 1421.7 2401.6 1429.6 2402 1430.4 2386 1422.6 2385.6 1412.1 2385 1399.4 2384.2 1385.4 2383.4 1370.8 2382.7 1356.2 2382.1 1342.3 2381.9 1329.8 2382 1318.5 2382.5 1307.9 2383.4 1297.6 2384.4 1287.6 2385.7 1277.8 2387.1 1268.1 2388.7 1258.4 2390.4 1248.6 2392.1 1238 2394.1 1226.6 2396.5 1215 2399.2 1203.6 2401.8 1192.9 2404.4 1183.3 2406.8 1175.2 2408.8 1169.2 2410.2Z" fill="#86cdce" opacity="0.9" stroke="#5fb3b4" stroke-width="1" stroke-linejoin="round"/>
<path d="M1194.4 2450 1199.6 2449.7 1206.4 2449.3 1214.5 2448.9 1223.5 2448.4 1233.1 2447.9 1243.2 2447.5 1253.2 2447.2 1263.1 2447 1272.8 2447 1282.6 2447.1 1292.7 2447.3 1303.1 2447.5 1313.9 2447.8 1325.2 2448.2 1337.2 2448.6 1349.7 2449 1363.9 2449.5 1380.2 2450.1 1397.5 2450.9 1415.1 2451.6 1432 2452.4 1447.3 2453 1460.2 2453.6 1469.7 2454 1470.3 2438 1460.9 2437.6 1448 2437 1432.7 2436.4 1415.8 2435.6 1398.2 2434.9 1380.8 2434.2 1364.5 2433.5 1350.3 2433 1337.7 2432.6 1325.8 2432.2 1314.4 2431.8 1303.5 2431.5 1293 2431.3 1282.8 2431.1 1272.8 2431 1262.9 2431 1252.9 2431.2 1242.6 2431.5 1232.4 2431.9 1222.6 2432.4 1213.6 2432.9 1205.5 2433.4 1198.8 2433.7 1193.6 2434Z" fill="#62bdbd" opacity="0.85" stroke="#4aa9aa" stroke-width="1" stroke-linejoin="round"/>
<path d="M1191.4 2466.6 1193.1 2468.3 1195.3 2470.6 1198 2473.3 1201 2476.4 1204.2 2479.6 1207.4 2482.8 1210.6 2485.9 1213.6 2488.8 1216.6 2491.5 1219.7 2494.3 1216 2498.8 1240 2503 1232 2480 1228.3 2484.5 1225.2 2481.8 1222.4 2479.2 1219.6 2476.6 1216.6 2473.6 1213.4 2470.4 1210.3 2467.2 1207.3 2464.2 1204.6 2461.5 1202.3 2459.2 1200.6 2457.4Z" fill="#55b5b6" opacity="0.95"/>
<path d="M1163 2361C1157.3 2361 1139.2 2359.8 1129 2361C1118.8 2362.2 1110.2 2363.2 1102 2368C1093.8 2372.8 1084.7 2382.2 1080 2390C1075.3 2397.8 1074 2406.8 1074 2415C1074 2423.2 1076.3 2433.2 1080 2439C1083.7 2444.8 1090 2448.5 1096 2450C1102 2451.5 1111.3 2449.7 1116 2448C1120.7 2446.3 1122.7 2441.3 1124 2440" fill="none" stroke="#8ccfcf" stroke-width="4.5" stroke-linecap="round" stroke-linejoin="round" opacity="1.0"/>
<path d="M1117 2404C1117.2 2408.3 1116.5 2423 1118 2430C1119.5 2437 1122.5 2443.3 1126 2446C1129.5 2448.7 1133.7 2447 1139 2446C1144.3 2445 1154.8 2441 1158 2440" fill="none" stroke="#5ab9ba" stroke-width="4.5" stroke-linecap="round" stroke-linejoin="round" opacity="1.0"/>
<path d="M1169 2400C1168.7 2402 1168.2 2407.7 1167 2412C1165.8 2416.3 1162.5 2422 1162 2426C1161.5 2430 1163.7 2434.3 1164 2436" fill="none" stroke="#5ab9ba" stroke-width="4.5" stroke-linecap="round" stroke-linejoin="round" opacity="1.0"/>
<path d="M1240 2503C1243.7 2504.5 1253.7 2510.5 1262 2512C1270.3 2513.5 1279.5 2510.7 1290 2512C1300.5 2513.3 1315.8 2516.7 1325 2520C1334.2 2523.3 1341.7 2530 1345 2532" fill="none" stroke="#8ccfcf" stroke-width="4.5" stroke-linecap="round" stroke-linejoin="round" opacity="1.0"/>
<path d="M1121 2380C1120.7 2378 1121.7 2373 1119 2368C1116.3 2363 1110 2354 1105 2350C1100 2346 1092.8 2347 1089 2344C1085.2 2341 1083 2337.3 1082 2332C1081 2326.7 1081.2 2317.5 1083 2312C1084.8 2306.5 1089 2301.8 1093 2299C1097 2296.2 1101.7 2294.7 1107 2295C1112.3 2295.3 1120.2 2297.8 1125 2301C1129.8 2304.2 1133.5 2308.8 1136 2314C1138.5 2319.2 1138.2 2326.7 1140 2332C1141.8 2337.3 1143.7 2343 1147 2346C1150.3 2349 1157.3 2348 1160 2350C1162.7 2352 1162.5 2356.7 1163 2358" fill="none" stroke="#2aa2a4" stroke-width="4.8" stroke-linecap="round" stroke-linejoin="round" opacity="1.0"/>
<path d="M1105 2380 L1137 2377 Q1136 2394 1122 2403 Z" fill="#2aa2a4"/>
<path d="M1164 2360 L1186 2392 L1156 2401 Z" fill="#5ab9ba"/>
<path d="M1158 2431 L1197 2433 L1197 2450 L1178 2470 L1150 2497 L1147 2476 L1166 2455 Z" fill="#2aa2a4"/>
<path d="M1197 2433 L1197 2450 L1178 2470 L1186 2447 Z" fill="#1b8889"/>
<path d="M1223.1 2348.4 1225.2 2350.7 1227.9 2353.7 1231.2 2357.3 1234.9 2361.3 1238.7 2365.5 1242.7 2369.8 1246.6 2373.9 1250.3 2377.7 1254.1 2381.3 1258.1 2385.1 1262.2 2389 1266.3 2392.7 1270.1 2396.2 1273.6 2399.3 1276.4 2401.9 1278.6 2403.9 1289.4 2392.1 1287.2 2390.1 1284.3 2387.5 1280.9 2384.4 1277.1 2380.9 1273.1 2377.2 1269.1 2373.5 1265.2 2369.8 1261.7 2366.3 1258.1 2362.8 1254.4 2358.8 1250.5 2354.6 1246.6 2350.5 1243 2346.5 1239.7 2342.9 1237 2339.9 1234.9 2337.6Z" fill="#ebcfad" opacity="1.0" stroke="#b5936c" stroke-width="1" stroke-linejoin="round"/>
<path d="M1222.3 2344.9 1223.3 2348.5 1224.7 2353.3 1226.3 2359 1228.1 2365.4 1230.1 2372.2 1232.1 2379.1 1234.3 2385.9 1236.4 2392.3 1238.7 2398.7 1241.3 2405.6 1244.1 2412.6 1246.9 2419.6 1249.6 2426.1 1252 2432 1254 2436.9 1255.5 2440.6 1268.5 2435.4 1267 2431.6 1264.9 2426.7 1262.5 2420.8 1259.9 2414.3 1257.1 2407.4 1254.4 2400.5 1251.8 2393.8 1249.6 2387.7 1247.6 2381.6 1245.5 2375 1243.5 2368.3 1241.5 2361.6 1239.7 2355.2 1238.1 2349.5 1236.8 2344.7 1235.7 2341.1Z" fill="#d2b08a" opacity="1.0" stroke="#b5936c" stroke-width="1" stroke-linejoin="round"/>
<path d="M1324.7 2382.9 1326.6 2385.4 1329.1 2388.7 1332.2 2392.6 1335.6 2396.9 1339.1 2401.5 1342.8 2406.2 1346.4 2410.7 1349.7 2415 1353.1 2419.2 1356.8 2423.8 1360.6 2428.5 1364.4 2433.1 1367.9 2437.4 1371.1 2441.3 1373.8 2444.6 1375.8 2447.1 1388.2 2436.9 1386.2 2434.5 1383.5 2431.2 1380.3 2427.3 1376.8 2422.9 1373 2418.4 1369.3 2413.7 1365.6 2409.2 1362.3 2405 1358.9 2400.8 1355.4 2396.3 1351.8 2391.7 1348.2 2387.1 1344.8 2382.7 1341.8 2378.8 1339.2 2375.6 1337.3 2373.1Z" fill="#d2b08a" opacity="1.0" stroke="#b5936c" stroke-width="1" stroke-linejoin="round"/>
<path d="M1433.1 2403.8 1431.4 2401.8 1429.1 2399.1 1426.4 2395.9 1423.4 2392.4 1420.3 2388.7 1417.1 2384.9 1414 2381.2 1411.1 2377.8 1408.3 2374.5 1413.8 2369.9 1384 2358 1390.5 2389.4 1396.1 2384.8 1398.9 2388.2 1401.7 2391.5 1404.8 2395.2 1408 2399 1411.2 2402.7 1414.2 2406.3 1416.9 2409.5 1419.2 2412.2 1420.9 2414.2Z" fill="#ebcfad" opacity="1.0" stroke="#b5936c" stroke-width="1" stroke-linejoin="round"/>
<path d="M1429.2 2353.4 1430.2 2353.1 1431.7 2352.8 1433.4 2352.5 1435.3 2352.1 1437.3 2351.6 1439.3 2351.2 1441.3 2350.8 1443.2 2350.4 1445 2350 1446 2354.8 1456 2342 1441.7 2334.4 1442.7 2339.2 1440.8 2339.6 1439 2340 1437 2340.4 1435 2340.9 1433 2341.3 1431.1 2341.7 1429.4 2342.1 1427.9 2342.4 1426.8 2342.6Z" fill="#ebcfad" opacity="1.0" stroke="#b5936c" stroke-width="1" stroke-linejoin="round"/>
<path d="M1222 2298C1222.3 2301.7 1223 2312.7 1224 2320C1225 2327.3 1227.3 2338.3 1228 2342" fill="none" stroke="#b5936c" stroke-width="5.8" stroke-linecap="round" stroke-linejoin="round" opacity="1.0"/><path d="M1222 2298C1222.3 2301.7 1223 2312.7 1224 2320C1225 2327.3 1227.3 2338.3 1228 2342" fill="none" stroke="#ebcfad" stroke-width="4.2" stroke-linecap="round" stroke-linejoin="round" opacity="1.0"/>
<path d="M1228 2342C1230.3 2339.5 1237.7 2333.7 1242 2327C1246.3 2320.3 1249.5 2311.7 1254 2302C1258.5 2292.3 1262.8 2277.8 1269 2269C1275.2 2260.2 1285.3 2254.5 1291 2249C1296.7 2243.5 1300.3 2238.8 1303 2236C1305.7 2233.2 1306 2230.5 1307 2232C1308 2233.5 1308 2239.7 1309 2245C1310 2250.3 1310.7 2258.8 1313 2264C1315.3 2269.2 1318 2273.3 1323 2276C1328 2278.7 1336.8 2280.5 1343 2280C1349.2 2279.5 1353.5 2275.5 1360 2273C1366.5 2270.5 1378.3 2266.3 1382 2265" fill="none" stroke="#b5936c" stroke-width="5.8" stroke-linecap="round" stroke-linejoin="round" opacity="1.0"/><path d="M1228 2342C1230.3 2339.5 1237.7 2333.7 1242 2327C1246.3 2320.3 1249.5 2311.7 1254 2302C1258.5 2292.3 1262.8 2277.8 1269 2269C1275.2 2260.2 1285.3 2254.5 1291 2249C1296.7 2243.5 1300.3 2238.8 1303 2236C1305.7 2233.2 1306 2230.5 1307 2232C1308 2233.5 1308 2239.7 1309 2245C1310 2250.3 1310.7 2258.8 1313 2264C1315.3 2269.2 1318 2273.3 1323 2276C1328 2278.7 1336.8 2280.5 1343 2280C1349.2 2279.5 1353.5 2275.5 1360 2273C1366.5 2270.5 1378.3 2266.3 1382 2265" fill="none" stroke="#ebcfad" stroke-width="4.2" stroke-linecap="round" stroke-linejoin="round" opacity="1.0"/>
<path d="M1336 2246C1337.5 2243.7 1340.5 2235.2 1345 2232C1349.5 2228.8 1356.8 2227 1363 2227C1369.2 2227 1377.2 2228.7 1382 2232C1386.8 2235.3 1390.7 2241.8 1392 2247C1393.3 2252.2 1392.3 2258.5 1390 2263C1387.7 2267.5 1383 2271.8 1378 2274C1373 2276.2 1365.5 2277 1360 2276C1354.5 2275 1348.7 2271 1345 2268C1341.3 2265 1339.2 2259.7 1338 2258" fill="none" stroke="#b5936c" stroke-width="5.8" stroke-linecap="round" stroke-linejoin="round" opacity="1.0"/><path d="M1336 2246C1337.5 2243.7 1340.5 2235.2 1345 2232C1349.5 2228.8 1356.8 2227 1363 2227C1369.2 2227 1377.2 2228.7 1382 2232C1386.8 2235.3 1390.7 2241.8 1392 2247C1393.3 2252.2 1392.3 2258.5 1390 2263C1387.7 2267.5 1383 2271.8 1378 2274C1373 2276.2 1365.5 2277 1360 2276C1354.5 2275 1348.7 2271 1345 2268C1341.3 2265 1339.2 2259.7 1338 2258" fill="none" stroke="#ebcfad" stroke-width="4.2" stroke-linecap="round" stroke-linejoin="round" opacity="1.0"/>
<path d="M1338 2260C1343.3 2259.7 1359.7 2258.5 1370 2258C1380.3 2257.5 1391.2 2256 1400 2257C1408.8 2258 1417.3 2260.8 1423 2264C1428.7 2267.2 1431 2268.5 1434 2276C1437 2283.5 1439.5 2301.2 1441 2309C1442.5 2316.8 1443.8 2320 1443 2323C1442.2 2326 1439.2 2324.5 1436 2327C1432.8 2329.5 1425.5 2333.5 1424 2338C1422.5 2342.5 1426.5 2351.3 1427 2354" fill="none" stroke="#b5936c" stroke-width="5.8" stroke-linecap="round" stroke-linejoin="round" opacity="1.0"/><path d="M1338 2260C1343.3 2259.7 1359.7 2258.5 1370 2258C1380.3 2257.5 1391.2 2256 1400 2257C1408.8 2258 1417.3 2260.8 1423 2264C1428.7 2267.2 1431 2268.5 1434 2276C1437 2283.5 1439.5 2301.2 1441 2309C1442.5 2316.8 1443.8 2320 1443 2323C1442.2 2326 1439.2 2324.5 1436 2327C1432.8 2329.5 1425.5 2333.5 1424 2338C1422.5 2342.5 1426.5 2351.3 1427 2354" fill="none" stroke="#ebcfad" stroke-width="4.2" stroke-linecap="round" stroke-linejoin="round" opacity="1.0"/>
<path d="M1229 2343C1233.2 2342.8 1247.3 2341.7 1254 2342C1260.7 2342.3 1262.8 2346.8 1269 2345C1275.2 2343.2 1283.2 2335.2 1291 2331C1298.8 2326.8 1309.3 2322.2 1316 2320C1322.7 2317.8 1328.5 2318.3 1331 2318" fill="none" stroke="#b5936c" stroke-width="5.8" stroke-linecap="round" stroke-linejoin="round" opacity="1.0"/><path d="M1229 2343C1233.2 2342.8 1247.3 2341.7 1254 2342C1260.7 2342.3 1262.8 2346.8 1269 2345C1275.2 2343.2 1283.2 2335.2 1291 2331C1298.8 2326.8 1309.3 2322.2 1316 2320C1322.7 2317.8 1328.5 2318.3 1331 2318" fill="none" stroke="#ebcfad" stroke-width="4.2" stroke-linecap="round" stroke-linejoin="round" opacity="1.0"/>
<path d="M1242 2327C1242.8 2324 1243.3 2315 1247 2309C1250.7 2303 1256.7 2294.7 1264 2291C1271.3 2287.3 1282.8 2286.7 1291 2287C1299.2 2287.3 1307 2293 1313 2293C1319 2293 1322.8 2290.3 1327 2287C1331.2 2283.7 1336.2 2275.3 1338 2273" fill="none" stroke="#b5936c" stroke-width="5.8" stroke-linecap="round" stroke-linejoin="round" opacity="1.0"/><path d="M1242 2327C1242.8 2324 1243.3 2315 1247 2309C1250.7 2303 1256.7 2294.7 1264 2291C1271.3 2287.3 1282.8 2286.7 1291 2287C1299.2 2287.3 1307 2293 1313 2293C1319 2293 1322.8 2290.3 1327 2287C1331.2 2283.7 1336.2 2275.3 1338 2273" fill="none" stroke="#ebcfad" stroke-width="4.2" stroke-linecap="round" stroke-linejoin="round" opacity="1.0"/>
<path d="M1382 2441C1384.2 2438.3 1390.3 2429.3 1395 2425C1399.7 2420.7 1404.5 2415.8 1410 2415C1415.5 2414.2 1423 2416.7 1428 2420C1433 2423.3 1438.7 2429.7 1440 2435C1441.3 2440.3 1439.3 2448.2 1436 2452C1432.7 2455.8 1425.2 2458.7 1420 2458C1414.8 2457.3 1407.5 2452.7 1405 2448C1402.5 2443.3 1405 2433 1405 2430" fill="none" stroke="#b5936c" stroke-width="5.8" stroke-linecap="round" stroke-linejoin="round" opacity="1.0"/><path d="M1382 2441C1384.2 2438.3 1390.3 2429.3 1395 2425C1399.7 2420.7 1404.5 2415.8 1410 2415C1415.5 2414.2 1423 2416.7 1428 2420C1433 2423.3 1438.7 2429.7 1440 2435C1441.3 2440.3 1439.3 2448.2 1436 2452C1432.7 2455.8 1425.2 2458.7 1420 2458C1414.8 2457.3 1407.5 2452.7 1405 2448C1402.5 2443.3 1405 2433 1405 2430" fill="none" stroke="#ebcfad" stroke-width="4.2" stroke-linecap="round" stroke-linejoin="round" opacity="1.0"/>
<path d="M1405 2448C1408.3 2450.3 1416.8 2459.5 1425 2462C1433.2 2464.5 1444.3 2461.3 1454 2463C1463.7 2464.7 1473.7 2468.8 1483 2472C1492.3 2475.2 1500.5 2477.7 1510 2482C1519.5 2486.3 1529.2 2493 1540 2498C1550.8 2503 1563 2509.7 1575 2512C1587 2514.3 1605.8 2512 1612 2512" fill="none" stroke="#b5936c" stroke-width="5.8" stroke-linecap="round" stroke-linejoin="round" opacity="1.0"/><path d="M1405 2448C1408.3 2450.3 1416.8 2459.5 1425 2462C1433.2 2464.5 1444.3 2461.3 1454 2463C1463.7 2464.7 1473.7 2468.8 1483 2472C1492.3 2475.2 1500.5 2477.7 1510 2482C1519.5 2486.3 1529.2 2493 1540 2498C1550.8 2503 1563 2509.7 1575 2512C1587 2514.3 1605.8 2512 1612 2512" fill="none" stroke="#ebcfad" stroke-width="4.2" stroke-linecap="round" stroke-linejoin="round" opacity="1.0"/>
<path d="M1283 2493C1285 2497.5 1289.2 2513.5 1295 2520C1300.8 2526.5 1311.3 2532 1318 2532C1324.7 2532 1333.5 2526.2 1335 2520C1336.5 2513.8 1328.3 2504.5 1327 2495C1325.7 2485.5 1327 2468.3 1327 2463" fill="none" stroke="#b5936c" stroke-width="5.8" stroke-linecap="round" stroke-linejoin="round" opacity="1.0"/><path d="M1283 2493C1285 2497.5 1289.2 2513.5 1295 2520C1300.8 2526.5 1311.3 2532 1318 2532C1324.7 2532 1333.5 2526.2 1335 2520C1336.5 2513.8 1328.3 2504.5 1327 2495C1325.7 2485.5 1327 2468.3 1327 2463" fill="none" stroke="#ebcfad" stroke-width="4.2" stroke-linecap="round" stroke-linejoin="round" opacity="1.0"/>
<path d="M1360 2291 1378 2289 1394 2326 1378 2351Z" fill="#c8a27a" stroke="#b5936c" stroke-width="0.9" stroke-linejoin="round" opacity="1.0"/><path d="M1328 2316 1359 2372 1345 2403 1316 2348Z" fill="#c8a27a" stroke="#b5936c" stroke-width="0.9" stroke-linejoin="round" opacity="1.0"/><path d="M1296 2373 1331 2428 1318 2459 1284 2401Z" fill="#c8a27a" stroke="#b5936c" stroke-width="0.9" stroke-linejoin="round" opacity="1.0"/><path d="M1261 2427 1300 2476 1305 2495 1258 2457Z" fill="#c8a27a" stroke="#b5936c" stroke-width="0.9" stroke-linejoin="round" opacity="1.0"/><path d="M1328 2316L1392 2325Q1389 2338 1378 2351L1316 2348Q1318 2332 1328 2316Z" fill="url(#gTan)" stroke="#b5936c" stroke-width="0.9" stroke-linejoin="round"/><path d="M1296 2373L1359 2372Q1356 2387.5 1345 2403L1284 2401Q1286 2387 1296 2373Z" fill="url(#gTan)" stroke="#b5936c" stroke-width="0.9" stroke-linejoin="round"/><path d="M1261 2427L1331 2428Q1328.5 2443.5 1318 2459L1258 2457Q1255.5 2442 1261 2427Z" fill="url(#gTan)" stroke="#b5936c" stroke-width="0.9" stroke-linejoin="round"/><path d="M1257 2460L1300 2476Q1306.5 2485.5 1305 2495L1262 2492Q1255.5 2476 1257 2460Z" fill="url(#gTan)" stroke="#b5936c" stroke-width="0.9" stroke-linejoin="round"/>
<path d="M1523 2232C1522.5 2228.3 1519.5 2216.2 1520 2210C1520.5 2203.8 1522.2 2198 1526 2195C1529.8 2192 1537.3 2191.2 1543 2192C1548.7 2192.8 1556.2 2195.3 1560 2200C1563.8 2204.7 1565.5 2213.3 1566 2220C1566.5 2226.7 1563.5 2236.7 1563 2240" fill="none" stroke="#5ab9ba" stroke-width="4.5" stroke-linecap="round" stroke-linejoin="round" opacity="1.0"/>
<path d="M1515 2232 1535 2232 1561 2240 1559 2263Z" fill="#2b8a8c" stroke="#247a7c" stroke-width="0.8" stroke-linejoin="round" opacity="1.0"/><path d="M1510 2245 1555 2286 1553 2313 1507 2267Z" fill="#2b8a8c" stroke="#247a7c" stroke-width="0.8" stroke-linejoin="round" opacity="1.0"/><path d="M1503 2291 1537 2340 1537 2368 1499 2315Z" fill="#2b8a8c" stroke="#247a7c" stroke-width="0.8" stroke-linejoin="round" opacity="1.0"/><path d="M1492 2347 1542 2394 1542 2420 1488 2374Z" fill="#2b8a8c" stroke="#247a7c" stroke-width="0.8" stroke-linejoin="round" opacity="1.0"/><path d="M1493 2396 1530 2448 1530 2470 1492 2425Z" fill="#2b8a8c" stroke="#247a7c" stroke-width="0.8" stroke-linejoin="round" opacity="1.0"/><path d="M1510 2245L1561 2240Q1564 2251.5 1559 2263L1507 2267Q1504.5 2256 1510 2245Z" fill="url(#gTeal)" stroke="#247a7c" stroke-width="0.8" stroke-linejoin="round"/><path d="M1503 2291L1555 2286Q1558 2299.5 1553 2313L1499 2315Q1497 2303 1503 2291Z" fill="url(#gTeal)" stroke="#247a7c" stroke-width="0.8" stroke-linejoin="round"/><path d="M1492 2347L1537 2340Q1541 2354 1537 2368L1488 2374Q1486 2360.5 1492 2347Z" fill="url(#gTeal)" stroke="#247a7c" stroke-width="0.8" stroke-linejoin="round"/><path d="M1493 2396L1542 2394Q1546 2407 1542 2420L1492 2425Q1488.5 2410.5 1493 2396Z" fill="url(#gTeal)" stroke="#247a7c" stroke-width="0.8" stroke-linejoin="round"/><path d="M1488 2445L1530 2448Q1534 2459 1530 2470L1488 2472Q1484 2458.5 1488 2445Z" fill="url(#gTeal)" stroke="#247a7c" stroke-width="0.8" stroke-linejoin="round"/>
<path d="M1620 2272C1620.5 2267.5 1619.3 2253.3 1623 2245C1626.7 2236.7 1633.8 2226.5 1642 2222C1650.2 2217.5 1664 2220 1672 2218C1680 2216 1686.7 2215.5 1690 2210C1693.3 2204.5 1693.2 2190.7 1692 2185C1690.8 2179.3 1685.7 2175.2 1683 2176C1680.3 2176.8 1675.7 2184 1676 2190C1676.3 2196 1680.5 2204.5 1685 2212C1689.5 2219.5 1699.3 2226.7 1703 2235C1706.7 2243.3 1709.2 2258.2 1707 2262C1704.8 2265.8 1697.8 2260 1690 2258C1682.2 2256 1668.3 2250.5 1660 2250C1651.7 2249.5 1643.3 2254.2 1640 2255" fill="none" stroke="#2aa2a4" stroke-width="4.5" stroke-linecap="round" stroke-linejoin="round" opacity="1.0"/>
<path d="M1682 2290.2 1680.7 2290.2 1679.1 2290.5 1677.1 2291.1 1674.9 2292 1672.3 2293.1 1669.6 2294.5 1666.6 2296.2 1663.5 2298.2 1660.2 2300.4 1657 2302.8 1653.7 2305.4 1650.5 2308.1 1647.4 2311 1644.4 2314.1 1641.6 2317.2 1639 2320.3 1636.8 2323.5 1634.8 2326.6 1633.2 2329.7 1631.9 2332.7 1631 2335.5 1630.6 2338.3 1630.6 2340.8 1630.9 2343.1 1631.8 2345.3 1633 2347.1 1634.7 2348.8 1622.4 2328.1 1620.7 2326.5 1619.5 2324.6 1618.7 2322.5 1618.3 2320.2 1618.3 2317.6 1618.8 2314.9 1619.6 2312 1620.9 2309 1622.5 2306 1624.5 2302.8 1626.8 2299.7 1629.3 2296.5 1632.1 2293.4 1635.1 2290.4 1638.2 2287.5 1641.4 2284.7 1644.7 2282.1 1648 2279.7 1651.2 2277.5 1654.3 2275.6 1657.3 2273.9 1660.1 2272.5 1662.6 2271.3 1664.9 2270.5 1666.8 2269.9 1668.4 2269.6 1669.7 2269.6Z" fill="#1b7d7f" opacity="1.0" stroke="#156f71" stroke-width="0.8" stroke-linejoin="round"/><path d="M1703.5 2326.5 1702.3 2326.5 1700.7 2326.8 1698.7 2327.4 1696.4 2328.2 1693.9 2329.4 1691.1 2330.8 1688.1 2332.5 1685 2334.4 1681.8 2336.6 1678.5 2339 1675.3 2341.6 1672 2344.4 1668.9 2347.3 1665.9 2350.3 1663.2 2353.4 1660.6 2356.6 1658.3 2359.7 1656.4 2362.8 1654.7 2365.9 1653.5 2368.9 1652.6 2371.8 1652.2 2374.5 1652.1 2377 1652.5 2379.4 1653.3 2381.5 1654.6 2383.4 1656.2 2385 1643.9 2364.4 1642.3 2362.8 1641.1 2360.9 1640.2 2358.8 1639.8 2356.4 1639.9 2353.9 1640.3 2351.2 1641.2 2348.3 1642.5 2345.3 1644.1 2342.2 1646.1 2339.1 1648.3 2335.9 1650.9 2332.8 1653.7 2329.7 1656.6 2326.7 1659.8 2323.8 1663 2321 1666.3 2318.4 1669.5 2316 1672.8 2313.8 1675.9 2311.8 1678.8 2310.2 1681.6 2308.7 1684.2 2307.6 1686.4 2306.7 1688.4 2306.2 1690 2305.9 1691.3 2305.9Z" fill="#1b7d7f" opacity="1.0" stroke="#156f71" stroke-width="0.8" stroke-linejoin="round"/><path d="M1725.1 2362.7 1723.8 2362.7 1722.2 2363 1720.3 2363.6 1718 2364.5 1715.5 2365.6 1712.7 2367 1709.7 2368.7 1706.6 2370.7 1703.4 2372.9 1700.1 2375.3 1696.8 2377.9 1693.6 2380.6 1690.5 2383.5 1687.5 2386.6 1684.7 2389.7 1682.2 2392.8 1679.9 2396 1677.9 2399.1 1676.3 2402.2 1675 2405.2 1674.2 2408 1673.7 2410.8 1673.7 2413.3 1674.1 2415.6 1674.9 2417.8 1676.1 2419.6 1677.8 2421.3 1665.5 2400.6 1663.9 2399 1662.6 2397.1 1661.8 2395 1661.4 2392.7 1661.4 2390.1 1661.9 2387.4 1662.8 2384.5 1664 2381.5 1665.6 2378.5 1667.6 2375.3 1669.9 2372.2 1672.4 2369 1675.2 2365.9 1678.2 2362.9 1681.3 2360 1684.6 2357.2 1687.8 2354.6 1691.1 2352.2 1694.3 2350 1697.4 2348.1 1700.4 2346.4 1703.2 2345 1705.7 2343.8 1708 2343 1710 2342.4 1711.6 2342.1 1712.8 2342.1Z" fill="#1b7d7f" opacity="1.0" stroke="#156f71" stroke-width="0.8" stroke-linejoin="round"/><path d="M1613.1 2312.5 1615.1 2313.8 1617.5 2314.9 1620.3 2315.7 1623.4 2316.2 1626.7 2316.4 1630.3 2316.3 1634.1 2315.9 1638 2315.3 1642 2314.5 1646.1 2313.4 1650.1 2312.2 1654.2 2310.7 1658.1 2309.2 1661.9 2307.5 1665.4 2305.7 1668.8 2303.9 1671.9 2302.1 1674.6 2300.3 1677.1 2298.6 1679.1 2296.9 1680.8 2295.4 1682 2294 1682.9 2292.8 1683.3 2291.8 1683.3 2291.1 1682.8 2290.5 1682 2290.2 1669.7 2269.6 1670.5 2269.9 1671 2270.4 1671 2271.2 1670.6 2272.2 1669.8 2273.4 1668.5 2274.8 1666.8 2276.3 1664.8 2278 1662.4 2279.7 1659.6 2281.5 1656.5 2283.3 1653.2 2285.1 1649.6 2286.9 1645.8 2288.5 1641.9 2290.1 1637.9 2291.5 1633.8 2292.8 1629.7 2293.8 1625.7 2294.7 1621.8 2295.3 1618 2295.7 1614.4 2295.7 1611.1 2295.5 1608 2295.1 1605.3 2294.3 1602.9 2293.2 1600.8 2291.9Z" fill="#2a9c9e" opacity="1.0" stroke="#156f71" stroke-width="0.8" stroke-linejoin="round"/><path d="M1628.8 2307.1 1632.7 2306.5 1636.7 2305.6 1640.8 2304.5 1644.9 2303.3 1648.9 2301.9 1652.8 2300.3 1656.6 2298.6 1660.2 2296.9 1663.5 2295.1 1666.6 2293.2 1669.4 2291.5 1671.8 2289.7 1673.8 2288.1 1670.3 2282.1 1668.2 2283.7 1665.8 2285.5 1663 2287.3 1660 2289.1 1656.6 2290.9 1653 2292.6 1649.2 2294.3 1645.3 2295.9 1641.3 2297.3 1637.2 2298.6 1633.2 2299.6 1629.1 2300.5 1625.2 2301.1Z" fill="#55b7b8" opacity="0.55"/><path d="M1634.7 2348.8 1636.7 2350.1 1639.1 2351.2 1641.9 2351.9 1644.9 2352.4 1648.3 2352.6 1651.9 2352.5 1655.6 2352.2 1659.5 2351.6 1663.6 2350.7 1667.6 2349.7 1671.7 2348.4 1675.7 2347 1679.6 2345.4 1683.4 2343.7 1687 2342 1690.4 2340.2 1693.4 2338.4 1696.2 2336.6 1698.6 2334.8 1700.7 2333.2 1702.3 2331.7 1703.6 2330.3 1704.4 2329.1 1704.8 2328.1 1704.8 2327.3 1704.4 2326.8 1703.5 2326.5 1691.3 2305.9 1692.1 2306.1 1692.5 2306.7 1692.6 2307.5 1692.2 2308.5 1691.3 2309.7 1690.1 2311 1688.4 2312.6 1686.4 2314.2 1683.9 2316 1681.2 2317.7 1678.1 2319.6 1674.7 2321.4 1671.1 2323.1 1667.4 2324.8 1663.4 2326.3 1659.4 2327.8 1655.4 2329 1651.3 2330.1 1647.3 2330.9 1643.4 2331.6 1639.6 2331.9 1636 2332 1632.7 2331.8 1629.6 2331.3 1626.8 2330.5 1624.4 2329.5 1622.4 2328.1Z" fill="#2a9c9e" opacity="1.0" stroke="#156f71" stroke-width="0.8" stroke-linejoin="round"/><path d="M1650.3 2343.3 1654.3 2342.7 1658.3 2341.9 1662.4 2340.8 1666.4 2339.5 1670.4 2338.1 1674.4 2336.5 1678.1 2334.9 1681.7 2333.1 1685.1 2331.3 1688.2 2329.5 1690.9 2327.7 1693.3 2326 1695.4 2324.3 1691.8 2318.3 1689.8 2320 1687.4 2321.7 1684.6 2323.5 1681.5 2325.3 1678.2 2327.1 1674.6 2328.9 1670.8 2330.6 1666.9 2332.1 1662.9 2333.6 1658.8 2334.8 1654.7 2335.9 1650.7 2336.7 1646.8 2337.3Z" fill="#55b7b8" opacity="0.55"/><path d="M1656.2 2385 1658.3 2386.3 1660.7 2387.4 1663.4 2388.2 1666.5 2388.7 1669.8 2388.9 1673.4 2388.8 1677.2 2388.4 1681.1 2387.8 1685.1 2387 1689.2 2385.9 1693.3 2384.7 1697.3 2383.2 1701.2 2381.7 1705 2380 1708.6 2378.2 1711.9 2376.4 1715 2374.6 1717.8 2372.8 1720.2 2371.1 1722.2 2369.4 1723.9 2367.9 1725.2 2366.5 1726 2365.3 1726.4 2364.3 1726.4 2363.6 1725.9 2363 1725.1 2362.7 1712.8 2342.1 1713.7 2342.4 1714.1 2342.9 1714.1 2343.7 1713.7 2344.7 1712.9 2345.9 1711.6 2347.3 1710 2348.8 1707.9 2350.5 1705.5 2352.2 1702.7 2354 1699.6 2355.8 1696.3 2357.6 1692.7 2359.4 1688.9 2361 1685 2362.6 1681 2364 1676.9 2365.3 1672.9 2366.3 1668.8 2367.2 1664.9 2367.8 1661.1 2368.2 1657.6 2368.2 1654.2 2368 1651.2 2367.6 1648.4 2366.8 1646 2365.7 1643.9 2364.4Z" fill="#2a9c9e" opacity="1.0" stroke="#156f71" stroke-width="0.8" stroke-linejoin="round"/><path d="M1671.9 2379.6 1675.8 2379 1679.8 2378.1 1683.9 2377 1688 2375.8 1692 2374.4 1695.9 2372.8 1699.7 2371.1 1703.3 2369.4 1706.6 2367.6 1709.7 2365.7 1712.5 2364 1714.9 2362.2 1717 2360.6 1713.4 2354.6 1711.4 2356.2 1708.9 2358 1706.2 2359.8 1703.1 2361.6 1699.7 2363.4 1696.1 2365.1 1692.4 2366.8 1688.4 2368.4 1684.4 2369.8 1680.4 2371.1 1676.3 2372.1 1672.3 2373 1668.4 2373.6Z" fill="#55b7b8" opacity="0.55"/><path d="M1677.8 2421.3 1678.5 2421.8 1679.4 2422.3 1680.3 2422.8 1681.2 2423.3 1682.2 2423.7 1683.3 2424 1684.4 2424.3 1685.6 2424.5 1686.8 2424.8 1688.1 2424.9 1689.4 2425 1690.7 2425.1 1692.1 2425.1 1693.5 2425.1 1695 2425 1696.5 2424.9 1698 2424.8 1699.5 2424.6 1701.1 2424.3 1702.7 2424.1 1704.3 2423.8 1705.9 2423.4 1707.5 2423 1709.1 2422.6 1710.8 2422.2 1712.4 2421.7 1714 2421.2 1701.7 2400.5 1700.1 2401.1 1698.5 2401.5 1696.9 2402 1695.2 2402.4 1693.6 2402.8 1692 2403.1 1690.4 2403.4 1688.8 2403.7 1687.3 2403.9 1685.7 2404.1 1684.2 2404.3 1682.7 2404.4 1681.3 2404.5 1679.8 2404.5 1678.4 2404.5 1677.1 2404.4 1675.8 2404.3 1674.5 2404.1 1673.3 2403.9 1672.1 2403.7 1671 2403.4 1670 2403 1669 2402.6 1668 2402.2 1667.1 2401.7 1666.3 2401.2 1665.5 2400.6Z" fill="#2a9c9e" opacity="1.0" stroke="#156f71" stroke-width="0.8" stroke-linejoin="round"/><path d="M1679.1 2415.4 1680.3 2415.7 1681.5 2415.9 1682.8 2416 1684.1 2416.2 1685.4 2416.2 1686.8 2416.2 1688.2 2416.2 1689.7 2416.2 1691.2 2416 1692.7 2415.9 1694.2 2415.7 1695.8 2415.5 1697.4 2415.2 1693.8 2409.2 1692.3 2409.5 1690.7 2409.7 1689.1 2409.9 1687.6 2410.1 1686.1 2410.2 1684.7 2410.2 1683.3 2410.3 1681.9 2410.2 1680.5 2410.2 1679.2 2410.1 1678 2409.9 1676.7 2409.7 1675.6 2409.4Z" fill="#55b7b8" opacity="0.55"/>
<path d="M1654.7 2410.1 1651.5 2411.1 1648.3 2412.3 1645 2413.6 1641.7 2415.1 1638.5 2416.8 1635.5 2418.5 1632.6 2420.4 1629.8 2422.5 1627.4 2424.6 1625.2 2426.7 1623.3 2429 1621.7 2431.3 1620.5 2433.5 1619.7 2435.8 1619.2 2438.1 1619.2 2440.3 1619.5 2442.4 1620.3 2444.5 1621.4 2446.4 1622.9 2448.3 1624.8 2450 1627 2451.5 1629.5 2452.9 1632.3 2454.1 1635.3 2455.2 1638.5 2456.1 1641.9 2456.8 1637.6 2435.2 1634.2 2434.5 1631 2433.6 1627.9 2432.6 1625.2 2431.3 1622.7 2429.9 1620.5 2428.4 1618.6 2426.7 1617.1 2424.9 1615.9 2422.9 1615.2 2420.9 1614.8 2418.7 1614.9 2416.5 1615.3 2414.3 1616.2 2412 1617.4 2409.7 1618.9 2407.4 1620.8 2405.2 1623 2403 1625.5 2400.9 1628.2 2398.9 1631.2 2397 1634.2 2395.2 1637.4 2393.5 1640.7 2392 1644 2390.7 1647.2 2389.6 1650.4 2388.6Z" fill="#187a7c" opacity="1.0" stroke="#146e70" stroke-width="0.8" stroke-linejoin="round"/><path d="M1662.9 2451.1 1659.7 2452 1656.5 2453.2 1653.2 2454.5 1649.9 2456 1646.7 2457.7 1643.7 2459.4 1640.7 2461.4 1638 2463.4 1635.5 2465.5 1633.3 2467.7 1631.4 2469.9 1629.9 2472.2 1628.7 2474.5 1627.8 2476.7 1627.4 2479 1627.3 2481.2 1627.7 2483.3 1628.4 2485.4 1629.6 2487.3 1631.1 2489.2 1633 2490.9 1635.2 2492.4 1637.7 2493.8 1640.4 2495.1 1643.5 2496.1 1646.7 2497 1650.1 2497.7 1645.7 2476.1 1642.4 2475.4 1639.1 2474.5 1636.1 2473.5 1633.3 2472.3 1630.8 2470.9 1628.6 2469.3 1626.8 2467.6 1625.3 2465.8 1624.1 2463.8 1623.4 2461.8 1623 2459.6 1623.1 2457.4 1623.5 2455.2 1624.4 2452.9 1625.6 2450.6 1627.1 2448.3 1629 2446.1 1631.2 2443.9 1633.7 2441.8 1636.4 2439.8 1639.3 2437.9 1642.4 2436.1 1645.6 2434.4 1648.9 2433 1652.1 2431.6 1655.4 2430.5 1658.6 2429.5Z" fill="#187a7c" opacity="1.0" stroke="#146e70" stroke-width="0.8" stroke-linejoin="round"/><path d="M1633.7 2415.9 1637.2 2416.4 1640.7 2416.8 1644.3 2417 1647.9 2417 1651.4 2416.8 1654.8 2416.6 1658 2416.2 1661 2415.7 1663.8 2415.1 1666.3 2414.4 1668.5 2413.7 1670.3 2413 1671.9 2412.2 1673 2411.4 1673.7 2410.7 1674.1 2410 1674 2409.4 1673.6 2408.8 1672.8 2408.4 1671.6 2408.1 1670 2407.9 1668.1 2407.8 1665.9 2408 1663.4 2408.2 1660.7 2408.7 1657.8 2409.3 1654.7 2410.1 1650.4 2388.6 1653.5 2387.8 1656.4 2387.1 1659.1 2386.7 1661.6 2386.4 1663.8 2386.3 1665.7 2386.3 1667.2 2386.5 1668.5 2386.8 1669.3 2387.2 1669.7 2387.8 1669.8 2388.4 1669.4 2389.1 1668.7 2389.8 1667.5 2390.6 1666 2391.4 1664.2 2392.1 1662 2392.9 1659.5 2393.5 1656.7 2394.1 1653.7 2394.6 1650.4 2395 1647.1 2395.3 1643.6 2395.4 1640 2395.4 1636.4 2395.2 1632.9 2394.8 1629.4 2394.3Z" fill="#23979a" opacity="1.0" stroke="#146e70" stroke-width="0.8" stroke-linejoin="round"/><path d="M1656.1 2406.9 1659.1 2406.4 1661.9 2405.8 1664.4 2405.2 1666.6 2404.4 1668.5 2403.7 1670 2402.9 1671.1 2402.1 1671.9 2401.4 1672.2 2400.7 1672.2 2400.1 1671.7 2399.5 1670.9 2399.1 1669.7 2398.8 1668.5 2392.5 1669.7 2392.8 1670.5 2393.3 1670.9 2393.8 1671 2394.4 1670.6 2395.1 1669.9 2395.9 1668.8 2396.6 1667.2 2397.4 1665.4 2398.2 1663.2 2398.9 1660.7 2399.6 1657.9 2400.2 1654.9 2400.7Z" fill="#50b2b3" opacity="0.55"/><path d="M1641.9 2456.8 1645.4 2457.3 1648.9 2457.7 1652.5 2457.9 1656.1 2457.9 1659.6 2457.8 1662.9 2457.5 1666.2 2457.1 1669.2 2456.6 1672 2456 1674.5 2455.3 1676.7 2454.6 1678.5 2453.9 1680 2453.1 1681.2 2452.3 1681.9 2451.6 1682.3 2450.9 1682.2 2450.3 1681.8 2449.7 1681 2449.3 1679.7 2449 1678.2 2448.8 1676.3 2448.7 1674.1 2448.9 1671.6 2449.2 1668.9 2449.6 1666 2450.2 1662.9 2451.1 1658.6 2429.5 1661.7 2428.7 1664.6 2428 1667.3 2427.6 1669.8 2427.3 1672 2427.2 1673.9 2427.2 1675.4 2427.4 1676.6 2427.7 1677.5 2428.2 1677.9 2428.7 1678 2429.3 1677.6 2430 1676.9 2430.7 1675.7 2431.5 1674.2 2432.3 1672.3 2433 1670.1 2433.8 1667.6 2434.4 1664.9 2435 1661.8 2435.5 1658.6 2435.9 1655.2 2436.2 1651.8 2436.3 1648.2 2436.3 1644.6 2436.1 1641 2435.7 1637.6 2435.2Z" fill="#23979a" opacity="1.0" stroke="#146e70" stroke-width="0.8" stroke-linejoin="round"/><path d="M1664.3 2447.8 1667.3 2447.3 1670.1 2446.7 1672.6 2446.1 1674.8 2445.3 1676.7 2444.6 1678.2 2443.8 1679.3 2443 1680.1 2442.3 1680.4 2441.6 1680.4 2441 1679.9 2440.4 1679.1 2440 1677.9 2439.7 1676.6 2433.4 1677.8 2433.8 1678.7 2434.2 1679.1 2434.7 1679.2 2435.4 1678.8 2436.1 1678.1 2436.8 1676.9 2437.6 1675.4 2438.3 1673.6 2439.1 1671.4 2439.8 1668.8 2440.5 1666.1 2441.1 1663 2441.6Z" fill="#50b2b3" opacity="0.55"/><path d="M1650.1 2497.7 1651.4 2497.9 1652.8 2498.1 1654.3 2498.3 1655.7 2498.5 1657.1 2498.6 1658.5 2498.7 1660 2498.7 1661.4 2498.8 1662.8 2498.8 1664.2 2498.8 1665.7 2498.8 1667 2498.7 1668.4 2498.6 1669.8 2498.5 1671.1 2498.4 1672.4 2498.3 1673.7 2498.1 1675 2497.9 1676.2 2497.7 1677.4 2497.5 1678.5 2497.3 1679.6 2497 1680.7 2496.8 1681.7 2496.5 1682.6 2496.2 1683.6 2496 1684.4 2495.7 1680.1 2474.1 1679.2 2474.4 1678.3 2474.7 1677.4 2475 1676.3 2475.2 1675.3 2475.5 1674.2 2475.7 1673 2475.9 1671.9 2476.1 1670.6 2476.3 1669.4 2476.5 1668.1 2476.7 1666.8 2476.8 1665.5 2476.9 1664.1 2477.1 1662.7 2477.1 1661.3 2477.2 1659.9 2477.2 1658.5 2477.2 1657.1 2477.2 1655.7 2477.2 1654.2 2477.1 1652.8 2477 1651.4 2476.9 1649.9 2476.7 1648.5 2476.6 1647.1 2476.4 1645.7 2476.1Z" fill="#23979a" opacity="1.0" stroke="#146e70" stroke-width="0.8" stroke-linejoin="round"/><path d="M1658.1 2489.5 1659.5 2489.5 1661 2489.5 1662.4 2489.5 1663.8 2489.5 1665.2 2489.4 1666.6 2489.3 1667.9 2489.2 1669.3 2489.1 1670.6 2489 1671.9 2488.8 1673.1 2488.6 1674.3 2488.4 1675.5 2488.2 1674.2 2482 1673.1 2482.2 1671.8 2482.4 1670.6 2482.6 1669.3 2482.7 1668 2482.9 1666.7 2483 1665.3 2483.1 1663.9 2483.2 1662.6 2483.2 1661.1 2483.3 1659.7 2483.3 1658.3 2483.3 1656.9 2483.2Z" fill="#50b2b3" opacity="0.55"/>
<path d="M1700 2390C1704.2 2391.7 1719.5 2393.3 1725 2400C1730.5 2406.7 1730.8 2420.8 1733 2430C1735.2 2439.2 1735.2 2448.3 1738 2455C1740.8 2461.7 1746 2466.2 1750 2470C1754 2473.8 1760 2476.7 1762 2478" fill="none" stroke="#8ccfcf" stroke-width="4.5" stroke-linecap="round" stroke-linejoin="round" opacity="1.0"/>
<path d="M1598 2476C1601.7 2478.3 1611.3 2489 1620 2490C1628.7 2491 1640 2485.3 1650 2482C1660 2478.7 1671.7 2474.5 1680 2470C1688.3 2465.5 1694.7 2456.3 1700 2455C1705.3 2453.7 1711 2458.5 1712 2462C1713 2465.5 1709.7 2472.7 1706 2476C1702.3 2479.3 1692.7 2481 1690 2482" fill="none" stroke="#1b8889" stroke-width="4.5" stroke-linecap="round" stroke-linejoin="round" opacity="1.0"/>
<path d="M1717.7 2239.8 1716.9 2241.4 1716 2243.4 1715.2 2245.7 1714.5 2248.3 1713.8 2251.3 1713.2 2254.4 1712.7 2257.8 1712.4 2261.3 1712.2 2265 1712.2 2268.7 1712.4 2272.4 1712.7 2276.1 1713.3 2279.7 1714 2283.2 1714.9 2286.6 1716.1 2289.7 1717.4 2292.6 1718.9 2295.2 1720.6 2297.5 1722.4 2299.4 1724.4 2301 1726.6 2302.2 1728.8 2303 1731.2 2303.4 1733.6 2303.3 1736.1 2302.9 1738.7 2302.1 1721.2 2297.8 1718.6 2298.7 1716.1 2299.1 1713.7 2299.1 1711.3 2298.7 1709.1 2297.9 1706.9 2296.7 1704.9 2295.2 1703.1 2293.2 1701.4 2290.9 1699.9 2288.3 1698.6 2285.4 1697.4 2282.3 1696.5 2279 1695.8 2275.5 1695.2 2271.8 1694.9 2268.1 1694.7 2264.4 1694.7 2260.7 1694.9 2257.1 1695.3 2253.5 1695.7 2250.2 1696.3 2247 1697 2244.1 1697.7 2241.4 1698.5 2239.1 1699.4 2237.1 1700.2 2235.5Z" fill="#cdcdcd" opacity="1.0" stroke="#a8a8a8" stroke-width="0.8" stroke-linejoin="round"/><path d="M1763.5 2250.9 1762.7 2252.5 1761.8 2254.5 1761 2256.9 1760.3 2259.5 1759.6 2262.4 1759 2265.6 1758.6 2269 1758.2 2272.5 1758 2276.1 1758 2279.8 1758.2 2283.6 1758.5 2287.3 1759.1 2290.9 1759.8 2294.4 1760.7 2297.7 1761.9 2300.9 1763.2 2303.7 1764.7 2306.3 1766.4 2308.6 1768.2 2310.6 1770.2 2312.2 1772.4 2313.4 1774.6 2314.1 1777 2314.5 1779.4 2314.5 1781.9 2314.1 1784.5 2313.2 1767 2309 1764.5 2309.8 1762 2310.2 1759.5 2310.3 1757.2 2309.9 1754.9 2309.1 1752.8 2307.9 1750.7 2306.3 1748.9 2304.4 1747.2 2302.1 1745.7 2299.5 1744.4 2296.6 1743.3 2293.5 1742.3 2290.1 1741.6 2286.6 1741.1 2283 1740.7 2279.3 1740.5 2275.6 1740.6 2271.9 1740.7 2268.2 1741.1 2264.7 1741.5 2261.3 1742.1 2258.2 1742.8 2255.2 1743.5 2252.6 1744.4 2250.3 1745.2 2248.3 1746.1 2246.7Z" fill="#cdcdcd" opacity="1.0" stroke="#a8a8a8" stroke-width="0.8" stroke-linejoin="round"/><path d="M1809.4 2262.1 1808.5 2263.7 1807.7 2265.7 1806.9 2268 1806.1 2270.7 1805.4 2273.6 1804.8 2276.8 1804.4 2280.1 1804 2283.6 1803.9 2287.3 1803.8 2291 1804 2294.7 1804.4 2298.4 1804.9 2302 1805.6 2305.5 1806.6 2308.9 1807.7 2312 1809 2314.9 1810.5 2317.5 1812.2 2319.8 1814.1 2321.7 1816.1 2323.3 1818.2 2324.5 1820.5 2325.3 1822.8 2325.7 1825.3 2325.7 1827.8 2325.2 1830.3 2324.4 1812.8 2320.1 1810.3 2321 1807.8 2321.4 1805.3 2321.4 1803 2321 1800.7 2320.3 1798.6 2319.1 1796.6 2317.5 1794.7 2315.5 1793 2313.3 1791.5 2310.6 1790.2 2307.8 1789.1 2304.6 1788.1 2301.3 1787.4 2297.8 1786.9 2294.2 1786.5 2290.5 1786.4 2286.7 1786.4 2283 1786.6 2279.4 1786.9 2275.9 1787.3 2272.5 1787.9 2269.3 1788.6 2266.4 1789.4 2263.8 1790.2 2261.4 1791 2259.4 1791.9 2257.8Z" fill="#cdcdcd" opacity="1.0" stroke="#a8a8a8" stroke-width="0.8" stroke-linejoin="round"/><path d="M1855.2 2273.2 1854.3 2274.9 1853.5 2276.9 1852.7 2279.2 1851.9 2281.8 1851.2 2284.8 1850.7 2287.9 1850.2 2291.3 1849.9 2294.8 1849.7 2298.4 1849.7 2302.1 1849.8 2305.9 1850.2 2309.6 1850.7 2313.2 1851.4 2316.7 1852.4 2320.1 1853.5 2323.2 1854.8 2326.1 1856.3 2328.7 1858 2331 1859.9 2332.9 1861.9 2334.5 1864 2335.7 1866.3 2336.5 1868.6 2336.9 1871.1 2336.8 1873.6 2336.4 1876.1 2335.6 1858.6 2331.3 1856.1 2332.1 1853.6 2332.6 1851.1 2332.6 1848.8 2332.2 1846.5 2331.4 1844.4 2330.2 1842.4 2328.6 1840.5 2326.7 1838.8 2324.4 1837.3 2321.8 1836 2318.9 1834.9 2315.8 1834 2312.4 1833.2 2308.9 1832.7 2305.3 1832.3 2301.6 1832.2 2297.9 1832.2 2294.2 1832.4 2290.5 1832.7 2287 1833.2 2283.7 1833.7 2280.5 1834.4 2277.6 1835.2 2274.9 1836 2272.6 1836.8 2270.6 1837.7 2269Z" fill="#cdcdcd" opacity="1.0" stroke="#a8a8a8" stroke-width="0.8" stroke-linejoin="round"/><path d="M1901 2284.4 1900.5 2285.3 1900 2286.4 1899.5 2287.6 1899 2288.9 1898.5 2290.4 1898 2291.9 1897.6 2293.6 1897.2 2295.3 1896.8 2297.2 1896.5 2299.1 1896.2 2301.1 1895.9 2303.1 1895.7 2305.3 1895.6 2307.4 1895.5 2309.6 1895.5 2311.8 1895.5 2314.1 1895.6 2316.3 1895.8 2318.5 1896 2320.7 1896.3 2322.9 1896.7 2325.1 1897.1 2327.2 1897.6 2329.2 1898.2 2331.2 1898.8 2333.1 1899.6 2334.9 1882.1 2330.7 1881.4 2328.9 1880.7 2327 1880.1 2325 1879.6 2322.9 1879.2 2320.8 1878.8 2318.7 1878.5 2316.5 1878.3 2314.3 1878.1 2312 1878 2309.8 1878 2307.6 1878 2305.3 1878.1 2303.1 1878.2 2301 1878.4 2298.9 1878.7 2296.8 1879 2294.8 1879.3 2292.9 1879.7 2291 1880.1 2289.3 1880.5 2287.6 1881 2286.1 1881.5 2284.7 1882 2283.3 1882.5 2282.1 1883 2281.1 1883.5 2280.1Z" fill="#cdcdcd" opacity="1.0" stroke="#a8a8a8" stroke-width="0.8" stroke-linejoin="round"/><path d="M1738.7 2302.1 1741.2 2300.9 1743.8 2299.3 1746.3 2297.4 1748.7 2295.2 1751.1 2292.6 1753.4 2289.9 1755.5 2286.9 1757.6 2283.8 1759.4 2280.6 1761.1 2277.3 1762.7 2274 1764 2270.7 1765.2 2267.5 1766.2 2264.4 1766.9 2261.5 1767.5 2258.8 1767.9 2256.3 1768.1 2254.1 1768.1 2252.2 1767.9 2250.7 1767.6 2249.5 1767.2 2248.7 1766.6 2248.4 1765.9 2248.4 1765.2 2248.8 1764.4 2249.7 1763.5 2250.9 1746.1 2246.7 1746.9 2245.4 1747.7 2244.6 1748.4 2244.1 1749.1 2244.1 1749.7 2244.5 1750.1 2245.3 1750.4 2246.4 1750.6 2248 1750.6 2249.8 1750.4 2252 1750 2254.5 1749.4 2257.2 1748.7 2260.1 1747.7 2263.2 1746.5 2266.5 1745.2 2269.7 1743.7 2273.1 1741.9 2276.3 1740.1 2279.6 1738 2282.7 1735.9 2285.6 1733.6 2288.4 1731.2 2290.9 1728.8 2293.1 1726.3 2295 1723.7 2296.6 1721.2 2297.8Z" fill="#e1e1e1" opacity="1.0" stroke="#a8a8a8" stroke-width="0.8" stroke-linejoin="round"/><path d="M1748 2285.1 1750 2282 1751.9 2278.8 1753.6 2275.5 1755.2 2272.2 1756.5 2268.9 1757.7 2265.7 1758.6 2262.6 1759.4 2259.6 1760 2256.9 1760.3 2254.5 1760.5 2252.3 1760.5 2250.4 1760.4 2248.9 1755.3 2247.6 1755.5 2249.2 1755.5 2251 1755.3 2253.2 1754.9 2255.7 1754.3 2258.4 1753.6 2261.3 1752.6 2264.4 1751.4 2267.6 1750.1 2270.9 1748.6 2274.2 1746.8 2277.5 1745 2280.8 1742.9 2283.9Z" fill="#f2f2f2" opacity="0.55"/><path d="M1784.5 2313.2 1787 2312 1789.6 2310.5 1792.1 2308.5 1794.5 2306.3 1796.9 2303.8 1799.2 2301.1 1801.3 2298.1 1803.4 2295 1805.2 2291.8 1807 2288.5 1808.5 2285.2 1809.8 2281.9 1811 2278.7 1812 2275.6 1812.7 2272.6 1813.3 2269.9 1813.7 2267.5 1813.9 2265.3 1813.9 2263.4 1813.7 2261.9 1813.4 2260.7 1813 2259.9 1812.4 2259.5 1811.7 2259.6 1811 2260 1810.2 2260.8 1809.4 2262.1 1791.9 2257.8 1792.7 2256.6 1793.5 2255.7 1794.3 2255.3 1794.9 2255.3 1795.5 2255.7 1795.9 2256.4 1796.2 2257.6 1796.4 2259.1 1796.4 2261 1796.2 2263.2 1795.8 2265.7 1795.2 2268.4 1794.5 2271.3 1793.5 2274.4 1792.4 2277.6 1791 2280.9 1789.5 2284.2 1787.8 2287.5 1785.9 2290.7 1783.9 2293.8 1781.7 2296.8 1779.4 2299.5 1777 2302.1 1774.6 2304.3 1772.1 2306.2 1769.5 2307.8 1767 2309Z" fill="#e1e1e1" opacity="1.0" stroke="#a8a8a8" stroke-width="0.8" stroke-linejoin="round"/><path d="M1793.8 2296.3 1795.8 2293.2 1797.7 2289.9 1799.4 2286.6 1801 2283.3 1802.3 2280 1803.5 2276.8 1804.4 2273.7 1805.2 2270.8 1805.8 2268.1 1806.2 2265.6 1806.3 2263.4 1806.4 2261.6 1806.2 2260 1801.1 2258.8 1801.3 2260.3 1801.3 2262.2 1801.1 2264.4 1800.7 2266.9 1800.1 2269.6 1799.4 2272.5 1798.4 2275.6 1797.3 2278.8 1795.9 2282.1 1794.4 2285.4 1792.7 2288.7 1790.8 2291.9 1788.8 2295Z" fill="#f2f2f2" opacity="0.55"/><path d="M1830.3 2324.4 1832.8 2323.2 1835.4 2321.6 1837.9 2319.7 1840.3 2317.5 1842.7 2315 1845 2312.2 1847.2 2309.3 1849.2 2306.2 1851.1 2302.9 1852.8 2299.6 1854.3 2296.3 1855.7 2293 1856.8 2289.8 1857.8 2286.7 1858.5 2283.8 1859.1 2281.1 1859.5 2278.6 1859.7 2276.4 1859.7 2274.5 1859.5 2273 1859.2 2271.9 1858.8 2271.1 1858.2 2270.7 1857.6 2270.7 1856.8 2271.2 1856 2272 1855.2 2273.2 1837.7 2269 1838.5 2267.7 1839.3 2266.9 1840.1 2266.5 1840.7 2266.4 1841.3 2266.8 1841.7 2267.6 1842 2268.8 1842.2 2270.3 1842.2 2272.2 1842 2274.4 1841.6 2276.8 1841.1 2279.5 1840.3 2282.5 1839.3 2285.6 1838.2 2288.8 1836.8 2292.1 1835.3 2295.4 1833.6 2298.7 1831.7 2301.9 1829.7 2305 1827.5 2308 1825.2 2310.7 1822.9 2313.2 1820.4 2315.4 1817.9 2317.4 1815.4 2318.9 1812.8 2320.1Z" fill="#e1e1e1" opacity="1.0" stroke="#a8a8a8" stroke-width="0.8" stroke-linejoin="round"/><path d="M1839.6 2307.4 1841.7 2304.3 1843.5 2301.1 1845.3 2297.8 1846.8 2294.5 1848.1 2291.2 1849.3 2288 1850.3 2284.9 1851 2282 1851.6 2279.3 1852 2276.8 1852.2 2274.6 1852.2 2272.7 1852 2271.2 1846.9 2269.9 1847.1 2271.5 1847.1 2273.4 1846.9 2275.5 1846.5 2278 1846 2280.7 1845.2 2283.7 1844.2 2286.8 1843.1 2290 1841.7 2293.3 1840.2 2296.6 1838.5 2299.9 1836.6 2303.1 1834.6 2306.2Z" fill="#f2f2f2" opacity="0.55"/><path d="M1876.1 2335.6 1878.7 2334.4 1881.2 2332.8 1883.7 2330.9 1886.2 2328.6 1888.5 2326.1 1890.8 2323.4 1893 2320.4 1895 2317.3 1896.9 2314.1 1898.6 2310.8 1900.1 2307.5 1901.5 2304.2 1902.6 2301 1903.6 2297.9 1904.4 2295 1904.9 2292.2 1905.3 2289.8 1905.5 2287.6 1905.5 2285.7 1905.3 2284.2 1905 2283 1904.6 2282.2 1904 2281.9 1903.4 2281.9 1902.6 2282.3 1901.8 2283.2 1901 2284.4 1883.5 2280.1 1884.3 2278.9 1885.1 2278.1 1885.9 2277.6 1886.5 2277.6 1887.1 2278 1887.6 2278.8 1887.9 2279.9 1888 2281.4 1888 2283.3 1887.8 2285.5 1887.4 2288 1886.9 2290.7 1886.1 2293.6 1885.1 2296.7 1884 2299.9 1882.6 2303.2 1881.1 2306.5 1879.4 2309.8 1877.5 2313.1 1875.5 2316.2 1873.3 2319.1 1871 2321.9 1868.7 2324.4 1866.2 2326.6 1863.7 2328.5 1861.2 2330.1 1858.6 2331.3Z" fill="#e1e1e1" opacity="1.0" stroke="#a8a8a8" stroke-width="0.8" stroke-linejoin="round"/><path d="M1885.5 2318.6 1887.5 2315.5 1889.4 2312.3 1891.1 2309 1892.6 2305.7 1894 2302.4 1895.1 2299.2 1896.1 2296.1 1896.8 2293.1 1897.4 2290.4 1897.8 2287.9 1898 2285.8 1898 2283.9 1897.8 2282.3 1892.8 2281.1 1892.9 2282.6 1892.9 2284.5 1892.7 2286.7 1892.3 2289.2 1891.8 2291.9 1891 2294.8 1890 2297.9 1888.9 2301.1 1887.5 2304.4 1886 2307.7 1884.3 2311 1882.4 2314.3 1880.4 2317.4Z" fill="#f2f2f2" opacity="0.55"/>
<path d="M1380 2574 Q1420 2568 1458 2592 L1452 2606 Q1418 2586 1383 2590 Z" fill="#1f5fa9"/>
<path d="M1380 2582C1376.7 2583.3 1366.7 2585.3 1360 2590C1353.3 2594.7 1343 2601.7 1340 2610C1337 2618.3 1338.7 2632.5 1342 2640C1345.3 2647.5 1352.8 2653.3 1360 2655C1367.2 2656.7 1379.2 2654.2 1385 2650C1390.8 2645.8 1394.2 2636.7 1395 2630C1395.8 2623.3 1388.3 2615 1390 2610C1391.7 2605 1402.5 2601.7 1405 2600" fill="none" stroke="#1f5fa9" stroke-width="4.2" stroke-linecap="round" stroke-linejoin="round" opacity="1.0"/>
<path d="M1552 2548C1546.7 2546.2 1529 2538.8 1520 2537C1511 2535.2 1502.7 2533.8 1498 2537C1493.3 2540.2 1491 2548.3 1492 2556C1493 2563.7 1498.5 2577.2 1504 2583C1509.5 2588.8 1517.3 2590.2 1525 2591C1532.7 2591.8 1545.8 2588.5 1550 2588" fill="none" stroke="#1f5fa9" stroke-width="4.2" stroke-linecap="round" stroke-linejoin="round" opacity="1.0"/>
<path d="M1550 2541 L1603 2537 L1600 2560 L1555 2556 Z" fill="#1f5fa9"/>
<path d="M1516.1 2471.2 1516.5 2475.7 1517.1 2481.3 1517.8 2488 1518.6 2495.5 1519.5 2503.7 1520.3 2512.5 1521.2 2521.7 1522 2531 1522.9 2541.6 1523.9 2553.8 1524.9 2567.1 1525.9 2580.6 1526.9 2593.7 1527.8 2605.6 1528.5 2615.6 1529 2622.9 1553 2621.1 1552.4 2613.8 1551.7 2603.8 1550.8 2591.9 1549.8 2578.9 1548.8 2565.3 1547.8 2552 1546.8 2539.6 1546 2529 1545.1 2519.5 1544.2 2510.2 1543.4 2501.3 1542.5 2493 1541.7 2485.4 1541 2478.8 1540.4 2473.2 1539.9 2468.8Z" fill="#6e9fd6" opacity="0.8"/>
<path d="M1535.1 2630.8 1534.8 2630.6 1534.3 2630.5 1533.6 2630.5 1532.5 2630.6 1531.3 2630.9 1529.8 2631.4 1528.2 2631.9 1526.3 2632.7 1524.4 2633.5 1522.3 2634.6 1520.2 2635.7 1518 2637.1 1515.8 2638.5 1513.7 2640 1511.5 2641.7 1509.5 2643.4 1507.6 2645.3 1505.9 2647.2 1504.3 2649.1 1502.9 2651.1 1501.8 2653.1 1500.9 2655 1500.2 2657 1499.8 2658.9 1499.7 2660.8 1499.9 2662.6 1500.3 2664.3 1494.9 2649.2 1494.5 2647.5 1494.3 2645.7 1494.4 2643.8 1494.8 2641.9 1495.5 2640 1496.4 2638 1497.5 2636 1498.9 2634 1500.5 2632.1 1502.2 2630.2 1504.1 2628.4 1506.2 2626.6 1508.3 2625 1510.4 2623.4 1512.6 2622 1514.8 2620.7 1516.9 2619.5 1519 2618.5 1520.9 2617.6 1522.8 2616.9 1524.4 2616.3 1525.9 2615.9 1527.1 2615.6 1528.2 2615.4 1528.9 2615.4 1529.5 2615.5 1529.7 2615.7Z" fill="#d0def0" opacity="0.95"/><path d="M1487 2626.9 1487.7 2628.5 1488.7 2630 1490 2631.4 1491.5 2632.6 1493.2 2633.7 1495.2 2634.7 1497.4 2635.5 1499.7 2636.1 1502.1 2636.6 1504.7 2637 1507.3 2637.2 1510 2637.3 1512.7 2637.2 1515.3 2637.1 1517.9 2636.8 1520.4 2636.4 1522.8 2636 1525.1 2635.5 1527.1 2634.9 1529 2634.3 1530.6 2633.7 1532.1 2633.1 1533.2 2632.5 1534.1 2632 1534.7 2631.5 1535 2631.1 1535.1 2630.8 1529.7 2615.7 1529.7 2616.1 1529.3 2616.5 1528.7 2616.9 1527.8 2617.5 1526.7 2618 1525.3 2618.6 1523.6 2619.2 1521.7 2619.8 1519.7 2620.4 1517.4 2620.9 1515 2621.3 1512.5 2621.7 1509.9 2622 1507.3 2622.2 1504.6 2622.2 1501.9 2622.1 1499.3 2621.9 1496.7 2621.6 1494.3 2621.1 1492 2620.4 1489.8 2619.6 1487.9 2618.7 1486.1 2617.6 1484.6 2616.3 1483.3 2615 1482.3 2613.5 1481.6 2611.9Z" fill="#b4cce8" opacity="0.95"/><path d="M1500.3 2664.3 1501 2665.9 1502 2667.4 1503.3 2668.7 1504.8 2670 1506.6 2671.1 1508.5 2672 1510.7 2672.8 1513 2673.5 1515.5 2674 1518 2674.3 1520.6 2674.5 1523.3 2674.6 1526 2674.6 1528.6 2674.4 1531.2 2674.1 1533.8 2673.7 1536.1 2673.3 1538.4 2672.8 1540.5 2672.2 1542.3 2671.6 1544 2671 1545.4 2670.4 1546.5 2669.9 1547.4 2669.3 1548 2668.9 1548.4 2668.5 1548.4 2668.1 1543 2653.1 1543 2653.4 1542.7 2653.8 1542 2654.3 1541.2 2654.8 1540 2655.4 1538.6 2656 1537 2656.6 1535.1 2657.2 1533 2657.7 1530.8 2658.2 1528.4 2658.7 1525.9 2659 1523.3 2659.3 1520.6 2659.5 1517.9 2659.5 1515.3 2659.5 1512.6 2659.3 1510.1 2658.9 1507.6 2658.4 1505.3 2657.7 1503.2 2656.9 1501.2 2656 1499.4 2654.9 1497.9 2653.7 1496.7 2652.3 1495.7 2650.8 1494.9 2649.2Z" fill="#b4cce8" opacity="0.95"/>
<path d="M1599.2 2612.6 1598.9 2612.3 1598.3 2612.2 1597.5 2612.2 1596.4 2612.4 1595 2612.7 1593.4 2613.3 1591.6 2614 1589.7 2614.8 1587.6 2615.9 1585.4 2617.1 1583.1 2618.5 1580.8 2620 1578.5 2621.6 1576.2 2623.4 1574 2625.3 1571.9 2627.3 1570 2629.4 1568.2 2631.5 1566.6 2633.7 1565.2 2635.9 1564 2638.1 1563.2 2640.3 1562.6 2642.4 1562.2 2644.5 1562.2 2646.5 1562.5 2648.4 1563.1 2650.1 1556.8 2635.4 1556.2 2633.7 1555.9 2631.8 1555.9 2629.8 1556.3 2627.7 1556.9 2625.6 1557.7 2623.4 1558.9 2621.2 1560.3 2619 1561.9 2616.8 1563.7 2614.7 1565.6 2612.6 1567.7 2610.6 1569.9 2608.7 1572.2 2606.9 1574.5 2605.3 1576.8 2603.8 1579.1 2602.4 1581.3 2601.2 1583.4 2600.1 1585.3 2599.2 1587.1 2598.5 1588.7 2598 1590 2597.7 1591.2 2597.5 1592 2597.5 1592.6 2597.6 1592.9 2597.9Z" fill="#d5e3f1" opacity="0.95"/><path d="M1547.1 2612.8 1548 2614.5 1549.2 2616 1550.6 2617.3 1552.3 2618.5 1554.3 2619.6 1556.5 2620.4 1558.8 2621.1 1561.4 2621.6 1564.1 2621.9 1566.8 2622.1 1569.7 2622.1 1572.6 2622 1575.5 2621.7 1578.4 2621.3 1581.2 2620.8 1583.8 2620.2 1586.4 2619.5 1588.8 2618.7 1591 2617.9 1593 2617.1 1594.7 2616.3 1596.2 2615.5 1597.4 2614.8 1598.3 2614.1 1598.9 2613.5 1599.2 2613 1599.2 2612.6 1592.9 2597.9 1592.9 2598.3 1592.6 2598.8 1592 2599.4 1591.1 2600.1 1589.9 2600.8 1588.4 2601.6 1586.7 2602.4 1584.7 2603.2 1582.5 2604 1580.1 2604.8 1577.5 2605.5 1574.8 2606.1 1572.1 2606.6 1569.2 2607 1566.3 2607.3 1563.4 2607.4 1560.5 2607.4 1557.8 2607.2 1555.1 2606.9 1552.5 2606.4 1550.2 2605.7 1548 2604.9 1546 2603.8 1544.3 2602.6 1542.8 2601.3 1541.7 2599.8 1540.8 2598.1Z" fill="#b9d0ea" opacity="0.95"/><path d="M1563.1 2650.1 1564 2651.8 1565.2 2653.3 1566.6 2654.7 1568.3 2655.9 1570.3 2656.9 1572.5 2657.7 1574.8 2658.4 1577.4 2658.9 1580.1 2659.3 1582.8 2659.4 1585.7 2659.5 1588.6 2659.3 1591.5 2659 1594.4 2658.6 1597.2 2658.1 1599.8 2657.5 1602.4 2656.8 1604.8 2656 1607 2655.3 1609 2654.4 1610.7 2653.6 1612.2 2652.8 1613.4 2652.1 1614.3 2651.4 1614.9 2650.8 1615.2 2650.3 1615.2 2649.9 1608.9 2635.2 1608.9 2635.6 1608.6 2636.1 1608 2636.7 1607.1 2637.4 1605.9 2638.1 1604.4 2638.9 1602.7 2639.7 1600.7 2640.5 1598.5 2641.3 1596.1 2642.1 1593.5 2642.8 1590.8 2643.4 1588.1 2643.9 1585.2 2644.3 1582.3 2644.6 1579.4 2644.7 1576.5 2644.7 1573.8 2644.6 1571.1 2644.2 1568.5 2643.7 1566.2 2643 1564 2642.2 1562 2641.2 1560.3 2640 1558.8 2638.6 1557.7 2637.1 1556.8 2635.4Z" fill="#b9d0ea" opacity="0.95"/>
<path d="M1554.1 2660.7 1553.9 2662.4 1553.7 2664.3 1553.5 2666.3 1553.4 2668.5 1553.4 2670.8 1553.5 2673.2 1553.7 2675.6 1554 2678.1 1554.5 2680.6 1555.1 2683.1 1555.9 2685.5 1556.8 2687.9 1557.8 2690.1 1559 2692.2 1560.4 2694.2 1561.9 2696 1563.5 2697.6 1565.3 2699 1567.2 2700.2 1569.2 2701.1 1571.3 2701.8 1573.4 2702.3 1575.7 2702.5 1578 2702.5 1580.3 2702.2 1582.6 2701.8 1584.9 2701.1 1570.9 2695.6 1568.6 2696.3 1566.3 2696.8 1564 2697.1 1561.7 2697.1 1559.5 2696.9 1557.3 2696.4 1555.2 2695.7 1553.2 2694.7 1551.3 2693.6 1549.6 2692.2 1547.9 2690.6 1546.4 2688.8 1545.1 2686.8 1543.9 2684.7 1542.8 2682.4 1541.9 2680.1 1541.1 2677.6 1540.5 2675.2 1540.1 2672.7 1539.7 2670.2 1539.5 2667.7 1539.4 2665.3 1539.4 2663 1539.5 2660.9 1539.7 2658.8 1539.9 2656.9 1540.1 2655.2Z" fill="#3a78bb" opacity="1.0"/><path d="M1529.5 2679.5 1531.8 2678.6 1534.1 2677.5 1536.3 2676.3 1538.5 2674.9 1540.5 2673.4 1542.5 2671.8 1544.3 2670.2 1546 2668.5 1547.6 2666.8 1549.1 2665.1 1550.4 2663.5 1551.5 2661.9 1552.5 2660.5 1553.3 2659.2 1554 2658 1554.6 2657 1555 2656.2 1555.3 2655.6 1555.5 2655.2 1555.5 2655 1555.5 2655.1 1555.4 2655.5 1555.2 2656 1554.9 2656.9 1554.7 2657.9 1554.4 2659.2 1554.1 2660.7 1540.1 2655.2 1540.4 2653.7 1540.7 2652.5 1541 2651.4 1541.2 2650.6 1541.4 2650 1541.5 2649.7 1541.5 2649.6 1541.5 2649.8 1541.3 2650.1 1541 2650.7 1540.6 2651.5 1540.1 2652.5 1539.4 2653.7 1538.5 2655 1537.5 2656.5 1536.4 2658 1535.1 2659.7 1533.6 2661.4 1532.1 2663 1530.3 2664.7 1528.5 2666.4 1526.5 2668 1524.5 2669.5 1522.3 2670.9 1520.1 2672.1 1517.9 2673.2 1515.6 2674.1Z" fill="#4f8dcf" opacity="1.0"/><path d="M1538.3 2667.8 1540 2666.1 1541.6 2664.5 1543.1 2662.8 1544.3 2661.1 1545.5 2659.6 1546.5 2658.1 1547.3 2656.8 1548 2655.6 1548.6 2654.6 1549 2653.8 1549.3 2653.2 1549.4 2652.9 1549.5 2652.7 1545.5 2651.1 1545.4 2651.3 1545.2 2651.7 1544.9 2652.3 1544.5 2653.1 1544 2654.1 1543.3 2655.2 1542.4 2656.6 1541.4 2658 1540.3 2659.6 1539 2661.2 1537.6 2662.9 1536 2664.6 1534.3 2666.3Z" fill="#7fb0e2" opacity="0.55"/><path d="M1584.9 2701.1 1586.3 2700.5 1587.7 2700 1589.1 2699.3 1590.4 2698.6 1591.7 2697.8 1593 2697 1594.3 2696.2 1595.5 2695.3 1596.7 2694.3 1597.9 2693.4 1599 2692.4 1600.1 2691.4 1601.1 2690.4 1602.1 2689.3 1603 2688.3 1603.9 2687.3 1604.7 2686.3 1605.5 2685.3 1606.2 2684.4 1606.9 2683.5 1607.5 2682.6 1608.1 2681.7 1608.6 2680.9 1609 2680.2 1609.4 2679.5 1609.8 2678.9 1610.1 2678.3 1596.1 2672.9 1595.8 2673.5 1595.4 2674.1 1595 2674.8 1594.6 2675.5 1594.1 2676.3 1593.5 2677.1 1592.9 2678 1592.2 2679 1591.5 2679.9 1590.7 2680.9 1589.9 2681.9 1589 2682.9 1588.1 2683.9 1587.1 2684.9 1586.1 2685.9 1585 2686.9 1583.9 2687.9 1582.7 2688.9 1581.5 2689.8 1580.3 2690.7 1579 2691.6 1577.7 2692.4 1576.4 2693.2 1575.1 2693.9 1573.7 2694.5 1572.3 2695.1 1570.9 2695.6Z" fill="#4f8dcf" opacity="1.0"/><path d="M1588.3 2693.8 1589.5 2692.9 1590.7 2692 1591.8 2691 1593 2690 1594 2689 1595.1 2688 1596.1 2687 1597 2686 1597.9 2685 1598.7 2684 1599.5 2683 1600.2 2682.1 1600.9 2681.1 1596.8 2679.6 1596.2 2680.5 1595.4 2681.4 1594.7 2682.4 1593.8 2683.4 1592.9 2684.4 1592 2685.4 1591 2686.5 1590 2687.5 1588.9 2688.5 1587.8 2689.5 1586.6 2690.4 1585.4 2691.4 1584.2 2692.3Z" fill="#7fb0e2" opacity="0.55"/>
<path d="M1521 2660C1517.5 2656.7 1506.8 2645.8 1500 2640C1493.2 2634.2 1485 2623.3 1480 2625C1475 2626.7 1470 2639.2 1470 2650C1470 2660.8 1479.2 2678.3 1480 2690C1480.8 2701.7 1473.3 2710 1475 2720C1476.7 2730 1483.3 2742 1490 2750C1496.7 2758 1506.7 2765 1515 2768C1523.3 2771 1534.3 2770.2 1540 2768C1545.7 2765.8 1547.5 2757.2 1549 2755" fill="none" stroke="#4a88cc" stroke-width="4.0" stroke-linecap="round" stroke-linejoin="round" opacity="1.0"/>
<path d="M1591 2690C1590.5 2693.3 1590.7 2703.3 1588 2710C1585.3 2716.7 1579.7 2724.2 1575 2730C1570.3 2735.8 1564.3 2740.8 1560 2745C1555.7 2749.2 1550.8 2753.3 1549 2755" fill="none" stroke="#4a88cc" stroke-width="4.0" stroke-linecap="round" stroke-linejoin="round" opacity="1.0"/>
<path d="M1600 2624C1605.8 2622.3 1623.8 2620.8 1635 2614C1646.2 2607.2 1657.8 2592 1667 2583C1676.2 2574 1686.2 2563.8 1690 2560" fill="none" stroke="#c5d8ee" stroke-width="4.5" stroke-linecap="round" stroke-linejoin="round" opacity="1.0"/>
<path d="M1710 2536.2 1708.6 2537.8 1706.7 2539.7 1704.6 2542.1 1702.2 2544.7 1699.5 2547.5 1696.8 2550.4 1694 2553.3 1691.2 2556.1 1688 2559.1 1684.4 2562.5 1680.5 2566.1 1676.6 2569.7 1673.3 2566 1668 2585 1687.4 2581.5 1684 2577.8 1688 2574.1 1691.9 2570.5 1695.6 2567 1698.8 2563.9 1701.8 2561 1704.7 2558 1707.5 2555 1710.2 2552.2 1712.7 2549.5 1714.8 2547.2 1716.6 2545.3 1718 2543.8Z" fill="#9dbce2" opacity="0.9"/>
<path d="M1659 2537C1662.8 2532.2 1674 2512.5 1682 2508C1690 2503.5 1701.5 2506.8 1707 2510C1712.5 2513.2 1714.3 2521.8 1715 2527C1715.7 2532.2 1711.7 2538.7 1711 2541" fill="none" stroke="#4a88cc" stroke-width="3.8" stroke-linecap="round" stroke-linejoin="round" opacity="1.0"/>
<path d="M1370 2568C1370.3 2571.7 1369.5 2584.7 1372 2590C1374.5 2595.3 1382.8 2598.3 1385 2600" fill="none" stroke="#1f5fa9" stroke-width="4" stroke-linecap="round" stroke-linejoin="round" opacity="1.0"/>
<path d="M1418 2615C1420 2619.2 1428.3 2632.5 1430 2640C1431.7 2647.5 1429.7 2655.3 1428 2660C1426.3 2664.7 1421.3 2666.7 1420 2668" fill="none" stroke="#5b8fcf" stroke-width="3.6" stroke-linecap="round" stroke-linejoin="round" opacity="1.0"/>
<path d="M1243.6 2613.5 1240.7 2613.3 1236.9 2612.9 1232.3 2612.5 1227.1 2612.1 1221.7 2611.6 1216.1 2611.2 1210.6 2610.8 1205.4 2610.5 1200.1 2610.3 1194.4 2610.1 1188.6 2609.9 1188.7 2603.2 1165 2617 1188.1 2631.7 1188.2 2624.9 1194 2625.1 1199.5 2625.3 1204.6 2625.5 1209.6 2625.8 1215 2626.2 1220.5 2626.6 1225.9 2627 1231 2627.5 1235.6 2627.9 1239.4 2628.2 1242.4 2628.5Z" fill="#f0c19a" opacity="0.95" stroke="#e0a070" stroke-width="1" stroke-linejoin="round"/>
<path d="M1121 2728 L1150 2727 L1165 2745 L1160 2757 L1130 2757 Z" fill="#f0c19a" opacity="0.9"/>
<path d="M1027 2771C1028.7 2776.8 1030.2 2797.5 1037 2806C1043.8 2814.5 1061.2 2819.3 1068 2822C1074.8 2824.7 1076.3 2822 1078 2822" fill="none" stroke="#b0550f" stroke-width="5.8" stroke-linecap="round" stroke-linejoin="round" opacity="1.0"/><path d="M1027 2771C1028.7 2776.8 1030.2 2797.5 1037 2806C1043.8 2814.5 1061.2 2819.3 1068 2822C1074.8 2824.7 1076.3 2822 1078 2822" fill="none" stroke="#e27a24" stroke-width="4.2" stroke-linecap="round" stroke-linejoin="round" opacity="1.0"/>
<path d="M1010 2656C1013.3 2655.3 1021.3 2652.3 1030 2652C1038.7 2651.7 1055 2656.3 1062 2654C1069 2651.7 1068 2640.2 1072 2638C1076 2635.8 1081.5 2639.5 1086 2641C1090.5 2642.5 1096.8 2646 1099 2647" fill="none" stroke="#b0550f" stroke-width="5.8" stroke-linecap="round" stroke-linejoin="round" opacity="1.0"/><path d="M1010 2656C1013.3 2655.3 1021.3 2652.3 1030 2652C1038.7 2651.7 1055 2656.3 1062 2654C1069 2651.7 1068 2640.2 1072 2638C1076 2635.8 1081.5 2639.5 1086 2641C1090.5 2642.5 1096.8 2646 1099 2647" fill="none" stroke="#e27a24" stroke-width="4.2" stroke-linecap="round" stroke-linejoin="round" opacity="1.0"/>
<path d="M1010 2656C1013.5 2657 1024.2 2658.3 1031 2662C1037.8 2665.7 1047.2 2672.2 1051 2678C1054.8 2683.8 1054.7 2691.5 1054 2697C1053.3 2702.5 1048.2 2708.7 1047 2711" fill="none" stroke="#b0550f" stroke-width="5.8" stroke-linecap="round" stroke-linejoin="round" opacity="1.0"/><path d="M1010 2656C1013.5 2657 1024.2 2658.3 1031 2662C1037.8 2665.7 1047.2 2672.2 1051 2678C1054.8 2683.8 1054.7 2691.5 1054 2697C1053.3 2702.5 1048.2 2708.7 1047 2711" fill="none" stroke="#e27a24" stroke-width="4.2" stroke-linecap="round" stroke-linejoin="round" opacity="1.0"/>
<path d="M1097 2682C1100 2684.2 1107.2 2693.2 1115 2695C1122.8 2696.8 1135 2691 1144 2693C1153 2695 1163.2 2701.2 1169 2707C1174.8 2712.8 1177.7 2719.2 1179 2728C1180.3 2736.8 1177.7 2753 1177 2760C1176.3 2767 1175.3 2768.3 1175 2770" fill="none" stroke="#b0550f" stroke-width="5.8" stroke-linecap="round" stroke-linejoin="round" opacity="1.0"/><path d="M1097 2682C1100 2684.2 1107.2 2693.2 1115 2695C1122.8 2696.8 1135 2691 1144 2693C1153 2695 1163.2 2701.2 1169 2707C1174.8 2712.8 1177.7 2719.2 1179 2728C1180.3 2736.8 1177.7 2753 1177 2760C1176.3 2767 1175.3 2768.3 1175 2770" fill="none" stroke="#e27a24" stroke-width="4.2" stroke-linecap="round" stroke-linejoin="round" opacity="1.0"/>
<path d="M1111 2621C1112.2 2619.2 1112.5 2612.2 1118 2610C1123.5 2607.8 1138 2607.2 1144 2608C1150 2608.8 1152 2610.8 1154 2615C1156 2619.2 1155.7 2630 1156 2633" fill="none" stroke="#b0550f" stroke-width="5.8" stroke-linecap="round" stroke-linejoin="round" opacity="1.0"/><path d="M1111 2621C1112.2 2619.2 1112.5 2612.2 1118 2610C1123.5 2607.8 1138 2607.2 1144 2608C1150 2608.8 1152 2610.8 1154 2615C1156 2619.2 1155.7 2630 1156 2633" fill="none" stroke="#e27a24" stroke-width="4.2" stroke-linecap="round" stroke-linejoin="round" opacity="1.0"/>
<path d="M1212 2627C1215.3 2624.5 1224.5 2614.5 1232 2612C1239.5 2609.5 1251 2610.5 1257 2612C1263 2613.5 1265.5 2616.3 1268 2621C1270.5 2625.7 1272 2634.3 1272 2640C1272 2645.7 1268.7 2652.5 1268 2655" fill="none" stroke="#b0550f" stroke-width="5.8" stroke-linecap="round" stroke-linejoin="round" opacity="1.0"/><path d="M1212 2627C1215.3 2624.5 1224.5 2614.5 1232 2612C1239.5 2609.5 1251 2610.5 1257 2612C1263 2613.5 1265.5 2616.3 1268 2621C1270.5 2625.7 1272 2634.3 1272 2640C1272 2645.7 1268.7 2652.5 1268 2655" fill="none" stroke="#e27a24" stroke-width="4.2" stroke-linecap="round" stroke-linejoin="round" opacity="1.0"/>
<path d="M1265 2600C1265.8 2602.5 1267.2 2608.3 1270 2615C1272.8 2621.7 1277 2634.2 1282 2640C1287 2645.8 1293.3 2648 1300 2650C1306.7 2652 1315.3 2651.7 1322 2652C1328.7 2652.3 1333.3 2652.3 1340 2652C1346.7 2651.7 1352.8 2649.7 1362 2650C1371.2 2650.3 1386 2657.7 1395 2654C1404 2650.3 1412.5 2632.3 1416 2628" fill="none" stroke="#b0550f" stroke-width="5.8" stroke-linecap="round" stroke-linejoin="round" opacity="1.0"/><path d="M1265 2600C1265.8 2602.5 1267.2 2608.3 1270 2615C1272.8 2621.7 1277 2634.2 1282 2640C1287 2645.8 1293.3 2648 1300 2650C1306.7 2652 1315.3 2651.7 1322 2652C1328.7 2652.3 1333.3 2652.3 1340 2652C1346.7 2651.7 1352.8 2649.7 1362 2650C1371.2 2650.3 1386 2657.7 1395 2654C1404 2650.3 1412.5 2632.3 1416 2628" fill="none" stroke="#e27a24" stroke-width="4.2" stroke-linecap="round" stroke-linejoin="round" opacity="1.0"/>
<path d="M1290 2600C1289.2 2602.5 1284.2 2608.3 1285 2615C1285.8 2621.7 1290.8 2632.5 1295 2640C1299.2 2647.5 1305.5 2662.2 1310 2660C1314.5 2657.8 1320 2632.5 1322 2627" fill="none" stroke="#b0550f" stroke-width="5.8" stroke-linecap="round" stroke-linejoin="round" opacity="1.0"/><path d="M1290 2600C1289.2 2602.5 1284.2 2608.3 1285 2615C1285.8 2621.7 1290.8 2632.5 1295 2640C1299.2 2647.5 1305.5 2662.2 1310 2660C1314.5 2657.8 1320 2632.5 1322 2627" fill="none" stroke="#e27a24" stroke-width="4.2" stroke-linecap="round" stroke-linejoin="round" opacity="1.0"/>
<path d="M1145 2631.8 1142.6 2633.1 1140.2 2634.7 1137.8 2636.5 1135.4 2638.5 1133 2640.7 1130.8 2643.2 1128.6 2645.8 1126.7 2648.5 1124.9 2651.3 1123.4 2654.2 1122.1 2657.2 1121.1 2660.1 1120.4 2663 1120 2665.9 1119.9 2668.7 1120.2 2671.3 1120.7 2673.9 1121.6 2676.2 1122.9 2678.4 1124.4 2680.3 1126.2 2682 1128.3 2683.4 1130.7 2684.6 1133.3 2685.5 1136 2686.1 1139 2686.5 1142 2686.5 1131.3 2672 1128.3 2672 1125.3 2671.6 1122.6 2671 1120 2670.1 1117.7 2668.9 1115.6 2667.5 1113.7 2665.8 1112.2 2663.9 1111 2661.7 1110.1 2659.4 1109.5 2656.9 1109.2 2654.2 1109.3 2651.4 1109.7 2648.5 1110.4 2645.6 1111.4 2642.7 1112.7 2639.7 1114.2 2636.8 1116 2634 1118 2631.3 1120.1 2628.7 1122.3 2626.3 1124.7 2624 1127.1 2622 1129.5 2620.2 1131.9 2618.6 1134.3 2617.3Z" fill="#a84f10" opacity="1.0" stroke="#b0550f" stroke-width="0.8" stroke-linejoin="round"/><path d="M1120.5 2657.3 1123.6 2657.1 1126.8 2656.6 1130.1 2655.9 1133.3 2654.9 1136.4 2653.8 1139.5 2652.4 1142.4 2650.9 1145.2 2649.3 1147.7 2647.5 1150 2645.7 1152.1 2643.9 1153.9 2642 1155.4 2640.2 1156.6 2638.4 1157.5 2636.7 1158 2635.1 1158.3 2633.6 1158.2 2632.4 1157.7 2631.3 1157 2630.5 1156 2629.9 1154.7 2629.5 1153.1 2629.4 1151.3 2629.6 1149.4 2630.1 1147.2 2630.8 1145 2631.8 1134.3 2617.3 1136.6 2616.3 1138.7 2615.6 1140.7 2615.1 1142.4 2614.9 1144 2615 1145.3 2615.4 1146.3 2616 1147.1 2616.8 1147.5 2617.9 1147.6 2619.2 1147.4 2620.6 1146.8 2622.2 1145.9 2623.9 1144.7 2625.7 1143.2 2627.5 1141.4 2629.4 1139.4 2631.2 1137 2633.1 1134.5 2634.8 1131.7 2636.4 1128.8 2637.9 1125.8 2639.3 1122.6 2640.4 1119.4 2641.4 1116.2 2642.1 1113 2642.6 1109.8 2642.8Z" fill="#d9731e" opacity="1.0" stroke="#b0550f" stroke-width="0.8" stroke-linejoin="round"/><path d="M1137.8 2644.7 1140.6 2643.1 1143.1 2641.3 1145.4 2639.5 1147.5 2637.6 1149.3 2635.8 1150.8 2633.9 1152 2632.1 1152.9 2630.4 1153.5 2628.8 1153.7 2627.4 1153.6 2626.1 1153.1 2625.1 1152.4 2624.2 1149.3 2620 1150 2620.9 1150.5 2621.9 1150.6 2623.2 1150.4 2624.6 1149.8 2626.2 1148.9 2627.9 1147.7 2629.7 1146.2 2631.6 1144.4 2633.4 1142.4 2635.3 1140 2637.1 1137.5 2638.9 1134.7 2640.5Z" fill="#ee9a48" opacity="0.55"/><path d="M1142 2686.5 1143.9 2686.4 1145.8 2686.2 1147.7 2685.9 1149.7 2685.6 1151.6 2685.1 1153.5 2684.6 1155.5 2684 1157.3 2683.3 1159.2 2682.5 1161 2681.7 1162.8 2680.8 1164.5 2679.8 1166.2 2678.9 1167.7 2677.8 1169.2 2676.8 1170.7 2675.7 1172 2674.6 1173.3 2673.5 1174.4 2672.3 1175.5 2671.2 1176.4 2670.1 1177.2 2669 1177.9 2667.9 1178.5 2666.9 1179 2665.9 1179.4 2664.9 1179.7 2664 1169 2649.5 1168.7 2650.4 1168.4 2651.4 1167.9 2652.4 1167.3 2653.5 1166.5 2654.5 1165.7 2655.6 1164.8 2656.7 1163.7 2657.9 1162.6 2659 1161.3 2660.1 1160 2661.2 1158.6 2662.3 1157.1 2663.3 1155.5 2664.4 1153.8 2665.3 1152.1 2666.3 1150.3 2667.2 1148.5 2668 1146.7 2668.8 1144.8 2669.5 1142.9 2670.1 1140.9 2670.6 1139 2671.1 1137.1 2671.5 1135.1 2671.7 1133.2 2671.9 1131.3 2672Z" fill="#d9731e" opacity="1.0" stroke="#b0550f" stroke-width="0.8" stroke-linejoin="round"/><path d="M1150.9 2677.7 1152.8 2677 1154.6 2676.3 1156.4 2675.4 1158.2 2674.5 1159.9 2673.6 1161.6 2672.6 1163.1 2671.6 1164.7 2670.5 1166.1 2669.5 1167.4 2668.4 1168.7 2667.2 1169.8 2666.1 1170.9 2665 1167.8 2660.8 1166.7 2661.9 1165.6 2663 1164.3 2664.2 1163 2665.3 1161.6 2666.3 1160.1 2667.4 1158.5 2668.4 1156.8 2669.4 1155.1 2670.3 1153.3 2671.2 1151.5 2672.1 1149.7 2672.8 1147.8 2673.5Z" fill="#ee9a48" opacity="0.55"/>
<path d="M1089.7 2725.6 1092.3 2729.2 1094.6 2733 1096.8 2737 1098.6 2741.1 1100.3 2745.3 1101.6 2749.4 1102.7 2753.6 1103.5 2757.6 1104.1 2761.5 1104.3 2765.2 1104.3 2768.7 1104 2771.9 1103.4 2774.7 1102.6 2777.2 1101.6 2779.3 1100.5 2781 1099.1 2782.3 1097.6 2783.1 1096 2783.5 1094.4 2783.4 1092.6 2782.9 1090.9 2781.9 1089.2 2780.5 1087.6 2778.7 1086 2776.5 1084.5 2774 1083.2 2771.2 1063.3 2769.2 1064.6 2772 1066.1 2774.5 1067.7 2776.7 1069.3 2778.5 1071 2779.9 1072.7 2780.9 1074.5 2781.4 1076.1 2781.5 1077.7 2781.1 1079.2 2780.3 1080.6 2779 1081.7 2777.3 1082.7 2775.2 1083.5 2772.7 1084.1 2769.9 1084.4 2766.7 1084.4 2763.2 1084.2 2759.5 1083.6 2755.6 1082.8 2751.6 1081.7 2747.4 1080.4 2743.3 1078.7 2739.1 1076.9 2735 1074.7 2731 1072.4 2727.2 1069.8 2723.6Z" fill="#a84f10" opacity="1.0" stroke="#b0550f" stroke-width="0.9" stroke-linejoin="round"/><path d="M1127.8 2739.5 1130.3 2743.1 1132.7 2746.9 1134.8 2750.9 1136.7 2755 1138.3 2759.1 1139.7 2763.3 1140.8 2767.5 1141.6 2771.5 1142.1 2775.4 1142.4 2779.1 1142.3 2782.6 1142 2785.7 1141.5 2788.6 1140.7 2791.1 1139.7 2793.2 1138.5 2794.9 1137.2 2796.2 1135.7 2797 1134.1 2797.4 1132.4 2797.3 1130.7 2796.8 1129 2795.8 1127.3 2794.4 1125.6 2792.6 1124.1 2790.4 1122.6 2787.9 1121.3 2785.1 1101.4 2783.1 1102.7 2785.9 1104.2 2788.4 1105.7 2790.6 1107.4 2792.4 1109.1 2793.8 1110.8 2794.8 1112.5 2795.3 1114.2 2795.4 1115.8 2795 1117.3 2794.2 1118.6 2792.9 1119.8 2791.2 1120.8 2789.1 1121.6 2786.6 1122.1 2783.8 1122.4 2780.6 1122.5 2777.1 1122.2 2773.4 1121.7 2769.5 1120.9 2765.5 1119.8 2761.3 1118.4 2757.2 1116.8 2753 1114.9 2748.9 1112.8 2744.9 1110.4 2741.1 1107.9 2737.5Z" fill="#a84f10" opacity="1.0" stroke="#b0550f" stroke-width="0.9" stroke-linejoin="round"/><path d="M1165.9 2753.4 1168.4 2757 1170.7 2760.8 1172.9 2764.8 1174.8 2768.9 1176.4 2773 1177.7 2777.2 1178.8 2781.3 1179.6 2785.4 1180.2 2789.3 1180.4 2793 1180.4 2796.4 1180.1 2799.6 1179.5 2802.5 1178.8 2805 1177.8 2807.1 1176.6 2808.8 1175.2 2810.1 1173.7 2810.9 1172.1 2811.3 1170.5 2811.2 1168.8 2810.7 1167 2809.7 1165.3 2808.3 1163.7 2806.5 1162.1 2804.3 1160.7 2801.8 1159.4 2799 1139.5 2797 1140.8 2799.8 1142.2 2802.3 1143.8 2804.5 1145.4 2806.3 1147.1 2807.7 1148.9 2808.7 1150.6 2809.2 1152.2 2809.3 1153.8 2808.9 1155.3 2808.1 1156.7 2806.8 1157.9 2805.1 1158.9 2803 1159.6 2800.5 1160.2 2797.6 1160.5 2794.5 1160.5 2791 1160.3 2787.3 1159.7 2783.4 1158.9 2779.4 1157.8 2775.2 1156.5 2771 1154.9 2766.9 1153 2762.8 1150.8 2758.8 1148.5 2755 1146 2751.4Z" fill="#a84f10" opacity="1.0" stroke="#b0550f" stroke-width="0.9" stroke-linejoin="round"/><path d="M1203.9 2767.3 1204.4 2768 1204.9 2768.7 1205.5 2769.4 1206 2770.2 1206.5 2770.9 1206.9 2771.6 1207.4 2772.4 1207.9 2773.1 1208.3 2773.9 1208.8 2774.7 1209.2 2775.5 1209.7 2776.3 1210.1 2777.1 1210.5 2777.9 1210.9 2778.7 1211.3 2779.5 1211.7 2780.3 1212.1 2781.1 1212.5 2781.9 1212.8 2782.8 1213.2 2783.6 1213.5 2784.4 1213.8 2785.3 1214.1 2786.1 1214.4 2786.9 1214.7 2787.8 1215 2788.6 1195.1 2786.6 1194.8 2785.8 1194.5 2784.9 1194.2 2784.1 1193.9 2783.3 1193.6 2782.4 1193.3 2781.6 1192.9 2780.8 1192.5 2779.9 1192.2 2779.1 1191.8 2778.3 1191.4 2777.5 1191 2776.7 1190.6 2775.9 1190.2 2775.1 1189.8 2774.3 1189.3 2773.5 1188.9 2772.7 1188.4 2771.9 1188 2771.2 1187.5 2770.4 1187 2769.6 1186.6 2768.9 1186.1 2768.2 1185.6 2767.4 1185 2766.7 1184.5 2766 1184 2765.3Z" fill="#a84f10" opacity="1.0" stroke="#b0550f" stroke-width="0.9" stroke-linejoin="round"/><path d="M1045.2 2757.3 1044.1 2754.2 1043.1 2750.9 1042.4 2747.5 1041.9 2743.9 1041.7 2740.2 1041.7 2736.6 1042.1 2733 1042.7 2729.4 1043.6 2726.1 1044.7 2722.9 1046.2 2719.9 1047.9 2717.3 1049.8 2714.9 1052 2712.9 1054.4 2711.3 1057 2710.1 1059.8 2709.4 1062.7 2709.1 1065.7 2709.2 1068.8 2709.8 1071.9 2710.9 1075 2712.4 1078.1 2714.3 1081.2 2716.6 1084.2 2719.3 1087 2722.3 1089.7 2725.6 1069.8 2723.6 1067.1 2720.3 1064.3 2717.3 1061.3 2714.6 1058.2 2712.3 1055.1 2710.4 1052 2708.9 1048.9 2707.8 1045.8 2707.2 1042.8 2707.1 1039.9 2707.4 1037.1 2708.1 1034.5 2709.3 1032.1 2710.9 1029.9 2712.9 1028 2715.3 1026.3 2717.9 1024.8 2720.9 1023.7 2724.1 1022.8 2727.5 1022.2 2731 1021.8 2734.6 1021.8 2738.3 1022 2741.9 1022.5 2745.5 1023.2 2748.9 1024.2 2752.2 1025.3 2755.3Z" fill="#e07a24" opacity="1.0" stroke="#b0550f" stroke-width="0.9" stroke-linejoin="round"/><path d="M1033.5 2732.1 1034.1 2728.6 1035 2725.2 1036.2 2722 1037.6 2719.1 1039.3 2716.4 1041.3 2714.1 1043.5 2712.1 1045.9 2710.5 1048.5 2709.3 1051.2 2708.5 1054.1 2708.2 1057.1 2708.4 1060.2 2709 1054.4 2708.4 1051.3 2707.8 1048.3 2707.6 1045.4 2707.9 1042.7 2708.7 1040.1 2709.9 1037.7 2711.5 1035.5 2713.5 1033.5 2715.8 1031.8 2718.5 1030.4 2721.4 1029.2 2724.6 1028.3 2728 1027.7 2731.5Z" fill="#ef9b4a" opacity="0.55"/><path d="M1083.2 2771.2 1082.1 2768.1 1081.2 2764.8 1080.5 2761.4 1080 2757.8 1079.8 2754.1 1079.8 2750.5 1080.1 2746.9 1080.7 2743.3 1081.6 2740 1082.8 2736.8 1084.2 2733.8 1085.9 2731.1 1087.9 2728.8 1090.1 2726.8 1092.5 2725.2 1095.1 2724 1097.8 2723.3 1100.7 2723 1103.7 2723.1 1106.8 2723.7 1109.9 2724.8 1113.1 2726.2 1116.2 2728.2 1119.2 2730.5 1122.2 2733.2 1125.1 2736.2 1127.8 2739.5 1107.9 2737.5 1105.2 2734.2 1102.3 2731.2 1099.3 2728.5 1096.3 2726.2 1093.2 2724.3 1090 2722.8 1086.9 2721.7 1083.8 2721.1 1080.8 2721 1077.9 2721.3 1075.2 2722 1072.6 2723.2 1070.2 2724.8 1068 2726.8 1066 2729.2 1064.3 2731.8 1062.9 2734.8 1061.7 2738 1060.8 2741.3 1060.2 2744.9 1059.9 2748.5 1059.9 2752.1 1060.1 2755.8 1060.6 2759.4 1061.3 2762.8 1062.2 2766.1 1063.3 2769.2Z" fill="#e07a24" opacity="1.0" stroke="#b0550f" stroke-width="0.9" stroke-linejoin="round"/><path d="M1071.6 2746 1072.2 2742.5 1073.1 2739.1 1074.2 2735.9 1075.7 2733 1077.4 2730.3 1079.3 2727.9 1081.5 2726 1083.9 2724.4 1086.5 2723.2 1089.3 2722.4 1092.2 2722.1 1095.2 2722.2 1098.3 2722.8 1092.5 2722.3 1089.4 2721.7 1086.4 2721.5 1083.5 2721.8 1080.7 2722.6 1078.1 2723.8 1075.7 2725.4 1073.6 2727.4 1071.6 2729.7 1069.9 2732.4 1068.5 2735.3 1067.3 2738.5 1066.4 2741.9 1065.8 2745.4Z" fill="#ef9b4a" opacity="0.55"/><path d="M1121.3 2785.1 1120.2 2782 1119.2 2778.7 1118.5 2775.3 1118 2771.7 1117.8 2768 1117.9 2764.4 1118.2 2760.7 1118.8 2757.2 1119.7 2753.8 1120.8 2750.7 1122.3 2747.7 1124 2745 1125.9 2742.7 1128.1 2740.7 1130.5 2739.1 1133.1 2737.9 1135.9 2737.2 1138.8 2736.8 1141.8 2737 1144.9 2737.6 1148 2738.6 1151.1 2740.1 1154.2 2742 1157.3 2744.4 1160.3 2747 1163.1 2750.1 1165.9 2753.4 1146 2751.4 1143.2 2748.1 1140.4 2745.1 1137.4 2742.4 1134.3 2740.1 1131.2 2738.1 1128.1 2736.6 1125 2735.6 1121.9 2735 1118.9 2734.9 1116 2735.2 1113.2 2735.9 1110.6 2737.1 1108.2 2738.7 1106 2740.7 1104.1 2743 1102.4 2745.7 1100.9 2748.7 1099.8 2751.9 1098.9 2755.2 1098.3 2758.8 1098 2762.4 1097.9 2766 1098.1 2769.7 1098.6 2773.3 1099.3 2776.7 1100.3 2780 1101.4 2783.1Z" fill="#e07a24" opacity="1.0" stroke="#b0550f" stroke-width="0.9" stroke-linejoin="round"/><path d="M1109.6 2759.9 1110.2 2756.4 1111.1 2753 1112.3 2749.8 1113.7 2746.8 1115.4 2744.2 1117.4 2741.8 1119.6 2739.8 1122 2738.2 1124.6 2737.1 1127.3 2736.3 1130.2 2736 1133.2 2736.1 1136.3 2736.7 1130.5 2736.2 1127.5 2735.6 1124.5 2735.4 1121.6 2735.7 1118.8 2736.5 1116.2 2737.7 1113.8 2739.3 1111.6 2741.3 1109.7 2743.6 1108 2746.3 1106.5 2749.2 1105.3 2752.4 1104.5 2755.8 1103.9 2759.3Z" fill="#ef9b4a" opacity="0.55"/><path d="M1159.4 2799 1158.2 2795.9 1157.3 2792.6 1156.6 2789.1 1156.1 2785.6 1155.9 2781.9 1155.9 2778.3 1156.2 2774.6 1156.8 2771.1 1157.7 2767.7 1158.9 2764.5 1160.3 2761.6 1162 2758.9 1164 2756.6 1166.2 2754.6 1168.6 2753 1171.2 2751.8 1173.9 2751 1176.8 2750.7 1179.8 2750.9 1182.9 2751.5 1186 2752.5 1189.2 2754 1192.3 2755.9 1195.4 2758.2 1198.3 2760.9 1201.2 2764 1203.9 2767.3 1184 2765.3 1181.3 2762 1178.4 2758.9 1175.5 2756.3 1172.4 2753.9 1169.3 2752 1166.1 2750.5 1163 2749.5 1159.9 2748.9 1156.9 2748.7 1154 2749.1 1151.3 2749.8 1148.7 2751 1146.3 2752.6 1144.1 2754.6 1142.1 2756.9 1140.4 2759.6 1139 2762.5 1137.8 2765.7 1136.9 2769.1 1136.3 2772.6 1136 2776.3 1136 2779.9 1136.2 2783.6 1136.7 2787.1 1137.4 2790.6 1138.3 2793.9 1139.5 2797Z" fill="#e07a24" opacity="1.0" stroke="#b0550f" stroke-width="0.9" stroke-linejoin="round"/><path d="M1147.7 2773.8 1148.3 2770.3 1149.2 2766.9 1150.3 2763.7 1151.8 2760.7 1153.5 2758.1 1155.4 2755.7 1157.6 2753.7 1160 2752.1 1162.6 2750.9 1165.4 2750.2 1168.3 2749.9 1171.3 2750 1174.4 2750.6 1168.6 2750 1165.5 2749.4 1162.5 2749.3 1159.6 2749.6 1156.9 2750.4 1154.3 2751.6 1151.9 2753.2 1149.7 2755.1 1147.7 2757.5 1146 2760.2 1144.6 2763.1 1143.4 2766.3 1142.5 2769.7 1141.9 2773.2Z" fill="#ef9b4a" opacity="0.55"/>
<path d="M1178.7 2812.5 1174.1 2812.7 1167.7 2812.9 1160.2 2813.2 1151.9 2813.5 1143.2 2813.8 1134.7 2814.1 1126.8 2814.3 1119.9 2814.5 1113.6 2814.6 1107.3 2814.6 1101.2 2814.6 1101.2 2807.9 1078 2822 1101.1 2836.4 1101.1 2829.6 1107.4 2829.6 1113.7 2829.6 1120.1 2829.5 1127.2 2829.3 1135.2 2829.1 1143.7 2828.8 1152.4 2828.5 1160.7 2828.2 1168.3 2827.9 1174.6 2827.7 1179.3 2827.5Z" fill="#e07a24" opacity="1.0" stroke="#b0550f" stroke-width="1" stroke-linejoin="round"/>
<path d="M1231.4 2733 1231 2729.6 1230.4 2725.2 1229.6 2719.9 1228.8 2714 1227.9 2707.8 1227.1 2701.4 1226.2 2695.1 1225.4 2689 1224.7 2682.8 1223.8 2676 1222.9 2668.9 1229.6 2668.1 1212 2641 1201.3 2671.5 1208 2670.7 1208.9 2677.9 1209.8 2684.7 1210.6 2691 1211.4 2697 1212.2 2703.4 1213.1 2709.8 1213.9 2716.1 1214.8 2722 1215.5 2727.2 1216.1 2731.7 1216.6 2735Z" fill="#e07a24" opacity="1.0" stroke="#b0550f" stroke-width="1" stroke-linejoin="round"/>
<path d="M1189.6 2811.9 1191.8 2810.2 1194.7 2808.1 1198.4 2805.6 1202.6 2802.5 1207.1 2798.8 1211.8 2794.7 1216.5 2789.9 1221 2784.6 1225.2 2778.5 1229.6 2771.6 1234 2764.2 1238.3 2756.4 1242.6 2748.6 1246.6 2741 1250.3 2733.9 1253.7 2727.5 1256.7 2721.6 1259.5 2716.1 1262 2710.8 1264.4 2705.8 1266.5 2701 1268.5 2696.4 1270.3 2692 1272 2687.6 1273.6 2683.2 1280.3 2684.2 1272 2658 1252.6 2677.5 1259.3 2678.5 1258 2682.4 1256.4 2686.4 1254.7 2690.6 1252.8 2695 1250.7 2699.6 1248.5 2704.4 1246 2709.4 1243.3 2714.8 1240.3 2720.5 1237 2726.9 1233.3 2734 1229.3 2741.5 1225.2 2749.2 1221 2756.7 1216.8 2763.8 1212.8 2770.2 1209 2775.4 1205.4 2779.8 1201.5 2783.8 1197.5 2787.4 1193.4 2790.5 1189.6 2793.4 1186 2795.9 1182.8 2798.2 1180.4 2800.1Z" fill="#eb8d34" opacity="1.0" stroke="#b0550f" stroke-width="1" stroke-linejoin="round"/>
<path d="M1110.1 2860.9 1114.2 2859.3 1119.7 2857.2 1126.4 2854.6 1133.7 2851.8 1141.4 2848.8 1149.2 2845.7 1156.6 2842.7 1163.4 2839.8 1169.5 2837.1 1175.4 2834.5 1181.2 2831.9 1186.9 2829.2 1192.6 2826.5 1198.3 2823.7 1204.1 2820.7 1210 2817.5 1216.2 2814.1 1222.5 2810.6 1229.1 2807 1235.6 2803.2 1242.2 2799.3 1248.5 2795.2 1254.6 2791 1260.3 2786.6 1265.6 2782.2 1270.6 2777.7 1275.3 2773 1279.8 2768.3 1284 2763.5 1288 2758.6 1291.6 2753.7 1295.1 2748.7 1298.3 2743.5 1301.1 2738.2 1303.6 2732.9 1305.8 2727.6 1307.8 2722.4 1309.6 2717.4 1311.3 2712.5 1313 2707.8 1314.7 2702.8 1316.4 2697.6 1317.9 2692.3 1319.3 2687.3 1320.5 2682.5 1321.6 2678.3 1322.5 2674.8 1323.2 2672.2 1306.8 2667.8 1306.1 2670.5 1305.1 2674.1 1304.1 2678.2 1302.9 2682.9 1301.5 2687.7 1300.1 2692.7 1298.6 2697.5 1297 2702.2 1295.3 2706.9 1293.6 2711.7 1291.9 2716.5 1290 2721.3 1288.1 2726 1285.9 2730.6 1283.6 2735 1280.9 2739.3 1277.9 2743.7 1274.5 2748.1 1271 2752.5 1267.2 2756.8 1263.2 2761.1 1258.9 2765.3 1254.4 2769.4 1249.7 2773.4 1244.6 2777.2 1239.1 2781 1233.2 2784.8 1227 2788.6 1220.7 2792.2 1214.3 2795.8 1208 2799.2 1202 2802.5 1196.2 2805.6 1190.6 2808.5 1185.1 2811.2 1179.6 2813.9 1174.1 2816.4 1168.4 2819 1162.6 2821.6 1156.6 2824.2 1150.1 2827 1142.8 2829.9 1135.2 2833 1127.5 2836 1120.2 2838.8 1113.6 2841.3 1108.1 2843.5 1103.9 2845.1Z" fill="#e17b25" opacity="1.0" stroke="#b0550f" stroke-width="1" stroke-linejoin="round"/>
<path d="M1122.3 2852.6 1126.2 2851.2 1131.6 2849.4 1138 2847.2 1145.1 2844.7 1152.4 2842.1 1159.7 2839.5 1166.6 2836.9 1172.7 2834.5 1178.3 2832 1183.9 2829.4 1189.3 2826.7 1194.4 2824.1 1199 2821.6 1203.2 2819.4 1206.6 2817.6 1209.2 2816.2 1202.8 2803.8 1200.1 2805.2 1196.6 2807.1 1192.5 2809.2 1187.9 2811.7 1183 2814.2 1177.8 2816.8 1172.5 2819.3 1167.3 2821.5 1161.5 2823.8 1154.9 2826.4 1147.7 2828.9 1140.4 2831.5 1133.4 2834 1127 2836.1 1121.7 2838 1117.7 2839.4Z" fill="#d06a1a" opacity="1.0"/>
<path d="M1605 2257C1602.5 2257.8 1594.7 2260 1590 2262C1585.3 2264 1580.7 2264.5 1577 2269C1573.3 2273.5 1569.8 2282.5 1568 2289C1566.2 2295.5 1568.3 2302.3 1566 2308C1563.7 2313.7 1558 2318.5 1554 2323C1550 2327.5 1544.3 2329.3 1542 2335C1539.7 2340.7 1541.2 2350.2 1540 2357C1538.8 2363.8 1538.8 2371.8 1535 2376C1531.2 2380.2 1522 2379 1517 2382C1512 2385 1506.8 2389.2 1505 2394C1503.2 2398.8 1504 2405.8 1506 2411C1508 2416.2 1512.8 2420.5 1517 2425C1521.2 2429.5 1524.2 2434.2 1531 2438C1537.8 2441.8 1549.8 2445.2 1558 2448C1566.2 2450.8 1576.7 2452 1580 2455C1583.3 2458 1583.2 2462.7 1578 2466C1572.8 2469.3 1556.8 2471.5 1549 2475C1541.2 2478.5 1534.8 2482.8 1531 2487C1527.2 2491.2 1526 2494.8 1526 2500C1526 2505.2 1529.8 2511.2 1531 2518C1532.2 2524.8 1534 2534 1533 2541C1532 2548 1529.8 2554.8 1525 2560C1520.2 2565.2 1510.7 2568.7 1504 2572C1497.3 2575.3 1490.8 2576.2 1485 2580C1479.2 2583.8 1473 2589.3 1469 2595C1465 2600.7 1463.8 2609.2 1461 2614C1458.2 2618.8 1455.5 2621.7 1452 2624C1448.5 2626.3 1446.3 2627 1440 2628C1433.7 2629 1418.3 2629.7 1414 2630" fill="none" stroke="#a04c0c" stroke-width="12.5" stroke-linecap="round" stroke-linejoin="round" opacity="1.0"/>
<path d="M1605 2257C1602.5 2257.8 1594.7 2260 1590 2262C1585.3 2264 1580.7 2264.5 1577 2269C1573.3 2273.5 1569.8 2282.5 1568 2289C1566.2 2295.5 1568.3 2302.3 1566 2308C1563.7 2313.7 1558 2318.5 1554 2323C1550 2327.5 1544.3 2329.3 1542 2335C1539.7 2340.7 1541.2 2350.2 1540 2357C1538.8 2363.8 1538.8 2371.8 1535 2376C1531.2 2380.2 1522 2379 1517 2382C1512 2385 1506.8 2389.2 1505 2394C1503.2 2398.8 1504 2405.8 1506 2411C1508 2416.2 1512.8 2420.5 1517 2425C1521.2 2429.5 1524.2 2434.2 1531 2438C1537.8 2441.8 1549.8 2445.2 1558 2448C1566.2 2450.8 1576.7 2452 1580 2455C1583.3 2458 1583.2 2462.7 1578 2466C1572.8 2469.3 1556.8 2471.5 1549 2475C1541.2 2478.5 1534.8 2482.8 1531 2487C1527.2 2491.2 1526 2494.8 1526 2500C1526 2505.2 1529.8 2511.2 1531 2518C1532.2 2524.8 1534 2534 1533 2541C1532 2548 1529.8 2554.8 1525 2560C1520.2 2565.2 1510.7 2568.7 1504 2572C1497.3 2575.3 1490.8 2576.2 1485 2580C1479.2 2583.8 1473 2589.3 1469 2595C1465 2600.7 1463.8 2609.2 1461 2614C1458.2 2618.8 1455.5 2621.7 1452 2624C1448.5 2626.3 1446.3 2627 1440 2628C1433.7 2629 1418.3 2629.7 1414 2630" fill="none" stroke="#e27a22" stroke-width="10.5" stroke-linecap="round" stroke-linejoin="round" opacity="1.0"/>
<path d="M1605 2257C1602.5 2257.8 1594.7 2260 1590 2262C1585.3 2264 1580.7 2264.5 1577 2269C1573.3 2273.5 1569.8 2282.5 1568 2289C1566.2 2295.5 1568.3 2302.3 1566 2308C1563.7 2313.7 1558 2318.5 1554 2323C1550 2327.5 1544.3 2329.3 1542 2335C1539.7 2340.7 1541.2 2350.2 1540 2357C1538.8 2363.8 1538.8 2371.8 1535 2376C1531.2 2380.2 1522 2379 1517 2382C1512 2385 1506.8 2389.2 1505 2394C1503.2 2398.8 1504 2405.8 1506 2411C1508 2416.2 1512.8 2420.5 1517 2425C1521.2 2429.5 1524.2 2434.2 1531 2438C1537.8 2441.8 1549.8 2445.2 1558 2448C1566.2 2450.8 1576.7 2452 1580 2455C1583.3 2458 1583.2 2462.7 1578 2466C1572.8 2469.3 1556.8 2471.5 1549 2475C1541.2 2478.5 1534.8 2482.8 1531 2487C1527.2 2491.2 1526 2494.8 1526 2500C1526 2505.2 1529.8 2511.2 1531 2518C1532.2 2524.8 1534 2534 1533 2541C1532 2548 1529.8 2554.8 1525 2560C1520.2 2565.2 1510.7 2568.7 1504 2572C1497.3 2575.3 1490.8 2576.2 1485 2580C1479.2 2583.8 1473 2589.3 1469 2595C1465 2600.7 1463.8 2609.2 1461 2614C1458.2 2618.8 1455.5 2621.7 1452 2624C1448.5 2626.3 1446.3 2627 1440 2628C1433.7 2629 1418.3 2629.7 1414 2630" fill="none" stroke="#f5a84e" stroke-width="3" stroke-linecap="round" transform="translate(1.2,-1.2)" opacity="0.85"/>
<path d="M1414 2630C1410.8 2630.5 1402.3 2632 1395 2633C1387.7 2634 1379.2 2633.2 1370 2636C1360.8 2638.8 1350 2646.8 1340 2650C1330 2653.2 1315 2654.2 1310 2655" fill="none" stroke="#b0550f" stroke-width="5.8" stroke-linecap="round" stroke-linejoin="round" opacity="1.0"/><path d="M1414 2630C1410.8 2630.5 1402.3 2632 1395 2633C1387.7 2634 1379.2 2633.2 1370 2636C1360.8 2638.8 1350 2646.8 1340 2650C1330 2653.2 1315 2654.2 1310 2655" fill="none" stroke="#e27a24" stroke-width="4.2" stroke-linecap="round" stroke-linejoin="round" opacity="1.0"/>
<path d="M1599 2556C1600.3 2557 1604.5 2560 1607 2562C1609.5 2564 1611.2 2567.7 1614 2568C1616.8 2568.3 1620.7 2566 1624 2564C1627.3 2562 1631 2558 1634 2556C1637 2554 1639.3 2553.3 1642 2552C1644.7 2550.7 1647.2 2549.2 1650 2548C1652.8 2546.8 1657.5 2545.5 1659 2545" fill="none" stroke="#5a95d2" stroke-width="2.5" stroke-linecap="round" stroke-linejoin="round" opacity="1.0"/>
<path d="M1659 2545C1659.2 2546.8 1659.8 2552.2 1660 2556C1660.2 2559.8 1660 2564 1660 2568C1660 2572 1660 2578 1660 2580" fill="none" stroke="#5a95d2" stroke-width="2.5" stroke-linecap="round" stroke-linejoin="round" opacity="1.0"/>
<circle cx="1599" cy="2556" r="3.6" fill="#5a95d2"/>
<circle cx="1607" cy="2562" r="3.6" fill="#5a95d2"/>
<circle cx="1614" cy="2568" r="3.6" fill="#5a95d2"/>
<circle cx="1624" cy="2564" r="3.6" fill="#5a95d2"/>
<circle cx="1634" cy="2556" r="3.6" fill="#5a95d2"/>
<circle cx="1642" cy="2552" r="3.6" fill="#5a95d2"/>
<circle cx="1650" cy="2548" r="3.6" fill="#5a95d2"/>
<circle cx="1659" cy="2545" r="3.6" fill="#5a95d2"/>
<circle cx="1660" cy="2556" r="3.6" fill="#5a95d2"/>
<circle cx="1660" cy="2568" r="3.6" fill="#5a95d2"/>
<circle cx="1660" cy="2580" r="3.6" fill="#5a95d2"/>
<circle cx="1614" cy="2518" r="3.6" fill="#2aa3a3"/>
<circle cx="1622" cy="2513" r="3.6" fill="#2aa3a3"/>
<circle cx="1630" cy="2510" r="3.6" fill="#2aa3a3"/>
<ellipse cx="1632.3" cy="2533" rx="64.5" ry="76.5" fill="none" stroke="#111" stroke-width="2.8" stroke-dasharray="7.5 5.5"/>
<line x1="1551.00" y1="2432.50" x2="1784.00" y2="2211.50" stroke="#111" stroke-width="2.0"/>
<text x="1057.58" y="2128.60" font-size="32.85" textLength="795.57" lengthAdjust="spacingAndGlyphs" fill="#231f20" stroke="#231f20" stroke-width="0.55">USP7 bound to C-terminal activation peptide (PDB 5JTV)</text>
<text x="1506.76" y="2188.50" font-size="33.14" textLength="103.14" lengthAdjust="spacingAndGlyphs" fill="#1f7c7c" stroke="#1f7c7c" stroke-width="0.55">Thumb</text>
<text x="1228.42" y="2215.60" font-size="33.14" textLength="174.65" lengthAdjust="spacingAndGlyphs" fill="#ebc7a0" stroke="#ebc7a0" stroke-width="0.55">Ub in S1 site</text>
<text x="1783.99" y="2196.60" font-size="33.14" textLength="293.16" lengthAdjust="spacingAndGlyphs" fill="#e07b2a" stroke="#e07b2a" stroke-width="0.55">activation peptide in</text>
<text x="1783.91" y="2237.30" font-size="33.14" textLength="316.83" lengthAdjust="spacingAndGlyphs" fill="#e07b2a" stroke="#e07b2a" stroke-width="0.55">Switching loop pocket</text>
<text x="1046.13" y="2281.20" font-size="33.14" textLength="104.30" lengthAdjust="spacingAndGlyphs" fill="#2ea7ac" stroke="#2ea7ac" stroke-width="0.55">Fingers</text>
<text x="1004.06" y="2597.00" font-size="33.14" textLength="95.99" lengthAdjust="spacingAndGlyphs" fill="#e07b2a" stroke="#e07b2a" stroke-width="0.55">HUBL5</text>
<text x="1677.83" y="2641.40" font-size="33.14" textLength="123.24" lengthAdjust="spacingAndGlyphs" fill="#111" stroke="#111" stroke-width="0.55">cat. triad</text>
<text x="1676.27" y="2680.00" font-size="33.14" textLength="127.46" lengthAdjust="spacingAndGlyphs" fill="#111" stroke="#111" stroke-width="0.55">(aligned)</text>
<text x="1562.50" y="2772.20" font-size="33.14" textLength="69.30" lengthAdjust="spacingAndGlyphs" fill="#2f6fb5" stroke="#2f6fb5" stroke-width="0.55">Palm</text>
</svg></body></html>
